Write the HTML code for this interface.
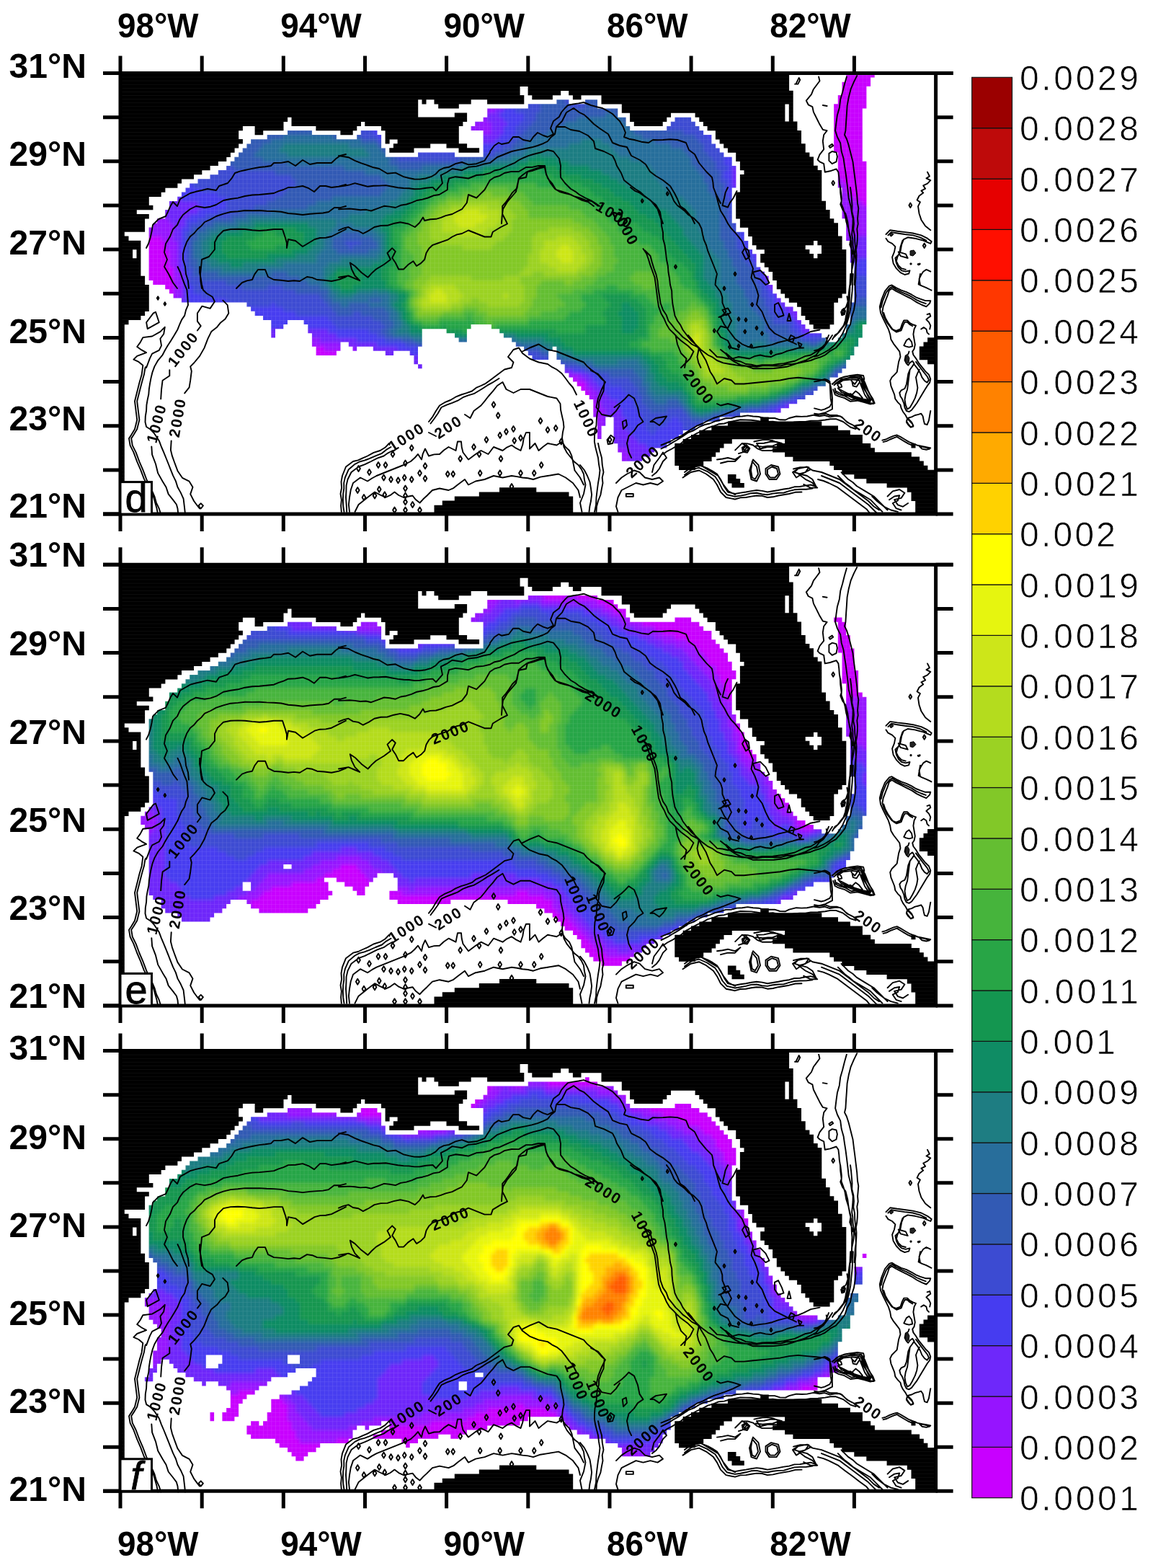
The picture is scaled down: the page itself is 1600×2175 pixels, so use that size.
<!DOCTYPE html>
<html lang="en"><head><meta charset="utf-8"><title>Figure d-f</title>
<style>
html,body{margin:0;padding:0;background:#fff}
svg{display:block}
text{font-family:"Liberation Sans",sans-serif;fill:#000}
.ax{font-weight:bold;font-size:48px}
.cb{font-size:48px;stroke:#fff;stroke-width:0.7px}
.pl{font-size:56px;stroke:#000;stroke-width:0.8px}
.cl{font-size:21px;font-weight:bold;letter-spacing:2.2px}
</style></head><body>
<svg width="1600" height="2175" viewBox="0 0 1600 2175">
<rect width="1600" height="2175" fill="#fff"/>
<defs>
<pattern id="gridpat" x="167.00" y="101.50" width="5.658" height="6.116" patternUnits="userSpaceOnUse"><path d="M0 0H6M0 0V7" stroke="#fff" stroke-width="1" stroke-opacity="0.16" fill="none"/></pattern>
<pattern id="linepat" x="0" y="101.50" width="10" height="5.097" patternUnits="userSpaceOnUse"><path d="M0 0H10" stroke="#fff" stroke-width="1" stroke-opacity="0.09" fill="none"/></pattern>
<filter id="bl" x="-5%" y="-5%" width="110%" height="110%"><feGaussianBlur stdDeviation="2.6"/></filter>
<path id="lm" d="M166.8 101.3H1095.1V120.0H166.8zM732.6 119.7H1095.1V126.1H732.6zM166.8 119.7H721.6V132.2H166.8zM789.2 125.8H1100.7V132.2H789.2zM732.6 125.8H778.2V132.2H732.6zM166.8 131.9H727.3V138.3H166.8zM794.9 131.9H806.5V138.3H794.9zM738.3 131.9H766.9V138.3H738.3zM834.5 131.9H1100.7V144.5H834.5zM585.5 138.0H591.5V144.5H585.5zM676.1 138.0H727.3V144.5H676.1zM602.5 138.0H653.7V144.5H602.5zM608.2 144.2H636.8V150.6H608.2zM862.8 144.2H1089.4V156.7H862.8zM166.8 138.0H580.2V162.8H166.8zM874.1 156.4H931.0V162.8H874.1zM630.8 156.4H648.1V162.8H630.8zM964.6 156.4H1089.4V162.8H964.6zM1094.8 144.2H1100.7V168.9H1094.8zM874.1 162.5H925.3V168.9H874.1zM166.8 162.5H399.1V168.9H166.8zM970.3 162.5H1089.4V168.9H970.3zM404.5 162.5H648.1V168.9H404.5zM879.8 168.6H919.7V175.0H879.8zM506.3 168.6H642.4V175.0H506.3zM404.5 168.6H501.0V175.0H404.5zM166.8 168.6H393.5V175.0H166.8zM975.9 168.6H1106.4V175.0H975.9zM166.8 174.7H336.9V181.2H166.8zM438.4 174.7H495.3V181.2H438.4zM529.0 174.7H636.8V181.2H529.0zM353.6 174.7H393.5V181.2H353.6zM981.6 174.7H1106.4V181.2H981.6zM353.6 180.9H365.2V187.3H353.6zM472.4 180.9H489.7V187.3H472.4zM992.9 180.9H1112.0V193.4H992.9zM166.8 180.9H331.2V193.4H166.8zM534.6 180.9H636.8V193.4H534.6zM166.8 193.1H336.9V199.5H166.8zM534.6 193.1H540.6V199.5H534.6zM551.6 193.1H636.8V199.5H551.6zM998.6 193.1H1112.0V199.5H998.6zM166.8 199.2H331.2V205.6H166.8zM619.5 199.2H648.1V205.6H619.5zM545.9 199.2H597.2V205.6H545.9zM1004.2 199.2H1117.7V205.6H1004.2zM540.3 205.3H574.5V211.7H540.3zM1009.9 205.3H1117.7V211.7H1009.9zM636.5 205.3H665.1V211.7H636.5zM166.8 205.3H325.6V211.7H166.8zM1021.2 211.4H1123.4V217.9H1021.2zM166.8 211.4H319.9V217.9H166.8zM166.8 217.6H314.3V224.0H166.8zM1021.2 217.6H1129.0V224.0H1021.2zM166.8 223.7H302.9V230.1H166.8zM1026.9 223.7H1129.0V230.1H1026.9zM1026.9 229.8H1134.7V236.2H1026.9zM166.8 229.8H291.6V236.2H166.8zM166.8 235.9H280.3V242.3H166.8zM1032.5 235.9H1140.3V242.3H1032.5zM166.8 242.0H269.0V248.4H166.8zM166.8 248.1H252.0V254.6H166.8zM166.8 254.2H246.4V260.7H166.8zM1026.9 242.0H1140.3V266.8H1026.9zM166.8 260.4H229.4V266.8H166.8zM166.8 266.5H223.7V272.9H166.8zM1021.2 266.5H1140.3V279.0H1021.2zM166.8 272.6H206.8V285.1H166.8zM1021.2 278.7H1146.0V291.2H1021.2zM166.8 284.8H212.4V291.2H166.8zM166.8 290.9H189.8V297.4H166.8zM1021.2 290.9H1151.6V303.5H1021.2zM166.8 297.1H206.8V303.5H166.8zM1026.9 303.2H1157.3V309.6H1026.9zM1026.9 309.3H1163.0V315.7H1026.9zM166.8 303.2H201.1V321.8H166.8zM1038.2 315.4H1163.0V327.9H1038.2zM166.8 321.5H172.8V327.9H166.8zM166.8 327.6H178.5V334.1H166.8zM1043.8 327.6H1168.6V334.1H1043.8zM1043.8 333.8H1129.0V340.2H1043.8zM1134.4 333.8H1168.6V340.2H1134.4zM166.8 333.8H195.4V346.3H166.8zM1049.5 339.9H1117.7V346.3H1049.5zM1140.0 339.9H1168.6V346.3H1140.0zM1060.8 346.0H1123.4V352.4H1060.8zM1140.0 346.0H1174.3V352.4H1140.0zM189.5 346.0H195.4V358.5H189.5zM166.8 346.0H184.1V358.5H166.8zM1134.4 352.1H1174.3V358.5H1134.4zM1055.2 352.1H1129.0V358.5H1055.2zM1055.2 358.2H1174.3V364.6H1055.2zM1060.8 364.3H1174.3V370.8H1060.8zM1066.5 370.5H1174.3V376.9H1066.5zM166.8 358.2H195.4V383.0H166.8zM1072.1 376.6H1174.3V389.1H1072.1zM166.8 382.7H201.1V395.2H166.8zM1077.8 388.8H1174.3V401.3H1077.8zM1083.4 401.0H1174.3V407.4H1083.4zM1089.1 407.2H1168.6V413.6H1089.1zM1094.8 413.3H1163.0V419.7H1094.8zM1106.1 419.4H1157.3V425.8H1106.1zM166.8 394.9H206.8V431.9H166.8zM1111.7 425.5H1157.3V438.0H1111.7zM166.8 431.6H201.1V438.0H166.8zM1117.4 437.7H1157.3V444.1H1117.4zM166.8 437.7H195.4V444.1H166.8zM1123.1 443.8H1157.3V450.3H1123.1zM166.8 443.8H178.5V450.3H166.8zM1128.7 450.0H1151.6V456.4H1128.7zM1287.1 468.3H1298.8V474.7H1287.1zM1281.5 474.4H1298.8V480.8H1281.5zM1275.8 480.5H1298.8V499.2H1275.8zM1287.1 498.9H1298.8V505.3H1287.1zM1055.2 578.4H1066.8V584.8H1055.2zM1009.9 584.5H1140.3V590.9H1009.9zM987.3 590.6H1163.0V597.0H987.3zM970.3 596.7H1179.9V603.2H970.3zM959.0 602.9H1196.9V609.3H959.0zM1089.1 609.0H1196.9V615.4H1089.1zM947.7 609.0H1015.8V615.4H947.7zM936.3 615.1H1004.5V621.5H936.3zM1077.8 615.1H1208.2V621.5H1077.8zM1264.5 615.1H1270.5V621.5H1264.5zM936.3 621.2H998.9V627.6H936.3zM1072.1 621.2H1213.9V627.6H1072.1zM1089.1 627.3H1264.8V633.7H1089.1zM936.3 627.3H993.2V633.7H936.3zM1100.4 633.4H1276.1V639.9H1100.4zM936.3 633.4H987.6V639.9H936.3zM936.3 639.6H976.2V646.0H936.3zM1151.3 639.6H1281.8V646.0H1151.3zM942.0 645.7H964.9V652.1H942.0zM1157.0 645.7H1287.4V652.1H1157.0zM1168.3 651.8H1298.8V658.2H1168.3zM1009.9 657.9H1021.5V664.3H1009.9zM1185.3 657.9H1298.8V664.3H1185.3zM166.8 450.0H172.8V670.4H166.8zM1202.3 664.0H1298.8V670.4H1202.3zM1009.9 664.0H1027.2V670.4H1009.9zM1015.5 670.1H1032.8V676.6H1015.5zM1230.6 670.1H1298.8V676.6H1230.6zM693.0 676.3H744.3V682.7H693.0zM1258.8 676.3H1298.8V682.7H1258.8zM664.8 682.4H789.5V688.8H664.8zM1264.5 682.4H1298.8V694.9H1264.5zM630.8 688.5H795.2V694.9H630.8zM613.8 694.6H795.2V701.0H613.8zM1270.2 694.6H1298.8V713.2H1270.2zM602.5 700.7H795.2V713.2H602.5z"/>

<g id="bc"><path d="M203.0 344.0l3 -6 2.7 -8.5 1.9 -8.7 1.4 -8.8 8 -8 10 -4 3.2 -6.7 3 -6.9 3.8 -6.4 6 6 4 -10 7 -4 7 -4 7.9 -2.2 8.1 -1.8 8 -2 12 2 4 -6 12 -4 5.5 -6.6 4.5 -7.4 6.9 -2.4 7.1 -1.6 10 -2.1 10 -1.9 8 -0.8 8 -1.2 4 -4 10.1 -0.1 9.9 -1.9 10 6 10 -8 10 6 10 -2 10 0 10 0 5.7 -5.4 6.3 -4.6 8 -2M246.0 400.0l-6 -8 -6 -12 -6 -10 4 -10 -4 -10 2 -12 6 -10 4 -10 6 -6 3.3 -7.4 4.7 -6.6 10 -8 8 -4 12 2 8.2 -1.3 7.8 -2.7 10 -6 10 -2 10.1 -1.4 9.9 -2.6 9.9 -1.5 10.1 -0.5 10 -1 10 -1 6.6 -2.8 6.9 -2.2 6.5 -3 10.1 -0.4 9.9 -1.6 8.4 3.2 7.6 4.8 8 -8 8.1 0 7.9 2 10.1 -1.3 9.9 -2.7M262.0 400.0l-1 -10.2 -3 -9.8 -1 -10.2 -3 -9.8 0 -8.1 2 -7.9 3.2 -8.4 4.8 -7.6 5.5 -4.5 4.5 -5.5 5.4 -4.6 4.6 -5.4 8.2 -3.7 7.8 -4.3 9.9 -3.4 10.1 -2.6 10 -0.8 10 -1.2 10 0.2 10 -0.2 10 0.7 10 0.3 10.1 0.8 9.9 2.2 10 0.8 10 1.2 10 -1.2 10 -0.8 8.1 -0.5 7.9 -1.5 8 -6 8.1 0.1 7.9 -2.1M280.0 400.0l-1.6 -9.9 -0.4 -10.1 1.1 -10 0.9 -10 10 -4 8 -10 0 -10 4 -8 8 -8 10 -2 10 -0.3 10 0.3 10 1.2 10 0.8 10 -0.7 10 -1.3 12 0 4 12 1.9 6.9 0.1 7.1 2 -12 10 2 10 8 10 -6 6.6 -4 7.4 -2 8.1 -0.3 7.9 -1.7 12 -6 8 -4M328.0 400.0l8 -8 6.8 -2.6 7.2 -1.4 3.2 -7.4 4.8 -6.6 10 0 4 10 8 4 10 0.8 10 1.2 8 -0.8 8 0.8 10 -6 7.3 1.1 6.7 2.9 10 0.8 10 1.2 10.3 -2.1 9.7 -3.9M470.0 216.0l13.5 2.2 9 4.6 8.9 3.6 9.1 3.1 7.7 2.8 8 1.7 11.3 6.8 11.3 -1.2 11.2 5.6 7.4 1.8 7.5 1.5 7.6 0.1 8 -1.1 7.7 -2.3 6.3 -3.7 5 -5.3 6.4 -3.2 7.1 -1.2 9 -4.6 9 -2.2 9 3.4 11.2 -1.2 11.3 -4.4 7.4 -11.3M470.0 258.8l7.6 -0.9 7.5 -1.5 7.4 -2.2 9 2.3 9 2.3 7.8 -1.1 7.9 -0.1 9.1 -0.5 8.9 1.7 7.9 1.4 7.9 0.8 7.5 0.3 7.5 1 7.5 -0.2 9 -1.4 9 -0.8 4.5 4.5 9 -10.2 -2.2 -11.2 8.1 -4 7.6 -5 13.5 2.2 9 -4.4 11.2 -1.2 9.3 -2.8 9.4 -1.9M470.0 290.2l7.5 -0.3 7.5 -0.4 7.5 0.7 7.5 1.1 7.6 -0.5 7.4 1.7 9 -3.3 9 -3.4 7.9 0.8 7.9 1.4 7.2 -3.2 7.8 -1.3 7.4 -2.3 7.3 -3.2 7.7 -1.4 7.6 -2.1 7.6 -3.2 8.1 -1.3 11.3 -6.8 0.2 -8 2 -7.7 9 -2.3 9 1 9 1.3 11.2 -4.5 9.5 -0.8 9.2 -2.1M470.0 319.5l6.6 -2.8 6.9 -1.7 6.3 3.9 7.5 1.3 6.5 3.8 8 -4.1 7.7 -4.9 8.9 -2 9.1 -0.2 8.9 -2.8 9.1 -1.8 11.3 2.3 9 4.5 6.4 -6 4.8 -7.5 2.2 4.5 7.8 -1.8 8 -0.4 6.8 -2 6.7 -2.6 9 -2.2 6.7 -3.5 6.8 -3.3 6.8 -9 2.2 -11.2 11.2 4.5 5.6 -5.7 5.7 -5.6 3.7 -6.6 3.7 -6.6M470.0 384.8l13.5 -2.3 7.9 3.3 7.8 3.4 -6.7 -6.7 -4.5 -9 -2.2 -9 6.7 4.5 9 9 9 6.8 5.4 -5.9 5.9 -5.4 11.2 -6.7 9 -6.8 -4.5 -9 6.7 -6.8 4.6 4.6 -4.6 9 4.6 6.7 4.4 9 6.8 0 6.2 -6.2 7.3 -5.1 4.5 6.8 6.1 -3.9 5.1 -5.1 2.3 -9 3.7 -6.3 5.3 -4.9 6.8 -2.3 6.7 -2.3 7.1 -2.5 6.4 -4.2 6.5 -3.1 7 -1.4 9 -4.5 11.2 4.5 11.3 4.5 9 0 2.3 -6.7 11.2 -6.8 9 -4.5 -3.3 -6.8 -3.5 -6.7 0 -11.2 4.8 -5.5 4.2 -5.8 4.9 -7.4 6.4 -6.1 2.3 -13.5 5.4 -4.7 5.8 -4.3 8.4 -1.8 8.1 -2.8 8.3 -2.1 1.7 8 2.7 7.7 6.3 7.4 5 8.3 8.4 2.5 8.4 2.7 7.9 3.8 8.3 2.3 8 3.1 8.5 1.4 9 6.8M810.0 142.0l10 4 8 2.2 8 1.8 7.1 3.9 6.9 4.1 4.9 5.1 5.1 4.9 4.6 7.7 3.4 8.3 -2 6 6.8 2.7 7.2 1.3 9.9 2.7 10.1 1.3 6 -4 7 0.3 7 -0.3 10 -0.7 10 0.7 12 4 4 10 8 6 6 12 5 6 5 6 8 8 1.4 6.9 0.6 7.1 4 10 6 12M810.0 142.0l-7.3 1.4 -7.4 1.1 -7.3 1.5 -4 4 -4.8 5.5 -3.2 6.5 -8 6 -4 10 4 8 -8 4 -6 -2 -8 -4 -6 6 -4 6 -10 -2 -6 -4 -8 0 -6 8 -10 2 -4 -2 -6 4 -6 8M680.0 226.0l10 -8 10 -4 10 -4 10 -2.1 10 -1.9 8.1 -1.7 7.9 -2.3 7.1 -2.7 6.9 -3.3 4.4 -5.6 5.6 -4.4 2 -10 8 -8 6 -12 10 -6 8 6 6.6 3.1 5.4 4.9 8 8 8 6 6 4 6 4 6 12 10 4 10 2 6 12 12 6 8 6 6 10 8 6 10 6 10 8 6 10 4 8 4 10 6 4 5.2 5.8 4.8 6.2 4 8M772.0 176.0l12 0 8 4 12 2 12 6 8 8 2 10 12 4 12 6 3.5 6.8 2.5 7.2 6 10 4 10 10 8 5.8 4.3 6.2 3.7 5.7 5.3 6.3 4.7 10 8 6 10 1.3 8.2 2.7 7.8M680.0 240.0l6.3 -3.5 7.2 -1.4 6.5 -3.1 6.8 -3 7 -2.8 6.2 -4.2 6.5 -3.1 6.6 -2.7 6.9 -2.2 10.1 -2.5 9.9 -3.5 8 2 8 10 2 10 -0.3 8 0.3 8 6 8 8 8 6.2 3.6 5.8 4.4 7.8 4.4 8.2 3.6 6.1 3.8 5.9 4.2M680.0 250.0l6 -4 7.4 -2.1 6.6 -3.9 9.9 -2.1 10.1 0.1 10 -6 8.7 -0.1 8.6 -2 8.7 0.1 2 12 6 12 6 8 6.6 4 7.4 2 8.4 2 7.6 4 7.7 3.8 8.3 2.2 8 6M696.0 310.0l0.7 -10 1.3 -10 6 -10 6 -7 6 -7 1.8 -9 2.2 -9 10 -2 2 -8 8 -2.8 7.9 -2.7 8.1 -2.5M219.2 713.5l-1.6 -8 -2.4 -8.5 -2.4 -8.4 -2.7 -6.8 -3.8 -6.1 -6.4 -11.3 -4.8 -12.8 -4.9 -11.3 -4.8 -12.9 -4.8 -9.6 -1.6 -9.7 3.2 -4.8 4.8 -8 3.2 -12.9 -1.6 -12.9 -1.6 -12.9 3.2 -12.8 3.2 -12.9 3.3 -11.3 1.6 -12.8 -5.9 -4.9 -7 -3.2 4.8 -4.8 12.9 -4.8 -6.7 -3.7 -6.2 -4.4 4.5 -6.1 3.6 -6.8 12.8 -1.6 11.3 -6.4 6.4 -6.4 -1.6 9.6 -4.8 6.5 1.6 9.6 -3.2 6.4 -9.7 4.9 -3.2 6.4 -4.8 12.9M223.2 713.5l-2.4 -8 -3.9 -8.2 -2.5 -8.7 -2.9 -6.6 -3.6 -6.3 -4.8 -11.3 -4.8 -12.8 -4.9 -11.3 -4.8 -12.9 -4.8 -9.6 -1.6 -9.7 3.2 -4.8 4.8 -8 3.2 -12.9 -1.6 -12.9 -1.6 -12.9 3.2 -12.8 3.3 -12.9 3.2 -11.3 1.6 -9.6 1.6 -1.6M257.0 713.5l-0.8 -8 -1.6 -13.7 -3.7 -8.2 -4.4 -7.9 -2.6 -8.3 -3.8 -7.8 -3.2 -8 -3.2 -8.1 -3.2 -8 -3.3 -8.1 -3.4 -7.9 -3 -8.1 -6.4 -9.7 -5 -5.7 -6.3 -4 -1.6 -6.4 0.3 -8.1 1.3 -8 0.3 -7.6 1.3 -7.5 1.6 -7.4 0.6 -7.6 1.2 -7.5 1.4 -7.4 2 -8.2 2.9 -7.9 4.9 -8.6 6.3 -7.5 3.4 -6.6 3.8 -6.5 4.1 -6.2 4.9 -8 4.7 -8.1 2.7 -6.7 2.9 -6.6 4.1 -6 1.8 -7.5 3 -7 -0.7 -10.5 -0.9 -10.4 -3.4 -8 -3 -8.1 -2.8 -8.2 -3.7 -7.9M277.1 370.0l-0.1 8.1 1.7 8 1.2 8.1 2 8 4.9 4.8 8 4.8 3.2 6.5 -6.4 9.6 -11.3 -3.2 -6.4 9.7 0 11.2 4.8 6.5 -4.8 6.4M235.3 513.2l0 8 -9.7 6.5 -1.6 12.9 -0.8 12.8M210.3 619.4l0.8 11.3 4.9 12.8 3.2 12.9 6.4 11.3 4.9 8 3.2 9.7 6.4 8 4.8 6.4 1.6 5.7 0.8 8M309.3 416.7l6.4 6.4 1.6 11.3 -4.8 8 -6.3 5 -5 6.3 -8 6.4 -4.8 9.7 -4.9 12.8 -6.4 11.3 -8 9.6 -4.9 4.9 1.6 6.4 -1.6 12.9 -1.6 9.6 -6.4 8.1M237.7 611.4l-0.8 12.8 2 8.2 2.8 7.9 4.8 12.9 6.5 9.6 9.6 4.9 4.9 8 -3.3 9.7 4.9 9.6 4.8 6.5 3.2 4M473.8 710.0l-0.7 -8.3 0.8 -8.4 -1.4 -8.3 1.6 -8.3 -0.6 -8.4 1.5 -8.3 5 -12.5 10 -7.5 7 -1.7 6.4 -3 6.6 -2.8 8.4 -4.7 9.1 -2.8 6.9 -4.2 5.6 -5.8M595.0 585.0l5.5 -7.2 4.5 -7.8 5 -7.5 7.2 -4.3 7.8 -3.2 7.2 -4.3 7.8 -3.2 7.6 -2.3 7.4 -2.7 5.7 -4.6 6.8 -2.9 6.6 -3.2 5.9 -4.3 10 -7.5 10 -7.5 10 -2.5 2.5 -7.5 -7.5 -7.5 7.5 -10 7.5 -2.5 5 7.5 10 7.5 12.5 5 12.5 2.5 6 4.2 6.5 3.3 7 5.5 5.5 7 4.7 6.5 5.3 6 5 10M830.0 615.0l2.2 10.1 2.8 9.9 0.8 10.1 1.7 9.9 -1.8 7.4 0.8 7.7 -1.5 7.4 -1.6 9 -3.4 8.5 -2 7.4 -0.5 7.6M477.5 710.0l-1.3 -8.3 -0.3 -8.3 0.3 -8.4 1.1 -7.5 -0.1 -7.6 1.6 -7.4 5 -11.3 8.7 -7.4 6.4 -3.3 6.9 -1.8 6.7 -2.5 8.7 -3.9 8.8 -3.5 5.9 -4.9 6.6 -3.9M597.5 587.5l5.1 -6.8 4.9 -6.9 5 -8.8 7.4 -3.4 7.6 -2.8 7.8 -3.1 7.2 -4.5 7.4 -2.9 7.6 -2.1 6.3 -3.7 6.2 -3.7 6.1 -4.1 6.4 -3.5 10 -6.2M481.2 710.0l-0.5 -10 -0.7 -10 0.4 -8.4 0.2 -8.4 1.9 -8.2 5 -10 10 -7.5 8.9 -3.4 8.6 -4.1 8.5 -4.3 9 -3.2 6 -4.2 6.5 -3.3M485.0 710.0l-1.1 -10 1.1 -10 1.7 -10.2 3.3 -9.8 10 -7.5 10 5 6.1 -4 6.4 -3.5 12.5 -5 12.5 -5 12.5 -5 10 -5 5.3 -4.7 4.7 -5.3 5 7.5 1.7 -7.8 3.3 -7.2 5 10 7.4 -2.1 7.6 -0.4 5.9 -5.5 6.6 -4.5 10 5 2.5 -12.5 5 0 0.7 7.6 1.8 7.4 7.5 10 10 -7.5 7.5 -5 10 5 7.5 -10 12.5 5 5.9 -4.4 6.6 -3.1 6 4.2 6.5 3.3 2.8 -8.2 1.4 -8.7 3.3 -8.1 5 0 -0.1 7.5 0.2 7.5 -0.1 7.5 7.5 -7.5 5 10 6.1 -5.2 6.4 -4.8 12.5 2.5 7.5 -5 4.1 6.9 5.9 5.6 3.3 7.2 1.7 7.8 2.5 12.5 7.5 10 5 10M595.0 600.0l10 5M645.0 575.0l7.5 5 5 -10 10 -7.5 5.1 -6.2 4.9 -6.3 6.5 -7.3 6 -7.7 7.5 -5 5 10 10 5 10 -5 12.5 0 12.5 5 12.5 5 12.5 2.5 5 7.5 0.6 8.8 1.9 8.7 1.7 7.4 0.8 7.6 -1.6 7.4 -0.9 7.6 2.5 12.5 4.3 8 5.7 7 4.4 5.6 5.6 4.4 4.3 5.9 3.2 6.6 0.9 7.6 1.6 7.4 -2.5 12.5 -5 12.5 2.5 12.5M492.5 710.0l5 -10 6.3 -5 6.2 -5 10 -7.5 7.4 3.9 7.6 3.6 6.6 -3.1 5.9 -4.4 5.8 4.5 6.7 3 12.5 -2.5 4.4 5.6 5.6 4.4 4.8 -5.2 5.2 -4.8 7.5 -7.5 10 -2.5 12.5 2.5 6.8 -2.9 5.7 -4.6 10 -7.5 5 7.5 10 -5 12.5 -2.5 12.5 -5 12.5 2.5 12.5 -2.5 7.5 1.1 7.5 1.4 7.6 0.8 7.4 1.7 9.8 -3.4 10.2 -1.6 7.5 -1.2 7.5 -1.3 10 5 10 7.5 7.5 10 2.5 10M725.0 487.5l10 -5 12.5 -5 6.2 3.8 6.3 3.7 12.5 2.5 12.5 5 12.5 5 12.5 5 4.6 5.4 5.4 4.6 10 7.5 4.6 5.4 5.4 4.6 -5 10 -5 12.5 -2.5 12.5 7.5 10 12.5 2.5 7.5 -7.5 5 -7.5M817.5 710.0l0.9 -7.6 1.6 -7.4 1.1 -8.8 -1.1 -8.7 -1.5 -9 -3.5 -8.5 -4.2 -8 -5.8 -7M820.0 513.8l10 5 8.8 10 -1.3 13.7 -3.5 7.3 -2.8 7.7 -0.3 7.6 -2.1 7.4 -0.9 8.7 -0.4 8.8 -2 7.4 -0.5 7.6 -0.1 7.6 1.3 7.4 1.9 7.5 1.9 7.5 1 8.8 1.5 8.7 -1 8.8 -1.5 8.7 -1.3 10 -1.2 10 -0.4 10.1 -2.1 9.9M852.5 565.0l10 -7.5 5.2 -4.8 4.8 -5.2 7.5 5 5 12.5 2.5 12.5 5 7.5 -7.5 5 -5 7.5 -7.5 7.5 -2.5 10 2.5 12.5 3.7 7.5M917.5 617.5l12.5 -5 7.2 -4.3 7.8 -3.2 7.4 -5.2 7.6 -4.8 7.2 -4.4 7.8 -3.1 7.4 -4 7.6 -3.5 7.5 -2.4 7.5 -2.6 12.5 -5 10 -5 -7.5 -2.5 -10 -2.5 -10 2.5 -5 -2.5M937.5 465.0l2.5 12.5 5 12.5 7.5 7.5 -2.5 12.5M955.0 465.0l5.2 6.1 4.8 6.4 5.5 7.2 4.5 7.8 4.4 7.2 3.1 7.8 2.9 7.9 4.6 7.1 5 10 10 -7.5 10 2.5 5 5 12.5 0 12.5 -1.3 12.5 -1.2 12.5 -1.2 12.5 -1.3 12.5 -2.5 12.5 -1.2 12.5 1.2 12.5 1.2 12.5 1.3 7.5 5M1007.5 490.0l6.1 5.2 6.4 4.8 7.8 1.5 7.2 3.5 7.6 0.8 7.4 1.7 7.4 -1.2 7.6 -0.1 7.5 -0.1 7.5 -1.1 7.6 -0.9 7.4 -1.6 7.8 -1.7 7.2 -3.3 7.2 -3.4 7.8 -1.6 6.2 -3.9 6.3 -3.6 7.5 -7.5 5 -12.5M1000.0 485.0l7 5.5 5.5 7 7.3 4.7 7.7 4 9 1.8 8.5 3.2 10 0 10 0 8.8 -0.2 8.7 -1 8.9 -1.2 8.6 -2.6 8.7 -3.2 8.8 -3 7.5 -3.8 7.5 -3.7 4.3 -5.7 5.7 -4.3 7.5 -10 5 -7.5M917.5 622.5l10 -5 6.1 -3.9 6.4 -3.6 7.6 -4.9 7.4 -5.1 7.9 -3 7.1 -4.5 7.3 -3.2 7.7 -1.8 7.3 -3.1 7.7 -1.9 7.3 -2.3 7.7 -0.2 7.4 -2.1 7.6 -0.4 7.5 -1.1 7.5 1.1 7.6 0.5 7.4 2 7.5 0 7.5 0 7.3 2.3 7.7 0.2 5 -2.5 10 -2.5 7.5 0.4 7.5 -0.4 7.5 -1.5 7.5 -1 10 -2.5 10 -5 -0.2 -7.5 0.2 -7.5 -0.8 -8.8 -1.7 -8.7M920.0 630.0l6 -4.2 6.5 -3.3 6.2 -3.8 6.3 -3.7 7 -5.8 8 -4.2 7.3 -4.1 7.7 -3.4 7.1 -4 7.9 -2.3 7.2 -2.9 7.8 -0.8 7.4 -2.3 7.6 -1.4 7.4 -1.5 7.6 0.2 7.5 0.2 7.5 1.1 7.5 1.1 7.5 0.1 7.6 -0.4 7.4 1.6 7.5 0.9 7.5 0.4 7.4 -2 7.6 -0.5 7.6 0 7.4 -1.2 10 -0.2 10 -1.1 7.4 -1.3 7.6 0 10 3.8 10 7.5 7.5 2.5M905.0 660.0l5.6 -4.4 4.4 -5.6 5 -10 5 -5 -5 -7.5 -5 7.5 -7.5 10 -2.5 10M950.0 655.0l10 -7.5 10 -2.5 12.5 5 6.4 3.5 6.1 4 5 7.5 5 10 5 7.5 10 2.5 7.5 -1.4 7.5 -1.1 7.5 -1.4 7.5 -1.1 7.6 0.9 7.4 1.6 7.5 -1.2 7.5 -1.3 7.5 -1.5 7.5 -1 7.3 -2.2 7.7 -0.3 7.5 -1.4 7.5 -1.1 7.5 2.5 -5 -10 -7.5 -5 -10 -2.5 -7.5 -2.5 5 -5 12.5 -2.5 7.5 5 12.5 2.5 12.5 5 12.5 5 10 7.5 10 7.5 10 7.5 10 7.5 7.5 7.5 7.5 5M950.0 658.8l10 -7.6 10 -2.4 11.2 5 11.3 7.4 5 7.6 5 10 6.3 7.4 11.2 2.6 7.5 -1.2 7.5 -1.4 7.4 -2 7.6 -0.4 7.4 1.7 7.6 0.7 7.4 -1.6 7.6 -0.8 7.7 -0.3 7.3 -2.3 7.4 -1.9 7.6 -0.5 8.8 -0.1 8.7 -1.2M947.5 662.5l11.3 -7.5 11.2 -2.5 10 5 10 7.5 5 7.5 5 10 7.5 7.5 12.5 2.5 7.3 -2.2 7.7 -0.3 7.5 -1.4 7.5 -1.1 7.6 0.4 7.4 2.1 7.6 -0.7 7.4 -1.8 7.5 -1.2 7.5 -1.3 8.6 -2.2 8.9 -0.3M1140.0 660.0l12.5 5 12.5 5 10 7.5 10 7.5 10 7.5 10 7.5 7.5 7.5 5 5M1135.0 665.0l7.7 2 7.3 3 12.5 6.2 10 7.6 10 7.4 10 7.6 10 7.4 5 6.3M855.0 670.0l7.5 -7.5 7.5 -5 10 -5 7.5 2.5 7.5 7.5 10 2.5 10 -2.5 5 5 -7.5 5 -10 -2.5 -10 2.5 -10 -2.5 -10 5 -10 5 -5 10 -2.5 12.5 2.5 7.5M995.0 637.5l7.5 -1 7.5 -1.5 10 2.5 7.5 -5 -7.5 7.5 -10 0 -10 2.5M1050.0 615.0l10.1 -0.3 9.9 -2.2 7.6 0.5 7.4 2 -5 5 -7.5 -0.1 -7.5 0.1 -10 2.5 -5 -7.5M1030.0 615.0l7.6 0.4 7.4 2.1 5.7 4.6 6.8 2.9 12.5 0 12.5 -2.5M875.0 260.0l5.7 4.6 6.8 2.9 7.4 5.1 7.6 4.9 5 6.2 5 6.3 2.5 7.5 2.5 7.5 0.7 8.8 1.8 8.7 0.2 8.9 2.3 8.6 1.4 10 1.1 10 1.8 8.7 0.7 8.8 1.5 8.7 1 8.8 2.2 8.6 0.3 8.9 0.9 8.8 1.6 8.7 1.5 7.8 3.5 7.2 4.3 5.9 3.2 6.6 7.5 10 4.6 5.4 5.4 4.6 7.5 7.5 10 7.5 6.6 3.2 5.9 4.3 8.5 3.4 9 1.6 8.7 1.4 8.8 1.1 10 0.4 10 0.9 8.3 -1.5 8.3 -0.1 8.4 0.3 8.4 0 8.2 -2.4 8.4 -0.1 8.4 -1.4 8.3 -1.8 8.3 -1.8 6.6 -2.6 6.9 -2 6.5 -2.9 7 -5.7 8 -4.3 6.5 -7.3 6 -7.7 2.9 -9.1 4.6 -8.4 1.9 -10.2 3.1 -9.8 1.6 -10 0.9 -10 -0.7 -8.3 -0.1 -8.4 0.8 -8.3 0 -8.3 0.3 -8.4 -0.3 -8.3 -1.5 -8.3 1.1 -8.4 -0.9 -8.3 -0.2 -8.3 -1.7 -8.3 0.7 -8.4 -0.7 -8.3 -2.1 -8.3 0.3 -8.4 -0.7 -8.3 -0.7 -8.4 -1.1 -8.3M892.5 345.0l4.7 7 2.8 8 2.3 7.6 2.7 7.4 3.5 9.7 1.5 10.3 1.2 10 1.3 10 1.5 10.3 3.5 9.7 4.2 7.3 3.3 7.7 4.2 6.9 5.8 5.6 4.8 5.2 5.2 4.8 10 7.5 7.5 7.5 -5 10 -7.5 7.5 -5 5M895.0 347.5l7.5 7.5 2.3 8.8 2.7 8.7 3.1 8.6 1.9 8.9 0.9 10 1.6 10 1.5 10.2 3.5 9.8 4.7 7 2.8 8 5.1 6.2 4.9 6.3 5.2 4.8 4.8 5.2 6.5 4.6 6 5.4 10 5 -2.5 12.5 1.7 7.8 3.3 7.2M925.0 260.0l4.3 5.9 3.2 6.6 2.9 6.7 4.6 5.8 10 7.5 5.6 5.8 6.9 4.2 7.5 7.5 3.5 7.2 1.5 7.8 1.8 7.7 3.2 7.3 2.1 7.6 2.9 7.4 5 12.5 5 12.5 -1.6 7.4 -0.9 7.6 7.5 10 2.3 7.3 0.2 7.7 5 12.5 -7.5 7.5 5 10 7.5 10 7.5 10 10 7.5 7.3 3.2 7.7 1.8 8.7 -1.5 8.8 -1 8.9 -1.9 8.6 -3.1 10 -2.4 10 -2.6 7.7 -2 7.3 -3 10 -5 12.5 -2.5M990.0 260.0l2.9 7.4 2.1 7.6 2.3 8.8 2.7 8.7 5.4 8.5 4.6 9 4.5 6.7 5.5 5.8 5.1 6.2 4.9 6.3 5 12.5 5 12.5 5 12.5 -2.5 12.5 5 10 2.8 7.4 2.2 7.6 -2.5 12.5 7.5 10 5 12.5 5 10 7.5 7.5 10 5 10 5 10 5M1157.5 467.5l7.5 -7.5 7.5 -10 1.2 -7.5 1.3 -7.5 1 -8.3 1.3 -8.3 0.2 -8.4 0.9 -8.4 1.2 -8.3 1.6 -8.3 0.9 -8.3 0 -8.4 0.4 -8.3 -0.7 -8.3 -0.3 -8.4 -0.3 -8.3 -2.2 -8.7 -1.5 -8.8 -3.2 -9.8 -1.8 -10.2 -2.2 -7.6 -2.8 -7.4 0.4 -7.5 -0.8 -7.5 -0.9 -7.5M1010.0 260.0l-3.4 7.2 -1.6 7.8 -2.5 10 7.5 2.5 3.1 -6.6 4.4 -5.9 5 -10M985.0 485.0l5.1 4.9 4.9 5.1 7.6 0.8 7.4 1.7 7.6 -0.4 7.4 -2.1 7.5 1.2 7.5 1.3 7.2 -3.4 7.8 -1.6 7.4 1.8 7.6 0.7 7.2 -3.4 7.8 -1.6 7.3 -3.1 7.7 -1.9 7.3 -2.2 7.7 -0.3M997.5 440.0l12.5 -5 5 10 -5 10 -10 -2.5 -5 7.5 5 7.5 10 5 5 10 10 2.5M1136.1 106.5l1.4 5.7 -4.3 5.8 -4.3 5.7 -2.9 7.2 -7.2 8.7 2.9 5.7 5.7 2.9 1.5 7.2 4.3 8.6 4.3 8.6 4.3 7.2 5.8 1.4 -4.4 5.8 -1.4 8.6 1.4 11.5 -5.7 7.2 -2.9 7.2 2.9 2.9 5.7 2.8 1.5 11.5 7.2 -1.4 8.6 -2.9 2.9 4.3 0.9 7.2 0.5 7.2 1.2 7.2 0.2 7.2 1.5 11.5 -1.5 4.3 2.9 7.2 4.3 5.7 2.9 11.5 1.4 11.5 2.9 11.5 -1.4 8.7 2.9 7.1 1.4 5.8M1174.9 106.5l-2.9 10.1 -2.9 11.5 -2.9 10 -1.4 11.5 -2.9 10.1 -1.4 10 -1.4 11.5 2.8 8.7 4.3 8.6 1.5 11.5 2.9 10.1 1.4 10 1.4 8.6 1.5 11.5 1.4 11.5 1.4 13 2.9 11.5 1.5 10 1.6 7.1 -0.2 7.3 -0.6 7.2 -0.8 7.2 1.2 7.1 0.2 7.3 0.8 7.1 0.6 7.2 -0.2 7.3 -1.2 7.1 -1.5 7.1 0.1 7.3 -1.5 12.5M1189.2 105.1l-4.3 8.6 -4.3 10 -2.9 11.5 -2.1 11.5 -0.7 11.5 -0.8 11.5 -0.7 11.5 -1.4 5.8 2.9 5.7 2.8 8.7 2.9 11.5 2.9 11.5 1.4 11.5 1.5 11.5 1.4 11.5 1.4 11.5 0.8 11.5 1.3 7.1 -0.6 7.2 -0.6 7.2 0.6 7.2 -1.4 7.1 0.7 7.3 -0.2 7.2 -0.6 7.2 -1.3 7.1 0.6 7.2 -0.2 7.2 -0.5 7.2 -1 7.2 -0.4 7.2 -0.8 12.5M1287.0 238.7l2.9 5.8 -4.4 2.9 5.8 2.8 -4.3 4.4 -5.8 2.8 2.9 4.3 -5.7 2.9 2.8 2.9 -5.7 4.3 -2.9 5.7 4.3 2.9 -2.9 5.8 1.5 10 2.9 8.7 5.7 8.6 7.2 5.7M1232.4 326.4l4.3 -4.3 8.6 1.4 10.1 1.5 11.5 1.4 10 2.9 8.6 4.3M1252.5 333.6l-2.9 8.6 -1.4 8.7 -2.9 5.7 -1.4 5.8 2.8 5.7 4.4 4.3 5.7 1.5M1291.3 376.7l-5.8 -2.8 -4.3 2.8 -2.8 4.3 -2.9 5.8 1.4 8.2M1141.8 146.0l5.8 1M1130.0 529.4l7.2 -1.2 7.1 -2.4 3.6 1.2 3.6 2.4 0.6 11.9 0.6 12 1.2 6 -2.4 4.8 -7.2 3.5 -4.7 1.2 -9.6 -2.4M1130.0 576.0l7.2 1.2 7.1 -1.2 7.2 2.4 7.2 -1.2 7.2 0 4.7 3.6 4.8 4.8 4.8 2.4 4.8 2.4 3.6 3.5M1224.4 610.7l4.8 -1.2 4.8 -2.4 6 -2.4 4.7 -1.2 4.8 2.4 6 3.6 6 3.6 5.9 2.3 6 2.4 6 1.2 6 1.2 5.9 1.2M1130.0 573.6l7.2 1.2 8.3 -1.2 6 2.4 9.6 0 7.1 2.4 4.8 4.8 4.8 3.6 4.8 2.4M1225.6 613.1l4.8 -1.2 4.8 -2.4 6 -2.4 3.5 -1.2 3.6 2.4 6 3.6 6 3.5 5.9 2.4M1220.8 425.4l1.2 8.4 3.6 8.3 3.6 7.2 3.6 7.2 2.4 7.2 1.2 7.1 3.6 6 4.7 6 3.6 4.8 1.2 7.1 -2.4 7.2 -1.2 7.2 -1.2 7.1 -3.5 3.6 -3.6 3.6 -2.4 4.8 1.2 7.2 2.4 5.9 2.4 6 1.1 6 3.6 4.8 3.6 3.6 1.2 4.7 2.4 4.8 3.6 4.8 2.4 4.8 -1.2 4.8 2.4 3.6 3.6 3.5 3.5 -2.3 -2.3 -4.8 -3.6 -3.6 -1.2 -2.4 4.8 -1.2 4.7 -2.4 4.8 -1.2 3.6 -1.2 2.4 3.6 1.2 6 1.2 4.8 3.6 1.2 2.4 -6 1.2 -7.2 1.1 -6M1220.8 425.4l2.4 -9.5 4.8 -12 6 -7.2 3.6 -1.2 5.9 3.6 7.2 3.6 7.2 2.4 7.2 3.6 5.9 3.6 6 2.4 7.2 2.4 7.1 0 -1.1 3.5 -4.8 4.8 -6 -2.4 -7.2 -3.6 -7.1 -4.7 -7.2 -3.6 -7.2 -3.6 -7.2 -3.6 -5.9 -3.6 -3.6 2.4 -2.4 7.2 -2.4 6 -3.6 9.5 -1.2 7.2 2.4 7.2 3.6 7.1 3.6 4.8 3.6 4.8 5.9 2.4 6 -2.4 2.4 -7.2 2.4 -4.8 4.8 0 3.6 3.6 4.7 2.4 3.6 1.2 -2.4 4.8 -1.2 7.2 1.2 7.1 1.2 7.2 -1.2 6 -2.4 3.6 1.2 4.7 3.6 4.8 3.6 6 4.8 6 4.8 6 4.8 4.7 2.3 6 -1.1 4.8 -3.6 4.8 -3.6 5.9 -3.6 6 -3.6 6 -3.6 6 -3.6 4.8 -3.5 4.7 -3.6 2.4 -3.6 -1.2 -2.4 -4.7 -1.2 -6 -2.4 -6 -2.4 -3.6 -1.2 -4.8 2.4 -3.6 4.8 -2.3 2.4 -6 1.2 -7.2 1.2 -7.2 2.4 -5.9 3.5 -4.8 2.4 -3.6 -2.4 -3.6 -3.5 2.4 -2.4 3.6 -2.4 -2.4 -2.4 -4.8 1.2 -6 3.6 -2.3 1.2 -3.6M1222.6 426.6l2.4 -9.5 4.8 -11.4 5.4 -6.6 3 -1.2 5.3 3.6 7.2 3.6 7.2 3 7.2 3.6 6.5 4.2 6.6 2.9 6.6 2.4M1226.2 433.8l2.4 7.2 3.6 6.5 3.6 5.4 3.6 4.8 4.7 3 6.6 -2.4 2.4 -6.6 2.4 -4.8 3.6 0 3 3 4.1 2.4M1262.7 512.7l-1.2 8.3 -1.2 9.6 -1.2 9.6 -2.4 7.1 -1.2 7.2 1.2 7.2 2.4 5.9 3.6 -2.3 3.5 -6 3.6 -7.2 2.4 -7.2 1.2 -7.1 -1.2 -7.2 -1.2 -7.2 2.4 -6 2.4 -4.7M1277.0 380.0l-1.2 7.2 -1.2 7.1 4.8 2.4 6 2.4 4.8 2.4 2.3 1.2M1286.6 436.2l3.6 -1.2 1.1 3.6 -3.5 2.4 -2.4 2.3 3.6 3.6 2.3 4.8 -1.1 4.8M1278.2 456.5l3.6 -2.4 3.6 2.4 1.2 4.8 2.4 2.4M1175.4 411.1l1.2 7.1 -2.4 7.2 -3.6 4.8 -3.5 2.4 1.1 4.8 3.6 -1.2 1.2 -4.8M1174.2 437.4l-1.2 7.1 -2.4 7.2 -4.7 6 -3.6 4.8 -3.6 2.4 -3.6 5.9M1183.8 380.0l-0.6 12 -0.6 11.9 -1.2 12 -1.2 11.9 -2.4 12 -3.6 11.9 -4.8 10.8 -5.9 9.5 -6 7.2 -7.2 6 -8.3 4.8 -7.2 3.5 -4.8 1.2M1180.2 380.0l-0.6 12 -0.4 11.9 -0.4 12 -1 11.9 -1.8 12 -3 9.5M1146.7 468.4l1.2 4.8 -2.4 4.8 -4.7 3.6 -6 3.6 -4.8 1.2M1181.4 528.2l4.8 4.8 4.8 -7.2 2.3 3.6 -4.7 7.2 -4.8 -1.2 -1.2 -4.8M1182.6 547.3l4.8 -4.8 4.7 3.6 4.8 6M1171.8 547.3l8.4 -1.2 3.6 2.4M1231.6 688.5l7.2 -7.1 9.4 -2.4 7.2 4.8 -4.8 7.1 -9.5 2.3 4.8 7.2 7.1 2.4 7.1 -4.8M1234.0 693.2l7.1 -4.7 7.1 -1.2 -2.3 7.1 -7.1 3.6 4.7 7.1 7.1 2.4M1210.2 688.5l7.2 7.1 9.5 7.2 9.5 4.7 9.5 2.4M1167.5 655.2l9.5 9.6 6.4 4.2 5.5 5.2 11.9 7.2 11.8 7.1 9.5 9.5 9.5 9.5M1162.8 660.0l9.4 9.5 6.2 4.5 5.7 5 11.9 7.1 11.9 7.1 9.5 9.6 7.1 7.1M1101.0 650.5l9.5 -2.4 11.9 0 -4.8 7.1 -9.5 2.4 9.5 7.2 9.5 4.7 7.1 7.1 -9.4 0 -9.6 -4.7M960.9 648.1l11.9 -2.3 11.8 7.1 11.9 7.1 7.1 11.9 7.2 9.5 9.4 4.7M1020.2 624.4l9.6 -9.5 7.1 4.7 -4.8 7.2 -7.1 2.3M1046.4 612.5l11.8 -2.4 7.2 -0.2 7.1 1.4 9.5 3.6 -9.5 3.5 -7.1 0.4 -7.2 0.8 -9.4 -1.2M203.1 447.2l9.7 -12.8 3.2 -1.6 4.8 14.4 -16.1 8.9zM275.5 701.5l3.2 -3.3 3.2 3.3 -3.2 4zM217.8 413.4l1.4 -2.2 1.3 2.2 -1.3 2.3zM227.5 421.5l1.3 -2.3 1.4 2.3 -1.4 2.2zM682.6 561.2l2.4 -4 2.4 4 -2.4 4zM688.9 576.2l2.3 -4 2.4 4 -2.4 4zM747.6 583.8l2.4 -4 2.4 4 -2.4 4zM757.6 596.2l2.4 -4 2.4 4 -2.4 4zM768.9 593.8l2.3 -4 2.4 4 -2.4 4zM710.1 595.0l2.4 -4 2.4 4 -2.4 4zM700.1 598.8l2.4 -4 2.4 4 -2.4 4zM691.4 603.8l2.4 -4 2.3 4 -2.3 4zM672.6 610.0l2.4 -4 2.4 4 -2.4 4zM655.1 620.0l2.4 -4 2.4 4 -2.4 4zM720.1 607.5l2.4 -4 2.4 4 -2.4 4zM711.4 611.2l2.4 -4 2.3 4 -2.3 4zM776.4 612.5l2.4 -4 2.3 4 -2.3 4zM662.6 630.0l2.4 -4 2.4 4 -2.4 4zM636.4 636.2l2.4 -4 2.3 4 -2.3 4zM692.6 636.2l2.4 -4 2.4 4 -2.4 4zM748.9 645.0l2.3 -4 2.4 4 -2.4 4zM720.1 656.2l2.4 -4 2.4 4 -2.4 4zM738.9 656.2l2.3 -4 2.4 4 -2.4 4zM691.4 656.2l2.4 -4 2.3 4 -2.3 4zM663.9 656.2l2.3 -4 2.4 4 -2.4 4zM618.9 657.5l2.3 -4 2.4 4 -2.4 4zM626.4 657.5l2.4 -4 2.3 4 -2.3 4zM587.6 646.2l2.4 -4 2.4 4 -2.4 4zM580.1 656.2l2.4 -4 2.4 4 -2.4 4zM587.6 663.8l2.4 -4 2.4 4 -2.4 4zM560.1 642.5l2.4 -4 2.4 4 -2.4 4zM542.6 630.0l2.4 -4 2.4 4 -2.4 4zM568.9 621.2l2.3 -4 2.4 4 -2.4 4zM522.6 645.0l2.4 -4 2.4 4 -2.4 4zM532.6 645.0l2.4 -4 2.4 4 -2.4 4zM510.1 655.0l2.4 -4 2.4 4 -2.4 4zM495.1 650.0l2.4 -4 2.4 4 -2.4 4zM530.1 662.5l2.4 -4 2.4 4 -2.4 4zM540.1 665.0l2.4 -4 2.4 4 -2.4 4zM550.1 666.2l2.4 -4 2.4 4 -2.4 4zM558.9 662.5l2.3 -4 2.4 4 -2.4 4zM568.9 665.0l2.3 -4 2.4 4 -2.4 4zM560.1 677.5l2.4 -4 2.4 4 -2.4 4zM517.6 687.5l2.4 -4 2.4 4 -2.4 4zM523.9 678.8l2.3 -4 2.4 4 -2.4 4zM531.4 686.2l2.4 -4 2.3 4 -2.3 4zM502.6 690.0l2.4 -4 2.4 4 -2.4 4zM493.9 680.0l2.3 -4 2.4 4 -2.4 4zM560.1 687.5l2.4 -4 2.4 4 -2.4 4zM560.1 696.2l2.4 -4 2.4 4 -2.4 4zM570.1 700.0l2.4 -4 2.4 4 -2.4 4zM580.1 707.5l2.4 -4 2.4 4 -2.4 4zM560.1 707.5l2.4 -4 2.4 4 -2.4 4zM545.1 707.5l2.4 -4 2.4 4 -2.4 4zM707.6 675.0l2.4 -4 2.4 4 -2.4 4zM843.9 610.0l2.3 -4 2.4 4 -2.4 4zM842.5 610.0l5 -6.2 5 3.7 -2.5 7.5 -6.2 1.2zM863.8 585.0l5 -2.5 1.2 7.5 -5 5zM902.5 585.0l7.5 -5 15 -2.5 -5 7.5 -5 5 -7.5 -5zM1155.0 532.5l10 -7.5 7.3 -2.6 7.7 -1.2 7.5 0.8 7.5 0.5 5 7.5 5 12.5 5 10 2.5 7.5 -12.5 -2.5 -7.6 -2.1 -7.4 -2.9 -7.3 -3.1 -7.7 -1.9 -10 -5M1162.5 532.5l7.5 -5 12.5 -1.3 10 1.3 2.5 7.5 5 12.5 5 7.5 -7.6 -1.5 -7.4 -2.3 -7.8 -2.4 -7.2 -3.8 -10 -5M1158.8 532.5l8.7 -6.3 13.7 -2.4 12.6 1.2 3.7 7.5 5 12.5 5 11.2 -12.5 -1.7 -7.5 -2.9 -7.5 -2.8 -12.5 -5 -4.6 -5.5M1045.0 637.5l7.5 7.5 2.5 12.5 -5 10 -7.5 -2.5 -2.5 -12.5zM1043.8 640.0l6.2 7.5 2 10 -4 7 -4.2 -2 -1.8 -10zM1062.5 650.0l7.5 -5 10 2.5 2.5 10 -5 7.5 -10 0 -5 -7.5zM1065.0 651.2l6.2 -3.7 6.8 2.5 2 7.5 -4.5 5 -6.7 0 -3.8 -5zM1031.2 622.5l3.8 -3.7 3.8 3.7 -3.8 3.7zM868.8 685.0l10 0 0 3.8 -10 0zM1100.0 655.0l7.5 -5 12.5 -2.5 5 3.7 -12.5 6.3 -7.5 5zM1030.0 350.0l3.8 -6.2 5 3.7 1.2 8.7 -5 3.8zM1045.0 377.5l10 -2.5 7.5 7.5 5 10 -5 2.5 -7.5 -7.5 -7.5 -2.5zM1075.0 422.5l5 -2.5 5 10 2.5 7.5 -7.5 2.5 -5 -7.5zM1095.0 435.0l2.5 10 -5 0zM1002.5 430.0l7.5 -2.5 3.8 6.3 -6.3 3.7zM1097.5 465.0l5 2.5 -2.5 7.5 -6.2 -2.5zM1107.5 475.0l5 2.5 -2.5 5zM889.8 278.8l1.4 -2.6 1.6 2.6 -1.6 2.4zM924.8 268.8l1.4 -2.6 1.6 2.6 -1.6 2.4zM936.0 370.0l1.5 -2.5 1.5 2.5 -1.5 2.5zM989.8 458.8l1.4 -2.6 1.6 2.6 -1.6 2.4zM1018.5 380.0l1.5 -2.5 1.5 2.5 -1.5 2.5zM1003.5 400.0l1.5 -2.5 1.5 2.5 -1.5 2.5zM1042.2 422.5l1.6 -2.5 1.4 2.5 -1.4 2.5zM1032.2 460.0l1.6 -2.5 1.4 2.5 -1.4 2.5zM1068.5 488.8l1.5 -2.6 1.5 2.6 -1.5 2.4zM1023.5 442.5l1.5 -2.5 1.5 2.5 -1.5 2.5zM1033.5 443.8l1.5 -2.6 1.5 2.6 -1.5 2.4zM1048.5 455.0l1.5 -2.5 1.5 2.5 -1.5 2.5zM1056.0 462.5l1.5 -2.5 1.5 2.5 -1.5 2.5zM1041.0 480.0l1.5 -2.5 1.5 2.5 -1.5 2.5zM1023.5 480.0l1.5 -2.5 1.5 2.5 -1.5 2.5zM1011.0 481.2l1.5 -2.4 1.5 2.4 -1.5 2.6zM1168.5 432.5l1.5 -2.5 1.5 2.5 -1.5 2.5zM1104.4 116.6l4.3 -8.7 1.5 2.9 -2.9 5.8 -4.3 0zM1150.4 212.9l4.3 -2.9 5.8 1.4 1.4 5.8 -1.4 7.2 -5.8 2.8 -4.3 -4.3zM1150.4 202.8l4.3 -2.9 1.5 2.2 -4.3 2.9zM1229.5 325.0l5.7 -5.8 10.1 1.5 11.5 1.4 10.1 1.4 11.5 2.9 8.6 4.3 5.7 4.3 -1.4 2.9 -10.1 -4.3 -11.5 -2.9 -10 -1.4 -5.8 2.9 -2.8 7.2 -1.5 8.6 -2.9 5.7 -4.3 4.3 1.5 7.2 2.8 5.8 4.4 4.3 5.7 1.4 5.7 -1.4 -1.4 4.3 -5.7 1.4 -5.8 -2.8 -5.7 -5.8 -4.3 -7.2 -1.5 -8.6 2.9 -7.2 1.4 -7.2 -4.3 -4.3 -5.7 -2.9 -2.9 -4.3M1246.7 349.4l10.1 2.9 2.9 5.7 -10.1 -2.8zM1154.3 253.8l1.9 -3.1 1.9 3.1 -1.9 3.2zM1261.4 284.7l1.9 -3.1 1.9 3.1 -1.9 3.2zM1280.8 340.8l1.9 -3.2 1.9 3.2 -1.9 3.2zM1155.1 533.0l6 -6 8.3 -3.6 10.8 -2.4 9.6 -1.2 8.3 1.2 1.2 4.8 -1.2 4.8 3.6 7.2 4.8 8.3 4.8 7.2 2.4 6 -6 1.2 -8.4 -2.4 -9.5 -2.4 -9.6 1.2 -8.4 -4.8 -8.3 -2.4 -4.8 -2.4 -2.4 -7.1M1157.5 534.2l6 -4.8 7.1 -3.6 9.6 -2.4 9.6 -1.2 5.9 1.2 1.2 4.8 -1.2 4.8 3.6 7.2 4.8 7.1 4.8 7.2 -2.4 3.6 -7.2 -2.4 -9.5 -2.4 -8.4 1.2 -8.4 -4.8 -8.3 -2.4 -4.8 -2.4 -1.2 -5.9M1163.5 530.6l3.6 2.4 1.1 3.6 -3.5 1.2 -2.4 -3.6zM1259.1 580.8l2.4 2.4 4.7 4.8 1.2 3.5 -3.5 1.2 -3.6 -4.7 -2.4 -3.6zM1254.3 479.2l3.6 -7.2 3.6 -2.4 3.6 4.8 1.1 6 -4.7 1.2 -4.8 -1.2zM1268.6 505.5l4.8 6 3.6 5.9 2.4 6 3.6 4.8 3.6 2.4 2.4 -3.6 -2.4 -4.8 -4.8 -6 -3.6 -4.7 -3.6 -4.8 -3.6 -4.8M1275.8 619.0l7.2 1.2 7.2 2.4 -4.8 1.2 -6 -1.2zM1168.2 430.2l3 -2.4 1.8 3.6 -1.8 4.8 -2.7 -1.2zM1029.8 620.8l5.9 -3.6 4.7 4.8 -3.5 5.9 -6 -1.1z" fill="none" stroke="#000" stroke-width="1.9" stroke-linejoin="round" stroke-linecap="round"/><path d="M1235 324l2 -1 3 2 -3 3 -2 -1zM1263 348l5 -1 3 4 -4 4 -4 -1zM1263 365l2 0 0 2 -2 0zM1273 366l4 -1 0 2 -3 1zM1257 495l3 -2 2 4 -1 6 -3 2 -2 -4z" fill="#222" stroke="#000" stroke-width="1"/></g>

</defs>
<g transform="translate(0,0.0)">
<clipPath id="cpd"><path d="M1174.1 101.5H1213.7V107.6H1174.1zM1174.1 107.6H1208.1V113.7H1174.1zM1168.5 113.7H1208.1V119.8H1168.5zM1168.5 119.8H1202.4V132.1H1168.5zM1162.8 132.1H1202.4V144.3H1162.8zM812.0 138.2H829.0V144.3H812.0zM772.4 138.2H789.4V144.3H772.4zM732.8 144.3H829.0V150.4H732.8zM1157.1 144.3H1202.4V150.4H1157.1zM676.2 150.4H857.3V162.7H676.2zM670.6 162.7H868.6V168.8H670.6zM936.5 162.7H959.1V168.8H936.5zM930.8 168.8H964.8V174.9H930.8zM659.2 168.8H868.6V174.9H659.2zM925.2 174.9H970.4V181.0H925.2zM653.6 174.9H874.2V181.0H653.6zM670.6 181.0H976.1V187.1H670.6zM399.0 181.0H432.9V187.1H399.0zM500.8 181.0H523.5V187.1H500.8zM370.7 187.1H466.9V193.2H370.7zM495.2 187.1H529.1V193.2H495.2zM670.6 187.1H987.4V199.4H670.6zM348.1 193.2H529.1V199.4H348.1zM670.6 199.4H993.1V205.5H670.6zM342.4 199.4H529.1V205.5H342.4zM1157.1 150.4H1196.8V211.6H1157.1zM336.7 205.5H534.8V211.6H336.7zM670.6 205.5H998.7V211.6H670.6zM331.1 211.6H534.8V217.7H331.1zM580.0 211.6H631.0V217.7H580.0zM670.6 211.6H1004.4V217.7H670.6zM1162.8 211.6H1196.8V223.8H1162.8zM325.4 217.7H1015.7V223.8H325.4zM319.8 223.8H1015.7V229.9H319.8zM314.1 229.9H1021.4V236.1H314.1zM302.8 236.1H1021.4V242.2H302.8zM291.5 242.2H1021.4V248.3H291.5zM274.5 248.3H1021.4V254.4H274.5zM1162.8 223.8H1202.4V260.5H1162.8zM263.2 254.4H1021.4V260.5H263.2zM257.5 260.5H1015.7V266.6H257.5zM251.9 266.6H1015.7V272.7H251.9zM246.2 272.7H1015.7V278.9H246.2zM234.9 278.9H1015.7V291.1H234.9zM1168.5 260.5H1202.4V303.3H1168.5zM229.2 291.1H1015.7V303.3H229.2zM217.9 303.3H1015.7V309.4H217.9zM212.3 309.4H1021.4V315.6H212.3zM206.6 315.6H1021.4V321.7H206.6zM1174.1 303.3H1202.4V333.9H1174.1zM206.6 321.7H1032.7V333.9H206.6zM206.6 333.9H1038.3V346.1H206.6zM206.6 346.1H1044.0V352.3H206.6zM1179.8 333.9H1202.4V364.5H1179.8zM206.6 352.3H1049.6V370.6H206.6zM206.6 370.6H1055.3V376.7H206.6zM206.6 376.7H1061.0V382.8H206.6zM206.6 382.8H1066.6V389.0H206.6zM212.3 389.0H1066.6V395.1H212.3zM229.2 395.1H1072.3V401.2H229.2zM234.9 401.2H1072.3V407.3H234.9zM240.6 407.3H1077.9V413.4H240.6zM1185.4 364.5H1202.4V419.5H1185.4zM251.9 413.4H1083.6V419.5H251.9zM342.4 419.5H1089.3V425.6H342.4zM348.1 425.6H1100.6V431.8H348.1zM353.7 431.8H1106.2V437.9H353.7zM365.0 437.9H1106.2V444.0H365.0zM1179.8 419.5H1202.4V450.1H1179.8zM421.6 444.0H1111.9V450.1H421.6zM376.3 444.0H399.0V450.1H376.3zM427.3 450.1H653.6V456.2H427.3zM681.9 450.1H1117.5V456.2H681.9zM376.3 450.1H393.3V456.2H376.3zM1174.1 450.1H1196.8V462.3H1174.1zM693.2 456.2H1123.2V462.3H693.2zM619.6 456.2H647.9V462.3H619.6zM427.3 456.2H585.7V462.3H427.3zM376.3 456.2H382.0V468.5H376.3zM698.9 462.3H1140.2V468.5H698.9zM631.0 462.3H647.9V468.5H631.0zM1168.5 462.3H1196.8V468.5H1168.5zM432.9 462.3H585.7V474.6H432.9zM1162.8 468.5H1191.1V474.6H1162.8zM636.6 468.5H647.9V474.6H636.6zM710.2 468.5H1145.8V474.6H710.2zM483.8 474.6H585.7V480.7H483.8zM432.9 474.6H472.5V480.7H432.9zM715.8 474.6H1191.1V480.7H715.8zM489.5 480.7H495.2V486.8H489.5zM727.1 480.7H766.7V486.8H727.1zM517.8 480.7H580.0V486.8H517.8zM438.6 480.7H472.5V486.8H438.6zM772.4 480.7H1185.4V492.9H772.4zM568.7 486.8H580.0V492.9H568.7zM732.8 486.8H761.1V492.9H732.8zM534.8 486.8H546.1V492.9H534.8zM438.6 486.8H466.9V492.9H438.6zM772.4 492.9H1179.8V499.0H772.4zM738.5 492.9H761.1V499.0H738.5zM574.4 492.9H580.0V505.2H574.4zM778.1 499.0H1174.1V505.2H778.1zM783.7 505.2H1174.1V511.3H783.7zM580.0 505.2H585.7V511.3H580.0zM783.7 511.3H1168.5V517.4H783.7zM789.4 517.4H1162.8V523.5H789.4zM795.0 523.5H1151.5V529.6H795.0zM800.7 529.6H1145.8V535.7H800.7zM806.4 535.7H1134.5V541.9H806.4zM812.0 541.9H1128.9V548.0H812.0zM817.7 548.0H1117.5V554.1H817.7zM823.3 554.1H1106.2V560.2H823.3zM823.3 560.2H1094.9V566.3H823.3zM823.3 566.3H1083.6V572.4H823.3zM823.3 572.4H1027.0V578.5H823.3zM851.6 578.5H998.7V584.7H851.6zM829.0 578.5H840.3V590.8H829.0zM851.6 584.7H976.1V590.8H851.6zM851.6 590.8H964.8V596.9H851.6zM851.6 596.9H947.8V603.0H851.6zM829.0 590.8H834.6V609.1H829.0zM851.6 603.0H942.1V609.1H851.6zM851.6 609.1H930.8V615.2H851.6zM857.3 615.2H925.2V621.4H857.3zM857.3 621.4H908.2V627.5H857.3zM862.9 627.5H902.5V633.6H862.9zM862.9 633.6H891.2V639.7H862.9z"/></clipPath>
<g clip-path="url(#cpd)"><g filter="url(#bl)"><path fill="#c800ff" d="M1156.8 101.2H1225.3V120.1H1156.8zM1151.2 119.5H1219.7V132.4H1151.2zM1145.5 131.8H1214.0V163.0H1145.5zM1145.5 162.4H1208.4V211.9H1145.5zM1145.5 211.3H1214.0V224.1H1145.5zM1151.2 223.5H1214.0V236.4H1151.2zM1156.8 235.8H1214.0V242.5H1156.8zM1162.5 241.9H1214.0V248.6H1162.5zM1168.2 248.0H1214.0V254.7H1168.2zM1173.8 254.1H1214.0V266.9H1173.8zM1179.5 266.3H1214.0V273.0H1179.5zM1185.1 272.4H1214.0V279.2H1185.1zM1196.5 278.6H1214.0V285.3H1196.5zM195.0 327.5H223.9V334.2H195.0zM195.0 333.6H229.5V346.4H195.0zM195.0 345.8H235.2V370.9H195.0zM195.0 370.3H240.9V401.5H195.0zM200.6 400.9H240.9V407.6H200.6zM217.6 407.0H240.9V413.7H217.6zM223.3 413.1H235.2V419.8H223.3zM228.9 419.2H235.2V425.9H228.9zM421.3 480.4H450.2V487.1H421.3zM421.3 486.5H472.8V493.2H421.3zM427.0 492.6H484.1V499.3H427.0zM427.0 498.7H478.5V505.5H427.0zM794.7 523.2H801.0V529.9H794.7zM789.1 529.3H812.3V542.2H789.1zM794.7 541.6H818.0V554.4H794.7zM800.4 553.8H823.6V560.5H800.4zM806.1 559.9H823.6V566.6H806.1zM811.7 566.0H823.6V572.7H811.7z"/>
<path fill="#9614ff" d="M664.6 137.9H699.2V150.7H664.6zM658.9 150.1H687.8V156.8H658.9zM647.6 156.2H676.5V163.0H647.6zM664.6 162.4H676.5V169.1H664.6zM653.3 168.5H682.2V175.2H653.3zM642.0 174.6H682.2V181.3H642.0zM647.6 180.7H682.2V187.4H647.6zM1151.2 235.8H1157.4V242.5H1151.2zM1151.2 241.9H1163.1V248.6H1151.2zM1151.2 248.0H1168.8V254.7H1151.2zM1151.2 254.1H1174.4V266.9H1151.2zM1151.2 266.3H1180.1V273.0H1151.2zM1156.8 272.4H1185.7V279.2H1156.8zM1156.8 278.6H1197.1V285.3H1156.8zM206.3 290.8H229.5V297.5H206.3zM200.6 296.9H229.5V303.6H200.6zM195.0 303.0H235.2V309.7H195.0zM1156.8 284.7H1214.0V315.9H1156.8zM1162.5 315.3H1214.0V322.0H1162.5zM195.0 309.1H240.9V328.1H195.0zM1162.5 321.4H1208.4V328.1H1162.5zM1162.5 327.5H1180.1V334.2H1162.5zM223.3 327.5H240.9V334.2H223.3zM1162.5 333.6H1174.4V340.3H1162.5zM228.9 333.6H246.5V346.4H228.9zM1162.5 339.7H1168.8V346.4H1162.5zM1060.7 358.1H1066.9V364.8H1060.7zM234.6 345.8H246.5V370.9H234.6zM1060.7 364.2H1072.6V370.9H1060.7zM240.3 370.3H246.5V377.0H240.3zM1066.3 370.3H1078.2V383.1H1066.3zM1066.3 382.5H1083.9V389.3H1066.3zM1072.0 388.7H1083.9V395.4H1072.0zM1072.0 394.8H1089.6V401.5H1072.0zM1077.6 400.9H1095.2V407.6H1077.6zM240.3 376.4H252.2V413.7H240.3zM1083.3 407.0H1100.9V413.7H1083.3zM234.6 413.1H246.5V425.9H234.6zM1105.9 419.2H1117.8V432.1H1105.9zM1105.9 431.5H1123.5V438.2H1105.9zM1111.6 437.6H1129.2V444.3H1111.6zM1117.2 443.7H1129.2V450.4H1117.2zM421.3 468.2H444.5V474.9H421.3zM421.3 474.3H472.8V481.0H421.3zM449.6 480.4H495.5V487.1H449.6zM472.2 486.5H518.1V493.2H472.2zM483.5 492.6H535.1V499.3H483.5zM523.2 498.7H546.4V505.5H523.2zM562.8 511.0H580.3V517.7H562.8zM783.4 517.1H806.7V523.8H783.4zM568.4 517.1H591.6V523.8H568.4zM800.4 523.2H812.3V529.9H800.4zM783.4 523.2H795.3V529.9H783.4zM811.7 529.3H818.0V536.0H811.7zM783.4 529.3H789.7V542.2H783.4zM811.7 535.4H823.6V542.2H811.7zM789.1 541.6H795.3V548.3H789.1zM817.4 541.6H829.3V554.4H817.4zM823.0 553.8H834.9V566.6H823.0zM823.0 566.0H840.6V572.7H823.0zM811.7 572.1H840.6V591.1H811.7zM817.4 590.5H840.6V597.2H817.4zM817.4 596.6H846.3V615.5H817.4zM817.4 614.9H851.9V621.7H817.4zM840.0 621.1H868.9V627.8H840.0zM845.7 627.2H874.5V640.0H845.7zM851.3 639.4H868.9V652.2H851.3z"/>
<path fill="#6e28fa" d="M698.6 144.0H704.8V150.7H698.6zM687.2 150.1H699.2V156.8H687.2zM675.9 156.2H693.5V163.0H675.9zM642.0 162.4H665.2V169.1H642.0zM675.9 162.4H699.2V169.1H675.9zM642.0 168.5H653.9V175.2H642.0zM681.6 168.5H704.8V175.2H681.6zM681.6 174.6H699.2V187.4H681.6zM642.0 180.7H648.2V187.4H642.0zM642.0 186.8H693.5V193.5H642.0zM658.9 192.9H687.8V199.7H658.9zM658.9 199.1H665.2V205.8H658.9zM1021.1 205.2H1027.3V218.0H1021.1zM1021.1 217.4H1033.0V230.2H1021.1zM1015.4 229.6H1033.0V260.8H1015.4zM1021.1 260.2H1033.0V266.9H1021.1zM223.3 266.3H240.9V273.0H223.3zM1026.7 266.3H1033.0V273.0H1026.7zM223.3 272.4H252.2V279.2H223.3zM217.6 278.6H274.8V285.3H217.6zM217.6 284.7H280.5V291.4H217.6zM228.9 290.8H274.8V297.5H228.9zM228.9 296.9H263.5V303.6H228.9zM234.6 303.0H257.8V309.7H234.6zM240.3 309.1H257.8V315.9H240.3zM1207.8 321.4H1214.0V328.1H1207.8zM240.3 315.3H252.2V334.2H240.3zM1043.7 321.4H1049.9V334.2H1043.7zM1179.5 327.5H1214.0V334.2H1179.5zM1173.8 333.6H1214.0V340.3H1173.8zM1043.7 333.6H1055.6V340.3H1043.7zM1043.7 339.7H1061.3V352.6H1043.7zM1168.2 339.7H1214.0V358.7H1168.2zM1049.3 352.0H1061.3V364.8H1049.3zM1168.2 358.1H1191.4V364.8H1168.2zM1055.0 364.2H1061.3V370.9H1055.0zM1168.2 364.2H1180.1V370.9H1168.2zM245.9 333.6H252.2V377.0H245.9zM1055.0 370.3H1066.9V377.0H1055.0zM1060.7 376.4H1066.9V389.3H1060.7zM1066.3 388.7H1072.6V401.5H1066.3zM1072.0 400.9H1078.2V407.6H1072.0zM251.6 376.4H257.8V413.7H251.6zM1077.6 407.0H1083.9V413.7H1077.6zM1077.6 413.1H1112.2V419.8H1077.6zM245.9 413.1H257.8V419.8H245.9zM1083.3 419.2H1106.5V425.9H1083.3zM245.9 419.2H252.2V425.9H245.9zM240.3 425.3H246.5V432.1H240.3zM1089.0 425.3H1106.5V432.1H1089.0zM1094.6 431.5H1106.5V438.2H1094.6zM1100.3 437.6H1112.2V444.3H1100.3zM1105.9 443.7H1117.8V450.4H1105.9zM1128.6 443.7H1134.8V450.4H1128.6zM359.1 449.8H371.0V456.5H359.1zM1111.6 449.8H1140.5V462.6H1111.6zM364.7 455.9H455.9V462.6H364.7zM364.7 462.0H404.9V468.8H364.7zM415.7 462.0H467.2V468.8H415.7zM415.7 468.2H421.9V474.9H415.7zM443.9 468.2H495.5V474.9H443.9zM364.7 468.2H393.6V481.0H364.7zM472.2 474.3H523.8V481.0H472.2zM494.9 480.4H552.0V487.1H494.9zM517.5 486.5H569.0V493.2H517.5zM534.5 492.6H597.3V499.3H534.5zM545.8 498.7H597.3V505.5H545.8zM562.8 504.9H597.3V511.6H562.8zM579.7 511.0H597.3V517.7H579.7zM772.1 511.0H795.3V517.7H772.1zM591.0 517.1H597.3V523.8H591.0zM806.1 517.1H818.0V523.8H806.1zM772.1 517.1H784.0V529.9H772.1zM811.7 523.2H823.6V529.9H811.7zM777.8 529.3H784.0V536.0H777.8zM817.4 529.3H829.3V536.0H817.4zM823.0 535.4H834.9V542.2H823.0zM828.7 541.6H840.6V548.3H828.7zM828.7 547.7H846.3V554.4H828.7zM834.3 553.8H857.6V566.6H834.3zM1089.0 559.9H1123.5V566.6H1089.0zM1077.6 566.0H1117.8V572.7H1077.6zM840.0 566.0H863.2V578.8H840.0zM1077.6 572.1H1106.5V578.8H1077.6zM1077.6 578.2H1095.2V585.0H1077.6zM840.0 578.2H868.9V597.2H840.0zM845.7 596.6H874.5V603.3H845.7zM845.7 602.7H880.2V609.4H845.7zM845.7 608.8H885.9V615.5H845.7zM851.3 614.9H897.2V621.7H851.3zM868.3 621.1H931.1V627.8H868.3zM873.9 627.2H936.8V633.9H873.9zM873.9 633.3H919.8V640.0H873.9zM868.3 639.4H914.2V646.1H868.3zM868.3 645.5H902.8V652.2H868.3z"/>
<path fill="#463cf0" d="M698.6 137.9H710.5V144.6H698.6zM704.2 144.0H716.1V150.7H704.2zM698.6 150.1H716.1V156.8H698.6zM964.5 150.1H970.7V156.8H964.5zM964.5 156.2H976.4V163.0H964.5zM692.9 156.2H727.4V163.0H692.9zM698.6 162.4H727.4V169.1H698.6zM964.5 162.4H982.1V169.1H964.5zM970.1 168.5H987.7V175.2H970.1zM500.5 168.5H535.1V175.2H500.5zM704.2 168.5H721.8V175.2H704.2zM511.8 174.6H540.7V181.3H511.8zM975.8 174.6H999.0V187.4H975.8zM698.6 174.6H716.1V187.4H698.6zM517.5 180.7H540.7V187.4H517.5zM692.9 186.8H710.5V193.5H692.9zM981.5 186.8H1004.7V193.5H981.5zM523.2 186.8H540.7V193.5H523.2zM687.2 192.9H704.8V199.7H687.2zM534.5 192.9H546.4V199.7H534.5zM987.1 192.9H1010.3V199.7H987.1zM568.4 199.1H642.6V205.8H568.4zM992.8 199.1H1016.0V205.8H992.8zM664.6 199.1H693.5V205.8H664.6zM568.4 205.2H682.2V211.9H568.4zM998.4 205.2H1021.7V211.9H998.4zM1004.1 211.3H1021.7V230.2H1004.1zM1009.7 229.6H1016.0V236.4H1009.7zM1004.1 235.8H1016.0V248.6H1004.1zM245.9 248.0H263.5V254.7H245.9zM1009.7 248.0H1016.0V260.8H1009.7zM240.3 254.1H269.1V260.8H240.3zM1009.7 260.2H1021.7V266.9H1009.7zM234.6 260.2H280.5V266.9H234.6zM1009.7 266.3H1027.3V273.0H1009.7zM240.3 266.3H303.1V273.0H240.3zM251.6 272.4H314.4V279.2H251.6zM1015.4 272.4H1027.3V285.3H1015.4zM274.2 278.6H314.4V285.3H274.2zM279.9 284.7H314.4V291.4H279.9zM1021.1 284.7H1027.3V297.5H1021.1zM274.2 290.8H303.1V297.5H274.2zM262.9 296.9H286.1V303.6H262.9zM1021.1 296.9H1033.0V309.7H1021.1zM257.2 303.0H274.8V309.7H257.2zM257.2 309.1H263.5V315.9H257.2zM251.6 315.3H263.5V322.0H251.6zM1026.7 309.1H1044.3V334.2H1026.7zM1032.4 333.6H1044.3V346.4H1032.4zM1038.0 345.8H1044.3V352.6H1038.0zM1038.0 352.0H1049.9V358.7H1038.0zM1190.8 358.1H1214.0V364.8H1190.8zM1043.7 358.1H1049.9V364.8H1043.7zM1179.5 364.2H1214.0V370.9H1179.5zM251.6 321.4H257.8V377.0H251.6zM1049.3 364.2H1055.6V377.0H1049.3zM1168.2 370.3H1214.0V377.0H1168.2zM1173.8 376.4H1214.0V383.1H1173.8zM1055.0 376.4H1061.3V389.3H1055.0zM257.2 376.4H263.5V395.4H257.2zM1060.7 388.7H1066.9V401.5H1060.7zM1173.8 382.5H1185.7V407.6H1173.8zM257.2 394.8H269.1V407.6H257.2zM1066.3 400.9H1072.6V407.6H1066.3zM1066.3 407.0H1078.2V413.7H1066.3zM257.2 407.0H280.5V413.7H257.2zM1168.2 407.0H1180.1V413.7H1168.2zM1072.0 413.1H1078.2V419.8H1072.0zM257.2 413.1H314.4V419.8H257.2zM1168.2 413.1H1174.4V419.8H1168.2zM376.0 419.2H382.3V425.9H376.0zM1072.0 419.2H1083.9V425.9H1072.0zM251.6 419.2H342.7V425.9H251.6zM245.9 425.3H393.6V432.1H245.9zM1077.6 425.3H1089.6V432.1H1077.6zM330.8 431.5H410.6V438.2H330.8zM1083.3 431.5H1095.2V438.2H1083.3zM1094.6 437.6H1100.9V444.3H1094.6zM336.4 437.6H455.9V444.3H336.4zM1100.3 443.7H1106.5V450.4H1100.3zM342.1 443.7H461.5V450.4H342.1zM353.4 449.8H359.7V456.5H353.4zM1100.3 449.8H1112.2V456.5H1100.3zM370.4 449.8H467.2V456.5H370.4zM1139.9 449.8H1151.8V462.6H1139.9zM455.3 455.9H512.4V462.6H455.3zM1105.9 455.9H1112.2V462.6H1105.9zM466.6 462.0H523.8V468.8H466.6zM1111.6 462.0H1140.5V468.8H1111.6zM494.9 468.2H535.1V474.9H494.9zM523.2 474.3H563.4V481.0H523.2zM551.4 480.4H597.3V487.1H551.4zM568.4 486.5H597.3V493.2H568.4zM715.5 492.6H738.8V499.3H715.5zM721.2 498.7H761.4V505.5H721.2zM726.8 504.9H784.0V511.6H726.8zM766.4 511.0H772.7V517.7H766.4zM794.7 511.0H812.3V517.7H794.7zM817.4 517.1H829.3V523.8H817.4zM823.0 523.2H834.9V529.9H823.0zM828.7 529.3H846.3V536.0H828.7zM834.3 535.4H863.2V542.2H834.3zM840.0 541.6H868.9V548.3H840.0zM845.7 547.7H874.5V554.4H845.7zM1094.6 553.8H1140.5V560.5H1094.6zM857.0 553.8H880.2V566.6H857.0zM1077.6 559.9H1089.6V566.6H1077.6zM1122.9 559.9H1129.2V566.6H1122.9zM1066.3 566.0H1078.2V572.7H1066.3zM862.6 566.0H885.9V572.7H862.6zM1038.0 572.1H1044.3V578.8H1038.0zM862.6 572.1H891.5V578.8H862.6zM1049.3 572.1H1078.2V578.8H1049.3zM868.3 578.2H891.5V585.0H868.3zM1009.7 578.2H1078.2V585.0H1009.7zM930.5 578.2H942.4V585.0H930.5zM998.4 584.4H1038.6V591.1H998.4zM924.9 584.4H948.1V591.1H924.9zM868.3 584.4H897.2V597.2H868.3zM913.6 590.5H948.1V597.2H913.6zM873.9 596.6H902.8V603.3H873.9zM907.9 596.6H959.4V603.3H907.9zM879.6 602.7H953.8V609.4H879.6zM885.3 608.8H953.8V615.5H885.3zM896.6 614.9H953.8V621.7H896.6zM930.5 621.1H942.4V627.8H930.5z"/>
<path fill="#3c4bd2" d="M777.8 125.7H806.7V132.4H777.8zM721.2 131.8H755.7V138.5H721.2zM783.4 131.8H812.3V144.6H783.4zM709.9 137.9H750.1V144.6H709.9zM862.6 137.9H868.9V150.7H862.6zM789.1 144.0H812.3V150.7H789.1zM715.5 144.0H750.1V156.8H715.5zM924.9 150.1H965.1V156.8H924.9zM919.2 156.2H965.1V163.0H919.2zM726.8 156.2H744.4V169.1H726.8zM913.6 162.4H965.1V169.1H913.6zM907.9 168.5H970.7V175.2H907.9zM489.2 168.5H501.1V175.2H489.2zM721.2 168.5H738.8V175.2H721.2zM715.5 174.6H733.1V181.3H715.5zM919.2 174.6H976.4V181.3H919.2zM489.2 174.6H512.4V181.3H489.2zM715.5 180.7H727.4V187.4H715.5zM947.5 180.7H976.4V187.4H947.5zM489.2 180.7H518.1V187.4H489.2zM964.5 186.8H982.1V193.5H964.5zM709.9 186.8H721.8V193.5H709.9zM500.5 186.8H523.8V193.5H500.5zM704.2 192.9H716.1V199.7H704.2zM970.1 192.9H987.7V199.7H970.1zM523.2 192.9H535.1V199.7H523.2zM692.9 199.1H710.5V205.8H692.9zM975.8 199.1H993.4V205.8H975.8zM534.5 199.1H546.4V205.8H534.5zM681.6 205.2H699.2V211.9H681.6zM975.8 205.2H999.0V211.9H975.8zM540.1 205.2H569.0V211.9H540.1zM981.5 211.3H1004.7V218.0H981.5zM545.8 211.3H687.8V218.0H545.8zM551.4 217.4H636.9V224.1H551.4zM987.1 217.4H1004.7V224.1H987.1zM291.2 223.5H303.1V230.2H291.2zM992.8 223.5H1004.7V230.2H992.8zM992.8 229.6H1010.3V236.4H992.8zM279.9 229.6H325.7V236.4H279.9zM262.9 235.8H382.3V242.5H262.9zM998.4 235.8H1004.7V248.6H998.4zM251.6 241.9H404.9V248.6H251.6zM998.4 248.0H1010.3V254.7H998.4zM262.9 248.0H410.6V254.7H262.9zM268.5 254.1H410.6V260.8H268.5zM279.9 260.2H399.3V266.9H279.9zM1004.1 254.1H1010.3V273.0H1004.1zM302.5 266.3H393.6V273.0H302.5zM313.8 272.4H382.3V279.2H313.8zM1004.1 272.4H1016.0V279.2H1004.1zM1009.7 278.6H1016.0V285.3H1009.7zM313.8 278.6H371.0V285.3H313.8zM313.8 284.7H354.0V291.4H313.8zM302.5 290.8H331.4V297.5H302.5zM285.5 296.9H320.1V303.6H285.5zM1009.7 284.7H1021.7V309.7H1009.7zM274.2 303.0H291.8V309.7H274.2zM262.9 309.1H280.5V315.9H262.9zM262.9 315.3H269.1V322.0H262.9zM1015.4 309.1H1027.3V328.1H1015.4zM1021.1 327.5H1027.3V334.2H1021.1zM477.9 333.6H501.1V340.3H477.9zM1021.1 333.6H1033.0V346.4H1021.1zM483.5 339.7H489.8V346.4H483.5zM1026.7 345.8H1038.6V358.7H1026.7zM1032.4 358.1H1044.3V364.8H1032.4zM257.2 321.4H263.5V370.9H257.2zM1038.0 364.2H1049.9V370.9H1038.0zM1043.7 370.3H1049.9V377.0H1043.7zM257.2 370.3H269.1V377.0H257.2zM262.9 376.4H269.1V383.1H262.9zM1043.7 376.4H1055.6V383.1H1043.7zM1049.3 382.5H1055.6V389.3H1049.3zM262.9 382.5H280.5V389.3H262.9zM1049.3 388.7H1061.3V395.4H1049.3zM262.9 388.7H314.4V395.4H262.9zM370.4 394.8H393.6V401.5H370.4zM1055.0 394.8H1061.3V401.5H1055.0zM268.5 394.8H337.0V401.5H268.5zM1185.1 382.5H1214.0V407.6H1185.1zM268.5 400.9H410.6V407.6H268.5zM1055.0 400.9H1066.9V413.7H1055.0zM1179.5 407.0H1214.0V413.7H1179.5zM279.9 407.0H444.5V413.7H279.9zM313.8 413.1H450.2V419.8H313.8zM1173.8 413.1H1191.4V419.8H1173.8zM1060.7 413.1H1072.6V425.9H1060.7zM1168.2 419.2H1180.1V425.9H1168.2zM342.1 419.2H376.6V425.9H342.1zM381.7 419.2H455.9V425.9H381.7zM1066.3 425.3H1078.2V432.1H1066.3zM1168.2 425.3H1174.4V432.1H1168.2zM393.0 425.3H461.5V432.1H393.0zM410.0 431.5H467.2V438.2H410.0zM489.2 431.5H501.1V438.2H489.2zM1066.3 431.5H1083.9V438.2H1066.3zM1162.5 437.6H1168.8V444.3H1162.5zM455.3 437.6H518.1V444.3H455.3zM1072.0 437.6H1095.2V444.3H1072.0zM1072.0 443.7H1100.9V450.4H1072.0zM460.9 443.7H529.4V450.4H460.9zM1162.5 443.7H1174.4V450.4H1162.5zM1094.6 449.8H1100.9V456.5H1094.6zM1156.8 449.8H1168.8V456.5H1156.8zM466.6 449.8H535.1V456.5H466.6zM1094.6 455.9H1106.5V462.6H1094.6zM1151.2 455.9H1163.1V462.6H1151.2zM511.8 455.9H529.4V462.6H511.8zM1139.9 462.0H1151.8V468.8H1139.9zM1100.3 462.0H1112.2V468.8H1100.3zM523.2 462.0H535.1V468.8H523.2zM1111.6 468.2H1140.5V474.9H1111.6zM534.5 468.2H557.7V474.9H534.5zM562.8 474.3H580.3V481.0H562.8zM625.0 480.4H659.5V487.1H625.0zM698.6 480.4H721.8V487.1H698.6zM704.2 486.5H750.1V493.2H704.2zM738.2 492.6H761.4V499.3H738.2zM760.8 498.7H778.4V505.5H760.8zM783.4 504.9H806.7V511.6H783.4zM1168.2 511.0H1185.7V517.7H1168.2zM811.7 511.0H829.3V517.7H811.7zM1156.8 517.1H1185.7V523.8H1156.8zM828.7 517.1H846.3V523.8H828.7zM1156.8 523.2H1180.1V529.9H1156.8zM834.3 523.2H874.5V529.9H834.3zM1156.8 529.3H1174.4V536.0H1156.8zM845.7 529.3H880.2V536.0H845.7zM862.6 535.4H885.9V542.2H862.6zM1128.6 535.4H1163.1V542.2H1128.6zM868.3 541.6H885.9V548.3H868.3zM1117.2 541.6H1157.4V548.3H1117.2zM1100.3 547.7H1146.1V554.4H1100.3zM873.9 547.7H891.5V554.4H873.9zM1083.3 553.8H1095.2V560.5H1083.3zM879.6 553.8H891.5V560.5H879.6zM879.6 559.9H897.2V566.6H879.6zM1066.3 559.9H1078.2V566.6H1066.3zM885.3 566.0H902.8V572.7H885.3zM924.9 566.0H948.1V572.7H924.9zM1038.0 566.0H1066.9V572.7H1038.0zM1004.1 572.1H1038.6V578.8H1004.1zM1043.7 572.1H1049.9V578.8H1043.7zM890.9 572.1H953.8V578.8H890.9zM941.8 578.2H959.4V585.0H941.8zM987.1 578.2H1010.3V585.0H987.1zM890.9 578.2H931.1V585.0H890.9zM896.6 584.4H925.5V591.1H896.6zM947.5 584.4H999.0V591.1H947.5zM947.5 590.5H1010.3V597.2H947.5zM896.6 590.5H914.2V597.2H896.6zM902.2 596.6H908.5V603.3H902.2zM958.8 596.6H976.4V603.3H958.8zM953.2 602.7H965.1V609.4H953.2zM953.2 608.8H959.4V615.5H953.2z"/>
<path fill="#325ab4" d="M806.1 125.7H840.6V132.4H806.1zM760.8 125.7H778.4V132.4H760.8zM755.1 131.8H784.0V138.5H755.1zM811.7 131.8H840.6V138.5H811.7zM749.5 137.9H784.0V144.6H749.5zM811.7 137.9H863.2V150.7H811.7zM749.5 144.0H789.7V150.7H749.5zM749.5 150.1H880.2V156.8H749.5zM743.8 156.2H840.6V163.0H743.8zM851.3 156.2H880.2V163.0H851.3zM743.8 162.4H801.0V169.1H743.8zM862.6 162.4H885.9V169.1H862.6zM868.3 168.5H908.5V175.2H868.3zM738.2 168.5H784.0V175.2H738.2zM387.4 168.5H444.5V175.2H387.4zM359.1 174.6H478.5V181.3H359.1zM873.9 174.6H919.8V181.3H873.9zM483.5 174.6H489.8V181.3H483.5zM732.5 174.6H772.7V181.3H732.5zM726.8 180.7H761.4V187.4H726.8zM879.6 180.7H948.1V187.4H879.6zM336.4 180.7H489.8V187.4H336.4zM890.9 186.8H965.1V193.5H890.9zM460.9 186.8H501.1V193.5H460.9zM330.8 186.8H393.6V193.5H330.8zM721.2 186.8H744.4V193.5H721.2zM907.9 192.9H970.7V199.7H907.9zM715.5 192.9H733.1V199.7H715.5zM325.1 192.9H376.6V199.7H325.1zM500.5 192.9H523.8V199.7H500.5zM930.5 199.1H976.4V205.8H930.5zM523.2 199.1H535.1V205.8H523.2zM709.9 199.1H727.4V205.8H709.9zM319.5 199.1H365.3V205.8H319.5zM528.8 205.2H540.7V211.9H528.8zM947.5 205.2H976.4V211.9H947.5zM313.8 205.2H359.7V211.9H313.8zM698.6 205.2H716.1V211.9H698.6zM308.1 211.3H354.0V218.0H308.1zM687.2 211.3H704.8V218.0H687.2zM953.2 211.3H982.1V218.0H953.2zM534.5 211.3H546.4V218.0H534.5zM958.8 217.4H987.7V224.1H958.8zM540.1 217.4H552.0V224.1H540.1zM636.3 217.4H687.8V224.1H636.3zM302.5 217.4H365.3V224.1H302.5zM540.1 223.5H642.6V230.2H540.1zM958.8 223.5H993.4V230.2H958.8zM302.5 223.5H399.3V230.2H302.5zM964.5 229.6H993.4V236.4H964.5zM551.4 229.6H586.0V236.4H551.4zM325.1 229.6H478.5V236.4H325.1zM970.1 235.8H999.0V242.5H970.1zM381.7 235.8H506.8V242.5H381.7zM404.3 241.9H529.4V248.6H404.3zM975.8 241.9H999.0V254.7H975.8zM410.0 248.0H535.1V254.7H410.0zM410.0 254.1H540.7V260.8H410.0zM981.5 254.1H1004.7V266.9H981.5zM398.7 260.2H535.1V266.9H398.7zM987.1 266.3H1004.7V273.0H987.1zM393.0 266.3H529.4V273.0H393.0zM992.8 272.4H1004.7V279.2H992.8zM381.7 272.4H461.5V279.2H381.7zM370.4 278.6H438.9V285.3H370.4zM353.4 284.7H427.6V291.4H353.4zM330.8 290.8H376.6V297.5H330.8zM319.5 296.9H342.7V303.6H319.5zM998.4 278.6H1010.3V309.7H998.4zM291.2 303.0H325.7V309.7H291.2zM279.9 309.1H297.4V315.9H279.9zM268.5 315.3H286.1V322.0H268.5zM998.4 309.1H1016.0V328.1H998.4zM472.2 321.4H501.1V328.1H472.2zM262.9 321.4H274.8V334.2H262.9zM998.4 327.5H1021.7V334.2H998.4zM460.9 327.5H518.1V334.2H460.9zM460.9 333.6H478.5V340.3H460.9zM500.5 333.6H523.8V340.3H500.5zM1004.1 333.6H1021.7V346.4H1004.1zM489.2 339.7H523.8V346.4H489.2zM460.9 339.7H484.1V346.4H460.9zM466.6 345.8H512.4V352.6H466.6zM262.9 333.6H269.1V358.7H262.9zM1009.7 345.8H1027.3V358.7H1009.7zM1015.4 358.1H1033.0V364.8H1015.4zM262.9 358.1H274.8V370.9H262.9zM1015.4 364.2H1038.6V370.9H1015.4zM268.5 370.3H280.5V377.0H268.5zM1021.1 370.3H1044.3V383.1H1021.1zM268.5 376.4H303.1V383.1H268.5zM376.0 376.4H399.3V383.1H376.0zM279.9 382.5H416.3V389.3H279.9zM1021.1 382.5H1049.9V395.4H1021.1zM313.8 388.7H427.6V395.4H313.8zM336.4 394.8H371.0V401.5H336.4zM393.0 394.8H444.5V401.5H393.0zM1026.7 394.8H1055.6V401.5H1026.7zM410.0 400.9H455.9V407.6H410.0zM1032.4 400.9H1055.6V413.7H1032.4zM443.9 407.0H455.9V413.7H443.9zM449.6 413.1H461.5V419.8H449.6zM511.8 413.1H529.4V419.8H511.8zM1190.8 413.1H1214.0V419.8H1190.8zM1038.0 413.1H1061.3V425.9H1038.0zM455.3 419.2H472.8V425.9H455.3zM1179.5 419.2H1214.0V425.9H1179.5zM483.5 419.2H512.4V425.9H483.5zM1043.7 425.3H1066.9V432.1H1043.7zM1173.8 425.3H1185.7V432.1H1173.8zM460.9 425.3H535.1V432.1H460.9zM500.5 431.5H540.7V438.2H500.5zM466.6 431.5H489.8V438.2H466.6zM1049.3 431.5H1066.9V438.2H1049.3zM1168.2 431.5H1185.7V444.3H1168.2zM1055.0 437.6H1072.6V444.3H1055.0zM517.5 437.6H540.7V444.3H517.5zM528.8 443.7H546.4V450.4H528.8zM1060.7 443.7H1072.6V450.4H1060.7zM1173.8 443.7H1180.1V450.4H1173.8zM1168.2 449.8H1174.4V456.5H1168.2zM534.5 449.8H546.4V456.5H534.5zM1060.7 449.8H1095.2V462.6H1060.7zM528.8 455.9H540.7V462.6H528.8zM1162.5 455.9H1168.8V462.6H1162.5zM534.5 462.0H546.4V468.8H534.5zM1066.3 462.0H1100.9V468.8H1066.3zM1151.2 462.0H1157.4V468.8H1151.2zM557.1 468.2H574.7V474.9H557.1zM1066.3 468.2H1083.9V474.9H1066.3zM1094.6 468.2H1112.2V474.9H1094.6zM1139.9 468.2H1146.1V474.9H1139.9zM1122.9 474.3H1134.8V481.0H1122.9zM579.7 474.3H597.3V481.0H579.7zM687.2 474.3H721.8V481.0H687.2zM619.3 474.3H659.5V481.0H619.3zM721.2 480.4H750.1V487.1H721.2zM749.5 486.5H761.4V493.2H749.5zM760.8 492.6H778.4V499.3H760.8zM777.8 498.7H801.0V505.5H777.8zM806.1 504.9H823.6V511.6H806.1zM1168.2 504.9H1191.4V511.6H1168.2zM828.7 511.0H880.2V517.7H828.7zM1156.8 511.0H1168.8V517.7H1156.8zM845.7 517.1H885.9V523.8H845.7zM873.9 523.2H891.5V529.9H873.9zM1151.2 517.1H1157.4V536.0H1151.2zM879.6 529.3H891.5V536.0H879.6zM1122.9 535.4H1129.2V542.2H1122.9zM885.3 535.4H897.2V548.3H885.3zM1111.6 541.6H1117.8V548.3H1111.6zM890.9 547.7H902.8V554.4H890.9zM1094.6 547.7H1100.9V554.4H1094.6zM890.9 553.8H908.5V560.5H890.9zM924.9 553.8H942.4V560.5H924.9zM1077.6 553.8H1083.9V560.5H1077.6zM1055.0 559.9H1066.9V566.6H1055.0zM896.6 559.9H948.1V566.6H896.6zM1015.4 566.0H1038.6V572.7H1015.4zM947.5 566.0H953.8V572.7H947.5zM902.2 566.0H925.5V572.7H902.2zM987.1 572.1H1004.7V578.8H987.1zM953.2 572.1H959.4V578.8H953.2zM958.8 578.2H987.7V585.0H958.8zM975.8 596.6H987.7V603.3H975.8zM964.5 602.7H976.4V609.4H964.5z"/>
<path fill="#286e9b" d="M840.0 156.2H851.9V163.0H840.0zM800.4 162.4H863.2V169.1H800.4zM783.4 168.5H868.9V175.2H783.4zM772.1 174.6H874.5V181.3H772.1zM760.8 180.7H880.2V187.4H760.8zM743.8 186.8H891.5V193.5H743.8zM393.0 186.8H461.5V193.5H393.0zM376.0 192.9H501.1V199.7H376.0zM834.3 192.9H908.5V199.7H834.3zM732.5 192.9H806.7V199.7H732.5zM845.7 199.1H931.1V205.8H845.7zM483.5 199.1H523.8V205.8H483.5zM364.7 199.1H393.6V205.8H364.7zM726.8 199.1H789.7V205.8H726.8zM851.3 205.2H948.1V211.9H851.3zM506.2 205.2H529.4V211.9H506.2zM359.1 205.2H388.0V211.9H359.1zM715.5 205.2H733.1V211.9H715.5zM353.4 211.3H399.3V218.0H353.4zM704.2 211.3H727.4V218.0H704.2zM857.0 211.3H953.8V218.0H857.0zM511.8 211.3H535.1V218.0H511.8zM364.7 217.4H540.7V224.1H364.7zM873.9 217.4H959.4V224.1H873.9zM687.2 217.4H710.5V224.1H687.2zM642.0 223.5H682.2V230.2H642.0zM398.7 223.5H540.7V230.2H398.7zM890.9 223.5H959.4V230.2H890.9zM477.9 229.6H552.0V236.4H477.9zM585.4 229.6H636.9V236.4H585.4zM902.2 229.6H965.1V236.4H902.2zM907.9 235.8H970.7V242.5H907.9zM506.2 235.8H608.6V242.5H506.2zM528.8 241.9H580.3V248.6H528.8zM907.9 241.9H976.4V248.6H907.9zM534.5 248.0H569.0V254.7H534.5zM913.6 248.0H976.4V254.7H913.6zM919.2 254.1H982.1V260.8H919.2zM540.1 254.1H569.0V260.8H540.1zM534.5 260.2H563.4V266.9H534.5zM924.9 260.2H982.1V266.9H924.9zM528.8 266.3H557.7V273.0H528.8zM936.2 266.3H987.7V273.0H936.2zM460.9 272.4H552.0V279.2H460.9zM947.5 272.4H993.4V279.2H947.5zM953.2 278.6H999.0V285.3H953.2zM438.3 278.6H540.7V285.3H438.3zM427.0 284.7H529.4V291.4H427.0zM958.8 284.7H999.0V291.4H958.8zM376.0 290.8H506.8V297.5H376.0zM342.1 296.9H484.1V303.6H342.1zM964.5 290.8H999.0V309.7H964.5zM325.1 303.0H348.4V309.7H325.1zM466.6 303.0H472.8V309.7H466.6zM296.8 309.1H331.4V315.9H296.8zM466.6 309.1H489.8V315.9H466.6zM970.1 309.1H999.0V322.0H970.1zM460.9 315.3H518.1V322.0H460.9zM285.5 315.3H303.1V322.0H285.5zM455.3 321.4H472.8V328.1H455.3zM274.2 321.4H291.8V328.1H274.2zM500.5 321.4H523.8V328.1H500.5zM975.8 321.4H999.0V334.2H975.8zM517.5 327.5H529.4V334.2H517.5zM274.2 327.5H286.1V334.2H274.2zM449.6 327.5H461.5V346.4H449.6zM981.5 333.6H1004.7V346.4H981.5zM523.2 333.6H529.4V346.4H523.2zM443.9 345.8H467.2V352.6H443.9zM511.8 345.8H529.4V352.6H511.8zM987.1 345.8H1010.3V352.6H987.1zM268.5 333.6H280.5V358.7H268.5zM992.8 352.0H1010.3V358.7H992.8zM438.3 352.0H523.8V358.7H438.3zM438.3 358.1H472.8V364.8H438.3zM274.2 358.1H286.1V364.8H274.2zM998.4 358.1H1016.0V370.9H998.4zM393.0 364.2H455.9V370.9H393.0zM274.2 364.2H291.8V370.9H274.2zM359.1 370.3H450.2V377.0H359.1zM279.9 370.3H308.8V377.0H279.9zM302.5 376.4H376.6V383.1H302.5zM398.7 376.4H450.2V383.1H398.7zM415.7 382.5H450.2V389.3H415.7zM998.4 370.3H1021.7V395.4H998.4zM427.0 388.7H450.2V395.4H427.0zM1004.1 394.8H1027.3V401.5H1004.1zM443.9 394.8H455.9V401.5H443.9zM1004.1 400.9H1033.0V407.6H1004.1zM455.3 400.9H461.5V407.6H455.3zM517.5 400.9H523.8V407.6H517.5zM489.2 407.0H540.7V413.7H489.2zM1009.7 407.0H1033.0V413.7H1009.7zM455.3 407.0H467.2V413.7H455.3zM528.8 413.1H540.7V419.8H528.8zM460.9 413.1H512.4V419.8H460.9zM1009.7 413.1H1038.6V419.8H1009.7zM511.8 419.2H540.7V425.9H511.8zM1015.4 419.2H1038.6V425.9H1015.4zM472.2 419.2H484.1V425.9H472.2zM1015.4 425.3H1044.3V432.1H1015.4zM534.5 425.3H546.4V432.1H534.5zM1015.4 431.5H1049.9V438.2H1015.4zM1185.1 425.3H1214.0V444.3H1185.1zM540.1 431.5H552.0V444.3H540.1zM1021.1 437.6H1055.6V444.3H1021.1zM1179.5 443.7H1185.7V450.4H1179.5zM545.8 443.7H557.7V456.5H545.8zM1173.8 449.8H1180.1V456.5H1173.8zM1021.1 443.7H1061.3V462.6H1021.1zM540.1 455.9H552.0V462.6H540.1zM1168.2 455.9H1174.4V462.6H1168.2zM545.8 462.0H569.0V468.8H545.8zM1156.8 462.0H1168.8V468.8H1156.8zM1021.1 462.0H1066.9V474.9H1021.1zM1145.5 468.2H1157.4V474.9H1145.5zM574.1 468.2H597.3V474.9H574.1zM608.0 468.2H659.5V474.9H608.0zM681.6 468.2H716.1V474.9H681.6zM1083.3 468.2H1095.2V474.9H1083.3zM721.2 474.3H750.1V481.0H721.2zM1026.7 474.3H1044.3V481.0H1026.7zM1134.2 474.3H1140.5V481.0H1134.2zM1060.7 474.3H1123.5V481.0H1060.7zM749.5 480.4H761.4V487.1H749.5zM760.8 486.5H778.4V493.2H760.8zM777.8 492.6H795.3V499.3H777.8zM857.0 498.7H885.9V505.5H857.0zM800.4 498.7H823.6V505.5H800.4zM1190.8 498.7H1197.1V505.5H1190.8zM1162.5 504.9H1168.8V511.6H1162.5zM823.0 504.9H891.5V511.6H823.0zM879.6 511.0H897.2V517.7H879.6zM885.3 517.1H897.2V523.8H885.3zM1145.5 523.2H1151.8V529.9H1145.5zM890.9 523.2H897.2V529.9H890.9zM890.9 529.3H902.8V536.0H890.9zM1128.6 529.3H1151.8V536.0H1128.6zM896.6 535.4H902.8V542.2H896.6zM1111.6 535.4H1123.5V542.2H1111.6zM1100.3 541.6H1112.2V548.3H1100.3zM896.6 541.6H908.5V548.3H896.6zM902.2 547.7H942.4V554.4H902.2zM1083.3 547.7H1095.2V554.4H1083.3zM1066.3 553.8H1078.2V560.5H1066.3zM907.9 553.8H925.5V560.5H907.9zM941.8 553.8H948.1V560.5H941.8zM1032.4 559.9H1055.6V566.6H1032.4zM947.5 559.9H953.8V566.6H947.5zM998.4 566.0H1016.0V572.7H998.4zM953.2 566.0H959.4V572.7H953.2zM975.8 572.1H987.7V578.8H975.8zM958.8 572.1H970.7V578.8H958.8z"/>
<path fill="#1e7d82" d="M806.1 192.9H834.9V199.7H806.1zM789.1 199.1H846.3V205.8H789.1zM393.0 199.1H484.1V205.8H393.0zM732.5 205.2H851.9V211.9H732.5zM387.4 205.2H506.8V211.9H387.4zM726.8 211.3H744.4V218.0H726.8zM749.5 211.3H857.6V218.0H749.5zM398.7 211.3H512.4V218.0H398.7zM772.1 217.4H874.5V224.1H772.1zM709.9 217.4H733.1V224.1H709.9zM681.6 223.5H716.1V230.2H681.6zM789.1 223.5H891.5V230.2H789.1zM636.3 229.6H670.9V236.4H636.3zM817.4 229.6H902.8V236.4H817.4zM608.0 235.8H642.6V242.5H608.0zM834.3 235.8H908.5V242.5H834.3zM845.7 241.9H908.5V248.6H845.7zM579.7 241.9H614.3V248.6H579.7zM857.0 248.0H914.2V254.7H857.0zM568.4 248.0H597.3V254.7H568.4zM568.4 254.1H580.3V260.8H568.4zM868.3 254.1H919.8V260.8H868.3zM562.8 260.2H574.7V266.9H562.8zM879.6 260.2H925.5V266.9H879.6zM557.1 266.3H574.7V273.0H557.1zM890.9 266.3H936.8V273.0H890.9zM551.4 272.4H569.0V279.2H551.4zM896.6 272.4H948.1V279.2H896.6zM902.2 278.6H953.8V285.3H902.2zM540.1 278.6H563.4V285.3H540.1zM913.6 284.7H959.4V291.4H913.6zM528.8 284.7H557.7V291.4H528.8zM924.9 290.8H965.1V297.5H924.9zM506.2 290.8H546.4V297.5H506.2zM483.5 296.9H535.1V303.6H483.5zM930.5 296.9H965.1V303.6H930.5zM472.2 303.0H529.4V309.7H472.2zM936.2 303.0H965.1V309.7H936.2zM347.8 303.0H467.2V309.7H347.8zM427.0 309.1H467.2V315.9H427.0zM330.8 309.1H354.0V315.9H330.8zM941.8 309.1H970.7V315.9H941.8zM489.2 309.1H529.4V315.9H489.2zM517.5 315.3H529.4V322.0H517.5zM438.3 315.3H461.5V322.0H438.3zM302.5 315.3H331.4V322.0H302.5zM947.5 315.3H970.7V322.0H947.5zM947.5 321.4H976.4V328.1H947.5zM291.2 321.4H308.8V328.1H291.2zM438.3 321.4H455.9V328.1H438.3zM523.2 321.4H535.1V328.1H523.2zM953.2 327.5H976.4V334.2H953.2zM285.5 327.5H297.4V334.2H285.5zM438.3 327.5H450.2V340.3H438.3zM958.8 333.6H982.1V340.3H958.8zM964.5 339.7H982.1V346.4H964.5zM432.6 339.7H450.2V346.4H432.6zM528.8 327.5H535.1V352.6H528.8zM970.1 345.8H987.7V352.6H970.1zM427.0 345.8H444.5V352.6H427.0zM279.9 333.6H291.8V358.7H279.9zM975.8 352.0H993.4V358.7H975.8zM523.2 352.0H535.1V358.7H523.2zM410.0 352.0H438.9V358.7H410.0zM472.2 358.1H529.4V364.8H472.2zM381.7 358.1H438.9V364.8H381.7zM285.5 358.1H303.1V364.8H285.5zM455.3 364.2H518.1V370.9H455.3zM291.2 364.2H320.1V370.9H291.2zM336.4 364.2H393.6V370.9H336.4zM308.1 370.3H359.7V377.0H308.1zM449.6 370.3H467.2V377.0H449.6zM449.6 376.4H461.5V383.1H449.6zM975.8 358.1H999.0V389.3H975.8zM449.6 382.5H455.9V395.4H449.6zM981.5 388.7H999.0V395.4H981.5zM987.1 394.8H1004.7V401.5H987.1zM455.3 394.8H461.5V401.5H455.3zM992.8 400.9H1004.7V407.6H992.8zM494.9 400.9H518.1V407.6H494.9zM460.9 400.9H472.8V407.6H460.9zM523.2 400.9H540.7V407.6H523.2zM992.8 407.0H1010.3V413.7H992.8zM466.6 407.0H489.8V413.7H466.6zM540.1 407.0H552.0V419.8H540.1zM998.4 413.1H1010.3V419.8H998.4zM540.1 419.2H546.4V425.9H540.1zM998.4 419.2H1016.0V425.9H998.4zM545.8 425.3H552.0V432.1H545.8zM1004.1 425.3H1016.0V438.2H1004.1zM551.4 431.5H557.7V444.3H551.4zM1185.1 443.7H1191.4V450.4H1185.1zM557.1 443.7H563.4V450.4H557.1zM1004.1 437.6H1021.7V456.5H1004.1zM1179.5 449.8H1185.7V456.5H1179.5zM557.1 449.8H569.0V456.5H557.1zM551.4 455.9H569.0V462.6H551.4zM1173.8 455.9H1185.7V462.6H1173.8zM687.2 462.0H716.1V468.8H687.2zM568.4 462.0H586.0V468.8H568.4zM1168.2 462.0H1174.4V468.8H1168.2zM1009.7 455.9H1021.7V474.9H1009.7zM1156.8 468.2H1163.1V474.9H1156.8zM715.5 468.2H755.7V474.9H715.5zM1015.4 474.3H1027.3V481.0H1015.4zM1043.7 474.3H1061.3V481.0H1043.7zM1139.9 474.3H1151.8V481.0H1139.9zM1190.8 474.3H1208.4V481.0H1190.8zM749.5 474.3H767.0V481.0H749.5zM760.8 480.4H778.4V487.1H760.8zM1021.1 480.4H1134.8V487.1H1021.1zM1185.1 480.4H1202.7V493.2H1185.1zM777.8 486.5H795.3V493.2H777.8zM794.7 492.6H891.5V499.3H794.7zM1185.1 492.6H1197.1V499.3H1185.1zM1168.2 498.7H1191.4V505.5H1168.2zM823.0 498.7H857.6V505.5H823.0zM885.3 498.7H897.2V505.5H885.3zM890.9 504.9H902.8V511.6H890.9zM1156.8 504.9H1163.1V511.6H1156.8zM896.6 511.0H902.8V517.7H896.6zM1151.2 511.0H1157.4V517.7H1151.2zM1145.5 517.1H1151.8V523.8H1145.5zM896.6 517.1H908.5V529.9H896.6zM1134.2 523.2H1146.1V529.9H1134.2zM1122.9 529.3H1129.2V536.0H1122.9zM902.2 529.3H914.2V536.0H902.2zM1105.9 535.4H1112.2V542.2H1105.9zM902.2 535.4H925.5V542.2H902.2zM1094.6 541.6H1100.9V548.3H1094.6zM907.9 541.6H948.1V548.3H907.9zM941.8 547.7H953.8V554.4H941.8zM1077.6 547.7H1083.9V554.4H1077.6zM947.5 553.8H953.8V560.5H947.5zM1055.0 553.8H1066.9V560.5H1055.0zM1015.4 559.9H1033.0V566.6H1015.4zM953.2 559.9H959.4V566.6H953.2zM987.1 566.0H999.0V572.7H987.1zM958.8 566.0H965.1V572.7H958.8zM970.1 572.1H976.4V578.8H970.1z"/>
<path fill="#0f8c64" d="M743.8 211.3H750.1V218.0H743.8zM732.5 217.4H772.7V224.1H732.5zM715.5 223.5H733.1V230.2H715.5zM755.1 223.5H789.7V230.2H755.1zM670.3 229.6H721.8V236.4H670.3zM772.1 229.6H818.0V236.4H772.1zM783.4 235.8H834.9V242.5H783.4zM642.0 235.8H670.9V242.5H642.0zM806.1 241.9H846.3V248.6H806.1zM613.7 241.9H642.6V248.6H613.7zM596.7 248.0H625.6V254.7H596.7zM823.0 248.0H857.6V254.7H823.0zM834.3 254.1H868.9V260.8H834.3zM579.7 254.1H603.0V260.8H579.7zM845.7 260.2H880.2V266.9H845.7zM574.1 260.2H591.6V266.9H574.1zM851.3 266.3H891.5V273.0H851.3zM574.1 266.3H586.0V273.0H574.1zM568.4 272.4H580.3V279.2H568.4zM862.6 272.4H897.2V279.2H862.6zM873.9 278.6H902.8V285.3H873.9zM562.8 278.6H574.7V285.3H562.8zM879.6 284.7H914.2V291.4H879.6zM557.1 284.7H569.0V291.4H557.1zM545.8 290.8H563.4V297.5H545.8zM885.3 290.8H925.5V297.5H885.3zM896.6 296.9H931.1V303.6H896.6zM534.5 296.9H557.7V303.6H534.5zM907.9 303.0H936.8V309.7H907.9zM528.8 303.0H546.4V309.7H528.8zM353.4 309.1H427.6V315.9H353.4zM913.6 309.1H942.4V315.9H913.6zM528.8 309.1H540.7V322.0H528.8zM410.0 315.3H438.9V322.0H410.0zM330.8 315.3H354.0V322.0H330.8zM919.2 315.3H948.1V322.0H919.2zM924.9 321.4H948.1V328.1H924.9zM308.1 321.4H337.0V328.1H308.1zM930.5 327.5H953.8V334.2H930.5zM296.8 327.5H314.4V334.2H296.8zM421.3 321.4H438.9V340.3H421.3zM936.2 333.6H959.4V340.3H936.2zM415.7 339.7H433.2V346.4H415.7zM941.8 339.7H965.1V346.4H941.8zM291.2 333.6H308.8V352.6H291.2zM404.3 345.8H427.6V352.6H404.3zM947.5 345.8H970.7V352.6H947.5zM534.5 321.4H540.7V358.7H534.5zM953.2 352.0H976.4V358.7H953.2zM291.2 352.0H314.4V358.7H291.2zM370.4 352.0H410.6V358.7H370.4zM528.8 358.1H540.7V364.8H528.8zM302.5 358.1H382.3V364.8H302.5zM958.8 358.1H976.4V364.8H958.8zM319.5 364.2H337.0V370.9H319.5zM517.5 364.2H535.1V370.9H517.5zM466.6 370.3H529.4V377.0H466.6zM460.9 376.4H467.2V383.1H460.9zM964.5 364.2H976.4V389.3H964.5zM500.5 376.4H529.4V389.3H500.5zM455.3 382.5H467.2V395.4H455.3zM500.5 388.7H535.1V395.4H500.5zM970.1 388.7H982.1V395.4H970.1zM970.1 394.8H987.7V401.5H970.1zM489.2 394.8H535.1V401.5H489.2zM460.9 394.8H472.8V401.5H460.9zM472.2 400.9H495.5V407.6H472.2zM540.1 400.9H552.0V407.6H540.1zM975.8 400.9H993.4V407.6H975.8zM981.5 407.0H993.4V413.7H981.5zM551.4 407.0H563.4V419.8H551.4zM987.1 413.1H999.0V419.8H987.1zM992.8 419.2H999.0V425.9H992.8zM862.6 419.2H874.5V425.9H862.6zM545.8 419.2H557.7V425.9H545.8zM551.4 425.3H563.4V432.1H551.4zM862.6 425.3H880.2V432.1H862.6zM992.8 425.3H1004.7V438.2H992.8zM857.0 431.5H885.9V438.2H857.0zM557.1 431.5H563.4V444.3H557.1zM562.8 443.7H569.0V450.4H562.8zM1190.8 443.7H1214.0V450.4H1190.8zM998.4 437.6H1004.7V456.5H998.4zM862.6 437.6H885.9V456.5H862.6zM568.4 449.8H580.3V456.5H568.4zM1185.1 449.8H1191.4V456.5H1185.1zM568.4 455.9H586.0V462.6H568.4zM998.4 455.9H1010.3V462.6H998.4zM1185.1 455.9H1214.0V462.6H1185.1zM862.6 455.9H880.2V462.6H862.6zM585.4 462.0H665.2V468.8H585.4zM1173.8 462.0H1208.4V468.8H1173.8zM670.3 462.0H687.8V468.8H670.3zM715.5 462.0H761.4V468.8H715.5zM1004.1 462.0H1010.3V474.9H1004.1zM1162.5 468.2H1174.4V474.9H1162.5zM755.1 468.2H778.4V474.9H755.1zM1185.1 468.2H1208.4V474.9H1185.1zM766.4 474.3H784.0V481.0H766.4zM1185.1 474.3H1191.4V481.0H1185.1zM1151.2 474.3H1157.4V481.0H1151.2zM1004.1 474.3H1016.0V481.0H1004.1zM777.8 480.4H795.3V487.1H777.8zM1009.7 480.4H1021.7V487.1H1009.7zM1134.2 480.4H1146.1V487.1H1134.2zM1179.5 480.4H1185.7V493.2H1179.5zM794.7 486.5H891.5V493.2H794.7zM1015.4 486.5H1083.9V493.2H1015.4zM890.9 492.6H902.8V499.3H890.9zM1173.8 492.6H1185.7V499.3H1173.8zM1162.5 498.7H1168.8V505.5H1162.5zM896.6 498.7H908.5V505.5H896.6zM1151.2 504.9H1157.4V511.6H1151.2zM902.2 504.9H914.2V517.7H902.2zM1145.5 511.0H1151.8V517.7H1145.5zM907.9 517.1H919.8V523.8H907.9zM1139.9 517.1H1146.1V523.8H1139.9zM907.9 523.2H925.5V529.9H907.9zM1128.6 523.2H1134.8V529.9H1128.6zM1111.6 529.3H1123.5V536.0H1111.6zM913.6 529.3H942.4V536.0H913.6zM1100.3 535.4H1106.5V542.2H1100.3zM924.9 535.4H948.1V542.2H924.9zM1089.0 541.6H1095.2V548.3H1089.0zM947.5 541.6H953.8V548.3H947.5zM1066.3 547.7H1078.2V554.4H1066.3zM953.2 547.7H959.4V560.5H953.2zM1038.0 553.8H1055.6V560.5H1038.0zM958.8 559.9H965.1V566.6H958.8zM998.4 559.9H1016.0V566.6H998.4zM964.5 566.0H987.7V572.7H964.5z"/>
<path fill="#149650" d="M732.5 223.5H755.7V230.2H732.5zM721.2 229.6H772.7V236.4H721.2zM749.5 235.8H784.0V242.5H749.5zM670.3 235.8H733.1V242.5H670.3zM642.0 241.9H670.9V248.6H642.0zM766.4 241.9H806.7V248.6H766.4zM625.0 248.0H648.2V254.7H625.0zM789.1 248.0H823.6V254.7H789.1zM806.1 254.1H834.9V260.8H806.1zM602.4 254.1H631.3V260.8H602.4zM591.0 260.2H614.3V266.9H591.0zM817.4 260.2H846.3V266.9H817.4zM823.0 266.3H851.9V273.0H823.0zM585.4 266.3H597.3V273.0H585.4zM579.7 272.4H591.6V279.2H579.7zM834.3 272.4H863.2V279.2H834.3zM574.1 278.6H586.0V285.3H574.1zM840.0 278.6H874.5V285.3H840.0zM568.4 284.7H580.3V291.4H568.4zM851.3 284.7H880.2V291.4H851.3zM857.0 290.8H885.9V297.5H857.0zM562.8 290.8H574.7V297.5H562.8zM868.3 296.9H897.2V303.6H868.3zM557.1 296.9H569.0V303.6H557.1zM545.8 303.0H563.4V309.7H545.8zM873.9 303.0H908.5V309.7H873.9zM885.3 309.1H914.2V315.9H885.3zM540.1 309.1H557.7V315.9H540.1zM890.9 315.3H919.8V322.0H890.9zM353.4 315.3H410.6V322.0H353.4zM336.4 321.4H365.3V328.1H336.4zM902.2 321.4H925.5V328.1H902.2zM381.7 321.4H421.9V328.1H381.7zM313.8 327.5H354.0V334.2H313.8zM913.6 327.5H931.1V334.2H913.6zM540.1 315.3H546.4V340.3H540.1zM398.7 327.5H421.9V340.3H398.7zM919.2 333.6H936.8V340.3H919.2zM308.1 333.6H342.7V340.3H308.1zM540.1 339.7H552.0V346.4H540.1zM924.9 339.7H942.4V346.4H924.9zM381.7 339.7H416.3V346.4H381.7zM308.1 339.7H348.4V346.4H308.1zM308.1 345.8H404.9V352.6H308.1zM924.9 345.8H948.1V352.6H924.9zM930.5 352.0H953.8V358.7H930.5zM313.8 352.0H371.0V358.7H313.8zM540.1 345.8H546.4V364.8H540.1zM936.2 358.1H959.4V364.8H936.2zM534.5 364.2H546.4V370.9H534.5zM947.5 364.2H965.1V370.9H947.5zM953.2 370.3H965.1V377.0H953.2zM528.8 370.3H540.7V389.3H528.8zM958.8 376.4H965.1V389.3H958.8zM466.6 376.4H501.1V395.4H466.6zM534.5 388.7H540.7V395.4H534.5zM964.5 388.7H970.7V401.5H964.5zM534.5 394.8H546.4V401.5H534.5zM472.2 394.8H489.8V401.5H472.2zM551.4 400.9H563.4V407.6H551.4zM970.1 400.9H976.4V407.6H970.1zM562.8 407.0H569.0V413.7H562.8zM834.3 407.0H874.5V413.7H834.3zM970.1 407.0H982.1V413.7H970.1zM840.0 413.1H885.9V419.8H840.0zM975.8 413.1H987.7V419.8H975.8zM873.9 419.2H891.5V425.9H873.9zM557.1 419.2H563.4V425.9H557.1zM981.5 419.2H993.4V425.9H981.5zM845.7 419.2H863.2V425.9H845.7zM879.6 425.3H897.2V432.1H879.6zM840.0 425.3H863.2V432.1H840.0zM987.1 425.3H993.4V438.2H987.1zM834.3 431.5H857.6V438.2H834.3zM562.8 431.5H569.0V444.3H562.8zM840.0 437.6H863.2V450.4H840.0zM568.4 443.7H574.7V450.4H568.4zM885.3 431.5H897.2V456.5H885.3zM1190.8 449.8H1214.0V456.5H1190.8zM579.7 449.8H586.0V456.5H579.7zM613.7 449.8H619.9V456.5H613.7zM992.8 437.6H999.0V462.6H992.8zM811.7 449.8H863.2V462.6H811.7zM585.4 455.9H642.6V462.6H585.4zM681.6 455.9H772.7V462.6H681.6zM879.6 455.9H897.2V462.6H879.6zM760.8 462.0H897.2V468.8H760.8zM777.8 468.2H885.9V474.9H777.8zM998.4 462.0H1004.7V481.0H998.4zM1173.8 468.2H1185.7V481.0H1173.8zM783.4 474.3H874.5V481.0H783.4zM1156.8 474.3H1168.8V481.0H1156.8zM794.7 480.4H885.9V487.1H794.7zM1145.5 480.4H1157.4V487.1H1145.5zM1004.1 480.4H1010.3V487.1H1004.1zM1173.8 480.4H1180.1V493.2H1173.8zM890.9 486.5H902.8V493.2H890.9zM1009.7 486.5H1016.0V493.2H1009.7zM1083.3 486.5H1134.8V493.2H1083.3zM902.2 492.6H919.8V499.3H902.2zM1168.2 492.6H1174.4V499.3H1168.2zM1021.1 492.6H1072.6V499.3H1021.1zM1156.8 498.7H1163.1V505.5H1156.8zM907.9 498.7H925.5V505.5H907.9zM913.6 504.9H925.5V511.6H913.6zM1145.5 504.9H1151.8V511.6H1145.5zM913.6 511.0H931.1V517.7H913.6zM1139.9 511.0H1146.1V517.7H1139.9zM919.2 517.1H942.4V523.8H919.2zM1134.2 517.1H1140.5V523.8H1134.2zM1122.9 523.2H1129.2V529.9H1122.9zM924.9 523.2H948.1V529.9H924.9zM941.8 529.3H953.8V536.0H941.8zM1105.9 529.3H1112.2V536.0H1105.9zM1094.6 535.4H1100.9V542.2H1094.6zM947.5 535.4H953.8V542.2H947.5zM1077.6 541.6H1089.6V548.3H1077.6zM953.2 541.6H959.4V548.3H953.2zM1055.0 547.7H1066.9V554.4H1055.0zM958.8 547.7H965.1V560.5H958.8zM1009.7 553.8H1038.6V560.5H1009.7zM964.5 559.9H999.0V566.6H964.5z"/>
<path fill="#28a546" d="M732.5 235.8H750.1V242.5H732.5zM670.3 241.9H767.0V248.6H670.3zM647.6 248.0H789.7V254.7H647.6zM630.7 254.1H653.9V260.8H630.7zM743.8 254.1H806.7V260.8H743.8zM783.4 260.2H818.0V266.9H783.4zM613.7 260.2H636.9V266.9H613.7zM800.4 266.3H823.6V273.0H800.4zM596.7 266.3H619.9V273.0H596.7zM591.0 272.4H603.0V279.2H591.0zM806.1 272.4H834.9V279.2H806.1zM585.4 278.6H597.3V285.3H585.4zM811.7 278.6H840.6V285.3H811.7zM579.7 284.7H591.6V291.4H579.7zM823.0 284.7H851.9V291.4H823.0zM574.1 290.8H586.0V297.5H574.1zM834.3 290.8H857.6V297.5H834.3zM568.4 296.9H580.3V303.6H568.4zM840.0 296.9H868.9V303.6H840.0zM845.7 303.0H874.5V309.7H845.7zM562.8 303.0H574.7V309.7H562.8zM857.0 309.1H885.9V315.9H857.0zM557.1 309.1H569.0V315.9H557.1zM545.8 315.3H563.4V322.0H545.8zM857.0 315.3H891.5V322.0H857.0zM364.7 321.4H382.3V328.1H364.7zM868.3 321.4H902.8V328.1H868.3zM353.4 327.5H399.3V334.2H353.4zM873.9 327.5H914.2V334.2H873.9zM545.8 321.4H557.7V340.3H545.8zM885.3 333.6H919.8V340.3H885.3zM342.1 333.6H399.3V340.3H342.1zM551.4 339.7H557.7V346.4H551.4zM347.8 339.7H382.3V346.4H347.8zM902.2 339.7H925.5V346.4H902.2zM907.9 345.8H925.5V352.6H907.9zM913.6 352.0H931.1V358.7H913.6zM913.6 358.1H936.8V364.8H913.6zM545.8 345.8H557.7V370.9H545.8zM924.9 364.2H948.1V370.9H924.9zM930.5 370.3H953.8V377.0H930.5zM540.1 370.3H557.7V377.0H540.1zM936.2 376.4H959.4V383.1H936.2zM941.8 382.5H959.4V389.3H941.8zM540.1 376.4H552.0V395.4H540.1zM941.8 388.7H965.1V395.4H941.8zM840.0 394.8H857.6V401.5H840.0zM545.8 394.8H557.7V401.5H545.8zM947.5 394.8H965.1V401.5H947.5zM562.8 400.9H569.0V407.6H562.8zM958.8 400.9H970.7V407.6H958.8zM823.0 400.9H880.2V407.6H823.0zM964.5 407.0H970.7V413.7H964.5zM806.1 407.0H834.9V413.7H806.1zM873.9 407.0H897.2V413.7H873.9zM970.1 413.1H976.4V419.8H970.1zM806.1 413.1H840.6V419.8H806.1zM885.3 413.1H902.8V419.8H885.3zM811.7 419.2H846.3V425.9H811.7zM919.2 419.2H931.1V425.9H919.2zM890.9 419.2H908.5V425.9H890.9zM975.8 419.2H982.1V425.9H975.8zM562.8 413.1H569.0V432.1H562.8zM806.1 425.3H840.6V432.1H806.1zM896.6 425.3H931.1V432.1H896.6zM981.5 425.3H987.7V438.2H981.5zM789.1 431.5H834.9V438.2H789.1zM896.6 431.5H914.2V438.2H896.6zM568.4 431.5H574.7V444.3H568.4zM783.4 437.6H840.6V444.3H783.4zM647.6 437.6H653.9V444.3H647.6zM896.6 437.6H908.5V450.4H896.6zM608.0 443.7H659.5V450.4H608.0zM732.5 443.7H840.6V450.4H732.5zM574.1 443.7H586.0V450.4H574.1zM987.1 437.6H993.4V456.5H987.1zM619.3 449.8H665.2V456.5H619.3zM687.2 449.8H812.3V456.5H687.2zM585.4 449.8H614.3V456.5H585.4zM642.0 455.9H682.2V462.6H642.0zM772.1 455.9H812.3V462.6H772.1zM896.6 449.8H902.8V468.8H896.6zM885.3 468.2H902.8V474.9H885.3zM992.8 462.0H999.0V481.0H992.8zM1168.2 474.3H1174.4V481.0H1168.2zM873.9 474.3H891.5V481.0H873.9zM1156.8 480.4H1174.4V487.1H1156.8zM998.4 480.4H1004.7V487.1H998.4zM885.3 480.4H902.8V487.1H885.3zM902.2 486.5H936.8V493.2H902.2zM1168.2 486.5H1174.4V493.2H1168.2zM1004.1 486.5H1010.3V493.2H1004.1zM1134.2 486.5H1157.4V493.2H1134.2zM919.2 492.6H942.4V499.3H919.2zM1151.2 492.6H1168.8V499.3H1151.2zM1072.0 492.6H1112.2V499.3H1072.0zM1009.7 492.6H1021.7V499.3H1009.7zM1049.3 498.7H1061.3V505.5H1049.3zM1145.5 498.7H1157.4V505.5H1145.5zM924.9 498.7H942.4V505.5H924.9zM924.9 504.9H948.1V511.6H924.9zM1139.9 504.9H1146.1V511.6H1139.9zM930.5 511.0H948.1V517.7H930.5zM1134.2 511.0H1140.5V517.7H1134.2zM941.8 517.1H953.8V523.8H941.8zM1128.6 517.1H1134.8V523.8H1128.6zM1111.6 523.2H1123.5V529.9H1111.6zM947.5 523.2H959.4V529.9H947.5zM1100.3 529.3H1106.5V536.0H1100.3zM953.2 529.3H959.4V536.0H953.2zM953.2 535.4H965.1V542.2H953.2zM1083.3 535.4H1095.2V542.2H1083.3zM1066.3 541.6H1078.2V548.3H1066.3zM958.8 541.6H965.1V548.3H958.8zM1021.1 547.7H1055.6V554.4H1021.1zM964.5 547.7H970.7V554.4H964.5zM964.5 553.8H1010.3V560.5H964.5z"/>
<path fill="#46b43c" d="M653.3 254.1H744.4V260.8H653.3zM636.3 260.2H665.2V266.9H636.3zM704.2 260.2H784.0V266.9H704.2zM619.3 266.3H642.6V273.0H619.3zM726.8 266.3H801.0V273.0H726.8zM602.4 272.4H619.9V279.2H602.4zM732.5 272.4H806.7V279.2H732.5zM738.2 278.6H812.3V285.3H738.2zM596.7 278.6H608.6V285.3H596.7zM591.0 284.7H597.3V291.4H591.0zM789.1 284.7H823.6V291.4H789.1zM585.4 290.8H591.6V297.5H585.4zM806.1 290.8H834.9V297.5H806.1zM579.7 296.9H586.0V303.6H579.7zM811.7 296.9H840.6V303.6H811.7zM574.1 303.0H586.0V309.7H574.1zM823.0 303.0H846.3V309.7H823.0zM568.4 309.1H580.3V315.9H568.4zM828.7 309.1H857.6V315.9H828.7zM562.8 315.3H574.7V322.0H562.8zM834.3 315.3H857.6V322.0H834.3zM840.0 321.4H868.9V328.1H840.0zM557.1 321.4H569.0V328.1H557.1zM845.7 327.5H874.5V334.2H845.7zM845.7 333.6H885.9V340.3H845.7zM557.1 327.5H563.4V346.4H557.1zM851.3 339.7H902.8V346.4H851.3zM851.3 345.8H908.5V352.6H851.3zM557.1 345.8H569.0V352.6H557.1zM851.3 352.0H914.2V358.7H851.3zM857.0 358.1H914.2V364.8H857.0zM557.1 352.0H574.7V370.9H557.1zM851.3 364.2H925.5V370.9H851.3zM851.3 370.3H931.1V377.0H851.3zM557.1 370.3H569.0V377.0H557.1zM840.0 376.4H880.2V383.1H840.0zM907.9 376.4H936.8V383.1H907.9zM551.4 376.4H569.0V389.3H551.4zM828.7 382.5H874.5V389.3H828.7zM913.6 382.5H942.4V395.4H913.6zM551.4 388.7H563.4V395.4H551.4zM823.0 388.7H880.2V395.4H823.0zM857.0 394.8H891.5V401.5H857.0zM907.9 394.8H948.1V401.5H907.9zM557.1 394.8H563.4V401.5H557.1zM811.7 394.8H840.6V401.5H811.7zM879.6 400.9H959.4V407.6H879.6zM794.7 400.9H823.6V407.6H794.7zM568.4 400.9H574.7V413.7H568.4zM772.1 407.0H806.7V413.7H772.1zM896.6 407.0H965.1V413.7H896.6zM902.2 413.1H970.7V419.8H902.2zM777.8 413.1H806.7V419.8H777.8zM964.5 419.2H976.4V425.9H964.5zM783.4 419.2H812.3V425.9H783.4zM930.5 419.2H959.4V425.9H930.5zM907.9 419.2H919.8V425.9H907.9zM930.5 425.3H953.8V432.1H930.5zM772.1 425.3H806.7V432.1H772.1zM568.4 425.3H574.7V432.1H568.4zM975.8 425.3H982.1V432.1H975.8zM642.0 431.5H659.5V438.2H642.0zM913.6 431.5H942.4V438.2H913.6zM749.5 431.5H789.7V438.2H749.5zM574.1 437.6H580.3V444.3H574.1zM907.9 437.6H936.8V444.3H907.9zM732.5 437.6H784.0V444.3H732.5zM653.3 437.6H670.9V444.3H653.3zM608.0 437.6H648.2V444.3H608.0zM981.5 437.6H987.7V450.4H981.5zM658.9 443.7H676.5V450.4H658.9zM585.4 443.7H608.6V450.4H585.4zM681.6 443.7H733.1V450.4H681.6zM907.9 443.7H925.5V450.4H907.9zM902.2 449.8H919.8V456.5H902.2zM664.6 449.8H687.8V456.5H664.6zM902.2 455.9H914.2V468.8H902.2zM902.2 468.2H931.1V474.9H902.2zM987.1 455.9H993.4V481.0H987.1zM890.9 474.3H942.4V481.0H890.9zM902.2 480.4H942.4V487.1H902.2zM992.8 480.4H999.0V487.1H992.8zM998.4 486.5H1004.7V493.2H998.4zM936.2 486.5H948.1V493.2H936.2zM1156.8 486.5H1168.8V493.2H1156.8zM1111.6 492.6H1151.8V499.3H1111.6zM1004.1 492.6H1010.3V499.3H1004.1zM941.8 492.6H948.1V499.3H941.8zM941.8 498.7H953.8V505.5H941.8zM1060.7 498.7H1106.5V505.5H1060.7zM1134.2 498.7H1146.1V505.5H1134.2zM1015.4 498.7H1049.9V505.5H1015.4zM1134.2 504.9H1140.5V511.6H1134.2zM947.5 504.9H959.4V517.7H947.5zM1128.6 511.0H1134.8V517.7H1128.6zM953.2 517.1H965.1V523.8H953.2zM1117.2 517.1H1129.2V523.8H1117.2zM958.8 523.2H965.1V529.9H958.8zM1105.9 523.2H1112.2V529.9H1105.9zM1089.0 529.3H1100.9V536.0H1089.0zM958.8 529.3H970.7V536.0H958.8zM1066.3 535.4H1083.9V542.2H1066.3zM964.5 535.4H970.7V542.2H964.5zM964.5 541.6H976.4V548.3H964.5zM1038.0 541.6H1066.9V548.3H1038.0zM970.1 547.7H1021.7V554.4H970.1z"/>
<path fill="#64be32" d="M664.6 260.2H704.8V266.9H664.6zM642.0 266.3H670.9V273.0H642.0zM681.6 266.3H727.4V273.0H681.6zM619.3 272.4H642.6V279.2H619.3zM709.9 272.4H733.1V279.2H709.9zM608.0 278.6H619.9V285.3H608.0zM721.2 278.6H738.8V285.3H721.2zM596.7 284.7H608.6V291.4H596.7zM726.8 284.7H789.7V291.4H726.8zM591.0 290.8H603.0V297.5H591.0zM732.5 290.8H806.7V297.5H732.5zM585.4 296.9H597.3V303.6H585.4zM732.5 296.9H812.3V303.6H732.5zM794.7 303.0H823.6V309.7H794.7zM585.4 303.0H591.6V309.7H585.4zM806.1 309.1H829.3V315.9H806.1zM579.7 309.1H586.0V315.9H579.7zM817.4 315.3H834.9V322.0H817.4zM574.1 315.3H586.0V322.0H574.1zM568.4 321.4H580.3V328.1H568.4zM823.0 321.4H840.6V328.1H823.0zM828.7 327.5H846.3V340.3H828.7zM562.8 327.5H580.3V340.3H562.8zM562.8 339.7H586.0V346.4H562.8zM568.4 345.8H586.0V352.6H568.4zM834.3 339.7H851.9V358.7H834.3zM574.1 352.0H586.0V358.7H574.1zM574.1 358.1H591.6V364.8H574.1zM834.3 358.1H857.6V364.8H834.3zM574.1 364.2H586.0V370.9H574.1zM834.3 364.2H851.9V370.9H834.3zM828.7 370.3H851.9V377.0H828.7zM568.4 370.3H586.0V383.1H568.4zM879.6 376.4H908.5V383.1H879.6zM823.0 376.4H840.6V383.1H823.0zM568.4 382.5H580.3V389.3H568.4zM806.1 382.5H829.3V389.3H806.1zM873.9 382.5H914.2V389.3H873.9zM749.5 388.7H784.0V395.4H749.5zM794.7 388.7H823.6V395.4H794.7zM879.6 388.7H914.2V395.4H879.6zM562.8 388.7H574.7V401.5H562.8zM890.9 394.8H908.5V401.5H890.9zM743.8 394.8H812.3V401.5H743.8zM743.8 400.9H795.3V407.6H743.8zM574.1 400.9H580.3V413.7H574.1zM743.8 407.0H772.7V413.7H743.8zM738.2 413.1H778.4V419.8H738.2zM568.4 413.1H574.7V425.9H568.4zM738.2 419.2H784.0V425.9H738.2zM958.8 419.2H965.1V425.9H958.8zM953.2 425.3H976.4V432.1H953.2zM642.0 425.3H665.2V432.1H642.0zM732.5 425.3H772.7V432.1H732.5zM574.1 425.3H580.3V438.2H574.1zM726.8 431.5H750.1V438.2H726.8zM658.9 431.5H676.5V438.2H658.9zM613.7 431.5H642.6V438.2H613.7zM970.1 431.5H982.1V438.2H970.1zM941.8 431.5H959.4V438.2H941.8zM670.3 437.6H733.1V444.3H670.3zM579.7 437.6H608.6V444.3H579.7zM936.2 437.6H953.8V444.3H936.2zM975.8 437.6H982.1V444.3H975.8zM675.9 443.7H682.2V450.4H675.9zM924.9 443.7H948.1V450.4H924.9zM919.2 449.8H942.4V456.5H919.2zM981.5 449.8H987.7V462.6H981.5zM913.6 455.9H942.4V462.6H913.6zM913.6 462.0H948.1V468.8H913.6zM930.5 468.2H948.1V474.9H930.5zM941.8 474.3H948.1V487.1H941.8zM987.1 480.4H993.4V487.1H987.1zM947.5 486.5H953.8V493.2H947.5zM992.8 486.5H999.0V493.2H992.8zM998.4 492.6H1004.7V499.3H998.4zM947.5 492.6H959.4V499.3H947.5zM1009.7 498.7H1016.0V505.5H1009.7zM1105.9 498.7H1134.8V505.5H1105.9zM953.2 498.7H959.4V505.5H953.2zM958.8 504.9H965.1V511.6H958.8zM1015.4 504.9H1134.8V511.6H1015.4zM1043.7 511.0H1072.6V517.7H1043.7zM958.8 511.0H970.7V517.7H958.8zM1111.6 511.0H1129.2V517.7H1111.6zM1105.9 517.1H1117.8V523.8H1105.9zM964.5 517.1H970.7V523.8H964.5zM964.5 523.2H976.4V529.9H964.5zM1089.0 523.2H1106.5V529.9H1089.0zM970.1 529.3H987.7V536.0H970.1zM1066.3 529.3H1089.6V536.0H1066.3zM970.1 535.4H1010.3V542.2H970.1zM1038.0 535.4H1066.9V542.2H1038.0zM975.8 541.6H1038.6V548.3H975.8z"/>
<path fill="#82c828" d="M670.3 266.3H682.2V273.0H670.3zM642.0 272.4H710.5V279.2H642.0zM619.3 278.6H642.6V285.3H619.3zM692.9 278.6H721.8V285.3H692.9zM704.2 284.7H727.4V291.4H704.2zM608.0 284.7H625.6V291.4H608.0zM602.4 290.8H614.3V297.5H602.4zM709.9 290.8H733.1V297.5H709.9zM715.5 296.9H733.1V303.6H715.5zM596.7 296.9H608.6V303.6H596.7zM591.0 303.0H603.0V309.7H591.0zM709.9 303.0H795.3V309.7H709.9zM709.9 309.1H806.7V315.9H709.9zM585.4 309.1H597.3V322.0H585.4zM794.7 315.3H818.0V322.0H794.7zM709.9 315.3H761.4V322.0H709.9zM806.1 321.4H823.6V328.1H806.1zM704.2 321.4H744.4V328.1H704.2zM579.7 321.4H597.3V334.2H579.7zM698.6 327.5H738.8V334.2H698.6zM811.7 327.5H829.3V334.2H811.7zM817.4 333.6H829.3V340.3H817.4zM579.7 333.6H608.6V340.3H579.7zM687.2 333.6H738.8V340.3H687.2zM585.4 339.7H642.6V346.4H585.4zM817.4 339.7H834.9V346.4H817.4zM681.6 339.7H738.8V346.4H681.6zM585.4 345.8H738.8V352.6H585.4zM585.4 352.0H733.1V358.7H585.4zM823.0 345.8H834.9V364.8H823.0zM591.0 358.1H733.1V364.8H591.0zM817.4 364.2H834.9V370.9H817.4zM585.4 364.2H733.1V370.9H585.4zM811.7 370.3H829.3V377.0H811.7zM585.4 370.3H727.4V377.0H585.4zM738.2 376.4H755.7V383.1H738.2zM585.4 376.4H721.8V383.1H585.4zM800.4 376.4H823.6V383.1H800.4zM579.7 382.5H597.3V389.3H579.7zM653.3 382.5H699.2V389.3H653.3zM721.2 382.5H806.7V389.3H721.2zM721.2 388.7H750.1V395.4H721.2zM574.1 388.7H591.6V395.4H574.1zM783.4 388.7H795.3V395.4H783.4zM574.1 394.8H586.0V401.5H574.1zM726.8 394.8H744.4V413.7H726.8zM579.7 400.9H586.0V413.7H579.7zM653.3 413.1H665.2V419.8H653.3zM726.8 413.1H738.8V419.8H726.8zM574.1 413.1H580.3V425.9H574.1zM642.0 419.2H676.5V425.9H642.0zM721.2 419.2H738.8V425.9H721.2zM664.6 425.3H733.1V432.1H664.6zM625.0 425.3H642.6V432.1H625.0zM579.7 425.3H586.0V432.1H579.7zM958.8 431.5H970.7V438.2H958.8zM675.9 431.5H727.4V438.2H675.9zM579.7 431.5H614.3V438.2H579.7zM953.2 437.6H976.4V444.3H953.2zM947.5 443.7H959.4V450.4H947.5zM975.8 443.7H982.1V456.5H975.8zM941.8 449.8H953.8V462.6H941.8zM947.5 462.0H953.8V487.1H947.5zM981.5 462.0H987.7V487.1H981.5zM987.1 486.5H993.4V493.2H987.1zM953.2 486.5H959.4V493.2H953.2zM958.8 492.6H965.1V499.3H958.8zM992.8 492.6H999.0V499.3H992.8zM998.4 498.7H1010.3V505.5H998.4zM958.8 498.7H970.7V505.5H958.8zM1009.7 504.9H1016.0V511.6H1009.7zM964.5 504.9H970.7V511.6H964.5zM1015.4 511.0H1044.3V517.7H1015.4zM1072.0 511.0H1112.2V517.7H1072.0zM970.1 511.0H976.4V523.8H970.1zM1021.1 517.1H1106.5V523.8H1021.1zM1032.4 523.2H1089.6V529.9H1032.4zM975.8 523.2H993.4V529.9H975.8zM987.1 529.3H1066.9V536.0H987.1zM1009.7 535.4H1038.6V542.2H1009.7z"/>
<path fill="#9bd223" d="M642.0 278.6H693.5V285.3H642.0zM625.0 284.7H642.6V291.4H625.0zM675.9 284.7H704.8V291.4H675.9zM692.9 290.8H710.5V297.5H692.9zM613.7 290.8H625.6V297.5H613.7zM692.9 296.9H716.1V303.6H692.9zM608.0 296.9H619.9V303.6H608.0zM692.9 303.0H710.5V309.7H692.9zM602.4 303.0H614.3V309.7H602.4zM687.2 309.1H710.5V315.9H687.2zM596.7 309.1H614.3V322.0H596.7zM675.9 315.3H710.5V322.0H675.9zM760.8 315.3H795.3V322.0H760.8zM743.8 321.4H806.7V328.1H743.8zM596.7 321.4H631.3V328.1H596.7zM670.3 321.4H704.8V328.1H670.3zM794.7 327.5H812.3V334.2H794.7zM596.7 327.5H699.2V334.2H596.7zM738.2 327.5H772.7V334.2H738.2zM800.4 333.6H818.0V340.3H800.4zM608.0 333.6H687.8V340.3H608.0zM738.2 333.6H755.7V346.4H738.2zM642.0 339.7H682.2V346.4H642.0zM806.1 339.7H818.0V346.4H806.1zM806.1 345.8H823.6V352.6H806.1zM738.2 345.8H750.1V352.6H738.2zM732.5 352.0H750.1V364.8H732.5zM811.7 352.0H823.6V364.8H811.7zM806.1 364.2H818.0V370.9H806.1zM732.5 364.2H761.4V370.9H732.5zM726.8 370.3H772.7V377.0H726.8zM800.4 370.3H812.3V377.0H800.4zM755.1 376.4H801.0V383.1H755.1zM721.2 376.4H738.8V383.1H721.2zM596.7 382.5H653.9V389.3H596.7zM698.6 382.5H721.8V389.3H698.6zM591.0 388.7H721.8V395.4H591.0zM585.4 394.8H597.3V401.5H585.4zM630.7 394.8H727.4V401.5H630.7zM636.3 400.9H727.4V407.6H636.3zM585.4 400.9H591.6V413.7H585.4zM704.2 407.0H727.4V413.7H704.2zM642.0 407.0H699.2V413.7H642.0zM636.3 413.1H653.9V419.8H636.3zM664.6 413.1H727.4V419.8H664.6zM579.7 413.1H586.0V425.9H579.7zM675.9 419.2H721.8V425.9H675.9zM625.0 419.2H642.6V425.9H625.0zM585.4 425.3H625.6V432.1H585.4zM958.8 443.7H976.4V450.4H958.8zM970.1 449.8H976.4V456.5H970.1zM953.2 449.8H959.4V468.8H953.2zM975.8 455.9H982.1V487.1H975.8zM953.2 474.3H959.4V487.1H953.2zM958.8 486.5H970.7V493.2H958.8zM981.5 486.5H987.7V493.2H981.5zM987.1 492.6H993.4V499.3H987.1zM964.5 492.6H970.7V499.3H964.5zM992.8 498.7H999.0V505.5H992.8zM970.1 498.7H976.4V511.6H970.1zM998.4 504.9H1010.3V511.6H998.4zM1004.1 511.0H1016.0V517.7H1004.1zM975.8 511.0H982.1V517.7H975.8zM975.8 517.1H1021.7V523.8H975.8zM992.8 523.2H1033.0V529.9H992.8z"/>
<path fill="#b4dc1e" d="M642.0 284.7H676.5V291.4H642.0zM625.0 290.8H642.6V297.5H625.0zM664.6 290.8H693.5V297.5H664.6zM675.9 296.9H693.5V303.6H675.9zM619.3 296.9H631.3V303.6H619.3zM670.3 303.0H693.5V309.7H670.3zM613.7 303.0H631.3V309.7H613.7zM658.9 309.1H687.8V315.9H658.9zM613.7 309.1H636.9V315.9H613.7zM613.7 315.3H676.5V322.0H613.7zM630.7 321.4H670.9V328.1H630.7zM772.1 327.5H795.3V334.2H772.1zM755.1 333.6H801.0V340.3H755.1zM789.1 339.7H806.7V346.4H789.1zM755.1 339.7H778.4V346.4H755.1zM794.7 345.8H806.7V352.6H794.7zM749.5 345.8H772.7V358.7H749.5zM794.7 352.0H812.3V364.8H794.7zM749.5 358.1H778.4V364.8H749.5zM760.8 364.2H806.7V370.9H760.8zM772.1 370.3H801.0V377.0H772.1zM596.7 394.8H631.3V401.5H596.7zM591.0 400.9H603.0V407.6H591.0zM613.7 400.9H636.9V407.6H613.7zM591.0 407.0H597.3V413.7H591.0zM619.3 407.0H642.6V413.7H619.3zM698.6 407.0H704.8V413.7H698.6zM585.4 413.1H597.3V419.8H585.4zM619.3 413.1H636.9V419.8H619.3zM585.4 419.2H625.6V425.9H585.4zM958.8 449.8H970.7V456.5H958.8zM958.8 455.9H976.4V462.6H958.8zM958.8 462.0H965.1V468.8H958.8zM953.2 468.2H959.4V474.9H953.2zM970.1 462.0H976.4V481.0H970.1zM958.8 474.3H965.1V481.0H958.8zM958.8 480.4H976.4V487.1H958.8zM970.1 486.5H982.1V493.2H970.1zM970.1 492.6H987.7V499.3H970.1zM975.8 498.7H993.4V505.5H975.8zM975.8 504.9H999.0V511.6H975.8zM981.5 511.0H1004.7V517.7H981.5z"/>
<path fill="#cde619" d="M642.0 290.8H665.2V297.5H642.0zM630.7 296.9H676.5V303.6H630.7zM630.7 303.0H670.9V309.7H630.7zM636.3 309.1H659.5V315.9H636.3zM777.8 339.7H789.7V346.4H777.8zM772.1 345.8H795.3V358.7H772.1zM777.8 358.1H795.3V364.8H777.8zM602.4 400.9H614.3V407.6H602.4zM596.7 407.0H619.9V419.8H596.7zM964.5 462.0H970.7V468.8H964.5zM958.8 468.2H970.7V474.9H958.8zM964.5 474.3H970.7V481.0H964.5z"/></g></g>

<rect x="167.0" y="101.5" width="1131.6" height="611.6" fill="url(#gridpat)" clip-path="url(#cpd)"/>
<use href="#lm" fill="#000"/><use href="#lm" fill="url(#linepat)"/>

<use href="#bc"/>
<text class="cl" transform="translate(254 484) rotate(-52)" text-anchor="middle" dy="7.5">1000</text>
<text class="cl" transform="translate(217 587) rotate(-75)" text-anchor="middle" dy="7.5">1000</text>
<text class="cl" transform="translate(246 579) rotate(-80)" text-anchor="middle" dy="7.5">2000</text>
<text class="cl" transform="translate(564 606) rotate(-33)" text-anchor="middle" dy="7.5">1000</text>
<text class="cl" transform="translate(622 592) rotate(-33)" text-anchor="middle" dy="7.5">200</text>
<text class="cl" transform="translate(814 581) rotate(65)" text-anchor="middle" dy="7.5">1000</text>
<text class="cl" transform="translate(970 537) rotate(52)" text-anchor="middle" dy="7.5">2000</text>
<text class="cl" transform="translate(892 640) rotate(-42)" text-anchor="middle" dy="7.5">2000</text>
<text class="cl" transform="translate(1205 597) rotate(35)" text-anchor="middle" dy="7.5">200</text>
<text class="cl" transform="translate(853 298) rotate(30)" text-anchor="middle" dy="7.5">1000</text>
<text class="cl" transform="translate(868 315) rotate(62)" text-anchor="middle" dy="7.5">2000</text>

</g>
<path d="M143.0 101.5H1322.6M143.0 713.1H1299.6M167.0 101.5V713.1M1298.6 101.5V715.6" stroke="#000" stroke-width="5.0" fill="none"/>
<path d="M167.0 77.5V101.5M167.0 713.1V737.1M280.2 77.5V101.5M280.2 713.1V737.1M393.3 77.5V101.5M393.3 713.1V737.1M506.5 77.5V101.5M506.5 713.1V737.1M619.6 77.5V101.5M619.6 713.1V737.1M732.8 77.5V101.5M732.8 713.1V737.1M846.0 77.5V101.5M846.0 713.1V737.1M959.1 77.5V101.5M959.1 713.1V737.1M1072.3 77.5V101.5M1072.3 713.1V737.1M1185.4 77.5V101.5M1185.4 713.1V737.1M143.0 101.5H167.0M1298.6 101.5H1322.6M143.0 162.7H167.0M1298.6 162.7H1322.6M143.0 223.8H167.0M1298.6 223.8H1322.6M143.0 285.0H167.0M1298.6 285.0H1322.6M143.0 346.1H167.0M1298.6 346.1H1322.6M143.0 407.3H167.0M1298.6 407.3H1322.6M143.0 468.5H167.0M1298.6 468.5H1322.6M143.0 529.6H167.0M1298.6 529.6H1322.6M143.0 590.8H167.0M1298.6 590.8H1322.6M143.0 651.9H167.0M1298.6 651.9H1322.6M143.0 713.1H167.0M1298.6 713.1H1322.6" stroke="#000" stroke-width="5.0" fill="none"/>
<text x="12.5" y="107.8" class="ax" textLength="107.5" lengthAdjust="spacingAndGlyphs">31°N</text>
<text x="12.5" y="230.2" class="ax" textLength="107.5" lengthAdjust="spacingAndGlyphs">29°N</text>
<text x="12.5" y="352.6" class="ax" textLength="107.5" lengthAdjust="spacingAndGlyphs">27°N</text>
<text x="12.5" y="475.6" class="ax" textLength="107.5" lengthAdjust="spacingAndGlyphs">25°N</text>
<text x="12.5" y="597.1" class="ax" textLength="107.5" lengthAdjust="spacingAndGlyphs">23°N</text>
<text x="12.5" y="718.1" class="ax" textLength="107.5" lengthAdjust="spacingAndGlyphs">21°N</text>
<rect x="167.0" y="668.6" width="43.5" height="44.5" fill="#fff" stroke="#000" stroke-width="3"/>
<text x="189.0" y="710.1" class="pl" text-anchor="middle">d</text>
<g transform="translate(0,681.7)">
<clipPath id="cpe"><path d="M732.8 144.3H829.0V150.4H732.8zM676.2 150.4H851.6V156.5H676.2zM676.2 156.5H857.3V162.7H676.2zM670.6 162.7H868.6V168.8H670.6zM659.2 168.8H868.6V174.9H659.2zM1157.1 174.9H1168.5V181.0H1157.1zM653.6 174.9H874.2V181.0H653.6zM936.5 174.9H959.1V181.0H936.5zM399.0 181.0H432.9V187.1H399.0zM670.6 181.0H970.4V187.1H670.6zM500.8 181.0H523.5V187.1H500.8zM670.6 187.1H976.1V193.2H670.6zM370.7 187.1H466.9V193.2H370.7zM495.2 187.1H529.1V193.2H495.2zM1162.8 181.0H1174.1V199.4H1162.8zM348.1 193.2H529.1V199.4H348.1zM670.6 193.2H987.4V205.5H670.6zM342.4 199.4H529.1V205.5H342.4zM336.7 205.5H534.8V211.6H336.7zM670.6 205.5H993.1V211.6H670.6zM1162.8 199.4H1179.8V217.7H1162.8zM331.1 211.6H534.8V217.7H331.1zM580.0 211.6H631.0V217.7H580.0zM670.6 211.6H998.7V217.7H670.6zM325.4 217.7H1004.4V223.8H325.4zM1162.8 217.7H1185.4V223.8H1162.8zM319.8 223.8H1010.0V229.9H319.8zM314.1 229.9H1010.0V236.1H314.1zM302.8 236.1H1015.7V242.2H302.8zM1168.5 223.8H1185.4V248.3H1168.5zM291.5 242.2H1015.7V248.3H291.5zM274.5 248.3H1021.4V254.4H274.5zM263.2 254.4H1021.4V260.5H263.2zM1168.5 248.3H1191.1V266.6H1168.5zM257.5 260.5H1015.7V266.6H257.5zM251.9 266.6H1015.7V272.7H251.9zM1174.1 266.6H1191.1V278.9H1174.1zM246.2 272.7H1015.7V278.9H246.2zM1174.1 278.9H1196.8V285.0H1174.1zM234.9 278.9H1015.7V291.1H234.9zM229.2 291.1H1015.7V303.3H229.2zM217.9 303.3H1015.7V309.4H217.9zM212.3 309.4H1021.4V315.6H212.3zM206.6 315.6H1021.4V321.7H206.6zM206.6 321.7H1027.0V333.9H206.6zM1174.1 285.0H1202.4V340.0H1174.1zM206.6 333.9H1032.7V346.1H206.6zM206.6 346.1H1038.3V358.4H206.6zM206.6 358.4H1044.0V364.5H206.6zM206.6 364.5H1049.6V376.7H206.6zM206.6 376.7H1055.3V389.0H206.6zM1179.8 340.0H1202.4V395.1H1179.8zM212.3 389.0H1061.0V395.1H212.3zM212.3 395.1H1066.6V401.2H212.3zM212.3 401.2H1072.3V413.4H212.3zM1185.4 395.1H1202.4V419.5H1185.4zM212.3 413.4H1077.9V419.5H212.3zM212.3 419.5H1083.6V425.6H212.3zM212.3 425.6H1089.3V431.8H212.3zM212.3 431.8H1094.9V437.9H212.3zM206.6 437.9H1094.9V444.0H206.6zM1179.8 419.5H1202.4V450.1H1179.8zM200.9 444.0H1100.6V450.1H200.9zM195.3 450.1H1106.2V456.2H195.3zM1174.1 450.1H1196.8V462.3H1174.1zM195.3 456.2H1117.5V462.3H195.3zM200.9 462.3H1128.9V468.5H200.9zM1168.5 462.3H1196.8V468.5H1168.5zM206.6 468.5H1140.2V474.6H206.6zM1162.8 468.5H1191.1V474.6H1162.8zM206.6 474.6H1191.1V480.7H206.6zM206.6 480.7H1185.4V499.0H206.6zM206.6 499.0H1179.8V511.3H206.6zM206.6 511.3H1174.1V517.4H206.6zM404.6 517.4H1174.1V523.5H404.6zM206.6 517.4H393.3V523.5H206.6zM206.6 523.5H1168.5V529.6H206.6zM206.6 529.6H523.5V535.7H206.6zM546.1 529.6H1157.1V535.7H546.1zM206.6 535.7H449.9V541.9H206.6zM466.9 535.7H517.8V541.9H466.9zM551.7 535.7H1151.5V541.9H551.7zM551.7 541.9H1128.9V548.0H551.7zM478.2 541.9H512.1V548.0H478.2zM348.1 541.9H455.6V554.1H348.1zM206.6 541.9H336.7V554.1H206.6zM551.7 548.0H1117.5V554.1H551.7zM489.5 548.0H506.5V554.1H489.5zM540.4 554.1H1106.2V560.2H540.4zM206.6 554.1H461.2V560.2H206.6zM495.2 554.1H506.5V560.2H495.2zM540.4 560.2H1100.6V566.3H540.4zM212.3 560.2H455.6V566.3H212.3zM223.6 566.3H319.8V572.4H223.6zM551.7 566.3H625.3V572.4H551.7zM704.5 566.3H1083.6V572.4H704.5zM342.4 566.3H444.2V572.4H342.4zM223.6 572.4H314.1V578.5H223.6zM744.1 572.4H1021.4V578.5H744.1zM348.1 572.4H438.6V578.5H348.1zM755.4 578.5H1004.4V584.7H755.4zM229.2 578.5H308.4V584.7H229.2zM359.4 578.5H427.3V584.7H359.4zM246.2 584.7H297.1V590.8H246.2zM766.7 584.7H981.8V590.8H766.7zM251.9 590.8H291.5V596.9H251.9zM772.4 590.8H964.8V596.9H772.4zM778.1 596.9H953.5V603.0H778.1zM783.7 603.0H942.1V609.1H783.7zM795.0 609.1H930.8V615.2H795.0zM800.7 615.2H919.5V621.4H800.7zM806.4 621.4H908.2V627.5H806.4zM806.4 627.5H896.9V633.6H806.4zM812.0 633.6H891.2V639.7H812.0zM817.7 639.7H879.9V645.8H817.7zM823.3 645.8H874.2V651.9H823.3zM834.6 651.9H862.9V658.1H834.6z"/></clipPath>
<g clip-path="url(#cpe)"><g filter="url(#bl)"><path fill="#c800ff" d="M743.8 131.8H840.6V138.5H743.8zM721.2 131.8H733.1V138.5H721.2zM709.9 137.9H727.4V144.6H709.9zM749.5 137.9H863.2V144.6H749.5zM664.6 137.9H693.5V144.6H664.6zM800.4 144.0H868.9V150.7H800.4zM755.1 144.0H784.0V150.7H755.1zM664.6 144.0H687.8V150.7H664.6zM828.7 150.1H880.2V156.8H828.7zM658.9 150.1H676.5V156.8H658.9zM840.0 156.2H880.2V163.0H840.0zM647.6 156.2H670.9V163.0H647.6zM851.3 162.4H885.9V169.1H851.3zM1145.5 162.4H1180.1V169.1H1145.5zM924.9 162.4H970.7V169.1H924.9zM862.6 168.5H982.1V175.2H862.6zM873.9 174.6H987.7V181.3H873.9zM523.2 174.6H540.7V181.3H523.2zM1145.5 168.5H1185.7V187.4H1145.5zM890.9 180.7H999.0V187.4H890.9zM907.9 186.8H999.0V193.5H907.9zM1145.5 186.8H1191.4V193.5H1145.5zM919.2 192.9H1004.7V199.7H919.2zM1151.2 192.9H1191.4V205.8H1151.2zM936.2 199.1H1010.3V205.8H936.2zM953.2 205.2H1016.0V211.9H953.2zM964.5 211.3H1021.7V218.0H964.5zM970.1 217.4H1021.7V224.1H970.1zM975.8 223.5H1027.3V230.2H975.8zM1151.2 205.2H1197.1V236.4H1151.2zM981.5 229.6H1027.3V236.4H981.5zM981.5 235.8H1033.0V242.5H981.5zM992.8 241.9H1033.0V254.7H992.8zM1156.8 235.8H1202.7V266.9H1156.8zM998.4 254.1H1033.0V266.9H998.4zM1156.8 266.3H1208.4V273.0H1156.8zM1004.1 266.3H1033.0V273.0H1004.1zM1156.8 272.4H1214.0V279.2H1156.8zM1004.1 272.4H1027.3V279.2H1004.1zM1162.5 278.6H1214.0V285.3H1162.5zM1009.7 278.6H1027.3V291.4H1009.7zM1162.5 284.7H1180.1V291.4H1162.5zM1015.4 290.8H1027.3V297.5H1015.4zM1162.5 290.8H1168.8V297.5H1162.5zM1015.4 296.9H1033.0V303.6H1015.4zM1021.1 303.0H1033.0V309.7H1021.1zM1021.1 309.1H1038.6V322.0H1021.1zM1021.1 321.4H1044.3V334.2H1021.1zM1026.7 333.6H1049.9V346.4H1026.7zM1026.7 345.8H1055.6V352.6H1026.7zM1026.7 352.0H1061.3V358.7H1026.7zM1032.4 358.1H1061.3V364.8H1032.4zM1038.0 364.2H1066.9V370.9H1038.0zM1049.3 370.3H1066.9V377.0H1049.3zM1060.7 376.4H1072.6V383.1H1060.7zM1066.3 382.5H1078.2V389.3H1066.3zM1072.0 388.7H1083.9V401.5H1072.0zM1072.0 400.9H1089.6V407.6H1072.0zM1072.0 407.0H1095.2V413.7H1072.0zM1077.6 413.1H1100.9V419.8H1077.6zM1077.6 419.2H1106.5V425.9H1077.6zM1083.3 425.3H1106.5V432.1H1083.3zM1089.0 431.5H1112.2V438.2H1089.0zM1094.6 437.6H1117.8V444.3H1094.6zM1100.3 443.7H1129.2V450.4H1100.3zM1105.9 449.8H1134.8V462.6H1105.9zM1111.6 462.0H1129.2V468.8H1111.6zM472.2 517.1H495.5V523.8H472.2zM460.9 523.2H501.1V529.9H460.9zM449.6 529.3H506.8V536.0H449.6zM438.3 535.4H512.4V542.2H438.3zM404.3 541.6H529.4V548.3H404.3zM376.0 547.7H546.4V554.4H376.0zM715.5 553.8H733.1V560.5H715.5zM528.8 553.8H557.7V560.5H528.8zM364.7 553.8H523.8V560.5H364.7zM359.1 559.9H472.8V566.6H359.1zM528.8 559.9H755.7V566.6H528.8zM477.9 559.9H518.1V566.6H477.9zM347.8 566.0H472.8V572.7H347.8zM483.5 566.0H518.1V572.7H483.5zM528.8 566.0H767.0V578.8H528.8zM347.8 572.1H467.2V578.8H347.8zM353.4 578.2H455.9V585.0H353.4zM692.9 578.2H772.7V585.0H692.9zM540.1 578.2H636.9V585.0H540.1zM376.0 584.4H450.2V591.1H376.0zM732.5 584.4H778.4V591.1H732.5zM743.8 590.5H789.7V597.2H743.8zM404.3 590.5H438.9V597.2H404.3zM755.1 596.6H795.3V603.3H755.1zM760.8 602.7H801.0V609.4H760.8zM766.4 608.8H806.7V615.5H766.4zM772.1 614.9H812.3V621.7H772.1zM783.4 621.1H818.0V627.8H783.4zM789.1 627.2H823.6V633.9H789.1zM794.7 633.3H829.3V640.0H794.7zM794.7 639.4H840.6V646.1H794.7zM800.4 645.5H880.2V652.2H800.4zM806.1 651.6H885.9V658.4H806.1zM811.7 657.8H885.9V664.5H811.7zM823.0 663.9H874.5V670.6H823.0z"/>
<path fill="#9614ff" d="M732.5 131.8H744.4V138.5H732.5zM692.9 137.9H710.5V144.6H692.9zM726.8 137.9H750.1V144.6H726.8zM704.2 144.0H755.7V150.7H704.2zM687.2 144.0H699.2V150.7H687.2zM783.4 144.0H801.0V150.7H783.4zM675.9 150.1H693.5V156.8H675.9zM749.5 150.1H829.3V156.8H749.5zM715.5 150.1H721.8V156.8H715.5zM817.4 156.2H840.6V163.0H817.4zM670.3 156.2H687.8V163.0H670.3zM642.0 162.4H682.2V169.1H642.0zM834.3 162.4H851.9V169.1H834.3zM421.3 168.5H444.5V175.2H421.3zM489.2 168.5H535.1V175.2H489.2zM642.0 168.5H670.9V175.2H642.0zM845.7 168.5H863.2V175.2H845.7zM642.0 174.6H665.2V181.3H642.0zM427.0 174.6H478.5V181.3H427.0zM483.5 174.6H523.8V181.3H483.5zM857.0 174.6H874.5V181.3H857.0zM642.0 180.7H659.5V187.4H642.0zM862.6 180.7H891.5V187.4H862.6zM432.6 180.7H540.7V187.4H432.6zM642.0 186.8H653.9V193.5H642.0zM879.6 186.8H908.5V193.5H879.6zM477.9 186.8H540.7V193.5H477.9zM528.8 192.9H546.4V199.7H528.8zM890.9 192.9H919.8V199.7H890.9zM907.9 199.1H936.8V205.8H907.9zM919.2 205.2H953.8V211.9H919.2zM936.2 211.3H965.1V218.0H936.2zM947.5 217.4H970.7V224.1H947.5zM953.2 223.5H976.4V230.2H953.2zM958.8 229.6H982.1V236.4H958.8zM964.5 235.8H982.1V242.5H964.5zM970.1 241.9H993.4V248.6H970.1zM975.8 248.0H993.4V254.7H975.8zM981.5 254.1H999.0V260.8H981.5zM987.1 260.2H999.0V266.9H987.1zM987.1 266.3H1004.7V273.0H987.1zM992.8 272.4H1004.7V279.2H992.8zM992.8 278.6H1010.3V285.3H992.8zM998.4 284.7H1010.3V291.4H998.4zM1179.5 284.7H1214.0V291.4H1179.5zM998.4 290.8H1016.0V297.5H998.4zM1168.2 290.8H1214.0V297.5H1168.2zM1004.1 296.9H1016.0V303.6H1004.1zM1004.1 303.0H1021.7V309.7H1004.1zM1009.7 309.1H1021.7V328.1H1009.7zM1015.4 327.5H1021.7V334.2H1015.4zM1162.5 296.9H1214.0V346.4H1162.5zM1015.4 333.6H1027.3V346.4H1015.4zM1162.5 345.8H1174.4V352.6H1162.5zM1185.1 345.8H1214.0V352.6H1185.1zM1021.1 345.8H1027.3V358.7H1021.1zM1196.5 352.0H1214.0V358.7H1196.5zM1021.1 358.1H1033.0V364.8H1021.1zM1026.7 364.2H1038.6V370.9H1026.7zM1026.7 370.3H1049.9V377.0H1026.7zM1032.4 376.4H1061.3V383.1H1032.4zM1038.0 382.5H1066.9V389.3H1038.0zM1055.0 388.7H1072.6V395.4H1055.0zM1060.7 394.8H1072.6V407.6H1060.7zM1066.3 407.0H1072.6V413.7H1066.3zM1066.3 413.1H1078.2V425.9H1066.3zM1072.0 425.3H1083.9V432.1H1072.0zM189.3 431.5H201.2V438.2H189.3zM1072.0 431.5H1089.6V438.2H1072.0zM183.7 437.6H206.9V444.3H183.7zM1077.6 437.6H1095.2V444.3H1077.6zM183.7 443.7H212.6V450.4H183.7zM1083.3 443.7H1100.9V450.4H1083.3zM1134.2 449.8H1140.5V456.5H1134.2zM1094.6 449.8H1106.5V456.5H1094.6zM1100.3 455.9H1106.5V462.6H1100.3zM1134.2 455.9H1146.1V462.6H1134.2zM183.7 449.8H218.2V468.8H183.7zM1128.6 462.0H1140.5V468.8H1128.6zM1100.3 462.0H1112.2V468.8H1100.3zM1105.9 468.2H1129.2V474.9H1105.9zM183.7 468.2H212.6V474.9H183.7zM189.3 474.3H206.9V481.0H189.3zM466.6 504.9H501.1V511.6H466.6zM443.9 511.0H512.4V517.7H443.9zM494.9 517.1H518.1V523.8H494.9zM432.6 517.1H472.8V523.8H432.6zM500.5 523.2H529.4V529.9H500.5zM421.3 523.2H461.5V529.9H421.3zM506.2 529.3H535.1V536.0H506.2zM370.4 529.3H450.2V536.0H370.4zM364.7 535.4H438.9V542.2H364.7zM511.8 535.4H546.4V542.2H511.8zM528.8 541.6H552.0V548.3H528.8zM359.1 541.6H404.9V548.3H359.1zM545.8 547.7H569.0V554.4H545.8zM353.4 547.7H376.6V554.4H353.4zM574.1 547.7H755.7V554.4H574.1zM557.1 553.8H716.1V560.5H557.1zM342.1 553.8H365.3V560.5H342.1zM732.5 553.8H767.0V560.5H732.5zM755.1 559.9H772.7V566.6H755.1zM330.8 559.9H359.7V566.6H330.8zM766.4 566.0H778.4V572.7H766.4zM325.1 566.0H348.4V572.7H325.1zM313.8 572.1H348.4V578.8H313.8zM766.4 572.1H784.0V578.8H766.4zM308.1 578.2H354.0V585.0H308.1zM772.1 578.2H789.7V585.0H772.1zM777.8 584.4H795.3V591.1H777.8zM336.4 584.4H376.6V591.1H336.4zM302.5 584.4H325.7V591.1H302.5zM313.8 590.5H320.1V597.2H313.8zM789.1 590.5H801.0V597.2H789.1zM347.8 590.5H404.9V597.2H347.8zM794.7 596.6H806.7V603.3H794.7zM800.4 602.7H812.3V609.4H800.4zM806.1 608.8H818.0V615.5H806.1zM811.7 614.9H823.6V621.7H811.7zM817.4 621.1H834.9V627.8H817.4zM823.0 627.2H840.6V633.9H823.0zM873.9 633.3H880.2V640.0H873.9zM828.7 633.3H857.6V640.0H828.7zM840.0 639.4H885.9V646.1H840.0zM879.6 645.5H885.9V652.2H879.6zM885.3 651.6H891.5V658.4H885.3z"/>
<path fill="#6e28fa" d="M698.6 144.0H704.8V150.7H698.6zM692.9 150.1H716.1V156.8H692.9zM721.2 150.1H750.1V156.8H721.2zM687.2 156.2H721.8V163.0H687.2zM749.5 156.2H818.0V163.0H749.5zM681.6 162.4H699.2V169.1H681.6zM811.7 162.4H834.9V169.1H811.7zM387.4 168.5H421.9V175.2H387.4zM828.7 168.5H846.3V175.2H828.7zM670.3 168.5H693.5V175.2H670.3zM387.4 174.6H427.6V181.3H387.4zM664.6 174.6H687.8V181.3H664.6zM840.0 174.6H857.6V181.3H840.0zM845.7 180.7H863.2V187.4H845.7zM387.4 180.7H433.2V187.4H387.4zM658.9 180.7H676.5V187.4H658.9zM857.0 186.8H880.2V193.5H857.0zM404.3 186.8H478.5V193.5H404.3zM653.3 186.8H670.9V193.5H653.3zM868.3 192.9H891.5V199.7H868.3zM494.9 192.9H529.4V199.7H494.9zM658.9 192.9H665.2V199.7H658.9zM568.4 199.1H642.6V205.8H568.4zM528.8 199.1H546.4V205.8H528.8zM885.3 199.1H908.5V205.8H885.3zM896.6 205.2H919.8V211.9H896.6zM540.1 205.2H642.6V211.9H540.1zM907.9 211.3H936.8V218.0H907.9zM551.4 211.3H586.0V218.0H551.4zM919.2 217.4H948.1V224.1H919.2zM930.5 223.5H953.8V230.2H930.5zM941.8 229.6H959.4V236.4H941.8zM947.5 235.8H965.1V242.5H947.5zM947.5 241.9H970.7V248.6H947.5zM953.2 248.0H976.4V254.7H953.2zM958.8 254.1H982.1V260.8H958.8zM964.5 260.2H987.7V266.9H964.5zM970.1 266.3H987.7V273.0H970.1zM975.8 272.4H993.4V279.2H975.8zM981.5 278.6H993.4V285.3H981.5zM981.5 284.7H999.0V291.4H981.5zM987.1 290.8H999.0V297.5H987.1zM987.1 296.9H1004.7V303.6H987.1zM992.8 303.0H1004.7V309.7H992.8zM992.8 309.1H1010.3V315.9H992.8zM998.4 315.3H1010.3V328.1H998.4zM998.4 327.5H1016.0V334.2H998.4zM1004.1 333.6H1016.0V346.4H1004.1zM1173.8 345.8H1185.7V352.6H1173.8zM1168.2 352.0H1197.1V358.7H1168.2zM1009.7 345.8H1021.7V364.8H1009.7zM1168.2 358.1H1214.0V370.9H1168.2zM1015.4 364.2H1027.3V370.9H1015.4zM1185.1 370.3H1214.0V377.0H1185.1zM1021.1 370.3H1027.3V377.0H1021.1zM1168.2 370.3H1180.1V383.1H1168.2zM1196.5 376.4H1214.0V383.1H1196.5zM1021.1 376.4H1033.0V383.1H1021.1zM1202.1 382.5H1214.0V389.3H1202.1zM1026.7 382.5H1038.6V389.3H1026.7zM1026.7 388.7H1055.6V395.4H1026.7zM1032.4 394.8H1061.3V401.5H1032.4zM1196.5 388.7H1214.0V407.6H1196.5zM1038.0 400.9H1061.3V407.6H1038.0zM1168.2 382.5H1174.4V413.7H1168.2zM1202.1 407.0H1214.0V413.7H1202.1zM1055.0 407.0H1066.9V419.8H1055.0zM1207.8 413.1H1214.0V419.8H1207.8zM1060.7 419.2H1066.9V425.9H1060.7zM1060.7 425.3H1072.6V432.1H1060.7zM195.0 425.3H212.6V432.1H195.0zM200.6 431.5H218.2V438.2H200.6zM1066.3 431.5H1072.6V438.2H1066.3zM1066.3 437.6H1078.2V444.3H1066.3zM206.3 437.6H223.9V444.3H206.3zM1066.3 443.7H1083.9V450.4H1066.3zM212.0 443.7H223.9V450.4H212.0zM217.6 449.8H223.9V456.5H217.6zM1072.0 449.8H1095.2V456.5H1072.0zM1072.0 455.9H1100.9V462.6H1072.0zM1145.5 455.9H1151.8V462.6H1145.5zM217.6 455.9H229.5V468.8H217.6zM1094.6 462.0H1100.9V468.8H1094.6zM1072.0 462.0H1083.9V468.8H1072.0zM1139.9 462.0H1146.1V468.8H1139.9zM1128.6 468.2H1140.5V474.9H1128.6zM1100.3 468.2H1106.5V474.9H1100.3zM212.0 468.2H229.5V474.9H212.0zM1105.9 474.3H1123.5V481.0H1105.9zM206.3 474.3H229.5V481.0H206.3zM472.2 492.6H495.5V499.3H472.2zM432.6 498.7H518.1V505.5H432.6zM500.5 504.9H529.4V511.6H500.5zM421.3 504.9H467.2V511.6H421.3zM511.8 511.0H540.7V517.7H511.8zM370.4 511.0H444.5V517.7H370.4zM359.1 517.1H433.2V523.8H359.1zM517.5 517.1H546.4V523.8H517.5zM353.4 523.2H421.9V529.9H353.4zM528.8 523.2H552.0V529.9H528.8zM195.0 480.4H229.5V536.0H195.0zM653.3 529.3H716.1V536.0H653.3zM534.5 529.3H557.7V536.0H534.5zM347.8 529.3H371.0V536.0H347.8zM545.8 535.4H569.0V542.2H545.8zM342.1 535.4H365.3V542.2H342.1zM574.1 535.4H750.1V542.2H574.1zM195.0 535.4H235.2V542.2H195.0zM195.0 541.6H246.5V548.3H195.0zM551.4 541.6H767.0V548.3H551.4zM336.4 541.6H359.7V548.3H336.4zM325.1 547.7H354.0V554.4H325.1zM755.1 547.7H778.4V554.4H755.1zM568.4 547.7H574.7V554.4H568.4zM195.0 547.7H252.2V560.5H195.0zM1100.3 553.8H1140.5V560.5H1100.3zM313.8 553.8H342.7V560.5H313.8zM766.4 553.8H784.0V560.5H766.4zM296.8 559.9H331.4V566.6H296.8zM195.0 559.9H263.5V566.6H195.0zM1083.3 559.9H1129.2V566.6H1083.3zM772.1 559.9H789.7V566.6H772.1zM777.8 566.0H795.3V572.7H777.8zM195.0 566.0H325.7V572.7H195.0zM1077.6 566.0H1117.8V572.7H1077.6zM200.6 572.1H314.4V578.8H200.6zM1077.6 572.1H1112.2V578.8H1077.6zM783.4 572.1H801.0V578.8H783.4zM789.1 578.2H801.0V585.0H789.1zM212.0 578.2H308.8V585.0H212.0zM1077.6 578.2H1095.2V585.0H1077.6zM212.0 584.4H303.1V591.1H212.0zM794.7 584.4H806.7V591.1H794.7zM800.4 590.5H812.3V597.2H800.4zM217.6 590.5H314.4V597.2H217.6zM806.1 596.6H818.0V603.3H806.1zM234.6 596.6H308.8V603.3H234.6zM811.7 602.7H823.6V609.4H811.7zM240.3 602.7H303.1V609.4H240.3zM817.4 608.8H834.9V615.5H817.4zM936.2 608.8H953.8V615.5H936.2zM913.6 614.9H948.1V621.7H913.6zM823.0 614.9H840.6V621.7H823.0zM890.9 621.1H942.4V627.8H890.9zM834.3 621.1H851.9V627.8H834.3zM840.0 627.2H931.1V633.9H840.0zM857.0 633.3H874.5V640.0H857.0zM879.6 633.3H919.8V640.0H879.6zM885.3 639.4H908.5V646.1H885.3zM885.3 645.5H902.8V652.2H885.3z"/>
<path fill="#463cf0" d="M721.2 156.2H750.1V163.0H721.2zM749.5 162.4H812.3V169.1H749.5zM698.6 162.4H721.8V169.1H698.6zM692.9 168.5H710.5V175.2H692.9zM806.1 168.5H829.3V175.2H806.1zM760.8 168.5H767.0V175.2H760.8zM370.4 174.6H388.0V181.3H370.4zM817.4 174.6H840.6V181.3H817.4zM687.2 174.6H704.8V181.3H687.2zM828.7 180.7H846.3V187.4H828.7zM376.0 180.7H388.0V187.4H376.0zM675.9 180.7H693.5V187.4H675.9zM840.0 186.8H857.6V193.5H840.0zM381.7 186.8H404.9V193.5H381.7zM670.3 186.8H687.8V193.5H670.3zM664.6 192.9H676.5V199.7H664.6zM845.7 192.9H868.9V199.7H845.7zM398.7 192.9H495.5V199.7H398.7zM506.2 199.1H529.4V205.8H506.2zM658.9 199.1H665.2V205.8H658.9zM857.0 199.1H885.9V205.8H857.0zM528.8 205.2H540.7V211.9H528.8zM868.3 205.2H897.2V211.9H868.3zM642.0 205.2H653.9V211.9H642.0zM540.1 211.3H552.0V218.0H540.1zM585.4 211.3H625.6V218.0H585.4zM879.6 211.3H908.5V218.0H879.6zM890.9 217.4H919.8V224.1H890.9zM551.4 217.4H586.0V224.1H551.4zM896.6 223.5H931.1V230.2H896.6zM907.9 229.6H942.4V236.4H907.9zM919.2 235.8H948.1V242.5H919.2zM924.9 241.9H948.1V248.6H924.9zM930.5 248.0H953.8V254.7H930.5zM936.2 254.1H959.4V260.8H936.2zM941.8 260.2H965.1V266.9H941.8zM941.8 266.3H970.7V273.0H941.8zM947.5 272.4H976.4V279.2H947.5zM953.2 278.6H982.1V285.3H953.2zM958.8 284.7H982.1V291.4H958.8zM964.5 290.8H987.7V297.5H964.5zM970.1 296.9H987.7V303.6H970.1zM975.8 303.0H993.4V315.9H975.8zM981.5 315.3H999.0V334.2H981.5zM981.5 333.6H1004.7V340.3H981.5zM987.1 339.7H1004.7V346.4H987.1zM987.1 345.8H1010.3V352.6H987.1zM992.8 352.0H1010.3V358.7H992.8zM998.4 358.1H1010.3V364.8H998.4zM998.4 364.2H1016.0V370.9H998.4zM1004.1 370.3H1021.7V377.0H1004.1zM1179.5 370.3H1185.7V377.0H1179.5zM1179.5 376.4H1197.1V383.1H1179.5zM1009.7 376.4H1021.7V383.1H1009.7zM1009.7 382.5H1027.3V389.3H1009.7zM1173.8 382.5H1202.7V389.3H1173.8zM1015.4 388.7H1027.3V395.4H1015.4zM1015.4 394.8H1033.0V401.5H1015.4zM1173.8 388.7H1197.1V407.6H1173.8zM1015.4 400.9H1038.6V407.6H1015.4zM1021.1 407.0H1055.6V413.7H1021.1zM1173.8 407.0H1202.7V413.7H1173.8zM200.6 413.1H218.2V419.8H200.6zM1026.7 413.1H1055.6V419.8H1026.7zM1168.2 413.1H1208.4V419.8H1168.2zM1026.7 419.2H1061.3V425.9H1026.7zM200.6 419.2H229.5V425.9H200.6zM1168.2 419.2H1180.1V432.1H1168.2zM1032.4 425.3H1061.3V432.1H1032.4zM212.0 425.3H246.5V432.1H212.0zM1190.8 419.2H1214.0V438.2H1190.8zM1168.2 431.5H1174.4V438.2H1168.2zM217.6 431.5H246.5V438.2H217.6zM1162.5 437.6H1174.4V444.3H1162.5zM1196.5 437.6H1214.0V444.3H1196.5zM1032.4 431.5H1066.9V450.4H1032.4zM223.3 437.6H246.5V450.4H223.3zM1162.5 443.7H1168.8V450.4H1162.5zM1207.8 443.7H1214.0V450.4H1207.8zM223.3 449.8H252.2V456.5H223.3zM1156.8 449.8H1163.1V456.5H1156.8zM1055.0 449.8H1072.6V456.5H1055.0zM1032.4 449.8H1049.9V456.5H1032.4zM228.9 455.9H252.2V462.6H228.9zM1151.2 455.9H1157.4V462.6H1151.2zM1060.7 455.9H1072.6V468.8H1060.7zM1032.4 455.9H1044.3V468.8H1032.4zM1145.5 462.0H1151.8V468.8H1145.5zM1083.3 462.0H1095.2V468.8H1083.3zM1066.3 468.2H1100.9V474.9H1066.3zM1139.9 468.2H1146.1V474.9H1139.9zM1100.3 474.3H1106.5V481.0H1100.3zM1122.9 474.3H1134.8V481.0H1122.9zM1072.0 474.3H1083.9V481.0H1072.0zM228.9 462.0H257.8V487.1H228.9zM438.3 486.5H512.4V493.2H438.3zM228.9 486.5H263.5V493.2H228.9zM228.9 492.6H303.1V499.3H228.9zM364.7 492.6H472.8V499.3H364.7zM494.9 492.6H535.1V499.3H494.9zM353.4 498.7H433.2V505.5H353.4zM228.9 498.7H314.4V505.5H228.9zM517.5 498.7H546.4V505.5H517.5zM342.1 504.9H421.9V511.6H342.1zM528.8 504.9H557.7V511.6H528.8zM228.9 504.9H325.7V511.6H228.9zM228.9 511.0H371.0V517.7H228.9zM540.1 511.0H710.5V517.7H540.1zM1162.5 511.0H1191.4V517.7H1162.5zM1156.8 517.1H1191.4V523.8H1156.8zM545.8 517.1H716.1V523.8H545.8zM228.9 517.1H359.7V523.8H228.9zM228.9 523.2H354.0V529.9H228.9zM551.4 523.2H744.4V529.9H551.4zM1156.8 523.2H1185.7V536.0H1156.8zM557.1 529.3H653.9V536.0H557.1zM228.9 529.3H348.4V536.0H228.9zM715.5 529.3H761.4V536.0H715.5zM1128.6 535.4H1180.1V542.2H1128.6zM568.4 535.4H574.7V542.2H568.4zM749.5 535.4H772.7V542.2H749.5zM234.6 535.4H342.7V542.2H234.6zM1117.2 541.6H1168.8V548.3H1117.2zM766.4 541.6H784.0V548.3H766.4zM245.9 541.6H337.0V548.3H245.9zM251.6 547.7H325.7V554.4H251.6zM777.8 547.7H795.3V554.4H777.8zM1105.9 547.7H1163.1V554.4H1105.9zM1089.0 553.8H1100.9V560.5H1089.0zM783.4 553.8H801.0V560.5H783.4zM251.6 553.8H314.4V560.5H251.6zM789.1 559.9H801.0V566.6H789.1zM262.9 559.9H297.4V566.6H262.9zM1077.6 559.9H1083.9V566.6H1077.6zM1060.7 566.0H1078.2V572.7H1060.7zM794.7 566.0H806.7V572.7H794.7zM800.4 572.1H812.3V578.8H800.4zM1032.4 572.1H1078.2V578.8H1032.4zM1009.7 578.2H1078.2V585.0H1009.7zM800.4 578.2H818.0V585.0H800.4zM806.1 584.4H823.6V591.1H806.1zM987.1 584.4H1033.0V591.1H987.1zM811.7 590.5H829.3V597.2H811.7zM970.1 590.5H1016.0V597.2H970.1zM817.4 596.6H834.9V603.3H817.4zM953.2 596.6H993.4V603.3H953.2zM823.0 602.7H840.6V609.4H823.0zM930.5 602.7H976.4V609.4H930.5zM953.2 608.8H965.1V615.5H953.2zM834.3 608.8H846.3V615.5H834.3zM913.6 608.8H936.8V615.5H913.6zM885.3 614.9H914.2V621.7H885.3zM840.0 614.9H857.6V621.7H840.0zM947.5 614.9H953.8V621.7H947.5zM851.3 621.1H891.5V627.8H851.3z"/>
<path fill="#3c4bd2" d="M721.2 162.4H750.1V169.1H721.2zM766.4 168.5H806.7V175.2H766.4zM709.9 168.5H761.4V175.2H709.9zM704.2 174.6H716.1V181.3H704.2zM743.8 174.6H818.0V181.3H743.8zM359.1 174.6H371.0V181.3H359.1zM692.9 180.7H710.5V187.4H692.9zM806.1 180.7H829.3V187.4H806.1zM336.4 180.7H376.6V187.4H336.4zM330.8 186.8H382.3V193.5H330.8zM687.2 186.8H704.8V193.5H687.2zM811.7 186.8H840.6V193.5H811.7zM325.1 192.9H399.3V199.7H325.1zM675.9 192.9H693.5V199.7H675.9zM823.0 192.9H846.3V199.7H823.0zM330.8 199.1H506.8V205.8H330.8zM664.6 199.1H676.5V205.8H664.6zM834.3 199.1H857.6V205.8H834.3zM653.3 205.2H665.2V211.9H653.3zM506.2 205.2H529.4V211.9H506.2zM840.0 205.2H868.9V211.9H840.0zM528.8 211.3H540.7V218.0H528.8zM851.3 211.3H880.2V218.0H851.3zM625.0 211.3H653.9V218.0H625.0zM540.1 217.4H552.0V224.1H540.1zM862.6 217.4H891.5V224.1H862.6zM585.4 217.4H608.6V224.1H585.4zM551.4 223.5H580.3V230.2H551.4zM873.9 223.5H897.2V230.2H873.9zM879.6 229.6H908.5V236.4H879.6zM890.9 235.8H919.8V242.5H890.9zM896.6 241.9H925.5V248.6H896.6zM907.9 248.0H931.1V254.7H907.9zM907.9 254.1H936.8V260.8H907.9zM913.6 260.2H942.4V266.9H913.6zM919.2 266.3H942.4V273.0H919.2zM924.9 272.4H948.1V279.2H924.9zM924.9 278.6H953.8V285.3H924.9zM930.5 284.7H959.4V291.4H930.5zM936.2 290.8H965.1V297.5H936.2zM941.8 296.9H970.7V303.6H941.8zM941.8 303.0H976.4V309.7H941.8zM947.5 309.1H976.4V315.9H947.5zM953.2 315.3H982.1V328.1H953.2zM958.8 327.5H982.1V340.3H958.8zM964.5 339.7H987.7V346.4H964.5zM970.1 345.8H987.7V352.6H970.1zM970.1 352.0H993.4V358.7H970.1zM975.8 358.1H999.0V364.8H975.8zM981.5 364.2H999.0V370.9H981.5zM987.1 370.3H1004.7V377.0H987.1zM992.8 376.4H1010.3V389.3H992.8zM195.0 382.5H201.2V389.3H195.0zM992.8 388.7H1016.0V395.4H992.8zM195.0 388.7H212.6V401.5H195.0zM998.4 394.8H1016.0V407.6H998.4zM240.3 400.9H246.5V407.6H240.3zM200.6 400.9H223.9V407.6H200.6zM200.6 407.0H252.2V413.7H200.6zM998.4 407.0H1021.7V413.7H998.4zM217.6 413.1H257.8V419.8H217.6zM1004.1 413.1H1027.3V425.9H1004.1zM228.9 419.2H263.5V425.9H228.9zM1179.5 419.2H1191.4V432.1H1179.5zM245.9 425.3H263.5V438.2H245.9zM1173.8 431.5H1191.4V438.2H1173.8zM1004.1 425.3H1033.0V444.3H1004.1zM1190.8 437.6H1197.1V444.3H1190.8zM1173.8 437.6H1180.1V444.3H1173.8zM245.9 437.6H269.1V450.4H245.9zM1196.5 443.7H1208.4V450.4H1196.5zM1168.2 443.7H1174.4V450.4H1168.2zM1009.7 443.7H1033.0V456.5H1009.7zM1162.5 449.8H1168.8V456.5H1162.5zM1049.3 449.8H1055.6V456.5H1049.3zM1207.8 449.8H1214.0V462.6H1207.8zM251.6 449.8H274.8V462.6H251.6zM1156.8 455.9H1163.1V462.6H1156.8zM1043.7 455.9H1061.3V468.8H1043.7zM1009.7 455.9H1016.0V468.8H1009.7zM1021.1 455.9H1033.0V468.8H1021.1zM257.2 462.0H280.5V468.8H257.2zM1151.2 462.0H1157.4V468.8H1151.2zM1202.1 462.0H1208.4V468.8H1202.1zM1026.7 468.2H1066.9V474.9H1026.7zM1145.5 468.2H1151.8V474.9H1145.5zM1196.5 468.2H1208.4V474.9H1196.5zM257.2 468.2H291.8V474.9H257.2zM1083.3 474.3H1100.9V481.0H1083.3zM1032.4 474.3H1072.6V481.0H1032.4zM257.2 474.3H325.7V481.0H257.2zM1190.8 474.3H1208.4V481.0H1190.8zM364.7 474.3H416.3V481.0H364.7zM1134.2 474.3H1140.5V481.0H1134.2zM1105.9 480.4H1123.5V487.1H1105.9zM257.2 480.4H529.4V487.1H257.2zM1190.8 480.4H1202.7V493.2H1190.8zM511.8 486.5H552.0V493.2H511.8zM262.9 486.5H438.9V493.2H262.9zM534.5 492.6H653.9V499.3H534.5zM302.5 492.6H365.3V499.3H302.5zM313.8 498.7H354.0V505.5H313.8zM545.8 498.7H699.2V505.5H545.8zM1190.8 498.7H1197.1V505.5H1190.8zM1168.2 504.9H1197.1V511.6H1168.2zM557.1 504.9H716.1V511.6H557.1zM325.1 504.9H342.7V511.6H325.1zM709.9 511.0H744.4V517.7H709.9zM1156.8 511.0H1163.1V517.7H1156.8zM715.5 517.1H755.7V523.8H715.5zM743.8 523.2H767.0V529.9H743.8zM1151.2 517.1H1157.4V536.0H1151.2zM760.8 529.3H778.4V536.0H760.8zM1122.9 535.4H1129.2V542.2H1122.9zM772.1 535.4H789.7V542.2H772.1zM1111.6 541.6H1117.8V548.3H1111.6zM783.4 541.6H801.0V548.3H783.4zM1094.6 547.7H1106.5V554.4H1094.6zM794.7 547.7H806.7V554.4H794.7zM800.4 553.8H812.3V560.5H800.4zM1083.3 553.8H1089.6V560.5H1083.3zM1066.3 559.9H1078.2V566.6H1066.3zM800.4 559.9H818.0V566.6H800.4zM806.1 566.0H818.0V572.7H806.1zM1038.0 566.0H1061.3V572.7H1038.0zM811.7 572.1H823.6V578.8H811.7zM1009.7 572.1H1033.0V578.8H1009.7zM817.4 578.2H829.3V585.0H817.4zM992.8 578.2H1010.3V585.0H992.8zM970.1 584.4H987.7V591.1H970.1zM823.0 584.4H834.9V591.1H823.0zM828.7 590.5H840.6V597.2H828.7zM953.2 590.5H970.7V597.2H953.2zM936.2 596.6H953.8V603.3H936.2zM834.3 596.6H846.3V603.3H834.3zM840.0 602.7H857.6V609.4H840.0zM913.6 602.7H931.1V609.4H913.6zM845.7 608.8H914.2V615.5H845.7zM857.0 614.9H885.9V621.7H857.0z"/>
<path fill="#325ab4" d="M715.5 174.6H744.4V181.3H715.5zM709.9 180.7H806.7V187.4H709.9zM704.2 186.8H716.1V193.5H704.2zM738.2 186.8H812.3V193.5H738.2zM794.7 192.9H823.6V199.7H794.7zM692.9 192.9H704.8V199.7H692.9zM675.9 199.1H693.5V205.8H675.9zM806.1 199.1H834.9V205.8H806.1zM319.5 199.1H331.4V205.8H319.5zM811.7 205.2H840.6V211.9H811.7zM664.6 205.2H682.2V211.9H664.6zM313.8 205.2H506.8V211.9H313.8zM653.3 211.3H665.2V218.0H653.3zM308.1 211.3H359.7V218.0H308.1zM489.2 211.3H529.4V218.0H489.2zM823.0 211.3H851.9V218.0H823.0zM834.3 217.4H863.2V224.1H834.3zM302.5 217.4H342.7V224.1H302.5zM608.0 217.4H642.6V224.1H608.0zM523.2 217.4H540.7V224.1H523.2zM840.0 223.5H874.5V230.2H840.0zM579.7 223.5H603.0V230.2H579.7zM302.5 223.5H325.7V230.2H302.5zM534.5 223.5H552.0V230.2H534.5zM545.8 229.6H580.3V236.4H545.8zM851.3 229.6H880.2V236.4H851.3zM862.6 235.8H891.5V242.5H862.6zM873.9 241.9H897.2V248.6H873.9zM879.6 248.0H908.5V254.7H879.6zM885.3 254.1H908.5V260.8H885.3zM890.9 260.2H914.2V266.9H890.9zM896.6 266.3H919.8V273.0H896.6zM902.2 272.4H925.5V285.3H902.2zM907.9 284.7H931.1V291.4H907.9zM913.6 290.8H936.8V297.5H913.6zM919.2 296.9H942.4V303.6H919.2zM924.9 303.0H942.4V309.7H924.9zM930.5 309.1H948.1V315.9H930.5zM930.5 315.3H953.8V322.0H930.5zM936.2 321.4H953.8V328.1H936.2zM936.2 327.5H959.4V334.2H936.2zM941.8 333.6H959.4V340.3H941.8zM941.8 339.7H965.1V346.4H941.8zM947.5 345.8H970.7V352.6H947.5zM953.2 352.0H970.7V358.7H953.2zM953.2 358.1H976.4V364.8H953.2zM964.5 364.2H982.1V370.9H964.5zM195.0 358.1H201.2V377.0H195.0zM970.1 370.3H987.7V377.0H970.1zM195.0 376.4H206.9V383.1H195.0zM975.8 376.4H993.4V389.3H975.8zM240.3 382.5H252.2V389.3H240.3zM200.6 382.5H218.2V389.3H200.6zM981.5 388.7H993.4V395.4H981.5zM212.0 388.7H257.8V401.5H212.0zM981.5 394.8H999.0V401.5H981.5zM223.3 400.9H240.9V407.6H223.3zM245.9 400.9H263.5V407.6H245.9zM987.1 400.9H999.0V413.7H987.1zM251.6 407.0H269.1V413.7H251.6zM257.2 413.1H269.1V419.8H257.2zM262.9 419.2H274.8V425.9H262.9zM992.8 413.1H1004.7V432.1H992.8zM262.9 425.3H280.5V438.2H262.9zM998.4 431.5H1004.7V444.3H998.4zM1179.5 437.6H1191.4V444.3H1179.5zM268.5 437.6H286.1V450.4H268.5zM998.4 443.7H1010.3V450.4H998.4zM1173.8 443.7H1197.1V450.4H1173.8zM1190.8 449.8H1208.4V456.5H1190.8zM1168.2 449.8H1180.1V456.5H1168.2zM274.2 449.8H291.8V462.6H274.2zM1202.1 455.9H1208.4V462.6H1202.1zM1162.5 455.9H1174.4V462.6H1162.5zM1004.1 449.8H1010.3V468.8H1004.1zM1015.4 455.9H1021.7V468.8H1015.4zM1156.8 462.0H1168.8V468.8H1156.8zM279.9 462.0H297.4V468.8H279.9zM1190.8 462.0H1202.7V468.8H1190.8zM1004.1 468.2H1027.3V474.9H1004.1zM291.2 468.2H450.2V474.9H291.2zM1190.8 468.2H1197.1V474.9H1190.8zM1151.2 468.2H1157.4V474.9H1151.2zM1139.9 474.3H1151.8V481.0H1139.9zM325.1 474.3H365.3V481.0H325.1zM415.7 474.3H546.4V481.0H415.7zM1009.7 474.3H1033.0V481.0H1009.7zM1026.7 480.4H1106.5V487.1H1026.7zM1122.9 480.4H1134.8V487.1H1122.9zM528.8 480.4H625.6V487.1H528.8zM1185.1 474.3H1191.4V493.2H1185.1zM551.4 486.5H687.8V493.2H551.4zM1185.1 492.6H1197.1V499.3H1185.1zM653.3 492.6H710.5V499.3H653.3zM1173.8 498.7H1191.4V505.5H1173.8zM698.6 498.7H721.8V505.5H698.6zM1162.5 504.9H1168.8V511.6H1162.5zM715.5 504.9H750.1V511.6H715.5zM743.8 511.0H761.4V517.7H743.8zM1151.2 511.0H1157.4V517.7H1151.2zM755.1 517.1H772.7V523.8H755.1zM766.4 523.2H784.0V529.9H766.4zM1145.5 523.2H1151.8V529.9H1145.5zM777.8 529.3H795.3V536.0H777.8zM919.2 529.3H925.5V536.0H919.2zM1128.6 529.3H1151.8V536.0H1128.6zM789.1 535.4H806.7V542.2H789.1zM1111.6 535.4H1123.5V542.2H1111.6zM800.4 541.6H812.3V548.3H800.4zM1100.3 541.6H1112.2V548.3H1100.3zM806.1 547.7H818.0V554.4H806.1zM1089.0 547.7H1095.2V554.4H1089.0zM811.7 553.8H823.6V560.5H811.7zM1072.0 553.8H1083.9V560.5H1072.0zM817.4 559.9H829.3V566.6H817.4zM1055.0 559.9H1066.9V566.6H1055.0zM817.4 566.0H834.9V572.7H817.4zM1021.1 566.0H1038.6V572.7H1021.1zM998.4 572.1H1010.3V578.8H998.4zM823.0 572.1H840.6V578.8H823.0zM828.7 578.2H846.3V585.0H828.7zM975.8 578.2H993.4V585.0H975.8zM958.8 584.4H970.7V591.1H958.8zM834.3 584.4H851.9V591.1H834.3zM840.0 590.5H857.6V597.2H840.0zM936.2 590.5H953.8V597.2H936.2zM919.2 596.6H936.8V603.3H919.2zM845.7 596.6H874.5V603.3H845.7zM857.0 602.7H914.2V609.4H857.0z"/>
<path fill="#286e9b" d="M715.5 186.8H738.8V193.5H715.5zM704.2 192.9H716.1V199.7H704.2zM726.8 192.9H795.3V199.7H726.8zM692.9 199.1H710.5V205.8H692.9zM760.8 199.1H806.7V205.8H760.8zM783.4 205.2H812.3V211.9H783.4zM681.6 205.2H693.5V211.9H681.6zM664.6 211.3H676.5V218.0H664.6zM359.1 211.3H489.8V218.0H359.1zM800.4 211.3H823.6V218.0H800.4zM472.2 217.4H523.8V224.1H472.2zM642.0 217.4H659.5V224.1H642.0zM342.1 217.4H399.3V224.1H342.1zM811.7 217.4H834.9V224.1H811.7zM291.2 223.5H303.1V230.2H291.2zM817.4 223.5H840.6V230.2H817.4zM506.2 223.5H535.1V230.2H506.2zM602.4 223.5H625.6V230.2H602.4zM325.1 223.5H348.4V230.2H325.1zM579.7 229.6H597.3V236.4H579.7zM528.8 229.6H546.4V236.4H528.8zM828.7 229.6H851.9V236.4H828.7zM279.9 229.6H337.0V236.4H279.9zM834.3 235.8H863.2V242.5H834.3zM545.8 235.8H574.7V242.5H545.8zM262.9 235.8H320.1V242.5H262.9zM845.7 241.9H874.5V248.6H845.7zM268.5 241.9H297.4V248.6H268.5zM857.0 248.0H880.2V254.7H857.0zM862.6 254.1H885.9V260.8H862.6zM868.3 260.2H891.5V266.9H868.3zM879.6 266.3H897.2V273.0H879.6zM885.3 272.4H902.8V285.3H885.3zM890.9 284.7H908.5V291.4H890.9zM896.6 290.8H914.2V297.5H896.6zM902.2 296.9H919.8V303.6H902.2zM907.9 303.0H925.5V309.7H907.9zM913.6 309.1H931.1V315.9H913.6zM919.2 315.3H931.1V322.0H919.2zM919.2 321.4H936.8V328.1H919.2zM924.9 327.5H936.8V334.2H924.9zM924.9 333.6H942.4V340.3H924.9zM195.0 303.0H201.2V346.4H195.0zM930.5 339.7H942.4V346.4H930.5zM930.5 345.8H948.1V352.6H930.5zM195.0 345.8H206.9V358.7H195.0zM936.2 352.0H953.8V358.7H936.2zM941.8 358.1H953.8V364.8H941.8zM200.6 358.1H206.9V364.8H200.6zM941.8 364.2H965.1V370.9H941.8zM245.9 364.2H252.2V370.9H245.9zM200.6 364.2H212.6V377.0H200.6zM958.8 370.3H970.7V377.0H958.8zM240.3 370.3H257.8V377.0H240.3zM206.3 376.4H223.9V383.1H206.3zM964.5 376.4H976.4V383.1H964.5zM228.9 376.4H263.5V383.1H228.9zM251.6 382.5H263.5V389.3H251.6zM217.6 382.5H240.9V389.3H217.6zM970.1 382.5H976.4V389.3H970.1zM257.2 388.7H263.5V395.4H257.2zM970.1 388.7H982.1V401.5H970.1zM257.2 394.8H269.1V401.5H257.2zM262.9 400.9H274.8V407.6H262.9zM975.8 400.9H987.7V413.7H975.8zM268.5 407.0H280.5V413.7H268.5zM268.5 413.1H286.1V419.8H268.5zM975.8 413.1H993.4V419.8H975.8zM274.2 419.2H286.1V425.9H274.2zM981.5 419.2H993.4V432.1H981.5zM279.9 425.3H291.8V432.1H279.9zM279.9 431.5H297.4V438.2H279.9zM987.1 431.5H999.0V444.3H987.1zM285.5 437.6H297.4V444.3H285.5zM992.8 443.7H999.0V450.4H992.8zM285.5 443.7H303.1V450.4H285.5zM1179.5 449.8H1191.4V456.5H1179.5zM291.2 449.8H308.8V456.5H291.2zM370.4 455.9H393.6V462.6H370.4zM1185.1 455.9H1202.7V462.6H1185.1zM291.2 455.9H303.1V462.6H291.2zM1173.8 455.9H1180.1V462.6H1173.8zM296.8 462.0H455.9V468.8H296.8zM1168.2 462.0H1180.1V468.8H1168.2zM998.4 449.8H1004.7V474.9H998.4zM1185.1 462.0H1191.4V474.9H1185.1zM449.6 468.2H552.0V474.9H449.6zM1156.8 468.2H1168.8V474.9H1156.8zM998.4 474.3H1010.3V481.0H998.4zM545.8 474.3H653.9V481.0H545.8zM1151.2 474.3H1157.4V481.0H1151.2zM625.0 480.4H704.8V487.1H625.0zM1134.2 480.4H1146.1V487.1H1134.2zM1009.7 480.4H1027.3V487.1H1009.7zM1032.4 486.5H1089.6V493.2H1032.4zM1105.9 486.5H1112.2V493.2H1105.9zM687.2 486.5H710.5V493.2H687.2zM1179.5 474.3H1185.7V499.3H1179.5zM709.9 492.6H727.4V499.3H709.9zM721.2 498.7H755.7V505.5H721.2zM1168.2 498.7H1174.4V505.5H1168.2zM749.5 504.9H767.0V511.6H749.5zM1156.8 504.9H1163.1V511.6H1156.8zM760.8 511.0H778.4V517.7H760.8zM1145.5 511.0H1151.8V523.8H1145.5zM913.6 517.1H925.5V523.8H913.6zM772.1 517.1H789.7V523.8H772.1zM1134.2 523.2H1146.1V529.9H1134.2zM907.9 523.2H931.1V529.9H907.9zM783.4 523.2H801.0V529.9H783.4zM924.9 529.3H931.1V536.0H924.9zM907.9 529.3H919.8V536.0H907.9zM1117.2 529.3H1129.2V536.0H1117.2zM794.7 529.3H812.3V536.0H794.7zM806.1 535.4H818.0V542.2H806.1zM1105.9 535.4H1112.2V542.2H1105.9zM907.9 535.4H931.1V542.2H907.9zM811.7 541.6H823.6V548.3H811.7zM1094.6 541.6H1100.9V548.3H1094.6zM817.4 547.7H829.3V554.4H817.4zM1077.6 547.7H1089.6V554.4H1077.6zM823.0 553.8H834.9V560.5H823.0zM1066.3 553.8H1072.6V560.5H1066.3zM828.7 559.9H840.6V566.6H828.7zM1038.0 559.9H1055.6V566.6H1038.0zM1004.1 566.0H1021.7V572.7H1004.1zM834.3 566.0H846.3V572.7H834.3zM840.0 572.1H857.6V578.8H840.0zM987.1 572.1H999.0V578.8H987.1zM964.5 578.2H976.4V585.0H964.5zM845.7 578.2H880.2V585.0H845.7zM851.3 584.4H897.2V591.1H851.3zM936.2 584.4H959.4V591.1H936.2zM857.0 590.5H936.8V597.2H857.0zM873.9 596.6H919.8V603.3H873.9z"/>
<path fill="#1e7d82" d="M715.5 192.9H727.4V199.7H715.5zM709.9 199.1H761.4V205.8H709.9zM692.9 205.2H710.5V211.9H692.9zM732.5 205.2H784.0V211.9H732.5zM675.9 211.3H693.5V218.0H675.9zM766.4 211.3H801.0V218.0H766.4zM789.1 217.4H812.3V224.1H789.1zM398.7 217.4H472.8V224.1H398.7zM658.9 217.4H676.5V224.1H658.9zM347.8 223.5H506.8V230.2H347.8zM800.4 223.5H818.0V230.2H800.4zM625.0 223.5H648.2V230.2H625.0zM489.2 229.6H529.4V236.4H489.2zM811.7 229.6H829.3V236.4H811.7zM336.4 229.6H359.7V236.4H336.4zM596.7 229.6H619.9V236.4H596.7zM523.2 235.8H546.4V242.5H523.2zM319.5 235.8H342.7V242.5H319.5zM817.4 235.8H834.9V242.5H817.4zM574.1 235.8H597.3V242.5H574.1zM296.8 241.9H325.7V248.6H296.8zM251.6 241.9H269.1V248.6H251.6zM823.0 241.9H846.3V248.6H823.0zM540.1 241.9H574.7V248.6H540.1zM245.9 248.0H303.1V254.7H245.9zM828.7 248.0H857.6V254.7H828.7zM240.3 254.1H286.1V260.8H240.3zM840.0 254.1H863.2V260.8H840.0zM245.9 260.2H274.8V266.9H245.9zM851.3 260.2H868.9V266.9H851.3zM857.0 266.3H880.2V273.0H857.0zM862.6 272.4H885.9V279.2H862.6zM868.3 278.6H885.9V285.3H868.3zM873.9 284.7H891.5V291.4H873.9zM206.3 290.8H218.2V297.5H206.3zM879.6 290.8H897.2V297.5H879.6zM200.6 296.9H218.2V303.6H200.6zM885.3 296.9H902.8V303.6H885.3zM890.9 303.0H908.5V309.7H890.9zM896.6 309.1H914.2V315.9H896.6zM902.2 315.3H919.8V322.0H902.2zM907.9 321.4H919.8V328.1H907.9zM907.9 327.5H925.5V334.2H907.9zM913.6 333.6H925.5V340.3H913.6zM200.6 303.0H212.6V346.4H200.6zM919.2 339.7H931.1V352.6H919.2zM206.3 345.8H212.6V358.7H206.3zM924.9 352.0H936.8V358.7H924.9zM245.9 352.0H252.2V358.7H245.9zM206.3 358.1H218.2V364.8H206.3zM234.6 358.1H257.8V364.8H234.6zM924.9 358.1H942.4V364.8H924.9zM936.2 364.2H942.4V370.9H936.2zM251.6 364.2H263.5V370.9H251.6zM228.9 364.2H246.5V370.9H228.9zM212.0 364.2H223.9V370.9H212.0zM212.0 370.3H240.9V377.0H212.0zM936.2 370.3H959.4V377.0H936.2zM257.2 370.3H269.1V377.0H257.2zM262.9 376.4H269.1V383.1H262.9zM223.3 376.4H229.5V383.1H223.3zM941.8 376.4H965.1V383.1H941.8zM958.8 382.5H970.7V389.3H958.8zM262.9 382.5H274.8V389.3H262.9zM941.8 382.5H948.1V389.3H941.8zM262.9 388.7H280.5V395.4H262.9zM964.5 388.7H970.7V401.5H964.5zM268.5 394.8H286.1V401.5H268.5zM964.5 400.9H976.4V407.6H964.5zM274.2 400.9H291.8V407.6H274.2zM279.9 407.0H303.1V413.7H279.9zM970.1 407.0H976.4V419.8H970.1zM285.5 413.1H303.1V419.8H285.5zM285.5 419.2H297.4V425.9H285.5zM970.1 419.2H982.1V425.9H970.1zM291.2 425.3H303.1V432.1H291.2zM975.8 425.3H982.1V432.1H975.8zM975.8 431.5H987.7V444.3H975.8zM296.8 431.5H308.8V444.3H296.8zM302.5 443.7H320.1V450.4H302.5zM981.5 443.7H993.4V450.4H981.5zM308.1 449.8H354.0V456.5H308.1zM364.7 449.8H404.9V456.5H364.7zM302.5 455.9H371.0V462.6H302.5zM393.0 455.9H461.5V462.6H393.0zM1179.5 455.9H1185.7V468.8H1179.5zM455.3 462.0H546.4V468.8H455.3zM1168.2 468.2H1185.7V474.9H1168.2zM551.4 468.2H648.2V474.9H551.4zM992.8 449.8H999.0V481.0H992.8zM653.3 474.3H704.8V481.0H653.3zM1156.8 474.3H1163.1V481.0H1156.8zM1145.5 480.4H1157.4V487.1H1145.5zM1004.1 480.4H1010.3V487.1H1004.1zM704.2 480.4H710.5V487.1H704.2zM1173.8 474.3H1180.1V493.2H1173.8zM1089.0 486.5H1106.5V493.2H1089.0zM1015.4 486.5H1033.0V493.2H1015.4zM709.9 486.5H721.8V493.2H709.9zM1111.6 486.5H1140.5V493.2H1111.6zM1043.7 492.6H1066.9V499.3H1043.7zM1168.2 492.6H1180.1V499.3H1168.2zM726.8 492.6H755.7V499.3H726.8zM755.1 498.7H772.7V505.5H755.1zM1156.8 498.7H1168.8V505.5H1156.8zM766.4 504.9H789.7V511.6H766.4zM1151.2 504.9H1157.4V511.6H1151.2zM913.6 511.0H931.1V517.7H913.6zM777.8 511.0H795.3V517.7H777.8zM789.1 517.1H806.7V523.8H789.1zM907.9 517.1H914.2V523.8H907.9zM924.9 517.1H931.1V523.8H924.9zM1139.9 517.1H1146.1V523.8H1139.9zM800.4 523.2H812.3V529.9H800.4zM1128.6 523.2H1134.8V529.9H1128.6zM1111.6 529.3H1117.8V536.0H1111.6zM811.7 529.3H823.6V536.0H811.7zM902.2 523.2H908.5V542.2H902.2zM930.5 523.2H936.8V542.2H930.5zM817.4 535.4H829.3V542.2H817.4zM1100.3 535.4H1106.5V542.2H1100.3zM1089.0 541.6H1095.2V548.3H1089.0zM896.6 541.6H931.1V548.3H896.6zM823.0 541.6H834.9V548.3H823.0zM828.7 547.7H840.6V554.4H828.7zM1072.0 547.7H1078.2V554.4H1072.0zM890.9 547.7H925.5V554.4H890.9zM890.9 553.8H914.2V560.5H890.9zM834.3 553.8H846.3V560.5H834.3zM1055.0 553.8H1066.9V560.5H1055.0zM840.0 559.9H851.9V566.6H840.0zM879.6 559.9H908.5V566.6H879.6zM1015.4 559.9H1038.6V566.6H1015.4zM992.8 566.0H1004.7V572.7H992.8zM845.7 566.0H908.5V572.7H845.7zM857.0 572.1H914.2V578.8H857.0zM970.1 572.1H987.7V578.8H970.1zM924.9 578.2H965.1V585.0H924.9zM879.6 578.2H919.8V585.0H879.6zM896.6 584.4H936.8V591.1H896.6z"/>
<path fill="#0f8c64" d="M709.9 205.2H733.1V211.9H709.9zM692.9 211.3H710.5V218.0H692.9zM726.8 211.3H767.0V218.0H726.8zM675.9 217.4H693.5V224.1H675.9zM755.1 217.4H789.7V224.1H755.1zM777.8 223.5H801.0V230.2H777.8zM647.6 223.5H670.9V230.2H647.6zM619.3 229.6H642.6V236.4H619.3zM789.1 229.6H812.3V236.4H789.1zM359.1 229.6H489.8V236.4H359.1zM342.1 235.8H523.8V242.5H342.1zM800.4 235.8H818.0V242.5H800.4zM596.7 235.8H619.9V242.5H596.7zM325.1 241.9H354.0V248.6H325.1zM806.1 241.9H823.6V248.6H806.1zM489.2 241.9H540.7V248.6H489.2zM574.1 241.9H597.3V248.6H574.1zM302.5 248.0H337.0V254.7H302.5zM811.7 248.0H829.3V254.7H811.7zM534.5 248.0H580.3V254.7H534.5zM285.5 254.1H308.8V260.8H285.5zM817.4 254.1H840.6V260.8H817.4zM828.7 260.2H851.9V266.9H828.7zM274.2 260.2H291.8V266.9H274.2zM234.6 260.2H246.5V266.9H234.6zM834.3 266.3H857.6V273.0H834.3zM223.3 266.3H280.5V273.0H223.3zM223.3 272.4H263.5V279.2H223.3zM840.0 272.4H863.2V279.2H840.0zM845.7 278.6H868.9V285.3H845.7zM217.6 278.6H252.2V285.3H217.6zM217.6 284.7H223.9V291.4H217.6zM857.0 284.7H874.5V291.4H857.0zM862.6 290.8H880.2V297.5H862.6zM217.6 290.8H229.5V303.6H217.6zM868.3 296.9H885.9V303.6H868.3zM873.9 303.0H891.5V309.7H873.9zM212.0 303.0H229.5V309.7H212.0zM879.6 309.1H897.2V315.9H879.6zM885.3 315.3H902.8V322.0H885.3zM890.9 321.4H908.5V328.1H890.9zM896.6 327.5H908.5V334.2H896.6zM902.2 333.6H914.2V340.3H902.2zM212.0 309.1H223.9V346.4H212.0zM902.2 339.7H919.8V346.4H902.2zM907.9 345.8H919.8V352.6H907.9zM212.0 345.8H263.5V352.6H212.0zM251.6 352.0H263.5V358.7H251.6zM212.0 352.0H246.5V358.7H212.0zM907.9 352.0H925.5V358.7H907.9zM913.6 358.1H925.5V364.8H913.6zM217.6 358.1H235.2V364.8H217.6zM257.2 358.1H269.1V364.8H257.2zM223.3 364.2H229.5V370.9H223.3zM262.9 364.2H274.8V370.9H262.9zM924.9 364.2H936.8V370.9H924.9zM930.5 370.3H936.8V377.0H930.5zM268.5 370.3H274.8V377.0H268.5zM268.5 376.4H280.5V383.1H268.5zM936.2 376.4H942.4V389.3H936.2zM274.2 382.5H286.1V389.3H274.2zM947.5 382.5H959.4V389.3H947.5zM279.9 388.7H291.8V395.4H279.9zM285.5 394.8H297.4V401.5H285.5zM936.2 388.7H965.1V407.6H936.2zM291.2 400.9H308.8V407.6H291.2zM958.8 407.0H970.7V413.7H958.8zM936.2 407.0H953.8V413.7H936.2zM302.5 407.0H320.1V419.8H302.5zM936.2 413.1H948.1V419.8H936.2zM964.5 413.1H970.7V425.9H964.5zM296.8 419.2H320.1V425.9H296.8zM964.5 425.3H976.4V432.1H964.5zM302.5 425.3H325.7V432.1H302.5zM308.1 431.5H331.4V438.2H308.1zM970.1 431.5H976.4V444.3H970.1zM370.4 437.6H388.0V444.3H370.4zM308.1 437.6H337.0V444.3H308.1zM438.3 443.7H444.5V450.4H438.3zM975.8 443.7H982.1V450.4H975.8zM319.5 443.7H427.6V450.4H319.5zM353.4 449.8H365.3V456.5H353.4zM981.5 449.8H993.4V456.5H981.5zM404.3 449.8H461.5V456.5H404.3zM483.5 449.8H495.5V456.5H483.5zM460.9 455.9H552.0V462.6H460.9zM987.1 455.9H993.4V462.6H987.1zM545.8 462.0H636.9V468.8H545.8zM647.6 468.2H704.8V474.9H647.6zM987.1 474.3H993.4V481.0H987.1zM1162.5 474.3H1174.4V481.0H1162.5zM704.2 474.3H710.5V481.0H704.2zM1156.8 480.4H1174.4V487.1H1156.8zM998.4 480.4H1004.7V487.1H998.4zM709.9 480.4H716.1V487.1H709.9zM1139.9 486.5H1157.4V493.2H1139.9zM721.2 486.5H755.7V493.2H721.2zM1009.7 486.5H1016.0V493.2H1009.7zM1168.2 486.5H1174.4V493.2H1168.2zM1151.2 492.6H1168.8V499.3H1151.2zM1066.3 492.6H1117.8V499.3H1066.3zM755.1 492.6H778.4V499.3H755.1zM1015.4 492.6H1044.3V499.3H1015.4zM1145.5 498.7H1157.4V505.5H1145.5zM772.1 498.7H789.7V505.5H772.1zM1139.9 504.9H1151.8V511.6H1139.9zM789.1 504.9H801.0V511.6H789.1zM913.6 504.9H931.1V511.6H913.6zM907.9 511.0H914.2V517.7H907.9zM794.7 511.0H806.7V517.7H794.7zM1139.9 511.0H1146.1V517.7H1139.9zM930.5 511.0H936.8V523.8H930.5zM806.1 517.1H818.0V523.8H806.1zM902.2 517.1H908.5V523.8H902.2zM1134.2 517.1H1140.5V523.8H1134.2zM811.7 523.2H823.6V529.9H811.7zM1117.2 523.2H1129.2V529.9H1117.2zM896.6 523.2H902.8V536.0H896.6zM823.0 529.3H834.9V536.0H823.0zM1105.9 529.3H1112.2V536.0H1105.9zM936.2 529.3H942.4V542.2H936.2zM890.9 535.4H902.8V542.2H890.9zM828.7 535.4H840.6V542.2H828.7zM1094.6 535.4H1100.9V542.2H1094.6zM885.3 541.6H897.2V548.3H885.3zM1077.6 541.6H1089.6V548.3H1077.6zM834.3 541.6H846.3V548.3H834.3zM930.5 541.6H942.4V548.3H930.5zM840.0 547.7H851.9V554.4H840.0zM1060.7 547.7H1072.6V554.4H1060.7zM924.9 547.7H936.8V554.4H924.9zM879.6 547.7H891.5V554.4H879.6zM1032.4 553.8H1055.6V560.5H1032.4zM868.3 553.8H891.5V560.5H868.3zM913.6 553.8H931.1V560.5H913.6zM845.7 553.8H863.2V560.5H845.7zM998.4 559.9H1016.0V566.6H998.4zM851.3 559.9H880.2V566.6H851.3zM907.9 559.9H931.1V566.6H907.9zM907.9 566.0H936.8V572.7H907.9zM981.5 566.0H993.4V572.7H981.5zM913.6 572.1H970.7V578.8H913.6zM919.2 578.2H925.5V585.0H919.2z"/>
<path fill="#149650" d="M709.9 211.3H727.4V218.0H709.9zM692.9 217.4H755.7V224.1H692.9zM670.3 223.5H699.2V230.2H670.3zM743.8 223.5H778.4V230.2H743.8zM760.8 229.6H789.7V236.4H760.8zM642.0 229.6H665.2V236.4H642.0zM619.3 235.8H642.6V242.5H619.3zM772.1 235.8H801.0V242.5H772.1zM596.7 241.9H625.6V248.6H596.7zM353.4 241.9H489.8V248.6H353.4zM783.4 241.9H806.7V248.6H783.4zM579.7 248.0H597.3V254.7H579.7zM336.4 248.0H535.1V254.7H336.4zM794.7 248.0H812.3V254.7H794.7zM466.6 254.1H586.0V260.8H466.6zM800.4 254.1H818.0V260.8H800.4zM308.1 254.1H348.4V260.8H308.1zM806.1 260.2H829.3V266.9H806.1zM291.2 260.2H337.0V266.9H291.2zM551.4 260.2H569.0V266.9H551.4zM811.7 266.3H834.9V273.0H811.7zM279.9 266.3H314.4V273.0H279.9zM817.4 272.4H840.6V279.2H817.4zM262.9 272.4H286.1V279.2H262.9zM251.6 278.6H269.1V285.3H251.6zM823.0 278.6H846.3V285.3H823.0zM223.3 284.7H257.8V291.4H223.3zM834.3 284.7H857.6V291.4H834.3zM228.9 290.8H246.5V297.5H228.9zM840.0 290.8H863.2V297.5H840.0zM845.7 296.9H868.9V303.6H845.7zM228.9 296.9H240.9V303.6H228.9zM228.9 303.0H235.2V309.7H228.9zM851.3 303.0H874.5V309.7H851.3zM857.0 309.1H880.2V315.9H857.0zM868.3 315.3H885.9V322.0H868.3zM873.9 321.4H891.5V328.1H873.9zM223.3 309.1H235.2V334.2H223.3zM879.6 327.5H897.2V334.2H879.6zM223.3 333.6H257.8V340.3H223.3zM885.3 333.6H902.8V346.4H885.3zM223.3 339.7H269.1V346.4H223.3zM262.9 345.8H269.1V352.6H262.9zM885.3 345.8H908.5V352.6H885.3zM890.9 352.0H908.5V358.7H890.9zM262.9 352.0H274.8V358.7H262.9zM896.6 358.1H914.2V364.8H896.6zM268.5 358.1H280.5V364.8H268.5zM274.2 364.2H280.5V370.9H274.2zM907.9 364.2H925.5V370.9H907.9zM274.2 370.3H286.1V377.0H274.2zM919.2 370.3H931.1V377.0H919.2zM279.9 376.4H291.8V383.1H279.9zM285.5 382.5H303.1V389.3H285.5zM291.2 388.7H308.8V395.4H291.2zM296.8 394.8H314.4V401.5H296.8zM308.1 400.9H325.7V407.6H308.1zM953.2 407.0H959.4V413.7H953.2zM930.5 376.4H936.8V419.8H930.5zM947.5 413.1H965.1V419.8H947.5zM319.5 407.0H337.0V425.9H319.5zM930.5 419.2H965.1V425.9H930.5zM370.4 425.3H388.0V432.1H370.4zM958.8 425.3H965.1V432.1H958.8zM325.1 425.3H348.4V432.1H325.1zM930.5 425.3H948.1V438.2H930.5zM364.7 431.5H404.9V438.2H364.7zM330.8 431.5H354.0V438.2H330.8zM964.5 431.5H970.7V444.3H964.5zM336.4 437.6H371.0V444.3H336.4zM936.2 437.6H948.1V444.3H936.2zM387.4 437.6H455.9V444.3H387.4zM936.2 443.7H942.4V450.4H936.2zM472.2 443.7H501.1V450.4H472.2zM427.0 443.7H438.9V450.4H427.0zM970.1 443.7H976.4V450.4H970.1zM443.9 443.7H467.2V450.4H443.9zM975.8 449.8H982.1V456.5H975.8zM494.9 449.8H569.0V456.5H494.9zM460.9 449.8H484.1V456.5H460.9zM551.4 455.9H636.9V462.6H551.4zM636.3 462.0H699.2V468.8H636.3zM987.1 462.0H993.4V474.9H987.1zM704.2 468.2H716.1V474.9H704.2zM709.9 474.3H716.1V481.0H709.9zM981.5 474.3H987.7V481.0H981.5zM732.5 480.4H750.1V487.1H732.5zM987.1 480.4H999.0V487.1H987.1zM715.5 480.4H721.8V487.1H715.5zM755.1 486.5H784.0V493.2H755.1zM1004.1 486.5H1010.3V493.2H1004.1zM1156.8 486.5H1168.8V493.2H1156.8zM777.8 492.6H795.3V499.3H777.8zM1117.2 492.6H1151.8V499.3H1117.2zM1009.7 492.6H1016.0V499.3H1009.7zM789.1 498.7H801.0V505.5H789.1zM913.6 498.7H931.1V505.5H913.6zM1021.1 498.7H1100.9V505.5H1021.1zM1134.2 498.7H1146.1V505.5H1134.2zM800.4 504.9H812.3V511.6H800.4zM907.9 504.9H914.2V511.6H907.9zM930.5 504.9H936.8V511.6H930.5zM1134.2 504.9H1140.5V517.7H1134.2zM806.1 511.0H818.0V517.7H806.1zM902.2 511.0H908.5V517.7H902.2zM1122.9 517.1H1134.8V523.8H1122.9zM896.6 517.1H902.8V523.8H896.6zM817.4 517.1H823.6V523.8H817.4zM936.2 517.1H942.4V529.9H936.2zM823.0 523.2H834.9V529.9H823.0zM1105.9 523.2H1117.8V529.9H1105.9zM890.9 523.2H897.2V529.9H890.9zM834.3 529.3H840.6V536.0H834.3zM885.3 529.3H897.2V536.0H885.3zM1094.6 529.3H1106.5V536.0H1094.6zM1083.3 535.4H1095.2V542.2H1083.3zM879.6 535.4H891.5V542.2H879.6zM840.0 535.4H846.3V542.2H840.0zM941.8 529.3H948.1V548.3H941.8zM868.3 541.6H885.9V548.3H868.3zM1066.3 541.6H1078.2V548.3H1066.3zM845.7 541.6H857.6V548.3H845.7zM1049.3 547.7H1061.3V554.4H1049.3zM936.2 547.7H948.1V554.4H936.2zM851.3 547.7H880.2V554.4H851.3zM862.6 553.8H868.9V560.5H862.6zM1004.1 553.8H1033.0V560.5H1004.1zM930.5 553.8H942.4V560.5H930.5zM930.5 559.9H948.1V566.6H930.5zM987.1 559.9H999.0V566.6H987.1zM936.2 566.0H982.1V572.7H936.2z"/>
<path fill="#28a546" d="M698.6 223.5H744.4V230.2H698.6zM664.6 229.6H761.4V236.4H664.6zM743.8 235.8H772.7V242.5H743.8zM642.0 235.8H676.5V242.5H642.0zM749.5 241.9H784.0V248.6H749.5zM625.0 241.9H653.9V248.6H625.0zM760.8 248.0H795.3V254.7H760.8zM596.7 248.0H636.9V254.7H596.7zM585.4 254.1H614.3V260.8H585.4zM772.1 254.1H801.0V260.8H772.1zM347.8 254.1H467.2V260.8H347.8zM783.4 260.2H806.7V266.9H783.4zM568.4 260.2H591.6V266.9H568.4zM336.4 260.2H552.0V266.9H336.4zM313.8 266.3H574.7V273.0H313.8zM789.1 266.3H812.3V273.0H789.1zM794.7 272.4H818.0V279.2H794.7zM726.8 272.4H744.4V279.2H726.8zM285.5 272.4H354.0V279.2H285.5zM800.4 278.6H823.6V285.3H800.4zM268.5 278.6H342.7V285.3H268.5zM721.2 278.6H744.4V291.4H721.2zM806.1 284.7H834.9V291.4H806.1zM257.2 284.7H286.1V291.4H257.2zM726.8 290.8H744.4V297.5H726.8zM806.1 290.8H840.6V297.5H806.1zM245.9 290.8H263.5V297.5H245.9zM800.4 296.9H846.3V303.6H800.4zM240.3 296.9H257.8V303.6H240.3zM732.5 296.9H738.8V303.6H732.5zM794.7 303.0H851.9V309.7H794.7zM234.6 303.0H252.2V309.7H234.6zM234.6 309.1H246.5V315.9H234.6zM789.1 309.1H857.6V315.9H789.1zM789.1 315.3H868.9V322.0H789.1zM234.6 315.3H252.2V322.0H234.6zM783.4 321.4H874.5V328.1H783.4zM234.6 321.4H263.5V328.1H234.6zM783.4 327.5H880.2V334.2H783.4zM234.6 327.5H269.1V334.2H234.6zM257.2 333.6H274.8V340.3H257.2zM268.5 339.7H274.8V346.4H268.5zM783.4 333.6H885.9V352.6H783.4zM268.5 345.8H280.5V352.6H268.5zM789.1 352.0H834.9V358.7H789.1zM274.2 352.0H286.1V358.7H274.2zM845.7 352.0H891.5V358.7H845.7zM794.7 358.1H818.0V364.8H794.7zM851.3 358.1H897.2V364.8H851.3zM279.9 358.1H291.8V370.9H279.9zM862.6 364.2H908.5V370.9H862.6zM902.2 370.3H919.8V377.0H902.2zM285.5 370.3H297.4V377.0H285.5zM291.2 376.4H303.1V383.1H291.2zM907.9 376.4H931.1V383.1H907.9zM302.5 382.5H320.1V389.3H302.5zM907.9 382.5H919.8V389.3H907.9zM924.9 382.5H931.1V395.4H924.9zM308.1 388.7H325.7V395.4H308.1zM313.8 394.8H331.4V401.5H313.8zM919.2 394.8H931.1V401.5H919.2zM325.1 400.9H342.7V407.6H325.1zM376.0 407.0H382.3V413.7H376.0zM336.4 407.0H348.4V413.7H336.4zM913.6 400.9H931.1V419.8H913.6zM370.4 413.1H393.6V419.8H370.4zM336.4 413.1H354.0V425.9H336.4zM364.7 419.2H399.3V425.9H364.7zM947.5 425.3H959.4V432.1H947.5zM387.4 425.3H444.5V432.1H387.4zM347.8 425.3H371.0V432.1H347.8zM919.2 419.2H931.1V438.2H919.2zM353.4 431.5H365.3V438.2H353.4zM404.3 431.5H461.5V438.2H404.3zM947.5 431.5H965.1V438.2H947.5zM958.8 437.6H965.1V444.3H958.8zM455.3 437.6H512.4V444.3H455.3zM947.5 437.6H953.8V444.3H947.5zM924.9 437.6H936.8V450.4H924.9zM941.8 443.7H948.1V450.4H941.8zM958.8 443.7H970.7V450.4H958.8zM466.6 443.7H472.8V450.4H466.6zM500.5 443.7H574.7V450.4H500.5zM568.4 449.8H676.5V456.5H568.4zM964.5 449.8H976.4V456.5H964.5zM636.3 455.9H699.2V462.6H636.3zM975.8 455.9H987.7V462.6H975.8zM698.6 462.0H710.5V468.8H698.6zM924.9 449.8H948.1V474.9H924.9zM981.5 462.0H987.7V474.9H981.5zM738.2 468.2H750.1V474.9H738.2zM732.5 474.3H755.7V481.0H732.5zM970.1 474.3H982.1V481.0H970.1zM715.5 474.3H721.8V481.0H715.5zM924.9 474.3H942.4V487.1H924.9zM749.5 480.4H784.0V487.1H749.5zM975.8 480.4H987.7V487.1H975.8zM721.2 480.4H733.1V487.1H721.2zM919.2 486.5H936.8V493.2H919.2zM998.4 486.5H1004.7V493.2H998.4zM783.4 486.5H795.3V493.2H783.4zM1004.1 492.6H1010.3V499.3H1004.1zM913.6 492.6H936.8V499.3H913.6zM794.7 492.6H806.7V499.3H794.7zM1100.3 498.7H1134.8V505.5H1100.3zM800.4 498.7H812.3V505.5H800.4zM930.5 498.7H936.8V505.5H930.5zM1009.7 498.7H1021.7V505.5H1009.7zM907.9 498.7H914.2V505.5H907.9zM811.7 504.9H818.0V511.6H811.7zM902.2 504.9H908.5V511.6H902.2zM1021.1 504.9H1134.8V511.6H1021.1zM936.2 504.9H942.4V517.7H936.2zM817.4 511.0H829.3V517.7H817.4zM1117.2 511.0H1134.8V517.7H1117.2zM896.6 511.0H902.8V517.7H896.6zM1105.9 517.1H1123.5V523.8H1105.9zM823.0 517.1H834.9V523.8H823.0zM890.9 517.1H897.2V523.8H890.9zM941.8 517.1H948.1V529.9H941.8zM885.3 523.2H891.5V529.9H885.3zM834.3 523.2H840.6V529.9H834.3zM1094.6 523.2H1106.5V529.9H1094.6zM840.0 529.3H851.9V536.0H840.0zM879.6 529.3H885.9V536.0H879.6zM1083.3 529.3H1095.2V536.0H1083.3zM1066.3 535.4H1083.9V542.2H1066.3zM845.7 535.4H857.6V542.2H845.7zM868.3 535.4H880.2V542.2H868.3zM947.5 529.3H953.8V548.3H947.5zM1043.7 541.6H1066.9V548.3H1043.7zM857.0 541.6H868.9V548.3H857.0zM1009.7 547.7H1049.9V554.4H1009.7zM947.5 547.7H959.4V554.4H947.5zM987.1 553.8H1004.7V560.5H987.1zM941.8 553.8H976.4V560.5H941.8zM947.5 559.9H987.7V566.6H947.5z"/>
<path fill="#46b43c" d="M675.9 235.8H744.4V242.5H675.9zM653.3 241.9H750.1V248.6H653.3zM636.3 248.0H761.4V254.7H636.3zM613.7 254.1H659.5V260.8H613.7zM704.2 254.1H772.7V260.8H704.2zM591.0 260.2H636.9V266.9H591.0zM709.9 260.2H784.0V266.9H709.9zM574.1 266.3H608.6V273.0H574.1zM709.9 266.3H789.7V273.0H709.9zM743.8 272.4H795.3V279.2H743.8zM353.4 272.4H591.6V279.2H353.4zM709.9 272.4H727.4V279.2H709.9zM743.8 278.6H761.4V285.3H743.8zM342.1 278.6H580.3V285.3H342.1zM766.4 278.6H801.0V285.3H766.4zM709.9 278.6H721.8V291.4H709.9zM743.8 284.7H755.7V291.4H743.8zM772.1 284.7H806.7V291.4H772.1zM285.5 284.7H523.8V291.4H285.5zM262.9 290.8H365.3V297.5H262.9zM743.8 290.8H750.1V297.5H743.8zM460.9 290.8H478.5V297.5H460.9zM709.9 290.8H727.4V297.5H709.9zM777.8 290.8H806.7V297.5H777.8zM257.2 296.9H337.0V303.6H257.2zM715.5 296.9H733.1V303.6H715.5zM777.8 296.9H801.0V303.6H777.8zM738.2 296.9H750.1V303.6H738.2zM721.2 303.0H750.1V309.7H721.2zM777.8 303.0H795.3V309.7H777.8zM251.6 303.0H280.5V309.7H251.6zM245.9 309.1H274.8V315.9H245.9zM732.5 309.1H744.4V315.9H732.5zM777.8 309.1H789.7V322.0H777.8zM251.6 315.3H274.8V322.0H251.6zM262.9 321.4H274.8V328.1H262.9zM268.5 327.5H280.5V334.2H268.5zM274.2 333.6H280.5V340.3H274.2zM274.2 339.7H286.1V346.4H274.2zM772.1 321.4H784.0V352.6H772.1zM279.9 345.8H291.8V352.6H279.9zM772.1 352.0H789.7V358.7H772.1zM834.3 352.0H846.3V358.7H834.3zM285.5 352.0H297.4V358.7H285.5zM777.8 358.1H795.3V364.8H777.8zM817.4 358.1H851.9V364.8H817.4zM291.2 358.1H297.4V364.8H291.2zM291.2 364.2H303.1V370.9H291.2zM777.8 364.2H863.2V370.9H777.8zM851.3 370.3H902.8V377.0H851.3zM296.8 370.3H308.8V377.0H296.8zM783.4 370.3H829.3V377.0H783.4zM789.1 376.4H806.7V383.1H789.1zM302.5 376.4H320.1V383.1H302.5zM868.3 376.4H874.5V383.1H868.3zM902.2 376.4H908.5V389.3H902.2zM319.5 382.5H337.0V389.3H319.5zM919.2 382.5H925.5V389.3H919.2zM325.1 388.7H342.7V395.4H325.1zM902.2 388.7H925.5V395.4H902.2zM330.8 394.8H348.4V401.5H330.8zM376.0 394.8H388.0V401.5H376.0zM902.2 394.8H919.8V401.5H902.2zM342.1 400.9H354.0V407.6H342.1zM370.4 400.9H393.6V407.6H370.4zM364.7 407.0H376.6V413.7H364.7zM381.7 407.0H404.9V413.7H381.7zM347.8 407.0H359.7V413.7H347.8zM902.2 400.9H914.2V419.8H902.2zM353.4 413.1H371.0V419.8H353.4zM393.0 413.1H427.6V419.8H393.0zM398.7 419.2H455.9V425.9H398.7zM353.4 419.2H365.3V425.9H353.4zM902.2 419.2H919.8V432.1H902.2zM443.9 425.3H461.5V432.1H443.9zM460.9 431.5H557.7V438.2H460.9zM907.9 431.5H919.8V438.2H907.9zM511.8 437.6H580.3V444.3H511.8zM907.9 437.6H925.5V444.3H907.9zM953.2 437.6H959.4V444.3H953.2zM574.1 443.7H687.8V450.4H574.1zM947.5 443.7H959.4V450.4H947.5zM675.9 449.8H704.8V456.5H675.9zM947.5 449.8H965.1V456.5H947.5zM913.6 443.7H925.5V462.6H913.6zM964.5 455.9H976.4V462.6H964.5zM698.6 455.9H710.5V462.6H698.6zM947.5 455.9H953.8V468.8H947.5zM709.9 462.0H716.1V468.8H709.9zM732.5 462.0H761.4V468.8H732.5zM975.8 462.0H982.1V468.8H975.8zM715.5 468.2H738.8V474.9H715.5zM970.1 468.2H982.1V474.9H970.1zM749.5 468.2H778.4V474.9H749.5zM919.2 462.0H925.5V481.0H919.2zM721.2 474.3H733.1V481.0H721.2zM964.5 474.3H970.7V481.0H964.5zM755.1 474.3H789.7V481.0H755.1zM941.8 474.3H948.1V487.1H941.8zM964.5 480.4H976.4V487.1H964.5zM913.6 480.4H925.5V487.1H913.6zM783.4 480.4H795.3V487.1H783.4zM913.6 486.5H919.8V493.2H913.6zM987.1 486.5H999.0V493.2H987.1zM794.7 486.5H806.7V493.2H794.7zM998.4 492.6H1004.7V499.3H998.4zM907.9 492.6H914.2V499.3H907.9zM806.1 492.6H812.3V499.3H806.1zM936.2 486.5H942.4V505.5H936.2zM811.7 498.7H818.0V505.5H811.7zM1004.1 498.7H1010.3V505.5H1004.1zM902.2 498.7H908.5V505.5H902.2zM817.4 504.9H829.3V511.6H817.4zM896.6 504.9H902.8V511.6H896.6zM1009.7 504.9H1021.7V511.6H1009.7zM941.8 504.9H948.1V517.7H941.8zM890.9 511.0H897.2V517.7H890.9zM1015.4 511.0H1117.8V517.7H1015.4zM828.7 511.0H834.9V517.7H828.7zM1038.0 517.1H1106.5V523.8H1038.0zM885.3 517.1H891.5V523.8H885.3zM834.3 517.1H840.6V523.8H834.3zM947.5 517.1H953.8V529.9H947.5zM840.0 523.2H851.9V529.9H840.0zM873.9 523.2H885.9V529.9H873.9zM1049.3 523.2H1095.2V529.9H1049.3zM1049.3 529.3H1083.9V536.0H1049.3zM851.3 529.3H880.2V536.0H851.3zM953.2 529.3H959.4V536.0H953.2zM953.2 535.4H965.1V542.2H953.2zM857.0 535.4H868.9V542.2H857.0zM1026.7 535.4H1066.9V542.2H1026.7zM953.2 541.6H970.7V548.3H953.2zM1004.1 541.6H1044.3V548.3H1004.1zM958.8 547.7H1010.3V554.4H958.8zM975.8 553.8H987.7V560.5H975.8z"/>
<path fill="#64be32" d="M658.9 254.1H704.8V260.8H658.9zM636.3 260.2H710.5V266.9H636.3zM608.0 266.3H710.5V273.0H608.0zM591.0 272.4H631.3V279.2H591.0zM681.6 272.4H710.5V279.2H681.6zM760.8 278.6H767.0V285.3H760.8zM579.7 278.6H614.3V285.3H579.7zM687.2 278.6H710.5V291.4H687.2zM755.1 284.7H772.7V291.4H755.1zM523.2 284.7H597.3V291.4H523.2zM477.9 290.8H586.0V297.5H477.9zM692.9 290.8H710.5V297.5H692.9zM364.7 290.8H461.5V297.5H364.7zM749.5 290.8H778.4V303.6H749.5zM692.9 296.9H716.1V303.6H692.9zM336.4 296.9H569.0V303.6H336.4zM432.6 303.0H501.1V309.7H432.6zM749.5 303.0H755.7V309.7H749.5zM760.8 303.0H778.4V309.7H760.8zM698.6 303.0H721.8V309.7H698.6zM279.9 303.0H342.7V309.7H279.9zM274.2 309.1H303.1V315.9H274.2zM698.6 309.1H733.1V315.9H698.6zM743.8 309.1H755.7V315.9H743.8zM766.4 309.1H778.4V322.0H766.4zM698.6 315.3H750.1V322.0H698.6zM274.2 315.3H291.8V328.1H274.2zM726.8 321.4H750.1V328.1H726.8zM698.6 321.4H716.1V328.1H698.6zM760.8 321.4H772.7V334.2H760.8zM732.5 327.5H750.1V334.2H732.5zM704.2 327.5H710.5V334.2H704.2zM279.9 327.5H291.8V340.3H279.9zM732.5 333.6H772.7V346.4H732.5zM285.5 339.7H297.4V346.4H285.5zM291.2 345.8H303.1V352.6H291.2zM738.2 345.8H772.7V352.6H738.2zM743.8 352.0H772.7V358.7H743.8zM296.8 352.0H308.8V364.8H296.8zM760.8 358.1H778.4V370.9H760.8zM302.5 364.2H314.4V370.9H302.5zM766.4 370.3H784.0V377.0H766.4zM828.7 370.3H851.9V377.0H828.7zM308.1 370.3H320.1V377.0H308.1zM766.4 376.4H789.7V383.1H766.4zM806.1 376.4H834.9V383.1H806.1zM873.9 376.4H885.9V383.1H873.9zM319.5 376.4H331.4V383.1H319.5zM862.6 376.4H868.9V383.1H862.6zM896.6 376.4H902.8V389.3H896.6zM772.1 382.5H829.3V389.3H772.1zM376.0 382.5H388.0V389.3H376.0zM336.4 382.5H348.4V389.3H336.4zM868.3 382.5H880.2V395.4H868.3zM342.1 388.7H354.0V395.4H342.1zM370.4 388.7H399.3V395.4H370.4zM777.8 388.7H834.9V395.4H777.8zM347.8 394.8H376.6V401.5H347.8zM777.8 394.8H829.3V401.5H777.8zM387.4 394.8H410.6V401.5H387.4zM353.4 400.9H371.0V407.6H353.4zM393.0 400.9H421.9V407.6H393.0zM783.4 400.9H829.3V407.6H783.4zM404.3 407.0H450.2V413.7H404.3zM359.1 407.0H365.3V413.7H359.1zM789.1 407.0H829.3V419.8H789.1zM427.0 413.1H461.5V419.8H427.0zM477.9 419.2H501.1V425.9H477.9zM455.3 419.2H467.2V425.9H455.3zM896.6 407.0H902.8V432.1H896.6zM783.4 419.2H829.3V432.1H783.4zM460.9 425.3H563.4V432.1H460.9zM658.9 431.5H682.2V438.2H658.9zM557.1 431.5H586.0V438.2H557.1zM789.1 431.5H812.3V438.2H789.1zM896.6 431.5H908.5V438.2H896.6zM579.7 437.6H693.5V444.3H579.7zM789.1 437.6H806.7V444.3H789.1zM902.2 437.6H908.5V444.3H902.2zM789.1 443.7H801.0V450.4H789.1zM687.2 443.7H704.8V450.4H687.2zM902.2 443.7H914.2V456.5H902.2zM704.2 449.8H716.1V456.5H704.2zM732.5 449.8H755.7V456.5H732.5zM783.4 449.8H795.3V456.5H783.4zM953.2 455.9H965.1V462.6H953.2zM709.9 455.9H716.1V462.6H709.9zM732.5 455.9H795.3V462.6H732.5zM907.9 455.9H914.2V462.6H907.9zM715.5 462.0H733.1V468.8H715.5zM760.8 462.0H801.0V468.8H760.8zM953.2 462.0H976.4V468.8H953.2zM777.8 468.2H801.0V474.9H777.8zM947.5 468.2H970.7V474.9H947.5zM907.9 462.0H919.8V481.0H907.9zM789.1 474.3H801.0V481.0H789.1zM947.5 474.3H965.1V481.0H947.5zM947.5 480.4H953.8V487.1H947.5zM907.9 480.4H914.2V487.1H907.9zM958.8 480.4H965.1V487.1H958.8zM794.7 480.4H806.7V487.1H794.7zM902.2 486.5H914.2V493.2H902.2zM964.5 486.5H987.7V493.2H964.5zM806.1 486.5H812.3V493.2H806.1zM811.7 492.6H818.0V499.3H811.7zM896.6 492.6H908.5V499.3H896.6zM992.8 492.6H999.0V499.3H992.8zM941.8 486.5H948.1V505.5H941.8zM817.4 498.7H829.3V505.5H817.4zM890.9 498.7H902.8V505.5H890.9zM998.4 498.7H1004.7V505.5H998.4zM890.9 504.9H897.2V511.6H890.9zM998.4 504.9H1010.3V511.6H998.4zM828.7 504.9H834.9V511.6H828.7zM947.5 504.9H953.8V517.7H947.5zM834.3 511.0H840.6V517.7H834.3zM1004.1 511.0H1016.0V517.7H1004.1zM879.6 511.0H891.5V517.7H879.6zM840.0 517.1H851.9V523.8H840.0zM873.9 517.1H885.9V523.8H873.9zM1004.1 517.1H1038.6V523.8H1004.1zM953.2 517.1H959.4V523.8H953.2zM953.2 523.2H965.1V529.9H953.2zM851.3 523.2H874.5V529.9H851.3zM1004.1 523.2H1049.9V529.9H1004.1zM998.4 529.3H1049.9V536.0H998.4zM958.8 529.3H976.4V536.0H958.8zM964.5 535.4H1027.3V542.2H964.5zM970.1 541.6H1004.7V548.3H970.1z"/>
<path fill="#82c828" d="M630.7 272.4H682.2V279.2H630.7zM613.7 278.6H687.8V285.3H613.7zM596.7 284.7H687.8V291.4H596.7zM653.3 290.8H693.5V297.5H653.3zM585.4 290.8H631.3V297.5H585.4zM568.4 296.9H619.9V303.6H568.4zM658.9 296.9H693.5V303.6H658.9zM664.6 303.0H699.2V309.7H664.6zM500.5 303.0H597.3V309.7H500.5zM342.1 303.0H433.2V309.7H342.1zM755.1 303.0H761.4V309.7H755.1zM302.5 309.1H337.0V315.9H302.5zM670.3 309.1H699.2V315.9H670.3zM755.1 309.1H767.0V315.9H755.1zM410.0 309.1H580.3V315.9H410.0zM291.2 315.3H314.4V322.0H291.2zM749.5 315.3H767.0V322.0H749.5zM443.9 315.3H512.4V322.0H443.9zM664.6 315.3H699.2V328.1H664.6zM715.5 321.4H727.4V328.1H715.5zM749.5 321.4H761.4V334.2H749.5zM664.6 327.5H704.8V334.2H664.6zM709.9 327.5H733.1V334.2H709.9zM291.2 321.4H303.1V340.3H291.2zM670.3 333.6H733.1V346.4H670.3zM296.8 339.7H308.8V346.4H296.8zM302.5 345.8H314.4V352.6H302.5zM670.3 345.8H738.8V352.6H670.3zM675.9 352.0H744.4V358.7H675.9zM308.1 352.0H320.1V358.7H308.1zM726.8 358.1H761.4V364.8H726.8zM308.1 358.1H325.7V364.8H308.1zM675.9 358.1H716.1V364.8H675.9zM732.5 364.2H761.4V370.9H732.5zM313.8 364.2H331.4V370.9H313.8zM681.6 364.2H710.5V370.9H681.6zM319.5 370.3H337.0V377.0H319.5zM698.6 370.3H704.8V377.0H698.6zM732.5 370.3H767.0V377.0H732.5zM885.3 376.4H897.2V383.1H885.3zM834.3 376.4H863.2V383.1H834.3zM738.2 376.4H767.0V383.1H738.2zM330.8 376.4H348.4V383.1H330.8zM376.0 376.4H393.6V383.1H376.0zM347.8 382.5H376.6V389.3H347.8zM749.5 382.5H772.7V389.3H749.5zM828.7 382.5H840.6V389.3H828.7zM387.4 382.5H410.6V389.3H387.4zM879.6 382.5H897.2V389.3H879.6zM862.6 382.5H868.9V389.3H862.6zM353.4 388.7H371.0V395.4H353.4zM879.6 388.7H885.9V395.4H879.6zM834.3 388.7H840.6V395.4H834.3zM755.1 388.7H778.4V395.4H755.1zM398.7 388.7H450.2V395.4H398.7zM868.3 394.8H885.9V401.5H868.3zM410.0 394.8H455.9V401.5H410.0zM760.8 394.8H778.4V401.5H760.8zM896.6 388.7H902.8V407.6H896.6zM828.7 394.8H840.6V407.6H828.7zM421.3 400.9H461.5V407.6H421.3zM868.3 400.9H880.2V407.6H868.3zM766.4 400.9H784.0V407.6H766.4zM483.5 400.9H489.8V407.6H483.5zM828.7 407.0H846.3V413.7H828.7zM449.6 407.0H501.1V413.7H449.6zM766.4 407.0H789.7V419.8H766.4zM460.9 413.1H518.1V419.8H460.9zM500.5 419.2H563.4V425.9H500.5zM466.6 419.2H478.5V425.9H466.6zM766.4 419.2H784.0V425.9H766.4zM828.7 413.1H840.6V432.1H828.7zM562.8 425.3H586.0V432.1H562.8zM760.8 425.3H784.0V432.1H760.8zM653.3 425.3H687.8V432.1H653.3zM890.9 407.0H897.2V438.2H890.9zM681.6 431.5H699.2V438.2H681.6zM743.8 431.5H789.7V438.2H743.8zM585.4 431.5H659.5V438.2H585.4zM811.7 431.5H834.9V438.2H811.7zM806.1 437.6H829.3V444.3H806.1zM738.2 437.6H789.7V444.3H738.2zM692.9 437.6H704.8V444.3H692.9zM890.9 437.6H902.8V450.4H890.9zM704.2 443.7H716.1V450.4H704.2zM732.5 443.7H789.7V450.4H732.5zM800.4 443.7H823.6V450.4H800.4zM794.7 449.8H818.0V456.5H794.7zM896.6 449.8H902.8V456.5H896.6zM755.1 449.8H784.0V456.5H755.1zM715.5 449.8H733.1V462.6H715.5zM794.7 455.9H812.3V462.6H794.7zM896.6 455.9H908.5V468.8H896.6zM800.4 462.0H812.3V481.0H800.4zM902.2 468.2H908.5V481.0H902.2zM806.1 480.4H818.0V487.1H806.1zM896.6 480.4H908.5V487.1H896.6zM953.2 480.4H959.4V487.1H953.2zM811.7 486.5H823.6V493.2H811.7zM896.6 486.5H902.8V493.2H896.6zM947.5 486.5H965.1V493.2H947.5zM817.4 492.6H829.3V499.3H817.4zM981.5 492.6H993.4V499.3H981.5zM947.5 492.6H970.7V499.3H947.5zM890.9 492.6H897.2V499.3H890.9zM885.3 498.7H891.5V505.5H885.3zM947.5 498.7H959.4V505.5H947.5zM828.7 498.7H834.9V505.5H828.7zM987.1 498.7H999.0V511.6H987.1zM953.2 504.9H965.1V511.6H953.2zM834.3 504.9H840.6V511.6H834.3zM879.6 504.9H891.5V511.6H879.6zM840.0 511.0H851.9V517.7H840.0zM953.2 511.0H970.7V517.7H953.2zM873.9 511.0H880.2V517.7H873.9zM987.1 511.0H1004.7V517.7H987.1zM958.8 517.1H1004.7V523.8H958.8zM851.3 517.1H874.5V523.8H851.3zM964.5 523.2H1004.7V529.9H964.5zM975.8 529.3H999.0V536.0H975.8z"/>
<path fill="#9bd223" d="M630.7 290.8H653.9V297.5H630.7zM619.3 296.9H659.5V303.6H619.3zM596.7 303.0H665.2V309.7H596.7zM336.4 309.1H365.3V315.9H336.4zM579.7 309.1H670.9V315.9H579.7zM370.4 309.1H410.6V315.9H370.4zM404.3 315.3H444.5V322.0H404.3zM313.8 315.3H337.0V322.0H313.8zM511.8 315.3H665.2V322.0H511.8zM427.0 321.4H665.2V328.1H427.0zM302.5 321.4H320.1V328.1H302.5zM302.5 327.5H314.4V334.2H302.5zM443.9 327.5H512.4V334.2H443.9zM540.1 327.5H665.2V334.2H540.1zM302.5 333.6H320.1V340.3H302.5zM608.0 333.6H670.9V340.3H608.0zM455.3 333.6H495.5V340.3H455.3zM466.6 339.7H478.5V346.4H466.6zM308.1 339.7H325.7V346.4H308.1zM613.7 339.7H670.9V346.4H613.7zM313.8 345.8H325.7V352.6H313.8zM625.0 345.8H670.9V352.6H625.0zM630.7 352.0H676.5V358.7H630.7zM319.5 352.0H331.4V358.7H319.5zM715.5 358.1H727.4V364.8H715.5zM325.1 358.1H337.0V364.8H325.1zM642.0 358.1H676.5V364.8H642.0zM330.8 364.2H342.7V370.9H330.8zM647.6 364.2H682.2V370.9H647.6zM511.8 364.2H523.8V370.9H511.8zM709.9 364.2H733.1V370.9H709.9zM336.4 370.3H354.0V377.0H336.4zM653.3 370.3H699.2V377.0H653.3zM704.2 370.3H733.1V377.0H704.2zM483.5 370.3H529.4V377.0H483.5zM381.7 370.3H393.6V377.0H381.7zM658.9 376.4H716.1V383.1H658.9zM347.8 376.4H376.6V383.1H347.8zM721.2 376.4H738.8V383.1H721.2zM393.0 376.4H529.4V383.1H393.0zM732.5 382.5H750.1V389.3H732.5zM664.6 382.5H704.8V389.3H664.6zM840.0 382.5H863.2V389.3H840.0zM410.0 382.5H523.8V389.3H410.0zM738.2 388.7H755.7V395.4H738.2zM449.6 388.7H523.8V395.4H449.6zM670.3 388.7H687.8V395.4H670.3zM885.3 388.7H897.2V401.5H885.3zM455.3 394.8H523.8V401.5H455.3zM738.2 394.8H761.4V401.5H738.2zM840.0 388.7H851.9V407.6H840.0zM862.6 388.7H868.9V407.6H862.6zM670.3 394.8H682.2V407.6H670.3zM879.6 400.9H897.2V407.6H879.6zM489.2 400.9H529.4V407.6H489.2zM460.9 400.9H484.1V407.6H460.9zM743.8 400.9H767.0V413.7H743.8zM500.5 407.0H546.4V413.7H500.5zM845.7 407.0H851.9V413.7H845.7zM664.6 407.0H687.8V413.7H664.6zM868.3 407.0H891.5V419.8H868.3zM517.5 413.1H569.0V419.8H517.5zM658.9 413.1H687.8V419.8H658.9zM738.2 413.1H767.0V425.9H738.2zM873.9 419.2H891.5V425.9H873.9zM647.6 419.2H693.5V425.9H647.6zM562.8 419.2H591.6V425.9H562.8zM840.0 413.1H851.9V432.1H840.0zM687.2 425.3H704.8V432.1H687.2zM738.2 425.3H761.4V432.1H738.2zM585.4 425.3H653.9V432.1H585.4zM879.6 425.3H891.5V438.2H879.6zM698.6 431.5H710.5V438.2H698.6zM732.5 431.5H744.4V438.2H732.5zM834.3 431.5H846.3V438.2H834.3zM704.2 437.6H716.1V444.3H704.2zM726.8 437.6H738.8V444.3H726.8zM828.7 437.6H846.3V444.3H828.7zM885.3 437.6H891.5V450.4H885.3zM715.5 443.7H733.1V450.4H715.5zM823.0 443.7H840.6V450.4H823.0zM817.4 449.8H829.3V456.5H817.4zM885.3 449.8H897.2V462.6H885.3zM811.7 455.9H829.3V462.6H811.7zM890.9 462.0H897.2V468.8H890.9zM811.7 462.0H823.6V481.0H811.7zM890.9 468.2H902.8V481.0H890.9zM817.4 480.4H823.6V487.1H817.4zM890.9 480.4H897.2V487.1H890.9zM823.0 486.5H829.3V493.2H823.0zM885.3 486.5H897.2V493.2H885.3zM885.3 492.6H891.5V499.3H885.3zM970.1 492.6H982.1V499.3H970.1zM828.7 492.6H834.9V499.3H828.7zM958.8 498.7H987.7V505.5H958.8zM834.3 498.7H840.6V505.5H834.3zM879.6 498.7H885.9V505.5H879.6zM840.0 504.9H851.9V511.6H840.0zM873.9 504.9H880.2V511.6H873.9zM964.5 504.9H987.7V511.6H964.5zM970.1 511.0H987.7V517.7H970.1zM851.3 511.0H874.5V517.7H851.3z"/>
<path fill="#b4dc1e" d="M364.7 309.1H371.0V315.9H364.7zM387.4 315.3H404.9V322.0H387.4zM336.4 315.3H354.0V322.0H336.4zM319.5 321.4H337.0V328.1H319.5zM404.3 321.4H427.6V328.1H404.3zM511.8 327.5H540.7V334.2H511.8zM313.8 327.5H331.4V334.2H313.8zM415.7 327.5H444.5V334.2H415.7zM494.9 333.6H608.6V340.3H494.9zM319.5 333.6H331.4V340.3H319.5zM427.0 333.6H455.9V340.3H427.0zM477.9 339.7H614.3V346.4H477.9zM432.6 339.7H467.2V346.4H432.6zM325.1 339.7H337.0V346.4H325.1zM325.1 345.8H342.7V352.6H325.1zM438.3 345.8H625.6V352.6H438.3zM443.9 352.0H586.0V358.7H443.9zM330.8 352.0H348.4V358.7H330.8zM608.0 352.0H631.3V358.7H608.0zM619.3 358.1H642.6V364.8H619.3zM336.4 358.1H354.0V364.8H336.4zM438.3 358.1H563.4V364.8H438.3zM342.1 364.2H371.0V370.9H342.1zM432.6 364.2H512.4V370.9H432.6zM523.2 364.2H557.7V370.9H523.2zM376.0 364.2H393.6V370.9H376.0zM630.7 364.2H648.2V370.9H630.7zM528.8 370.3H552.0V377.0H528.8zM393.0 370.3H484.1V377.0H393.0zM636.3 370.3H653.9V377.0H636.3zM353.4 370.3H382.3V377.0H353.4zM642.0 376.4H659.5V383.1H642.0zM528.8 376.4H557.7V383.1H528.8zM715.5 376.4H721.8V383.1H715.5zM653.3 382.5H665.2V389.3H653.3zM704.2 382.5H733.1V389.3H704.2zM523.2 382.5H552.0V395.4H523.2zM653.3 388.7H670.9V395.4H653.3zM687.2 388.7H738.8V395.4H687.2zM523.2 394.8H557.7V401.5H523.2zM681.6 394.8H710.5V401.5H681.6zM726.8 394.8H738.8V401.5H726.8zM851.3 388.7H863.2V407.6H851.3zM658.9 394.8H670.9V407.6H658.9zM681.6 400.9H704.8V407.6H681.6zM726.8 400.9H744.4V407.6H726.8zM528.8 400.9H563.4V407.6H528.8zM545.8 407.0H574.7V413.7H545.8zM653.3 407.0H665.2V413.7H653.3zM732.5 407.0H744.4V413.7H732.5zM851.3 407.0H868.9V419.8H851.3zM687.2 407.0H699.2V419.8H687.2zM647.6 413.1H659.5V419.8H647.6zM568.4 413.1H591.6V419.8H568.4zM732.5 413.1H738.8V425.9H732.5zM851.3 419.2H874.5V425.9H851.3zM591.0 419.2H648.2V425.9H591.0zM692.9 419.2H704.8V425.9H692.9zM726.8 425.3H738.8V432.1H726.8zM851.3 425.3H880.2V432.1H851.3zM704.2 425.3H710.5V432.1H704.2zM726.8 431.5H733.1V438.2H726.8zM709.9 431.5H716.1V438.2H709.9zM868.3 431.5H880.2V438.2H868.3zM845.7 431.5H857.6V444.3H845.7zM715.5 437.6H727.4V444.3H715.5zM873.9 437.6H885.9V450.4H873.9zM840.0 443.7H851.9V450.4H840.0zM828.7 449.8H846.3V456.5H828.7zM879.6 449.8H885.9V462.6H879.6zM828.7 455.9H840.6V462.6H828.7zM823.0 462.0H840.6V468.8H823.0zM879.6 462.0H891.5V487.1H879.6zM823.0 468.2H834.9V487.1H823.0zM828.7 486.5H840.6V493.2H828.7zM879.6 486.5H885.9V499.3H879.6zM834.3 492.6H840.6V499.3H834.3zM840.0 498.7H851.9V505.5H840.0zM873.9 498.7H880.2V505.5H873.9zM851.3 504.9H857.6V511.6H851.3zM862.6 504.9H874.5V511.6H862.6z"/>
<path fill="#cde619" d="M353.4 315.3H388.0V322.0H353.4zM336.4 321.4H348.4V328.1H336.4zM387.4 321.4H404.9V328.1H387.4zM330.8 327.5H342.7V334.2H330.8zM393.0 327.5H416.3V334.2H393.0zM398.7 333.6H427.6V340.3H398.7zM330.8 333.6H348.4V340.3H330.8zM398.7 339.7H433.2V346.4H398.7zM336.4 339.7H354.0V346.4H336.4zM342.1 345.8H359.7V352.6H342.1zM398.7 345.8H438.9V352.6H398.7zM347.8 352.0H444.5V358.7H347.8zM585.4 352.0H608.6V358.7H585.4zM353.4 358.1H438.9V364.8H353.4zM562.8 358.1H619.9V364.8H562.8zM557.1 364.2H580.3V370.9H557.1zM613.7 364.2H631.3V370.9H613.7zM370.4 364.2H376.6V370.9H370.4zM393.0 364.2H433.2V370.9H393.0zM625.0 370.3H636.9V377.0H625.0zM551.4 370.3H574.7V377.0H551.4zM630.7 376.4H642.6V383.1H630.7zM557.1 376.4H569.0V383.1H557.1zM636.3 382.5H653.9V389.3H636.3zM551.4 382.5H569.0V395.4H551.4zM642.0 388.7H653.9V395.4H642.0zM557.1 394.8H574.7V401.5H557.1zM709.9 394.8H727.4V401.5H709.9zM642.0 394.8H659.5V407.6H642.0zM704.2 400.9H727.4V407.6H704.2zM562.8 400.9H580.3V407.6H562.8zM642.0 407.0H653.9V413.7H642.0zM574.1 407.0H591.6V413.7H574.1zM698.6 407.0H716.1V413.7H698.6zM721.2 407.0H733.1V413.7H721.2zM726.8 413.1H733.1V419.8H726.8zM698.6 413.1H710.5V419.8H698.6zM591.0 413.1H648.2V419.8H591.0zM704.2 419.2H716.1V425.9H704.2zM721.2 419.2H733.1V425.9H721.2zM709.9 425.3H727.4V432.1H709.9zM715.5 431.5H727.4V438.2H715.5zM857.0 431.5H868.9V438.2H857.0zM857.0 437.6H874.5V444.3H857.0zM851.3 443.7H874.5V450.4H851.3zM845.7 449.8H880.2V456.5H845.7zM840.0 455.9H857.6V462.6H840.0zM868.3 455.9H880.2V468.8H868.3zM840.0 462.0H851.9V468.8H840.0zM834.3 468.2H846.3V487.1H834.3zM873.9 468.2H880.2V493.2H873.9zM840.0 486.5H846.3V493.2H840.0zM840.0 492.6H851.9V499.3H840.0zM868.3 492.6H880.2V499.3H868.3zM851.3 498.7H857.6V505.5H851.3zM862.6 498.7H874.5V505.5H862.6zM857.0 504.9H863.2V511.6H857.0z"/>
<path fill="#e6f50f" d="M347.8 321.4H388.0V328.1H347.8zM342.1 327.5H359.7V334.2H342.1zM370.4 327.5H393.6V334.2H370.4zM347.8 333.6H399.3V340.3H347.8zM353.4 339.7H399.3V346.4H353.4zM359.1 345.8H399.3V352.6H359.1zM579.7 364.2H614.3V370.9H579.7zM574.1 370.3H591.6V377.0H574.1zM608.0 370.3H625.6V377.0H608.0zM619.3 376.4H631.3V383.1H619.3zM619.3 382.5H636.9V389.3H619.3zM568.4 376.4H586.0V395.4H568.4zM625.0 388.7H642.6V395.4H625.0zM619.3 394.8H642.6V401.5H619.3zM574.1 394.8H591.6V401.5H574.1zM579.7 400.9H642.6V407.6H579.7zM591.0 407.0H642.6V413.7H591.0zM715.5 407.0H721.8V413.7H715.5zM709.9 413.1H727.4V419.8H709.9zM715.5 419.2H721.8V425.9H715.5zM857.0 455.9H868.9V462.6H857.0zM851.3 462.0H868.9V468.8H851.3zM845.7 468.2H874.5V474.9H845.7zM862.6 474.3H874.5V481.0H862.6zM845.7 474.3H857.6V481.0H845.7zM845.7 480.4H851.9V487.1H845.7zM868.3 480.4H874.5V493.2H868.3zM845.7 486.5H857.6V493.2H845.7zM851.3 492.6H868.9V499.3H851.3zM857.0 498.7H863.2V505.5H857.0z"/>
<path fill="#ffff00" d="M359.1 327.5H371.0V334.2H359.1zM591.0 370.3H608.6V377.0H591.0zM585.4 376.4H619.9V389.3H585.4zM585.4 388.7H625.6V395.4H585.4zM591.0 394.8H619.9V401.5H591.0zM857.0 474.3H863.2V481.0H857.0zM851.3 480.4H868.9V487.1H851.3zM857.0 486.5H868.9V493.2H857.0z"/></g></g>

<rect x="167.0" y="101.5" width="1131.6" height="611.6" fill="url(#gridpat)" clip-path="url(#cpe)"/>
<use href="#lm" fill="#000"/><use href="#lm" fill="url(#linepat)"/>

<use href="#bc"/>
<text class="cl" transform="translate(254 484) rotate(-52)" text-anchor="middle" dy="7.5">1000</text>
<text class="cl" transform="translate(217 587) rotate(-75)" text-anchor="middle" dy="7.5">1000</text>
<text class="cl" transform="translate(246 579) rotate(-80)" text-anchor="middle" dy="7.5">2000</text>
<text class="cl" transform="translate(564 606) rotate(-33)" text-anchor="middle" dy="7.5">1000</text>
<text class="cl" transform="translate(622 592) rotate(-33)" text-anchor="middle" dy="7.5">200</text>
<text class="cl" transform="translate(970 537) rotate(52)" text-anchor="middle" dy="7.5">2000</text>
<text class="cl" transform="translate(892 640) rotate(-42)" text-anchor="middle" dy="7.5">2000</text>
<text class="cl" transform="translate(1205 597) rotate(35)" text-anchor="middle" dy="7.5">200</text>
<text class="cl" transform="translate(625 334) rotate(-22)" text-anchor="middle" dy="7.5">2000</text>
<text class="cl" transform="translate(838 295) rotate(32)" text-anchor="middle" dy="7.5">2000</text>
<text class="cl" transform="translate(895 350) rotate(62)" text-anchor="middle" dy="7.5">1000</text>
<text class="cl" transform="translate(830 585) rotate(68)" text-anchor="middle" dy="7.5">1000</text>
<text class="cl" transform="translate(800 560) rotate(68)" text-anchor="middle" dy="7.5">1000</text>

</g>
<path d="M143.0 783.2H1322.6M143.0 1394.9H1299.6M167.0 783.2V1394.9M1298.6 783.2V1397.4" stroke="#000" stroke-width="5.0" fill="none"/>
<path d="M167.0 759.2V783.2M167.0 1394.9V1418.9M280.2 759.2V783.2M280.2 1394.9V1418.9M393.3 759.2V783.2M393.3 1394.9V1418.9M506.5 759.2V783.2M506.5 1394.9V1418.9M619.6 759.2V783.2M619.6 1394.9V1418.9M732.8 759.2V783.2M732.8 1394.9V1418.9M846.0 759.2V783.2M846.0 1394.9V1418.9M959.1 759.2V783.2M959.1 1394.9V1418.9M1072.3 759.2V783.2M1072.3 1394.9V1418.9M1185.4 759.2V783.2M1185.4 1394.9V1418.9M143.0 783.2H167.0M1298.6 783.2H1322.6M143.0 844.4H167.0M1298.6 844.4H1322.6M143.0 905.5H167.0M1298.6 905.5H1322.6M143.0 966.7H167.0M1298.6 966.7H1322.6M143.0 1027.9H167.0M1298.6 1027.9H1322.6M143.0 1089.1H167.0M1298.6 1089.1H1322.6M143.0 1150.2H167.0M1298.6 1150.2H1322.6M143.0 1211.4H167.0M1298.6 1211.4H1322.6M143.0 1272.6H167.0M1298.6 1272.6H1322.6M143.0 1333.7H167.0M1298.6 1333.7H1322.6M143.0 1394.9H167.0M1298.6 1394.9H1322.6" stroke="#000" stroke-width="5.0" fill="none"/>
<text x="12.5" y="785.6" class="ax" textLength="107.5" lengthAdjust="spacingAndGlyphs">31°N</text>
<text x="12.5" y="909.4" class="ax" textLength="107.5" lengthAdjust="spacingAndGlyphs">29°N</text>
<text x="12.5" y="1031.8" class="ax" textLength="107.5" lengthAdjust="spacingAndGlyphs">27°N</text>
<text x="12.5" y="1153.5" class="ax" textLength="107.5" lengthAdjust="spacingAndGlyphs">25°N</text>
<text x="12.5" y="1275.5" class="ax" textLength="107.5" lengthAdjust="spacingAndGlyphs">23°N</text>
<text x="12.5" y="1397.6" class="ax" textLength="107.5" lengthAdjust="spacingAndGlyphs">21°N</text>
<rect x="167.0" y="1350.4" width="43.5" height="44.5" fill="#fff" stroke="#000" stroke-width="3"/>
<text x="189.0" y="1391.9" class="pl" text-anchor="middle">e</text>
<g transform="translate(0,1356.1)">
<clipPath id="cpf"><path d="M812.0 138.2H817.7V144.3H812.0zM732.8 144.3H829.0V150.4H732.8zM676.2 150.4H851.6V156.5H676.2zM676.2 156.5H857.3V162.7H676.2zM670.6 162.7H868.6V168.8H670.6zM659.2 168.8H868.6V174.9H659.2zM653.6 174.9H874.2V181.0H653.6zM936.5 174.9H959.1V181.0H936.5zM399.0 181.0H432.9V187.1H399.0zM670.6 181.0H970.4V187.1H670.6zM500.8 181.0H523.5V187.1H500.8zM670.6 187.1H981.8V193.2H670.6zM370.7 187.1H466.9V193.2H370.7zM495.2 187.1H529.1V193.2H495.2zM670.6 193.2H987.4V199.4H670.6zM348.1 193.2H529.1V199.4H348.1zM670.6 199.4H993.1V205.5H670.6zM342.4 199.4H529.1V205.5H342.4zM336.7 205.5H534.8V211.6H336.7zM670.6 205.5H998.7V211.6H670.6zM331.1 211.6H534.8V217.7H331.1zM580.0 211.6H631.0V217.7H580.0zM670.6 211.6H1004.4V217.7H670.6zM325.4 217.7H1010.0V223.8H325.4zM319.8 223.8H1015.7V229.9H319.8zM314.1 229.9H1015.7V236.1H314.1zM302.8 236.1H1021.4V242.2H302.8zM291.5 242.2H1021.4V248.3H291.5zM274.5 248.3H1021.4V254.4H274.5zM263.2 254.4H1021.4V260.5H263.2zM257.5 260.5H1015.7V266.6H257.5zM251.9 266.6H1015.7V272.7H251.9zM246.2 272.7H1015.7V278.9H246.2zM234.9 278.9H1015.7V291.1H234.9zM229.2 291.1H1015.7V303.3H229.2zM217.9 303.3H1015.7V309.4H217.9zM212.3 309.4H1021.4V315.6H212.3zM206.6 315.6H1021.4V321.7H206.6zM206.6 321.7H1032.7V333.9H206.6zM206.6 333.9H1038.3V352.3H206.6zM206.6 352.3H1044.0V364.5H206.6zM206.6 364.5H1049.6V376.7H206.6zM206.6 376.7H1055.3V389.0H206.6zM1196.8 382.8H1202.4V389.0H1196.8zM212.3 389.0H1061.0V395.1H212.3zM217.9 395.1H1061.0V401.2H217.9zM217.9 401.2H1066.6V413.4H217.9zM1185.4 401.2H1196.8V425.6H1185.4zM217.9 413.4H1072.3V425.6H217.9zM217.9 425.6H1077.9V431.8H217.9zM212.3 431.8H1077.9V437.9H212.3zM1179.8 437.9H1191.1V444.0H1179.8zM206.6 437.9H1083.6V444.0H206.6zM1174.1 444.0H1191.1V450.1H1174.1zM200.9 444.0H1089.3V450.1H200.9zM200.9 450.1H1094.9V456.2H200.9zM206.6 456.2H1100.6V462.3H206.6zM1174.1 450.1H1185.4V468.5H1174.1zM206.6 462.3H1106.2V468.5H206.6zM1162.8 468.5H1179.8V474.6H1162.8zM206.6 468.5H1134.5V474.6H206.6zM212.3 474.6H1179.8V480.7H212.3zM217.9 480.7H1179.8V486.8H217.9zM223.6 486.8H1168.5V499.0H223.6zM217.9 499.0H1168.5V505.2H217.9zM217.9 505.2H1162.8V517.4H217.9zM212.3 517.4H1162.8V523.5H212.3zM212.3 523.5H285.8V529.6H212.3zM416.0 523.5H1162.8V535.7H416.0zM308.4 523.5H399.0V535.7H308.4zM234.9 529.6H285.8V535.7H234.9zM212.3 529.6H223.6V535.7H212.3zM212.3 535.7H217.9V541.9H212.3zM240.6 535.7H285.8V541.9H240.6zM302.8 535.7H1162.8V541.9H302.8zM206.6 541.9H217.9V548.0H206.6zM246.2 541.9H410.3V548.0H246.2zM438.6 541.9H1162.8V548.0H438.6zM257.5 548.0H399.0V554.1H257.5zM670.6 548.0H1151.5V554.1H670.6zM206.6 548.0H212.3V554.1H206.6zM438.6 548.0H659.2V554.1H438.6zM268.8 554.1H376.3V560.2H268.8zM200.9 554.1H212.3V560.2H200.9zM432.9 554.1H1134.5V560.2H432.9zM302.8 560.2H370.7V566.3H302.8zM427.3 560.2H636.6V566.3H427.3zM280.2 560.2H285.8V566.3H280.2zM647.9 560.2H1134.5V572.4H647.9zM314.1 566.3H359.4V572.4H314.1zM416.0 566.3H636.6V572.4H416.0zM404.6 572.4H1021.4V578.5H404.6zM319.8 572.4H353.7V578.5H319.8zM319.8 578.5H342.4V584.7H319.8zM387.7 578.5H1004.4V584.7H387.7zM319.8 584.7H336.7V590.8H319.8zM376.3 584.7H981.8V590.8H376.3zM376.3 590.8H964.8V596.9H376.3zM319.8 590.8H331.1V596.9H319.8zM376.3 596.9H953.5V603.0H376.3zM314.1 596.9H331.1V603.0H314.1zM308.4 603.0H331.1V609.1H308.4zM370.7 603.0H942.1V609.1H370.7zM291.5 603.0H297.1V615.2H291.5zM308.4 609.1H325.4V615.2H308.4zM778.1 609.1H930.8V615.2H778.1zM370.7 609.1H732.8V615.2H370.7zM365.0 615.2H529.1V621.4H365.0zM783.7 615.2H930.8V621.4H783.7zM540.4 615.2H721.5V621.4H540.4zM348.1 615.2H359.4V621.4H348.1zM540.4 621.4H676.2V627.5H540.4zM789.4 621.4H930.8V627.5H789.4zM342.4 621.4H495.2V627.5H342.4zM506.5 621.4H512.1V627.5H506.5zM342.4 627.5H489.5V633.6H342.4zM529.1 627.5H647.9V633.6H529.1zM800.7 627.5H925.2V633.6H800.7zM625.3 633.6H636.6V639.7H625.3zM517.8 633.6H608.3V639.7H517.8zM348.1 633.6H489.5V639.7H348.1zM817.7 633.6H919.5V639.7H817.7zM557.4 639.7H580.0V645.8H557.4zM840.3 639.7H919.5V645.8H840.3zM382.0 639.7H483.8V645.8H382.0zM857.3 645.8H913.9V651.9H857.3zM563.1 645.8H568.7V651.9H563.1zM387.7 645.8H444.2V651.9H387.7zM399.0 651.9H438.6V658.1H399.0zM862.9 651.9H908.2V658.1H862.9zM862.9 658.1H902.5V664.2H862.9zM404.6 658.1H427.3V664.2H404.6zM410.3 664.2H421.6V670.3H410.3z"/></clipPath>
<g clip-path="url(#cpf)"><g filter="url(#bl)"><path fill="#c800ff" d="M800.4 125.7H829.3V132.4H800.4zM755.1 131.8H840.6V138.5H755.1zM721.2 131.8H733.1V138.5H721.2zM709.9 137.9H727.4V144.6H709.9zM857.0 137.9H863.2V144.6H857.0zM755.1 137.9H846.3V144.6H755.1zM664.6 137.9H693.5V144.6H664.6zM715.5 144.0H727.4V150.7H715.5zM857.0 144.0H868.9V150.7H857.0zM760.8 144.0H834.9V150.7H760.8zM664.6 144.0H687.8V150.7H664.6zM658.9 150.1H682.2V156.8H658.9zM862.6 150.1H880.2V163.0H862.6zM647.6 156.2H676.5V163.0H647.6zM868.3 162.4H885.9V169.1H868.3zM924.9 162.4H970.7V169.1H924.9zM642.0 162.4H670.9V169.1H642.0zM873.9 168.5H982.1V175.2H873.9zM489.2 168.5H535.1V175.2H489.2zM427.0 168.5H444.5V175.2H427.0zM642.0 168.5H665.2V175.2H642.0zM483.5 174.6H540.7V181.3H483.5zM642.0 174.6H659.5V181.3H642.0zM885.3 174.6H993.4V181.3H885.3zM432.6 174.6H478.5V181.3H432.6zM642.0 180.7H653.9V187.4H642.0zM438.3 180.7H540.7V187.4H438.3zM902.2 180.7H999.0V187.4H902.2zM919.2 186.8H1004.7V193.5H919.2zM500.5 186.8H540.7V193.5H500.5zM642.0 186.8H648.2V193.5H642.0zM534.5 192.9H546.4V199.7H534.5zM941.8 192.9H1010.3V199.7H941.8zM953.2 199.1H1016.0V205.8H953.2zM568.4 199.1H636.9V205.8H568.4zM970.1 205.2H1021.7V211.9H970.1zM557.1 205.2H591.6V211.9H557.1zM975.8 211.3H1027.3V218.0H975.8zM987.1 217.4H1027.3V224.1H987.1zM992.8 223.5H1033.0V236.4H992.8zM998.4 235.8H1033.0V242.5H998.4zM1004.1 241.9H1033.0V254.7H1004.1zM1009.7 254.1H1033.0V260.8H1009.7zM1015.4 260.2H1033.0V273.0H1015.4zM1021.1 272.4H1027.3V291.4H1021.1zM1026.7 296.9H1033.0V309.7H1026.7zM1026.7 309.1H1044.3V315.9H1026.7zM1032.4 315.3H1044.3V322.0H1032.4zM1032.4 321.4H1049.9V340.3H1032.4zM1038.0 339.7H1055.6V346.4H1038.0zM1043.7 345.8H1055.6V352.6H1043.7zM1043.7 352.0H1061.3V358.7H1043.7zM1049.3 358.1H1061.3V364.8H1049.3zM1049.3 364.2H1066.9V370.9H1049.3zM1055.0 370.3H1066.9V377.0H1055.0zM1055.0 376.4H1072.6V383.1H1055.0zM1185.1 370.3H1214.0V389.3H1185.1zM1060.7 382.5H1072.6V389.3H1060.7zM1173.8 388.7H1214.0V395.4H1173.8zM1066.3 388.7H1078.2V401.5H1066.3zM1173.8 394.8H1185.7V401.5H1173.8zM1196.5 394.8H1214.0V401.5H1196.5zM1072.0 400.9H1083.9V413.7H1072.0zM1077.6 413.1H1089.6V425.9H1077.6zM1083.3 425.3H1095.2V432.1H1083.3zM1089.0 431.5H1100.9V438.2H1089.0zM1094.6 437.6H1106.5V444.3H1094.6zM1100.3 443.7H1112.2V450.4H1100.3zM1105.9 449.8H1117.8V456.5H1105.9zM1105.9 455.9H1134.8V462.6H1105.9zM1111.6 462.0H1134.8V468.8H1111.6zM1145.5 553.8H1174.4V560.5H1145.5zM1128.6 559.9H1163.1V566.6H1128.6zM1111.6 566.0H1146.1V572.7H1111.6zM330.8 572.1H354.0V578.8H330.8zM1105.9 572.1H1146.1V585.0H1105.9zM313.8 578.2H388.0V585.0H313.8zM308.1 584.4H393.6V591.1H308.1zM279.9 590.5H354.0V597.2H279.9zM715.5 590.5H727.4V597.2H715.5zM359.1 590.5H399.3V603.3H359.1zM675.9 596.6H761.4V603.3H675.9zM279.9 596.6H348.4V603.3H279.9zM658.9 602.7H772.7V609.4H658.9zM279.9 602.7H399.3V615.5H279.9zM647.6 608.8H772.7V615.5H647.6zM596.7 614.9H778.4V621.7H596.7zM279.9 614.9H404.9V627.8H279.9zM766.4 621.1H784.0V627.8H766.4zM534.5 621.1H744.4V627.8H534.5zM511.8 627.2H733.1V633.9H511.8zM772.1 627.2H789.7V633.9H772.1zM330.8 627.2H410.6V640.0H330.8zM494.9 633.3H687.8V640.0H494.9zM777.8 633.3H801.0V640.0H777.8zM789.1 639.4H801.0V646.1H789.1zM506.2 639.4H659.5V646.1H506.2zM330.8 639.4H416.3V646.1H330.8zM466.6 639.4H501.1V646.1H466.6zM336.4 645.5H501.1V652.2H336.4zM506.2 645.5H648.2V652.2H506.2zM370.4 651.6H495.5V658.4H370.4zM545.8 651.6H591.6V658.4H545.8zM376.0 657.8H444.5V664.5H376.0zM551.4 657.8H580.3V664.5H551.4zM387.4 663.9H444.5V670.6H387.4zM393.0 670.0H438.9V676.7H393.0zM398.7 676.1H433.2V682.8H398.7z"/>
<path fill="#9614ff" d="M732.5 131.8H738.8V138.5H732.5zM749.5 131.8H755.7V144.6H749.5zM692.9 137.9H710.5V144.6H692.9zM726.8 137.9H738.8V144.6H726.8zM845.7 137.9H857.6V144.6H845.7zM687.2 144.0H716.1V150.7H687.2zM726.8 144.0H761.4V150.7H726.8zM834.3 144.0H857.6V150.7H834.3zM681.6 150.1H699.2V156.8H681.6zM704.2 150.1H727.4V156.8H704.2zM755.1 150.1H863.2V156.8H755.1zM675.9 156.2H693.5V163.0H675.9zM828.7 156.2H863.2V163.0H828.7zM851.3 162.4H868.9V169.1H851.3zM670.3 162.4H687.8V169.1H670.3zM664.6 168.5H676.5V175.2H664.6zM387.4 168.5H427.6V175.2H387.4zM862.6 168.5H874.5V175.2H862.6zM868.3 174.6H885.9V181.3H868.3zM658.9 174.6H670.9V181.3H658.9zM376.0 174.6H433.2V181.3H376.0zM653.3 180.7H665.2V187.4H653.3zM873.9 180.7H902.8V187.4H873.9zM381.7 180.7H438.9V187.4H381.7zM398.7 186.8H501.1V193.5H398.7zM890.9 186.8H919.8V193.5H890.9zM647.6 186.8H665.2V193.5H647.6zM907.9 192.9H942.4V199.7H907.9zM494.9 192.9H535.1V199.7H494.9zM924.9 199.1H953.8V205.8H924.9zM528.8 199.1H546.4V205.8H528.8zM636.3 199.1H642.6V205.8H636.3zM936.2 205.2H970.7V211.9H936.2zM540.1 205.2H557.7V211.9H540.1zM591.0 205.2H642.6V211.9H591.0zM551.4 211.3H619.9V218.0H551.4zM947.5 211.3H976.4V218.0H947.5zM964.5 217.4H987.7V224.1H964.5zM970.1 223.5H993.4V230.2H970.1zM975.8 229.6H993.4V236.4H975.8zM981.5 235.8H999.0V242.5H981.5zM987.1 241.9H1004.7V248.6H987.1zM992.8 248.0H1004.7V254.7H992.8zM998.4 254.1H1010.3V260.8H998.4zM1004.1 260.2H1016.0V266.9H1004.1zM1009.7 266.3H1016.0V273.0H1009.7zM1009.7 272.4H1021.7V279.2H1009.7zM1015.4 278.6H1021.7V291.4H1015.4zM1015.4 290.8H1027.3V297.5H1015.4zM1021.1 296.9H1027.3V315.9H1021.1zM1021.1 315.3H1033.0V322.0H1021.1zM1026.7 321.4H1033.0V340.3H1026.7zM1026.7 339.7H1038.6V346.4H1026.7zM1032.4 345.8H1044.3V352.6H1032.4zM1038.0 352.0H1044.3V358.7H1038.0zM1038.0 358.1H1049.9V364.8H1038.0zM1043.7 364.2H1049.9V370.9H1043.7zM1049.3 370.3H1055.6V383.1H1049.3zM1055.0 382.5H1061.3V389.3H1055.0zM1055.0 388.7H1066.9V395.4H1055.0zM1060.7 394.8H1066.9V401.5H1060.7zM1185.1 394.8H1197.1V401.5H1185.1zM1202.1 400.9H1208.4V407.6H1202.1zM1173.8 400.9H1191.4V407.6H1173.8zM1066.3 400.9H1072.6V413.7H1066.3zM1066.3 413.1H1078.2V419.8H1066.3zM1072.0 419.2H1078.2V425.9H1072.0zM1072.0 425.3H1083.9V432.1H1072.0zM1072.0 431.5H1089.6V438.2H1072.0zM1077.6 437.6H1095.2V444.3H1077.6zM189.3 443.7H218.2V450.4H189.3zM1083.3 443.7H1100.9V450.4H1083.3zM189.3 449.8H229.5V456.5H189.3zM1094.6 449.8H1106.5V456.5H1094.6zM1100.3 455.9H1106.5V462.6H1100.3zM1134.2 455.9H1146.1V462.6H1134.2zM189.3 455.9H235.2V468.8H189.3zM1100.3 462.0H1112.2V468.8H1100.3zM1134.2 462.0H1140.5V468.8H1134.2zM1105.9 468.2H1134.8V474.9H1105.9zM195.0 468.2H235.2V487.1H195.0zM200.6 486.5H235.2V493.2H200.6zM206.3 492.6H235.2V505.5H206.3zM200.6 504.9H235.2V523.8H200.6zM200.6 523.2H229.5V529.9H200.6zM195.0 529.3H223.9V536.0H195.0zM1156.8 535.4H1174.4V542.2H1156.8zM195.0 535.4H218.2V542.2H195.0zM189.3 541.6H195.6V548.3H189.3zM1151.2 541.6H1174.4V548.3H1151.2zM1139.9 547.7H1174.4V554.4H1139.9zM251.6 553.8H263.5V560.5H251.6zM1122.9 553.8H1146.1V560.5H1122.9zM1105.9 559.9H1129.2V566.6H1105.9zM319.5 559.9H382.3V566.6H319.5zM251.6 559.9H274.8V566.6H251.6zM302.5 566.0H388.0V572.7H302.5zM257.2 566.0H291.8V572.7H257.2zM1089.0 566.0H1112.2V572.7H1089.0zM353.4 572.1H393.6V578.8H353.4zM268.5 572.1H331.4V578.8H268.5zM1077.6 572.1H1106.5V578.8H1077.6zM302.5 578.2H314.4V585.0H302.5zM387.4 578.2H399.3V585.0H387.4zM1066.3 578.2H1106.5V585.0H1066.3zM692.9 578.2H738.8V585.0H692.9zM393.0 584.4H404.9V591.1H393.0zM302.5 584.4H308.8V591.1H302.5zM670.3 584.4H761.4V591.1H670.3zM658.9 590.5H716.1V597.2H658.9zM726.8 590.5H772.7V597.2H726.8zM398.7 590.5H410.6V603.3H398.7zM760.8 596.6H778.4V603.3H760.8zM642.0 596.6H676.5V603.3H642.0zM772.1 602.7H778.4V609.4H772.1zM585.4 602.7H659.5V609.4H585.4zM398.7 602.7H416.3V609.4H398.7zM772.1 608.8H784.0V615.5H772.1zM517.5 608.8H648.2V615.5H517.5zM398.7 608.8H421.9V615.5H398.7zM500.5 614.9H597.3V621.7H500.5zM777.8 614.9H789.7V621.7H777.8zM404.3 614.9H427.6V621.7H404.3zM483.5 621.1H535.1V627.8H483.5zM404.3 621.1H433.2V627.8H404.3zM783.4 621.1H795.3V627.8H783.4zM789.1 627.2H806.7V633.9H789.1zM410.0 627.2H512.4V633.9H410.0zM800.4 633.3H818.0V640.0H800.4zM410.0 633.3H495.5V640.0H410.0zM415.7 639.4H467.2V646.1H415.7zM800.4 639.4H829.3V646.1H800.4zM806.1 645.5H840.6V652.2H806.1zM828.7 651.6H885.9V658.4H828.7zM845.7 657.8H897.2V664.5H845.7zM443.9 657.8H455.9V664.5H443.9zM851.3 663.9H908.5V670.6H851.3zM443.9 663.9H450.2V670.6H443.9zM851.3 670.0H914.2V676.7H851.3z"/>
<path fill="#6e28fa" d="M738.2 131.8H750.1V144.6H738.2zM698.6 150.1H704.8V156.8H698.6zM726.8 150.1H755.7V156.8H726.8zM755.1 156.2H829.3V163.0H755.1zM692.9 156.2H733.1V163.0H692.9zM817.4 162.4H851.9V169.1H817.4zM687.2 162.4H710.5V169.1H687.2zM675.9 168.5H699.2V175.2H675.9zM845.7 168.5H863.2V175.2H845.7zM359.1 174.6H376.6V181.3H359.1zM857.0 174.6H868.9V181.3H857.0zM670.3 174.6H687.8V181.3H670.3zM664.6 180.7H676.5V187.4H664.6zM347.8 180.7H382.3V187.4H347.8zM862.6 180.7H874.5V187.4H862.6zM664.6 186.8H670.9V193.5H664.6zM353.4 186.8H399.3V193.5H353.4zM873.9 186.8H891.5V193.5H873.9zM658.9 192.9H665.2V199.7H658.9zM359.1 192.9H495.5V199.7H359.1zM885.3 192.9H908.5V199.7H885.3zM506.2 199.1H529.4V205.8H506.2zM896.6 199.1H925.5V205.8H896.6zM528.8 205.2H540.7V211.9H528.8zM913.6 205.2H936.8V211.9H913.6zM642.0 205.2H653.9V211.9H642.0zM619.3 211.3H642.6V218.0H619.3zM540.1 211.3H552.0V218.0H540.1zM924.9 211.3H948.1V218.0H924.9zM930.5 217.4H965.1V224.1H930.5zM557.1 217.4H603.0V224.1H557.1zM947.5 223.5H970.7V230.2H947.5zM953.2 229.6H976.4V236.4H953.2zM958.8 235.8H982.1V242.5H958.8zM970.1 241.9H987.7V248.6H970.1zM975.8 248.0H993.4V254.7H975.8zM981.5 254.1H999.0V260.8H981.5zM987.1 260.2H1004.7V266.9H987.1zM992.8 266.3H1010.3V273.0H992.8zM998.4 272.4H1010.3V279.2H998.4zM1004.1 278.6H1016.0V291.4H1004.1zM1009.7 290.8H1016.0V297.5H1009.7zM1009.7 296.9H1021.7V303.6H1009.7zM1015.4 303.0H1021.7V322.0H1015.4zM1015.4 321.4H1027.3V334.2H1015.4zM1021.1 333.6H1027.3V346.4H1021.1zM1021.1 345.8H1033.0V352.6H1021.1zM1026.7 352.0H1038.6V358.7H1026.7zM1032.4 358.1H1038.6V364.8H1032.4zM1032.4 364.2H1044.3V370.9H1032.4zM1038.0 370.3H1049.9V383.1H1038.0zM1043.7 382.5H1055.6V389.3H1043.7zM1049.3 388.7H1055.6V395.4H1049.3zM1055.0 394.8H1061.3V401.5H1055.0zM1190.8 400.9H1202.7V407.6H1190.8zM1055.0 400.9H1066.9V407.6H1055.0zM1173.8 407.0H1191.4V413.7H1173.8zM1060.7 407.0H1066.9V419.8H1060.7zM1060.7 419.2H1072.6V425.9H1060.7zM1066.3 425.3H1072.6V438.2H1066.3zM189.3 431.5H229.5V438.2H189.3zM1066.3 437.6H1078.2V444.3H1066.3zM189.3 437.6H240.9V444.3H189.3zM1072.0 443.7H1083.9V450.4H1072.0zM217.6 443.7H246.5V450.4H217.6zM228.9 449.8H252.2V456.5H228.9zM1072.0 449.8H1095.2V456.5H1072.0zM1072.0 455.9H1100.9V462.6H1072.0zM1094.6 462.0H1100.9V468.8H1094.6zM1139.9 462.0H1146.1V468.8H1139.9zM1100.3 468.2H1106.5V474.9H1100.3zM1134.2 468.2H1140.5V474.9H1134.2zM234.6 455.9H252.2V481.0H234.6zM1105.9 474.3H1134.8V481.0H1105.9zM234.6 480.4H246.5V493.2H234.6zM234.6 492.6H252.2V517.7H234.6zM234.6 517.1H257.8V523.8H234.6zM585.4 523.2H603.0V529.9H585.4zM228.9 523.2H263.5V529.9H228.9zM557.1 529.3H608.6V536.0H557.1zM1156.8 529.3H1174.4V536.0H1156.8zM223.3 529.3H269.1V536.0H223.3zM540.1 535.4H608.6V542.2H540.1zM1145.5 535.4H1157.4V542.2H1145.5zM217.6 535.4H280.5V542.2H217.6zM1139.9 541.6H1151.8V548.3H1139.9zM534.5 541.6H603.0V548.3H534.5zM195.0 541.6H297.4V548.3H195.0zM353.4 541.6H382.3V548.3H353.4zM1128.6 547.7H1140.5V554.4H1128.6zM189.3 547.7H388.0V554.4H189.3zM528.8 547.7H597.3V554.4H528.8zM262.9 553.8H393.6V560.5H262.9zM523.2 553.8H591.6V560.5H523.2zM234.6 553.8H252.2V560.5H234.6zM1105.9 553.8H1123.5V560.5H1105.9zM189.3 553.8H229.5V560.5H189.3zM274.2 559.9H320.1V566.6H274.2zM381.7 559.9H399.3V566.6H381.7zM1089.0 559.9H1106.5V566.6H1089.0zM245.9 559.9H252.2V566.6H245.9zM189.3 559.9H223.9V572.7H189.3zM692.9 566.0H721.8V572.7H692.9zM291.2 566.0H303.1V572.7H291.2zM387.4 566.0H404.9V572.7H387.4zM1072.0 566.0H1089.6V572.7H1072.0zM523.2 559.9H586.0V578.8H523.2zM393.0 572.1H410.6V578.8H393.0zM664.6 572.1H744.4V578.8H664.6zM1060.7 572.1H1078.2V578.8H1060.7zM523.2 578.2H597.3V585.0H523.2zM738.2 578.2H767.0V585.0H738.2zM398.7 578.2H421.9V585.0H398.7zM647.6 578.2H693.5V585.0H647.6zM1043.7 578.2H1066.9V585.0H1043.7zM517.5 584.4H670.9V591.1H517.5zM404.3 584.4H427.6V591.1H404.3zM760.8 584.4H772.7V591.1H760.8zM1026.7 584.4H1033.0V591.1H1026.7zM506.2 590.5H659.5V597.2H506.2zM772.1 590.5H778.4V597.2H772.1zM1009.7 590.5H1016.0V597.2H1009.7zM410.0 590.5H433.2V597.2H410.0zM410.0 596.6H438.9V603.3H410.0zM494.9 596.6H642.6V603.3H494.9zM777.8 596.6H784.0V603.3H777.8zM477.9 602.7H586.0V609.4H477.9zM777.8 602.7H789.7V609.4H777.8zM415.7 602.7H444.5V609.4H415.7zM421.3 608.8H518.1V615.5H421.3zM783.4 608.8H795.3V615.5H783.4zM789.1 614.9H801.0V621.7H789.1zM427.0 614.9H501.1V621.7H427.0zM432.6 621.1H484.1V627.8H432.6zM936.2 621.1H942.4V627.8H936.2zM794.7 621.1H812.3V627.8H794.7zM806.1 627.2H823.6V633.9H806.1zM924.9 627.2H942.4V633.9H924.9zM817.4 633.3H834.9V640.0H817.4zM913.6 633.3H936.8V640.0H913.6zM828.7 639.4H846.3V646.1H828.7zM902.2 639.4H925.5V646.1H902.2zM840.0 645.5H925.5V652.2H840.0zM885.3 651.6H931.1V658.4H885.3zM896.6 657.8H925.5V664.5H896.6zM907.9 663.9H919.8V670.6H907.9z"/>
<path fill="#463cf0" d="M732.5 156.2H755.7V163.0H732.5zM709.9 162.4H738.8V169.1H709.9zM743.8 162.4H818.0V169.1H743.8zM800.4 168.5H846.3V175.2H800.4zM766.4 168.5H795.3V175.2H766.4zM698.6 168.5H721.8V175.2H698.6zM828.7 174.6H857.6V181.3H828.7zM687.2 174.6H704.8V181.3H687.2zM845.7 180.7H863.2V187.4H845.7zM675.9 180.7H693.5V187.4H675.9zM342.1 180.7H348.4V187.4H342.1zM347.8 186.8H354.0V193.5H347.8zM670.3 186.8H682.2V193.5H670.3zM857.0 186.8H874.5V193.5H857.0zM664.6 192.9H676.5V199.7H664.6zM347.8 192.9H359.7V199.7H347.8zM862.6 192.9H885.9V199.7H862.6zM421.3 199.1H506.8V205.8H421.3zM873.9 199.1H897.2V205.8H873.9zM658.9 199.1H670.9V205.8H658.9zM359.1 199.1H404.9V205.8H359.1zM890.9 205.2H914.2V211.9H890.9zM511.8 205.2H529.4V211.9H511.8zM653.3 205.2H659.5V211.9H653.3zM528.8 211.3H540.7V218.0H528.8zM902.2 211.3H925.5V218.0H902.2zM642.0 211.3H653.9V218.0H642.0zM540.1 217.4H557.7V224.1H540.1zM602.4 217.4H625.6V224.1H602.4zM907.9 217.4H931.1V224.1H907.9zM562.8 223.5H569.0V230.2H562.8zM919.2 223.5H948.1V230.2H919.2zM924.9 229.6H953.8V236.4H924.9zM936.2 235.8H959.4V242.5H936.2zM941.8 241.9H970.7V248.6H941.8zM947.5 248.0H976.4V254.7H947.5zM953.2 254.1H982.1V260.8H953.2zM964.5 260.2H987.7V266.9H964.5zM970.1 266.3H993.4V273.0H970.1zM975.8 272.4H999.0V279.2H975.8zM975.8 278.6H1004.7V285.3H975.8zM981.5 284.7H1004.7V291.4H981.5zM987.1 290.8H1010.3V303.6H987.1zM992.8 303.0H1016.0V309.7H992.8zM998.4 309.1H1016.0V315.9H998.4zM1004.1 315.3H1016.0V328.1H1004.1zM1009.7 327.5H1016.0V334.2H1009.7zM1009.7 333.6H1021.7V352.6H1009.7zM1015.4 352.0H1027.3V358.7H1015.4zM1015.4 358.1H1033.0V364.8H1015.4zM1021.1 364.2H1033.0V370.9H1021.1zM1021.1 370.3H1038.6V377.0H1021.1zM1026.7 376.4H1038.6V383.1H1026.7zM1032.4 382.5H1044.3V389.3H1032.4zM1032.4 388.7H1049.9V395.4H1032.4zM1032.4 394.8H1055.6V401.5H1032.4zM1038.0 400.9H1055.6V407.6H1038.0zM1190.8 407.0H1208.4V413.7H1190.8zM206.3 407.0H229.5V413.7H206.3zM1038.0 407.0H1061.3V413.7H1038.0zM1043.7 413.1H1061.3V419.8H1043.7zM206.3 413.1H235.2V419.8H206.3zM1173.8 413.1H1208.4V419.8H1173.8zM200.6 419.2H235.2V425.9H200.6zM1173.8 419.2H1180.1V425.9H1173.8zM1049.3 419.2H1061.3V425.9H1049.3zM195.0 425.3H246.5V432.1H195.0zM1168.2 425.3H1174.4V432.1H1168.2zM1055.0 425.3H1066.9V438.2H1055.0zM1162.5 431.5H1168.8V438.2H1162.5zM228.9 431.5H257.8V438.2H228.9zM1060.7 437.6H1066.9V444.3H1060.7zM240.3 437.6H257.8V444.3H240.3zM245.9 443.7H263.5V450.4H245.9zM1060.7 443.7H1072.6V456.5H1060.7zM1151.2 455.9H1157.4V462.6H1151.2zM1066.3 455.9H1072.6V462.6H1066.3zM1145.5 462.0H1157.4V468.8H1145.5zM1066.3 462.0H1095.2V468.8H1066.3zM1066.3 468.2H1100.9V474.9H1066.3zM1139.9 468.2H1146.1V474.9H1139.9zM251.6 449.8H263.5V481.0H251.6zM1100.3 474.3H1106.5V481.0H1100.3zM1134.2 474.3H1140.5V481.0H1134.2zM245.9 480.4H263.5V493.2H245.9zM251.6 492.6H269.1V505.5H251.6zM251.6 504.9H280.5V511.6H251.6zM251.6 511.0H303.1V517.7H251.6zM562.8 511.0H619.9V517.7H562.8zM517.5 517.1H625.6V523.8H517.5zM257.2 517.1H320.1V523.8H257.2zM1156.8 523.2H1174.4V529.9H1156.8zM262.9 523.2H331.4V529.9H262.9zM602.4 523.2H631.3V529.9H602.4zM500.5 523.2H586.0V529.9H500.5zM443.9 529.3H557.7V536.0H443.9zM608.0 529.3H636.9V536.0H608.0zM268.5 529.3H393.6V536.0H268.5zM1145.5 529.3H1157.4V536.0H1145.5zM608.0 535.4H642.6V542.2H608.0zM279.9 535.4H404.9V542.2H279.9zM432.6 535.4H540.7V542.2H432.6zM1139.9 535.4H1146.1V542.2H1139.9zM1128.6 541.6H1140.5V548.3H1128.6zM296.8 541.6H354.0V548.3H296.8zM381.7 541.6H535.1V548.3H381.7zM602.4 541.6H653.9V548.3H602.4zM596.7 547.7H659.5V554.4H596.7zM387.4 547.7H529.4V554.4H387.4zM1111.6 547.7H1129.2V554.4H1111.6zM1089.0 553.8H1106.5V560.5H1089.0zM591.0 553.8H676.5V560.5H591.0zM393.0 553.8H523.8V560.5H393.0zM1072.0 559.9H1089.6V566.6H1072.0zM398.7 559.9H523.8V566.6H398.7zM585.4 559.9H727.4V566.6H585.4zM1055.0 566.0H1072.6V572.7H1055.0zM585.4 566.0H693.5V572.7H585.4zM404.3 566.0H523.8V572.7H404.3zM721.2 566.0H744.4V572.7H721.2zM743.8 572.1H767.0V578.8H743.8zM1032.4 572.1H1061.3V578.8H1032.4zM585.4 572.1H665.2V578.8H585.4zM410.0 572.1H523.8V578.8H410.0zM766.4 578.2H772.7V585.0H766.4zM1009.7 578.2H1044.3V585.0H1009.7zM421.3 578.2H523.8V585.0H421.3zM596.7 578.2H648.2V585.0H596.7zM772.1 584.4H778.4V591.1H772.1zM427.0 584.4H518.1V591.1H427.0zM998.4 584.4H1027.3V591.1H998.4zM777.8 590.5H784.0V597.2H777.8zM981.5 590.5H1010.3V597.2H981.5zM432.6 590.5H506.8V597.2H432.6zM783.4 596.6H789.7V603.3H783.4zM438.3 596.6H495.5V603.3H438.3zM964.5 596.6H993.4V603.3H964.5zM953.2 602.7H976.4V609.4H953.2zM443.9 602.7H478.5V609.4H443.9zM789.1 602.7H795.3V609.4H789.1zM941.8 608.8H965.1V615.5H941.8zM794.7 608.8H801.0V615.5H794.7zM930.5 614.9H953.8V621.7H930.5zM800.4 614.9H812.3V621.7H800.4zM919.2 621.1H936.8V627.8H919.2zM811.7 621.1H823.6V627.8H811.7zM823.0 627.2H834.9V633.9H823.0zM907.9 627.2H925.5V633.9H907.9zM936.2 633.3H942.4V640.0H936.2zM902.2 633.3H914.2V640.0H902.2zM834.3 633.3H846.3V640.0H834.3zM845.7 639.4H902.8V646.1H845.7zM924.9 639.4H936.8V646.1H924.9zM924.9 645.5H931.1V652.2H924.9z"/>
<path fill="#3c4bd2" d="M738.2 162.4H744.4V169.1H738.2zM794.7 168.5H801.0V175.2H794.7zM721.2 168.5H767.0V175.2H721.2zM704.2 174.6H829.3V181.3H704.2zM811.7 180.7H846.3V187.4H811.7zM692.9 180.7H716.1V187.4H692.9zM336.4 180.7H342.7V187.4H336.4zM681.6 186.8H699.2V193.5H681.6zM330.8 186.8H348.4V193.5H330.8zM834.3 186.8H857.6V193.5H834.3zM675.9 192.9H687.8V199.7H675.9zM325.1 192.9H348.4V199.7H325.1zM845.7 192.9H863.2V199.7H845.7zM404.3 199.1H421.9V205.8H404.3zM670.3 199.1H676.5V205.8H670.3zM336.4 199.1H359.7V205.8H336.4zM857.0 199.1H874.5V205.8H857.0zM868.3 205.2H891.5V211.9H868.3zM347.8 205.2H512.4V211.9H347.8zM658.9 205.2H670.9V211.9H658.9zM879.6 211.3H902.8V218.0H879.6zM511.8 211.3H529.4V218.0H511.8zM653.3 211.3H659.5V218.0H653.3zM528.8 217.4H540.7V224.1H528.8zM890.9 217.4H908.5V224.1H890.9zM625.0 217.4H642.6V224.1H625.0zM545.8 223.5H563.4V230.2H545.8zM896.6 223.5H919.8V230.2H896.6zM568.4 223.5H608.6V230.2H568.4zM902.2 229.6H925.5V236.4H902.2zM913.6 235.8H936.8V242.5H913.6zM919.2 241.9H942.4V248.6H919.2zM924.9 248.0H948.1V254.7H924.9zM930.5 254.1H953.8V260.8H930.5zM941.8 260.2H965.1V266.9H941.8zM947.5 266.3H970.7V273.0H947.5zM953.2 272.4H976.4V279.2H953.2zM958.8 278.6H976.4V285.3H958.8zM964.5 284.7H982.1V291.4H964.5zM964.5 290.8H987.7V297.5H964.5zM970.1 296.9H987.7V303.6H970.1zM970.1 303.0H993.4V309.7H970.1zM975.8 309.1H999.0V315.9H975.8zM975.8 315.3H1004.7V322.0H975.8zM981.5 321.4H1004.7V328.1H981.5zM981.5 327.5H1010.3V334.2H981.5zM987.1 333.6H1010.3V346.4H987.1zM992.8 345.8H1010.3V352.6H992.8zM998.4 352.0H1016.0V364.8H998.4zM1004.1 364.2H1021.7V377.0H1004.1zM1009.7 376.4H1027.3V383.1H1009.7zM1009.7 382.5H1033.0V389.3H1009.7zM1015.4 388.7H1033.0V401.5H1015.4zM1015.4 400.9H1038.6V407.6H1015.4zM200.6 400.9H229.5V407.6H200.6zM228.9 407.0H240.9V413.7H228.9zM1021.1 407.0H1038.6V413.7H1021.1zM234.6 413.1H257.8V419.8H234.6zM1021.1 413.1H1044.3V419.8H1021.1zM234.6 419.2H263.5V425.9H234.6zM1026.7 419.2H1049.9V425.9H1026.7zM1179.5 419.2H1208.4V425.9H1179.5zM1173.8 425.3H1208.4V432.1H1173.8zM245.9 425.3H263.5V432.1H245.9zM1026.7 425.3H1055.6V438.2H1026.7zM1168.2 431.5H1180.1V438.2H1168.2zM257.2 431.5H263.5V438.2H257.2zM1162.5 437.6H1174.4V444.3H1162.5zM257.2 437.6H269.1V444.3H257.2zM1026.7 437.6H1061.3V450.4H1026.7zM262.9 443.7H269.1V450.4H262.9zM1162.5 443.7H1168.8V456.5H1162.5zM1032.4 449.8H1061.3V456.5H1032.4zM262.9 449.8H274.8V456.5H262.9zM1156.8 455.9H1163.1V468.8H1156.8zM1032.4 455.9H1066.9V468.8H1032.4zM262.9 455.9H280.5V468.8H262.9zM1032.4 468.2H1049.9V474.9H1032.4zM1145.5 468.2H1151.8V474.9H1145.5zM1055.0 468.2H1066.9V474.9H1055.0zM1060.7 474.3H1100.9V481.0H1060.7zM1139.9 474.3H1146.1V481.0H1139.9zM262.9 468.2H286.1V487.1H262.9zM1105.9 480.4H1129.2V487.1H1105.9zM262.9 486.5H291.8V493.2H262.9zM268.5 492.6H297.4V499.3H268.5zM268.5 498.7H314.4V505.5H268.5zM574.1 498.7H625.6V505.5H574.1zM511.8 504.9H642.6V511.6H511.8zM279.9 504.9H331.4V511.6H279.9zM619.3 511.0H648.2V517.7H619.3zM302.5 511.0H359.7V517.7H302.5zM438.3 511.0H563.4V517.7H438.3zM1156.8 517.1H1174.4V523.8H1156.8zM319.5 517.1H518.1V523.8H319.5zM625.0 517.1H653.9V523.8H625.0zM330.8 523.2H501.1V529.9H330.8zM630.7 523.2H659.5V529.9H630.7zM1145.5 523.2H1157.4V529.9H1145.5zM636.3 529.3H665.2V536.0H636.3zM393.0 529.3H444.5V536.0H393.0zM1139.9 529.3H1146.1V536.0H1139.9zM1128.6 535.4H1140.5V542.2H1128.6zM404.3 535.4H433.2V542.2H404.3zM642.0 535.4H676.5V542.2H642.0zM1111.6 541.6H1129.2V548.3H1111.6zM653.3 541.6H687.8V548.3H653.3zM658.9 547.7H716.1V554.4H658.9zM1094.6 547.7H1112.2V554.4H1094.6zM1077.6 553.8H1089.6V560.5H1077.6zM675.9 553.8H727.4V560.5H675.9zM726.8 559.9H738.8V566.6H726.8zM1060.7 559.9H1072.6V566.6H1060.7zM1032.4 566.0H1055.6V572.7H1032.4zM743.8 566.0H767.0V572.7H743.8zM1004.1 572.1H1033.0V578.8H1004.1zM766.4 572.1H772.7V578.8H766.4zM772.1 578.2H778.4V585.0H772.1zM987.1 578.2H1010.3V585.0H987.1zM777.8 584.4H784.0V591.1H777.8zM970.1 584.4H999.0V591.1H970.1zM783.4 590.5H789.7V597.2H783.4zM958.8 590.5H982.1V597.2H958.8zM947.5 596.6H965.1V603.3H947.5zM789.1 596.6H795.3V603.3H789.1zM941.8 602.7H953.8V609.4H941.8zM794.7 602.7H806.7V609.4H794.7zM800.4 608.8H812.3V615.5H800.4zM930.5 608.8H942.4V615.5H930.5zM811.7 614.9H823.6V621.7H811.7zM919.2 614.9H931.1V621.7H919.2zM913.6 621.1H919.8V627.8H913.6zM823.0 621.1H840.6V627.8H823.0zM902.2 627.2H908.5V633.9H902.2zM834.3 627.2H851.9V633.9H834.3zM845.7 633.3H902.8V640.0H845.7z"/>
<path fill="#325ab4" d="M715.5 180.7H812.3V187.4H715.5zM698.6 186.8H834.9V193.5H698.6zM811.7 192.9H846.3V199.7H811.7zM687.2 192.9H704.8V199.7H687.2zM319.5 199.1H337.0V205.8H319.5zM675.9 199.1H693.5V205.8H675.9zM828.7 199.1H857.6V205.8H828.7zM313.8 205.2H348.4V211.9H313.8zM845.7 205.2H868.9V211.9H845.7zM670.3 205.2H676.5V211.9H670.3zM308.1 211.3H512.4V218.0H308.1zM857.0 211.3H880.2V218.0H857.0zM658.9 211.3H665.2V218.0H658.9zM500.5 217.4H529.4V224.1H500.5zM302.5 217.4H348.4V224.1H302.5zM862.6 217.4H891.5V224.1H862.6zM642.0 217.4H653.9V224.1H642.0zM528.8 223.5H546.4V230.2H528.8zM873.9 223.5H897.2V230.2H873.9zM302.5 223.5H325.7V230.2H302.5zM608.0 223.5H625.6V230.2H608.0zM545.8 229.6H597.3V236.4H545.8zM885.3 229.6H902.8V236.4H885.3zM890.9 235.8H914.2V242.5H890.9zM902.2 241.9H919.8V248.6H902.2zM907.9 248.0H925.5V254.7H907.9zM913.6 254.1H931.1V260.8H913.6zM919.2 260.2H942.4V266.9H919.2zM924.9 266.3H948.1V273.0H924.9zM930.5 272.4H953.8V279.2H930.5zM936.2 278.6H959.4V285.3H936.2zM941.8 284.7H965.1V291.4H941.8zM947.5 290.8H965.1V297.5H947.5zM953.2 296.9H970.7V303.6H953.2zM958.8 303.0H970.7V309.7H958.8zM958.8 309.1H976.4V315.9H958.8zM964.5 315.3H976.4V322.0H964.5zM964.5 321.4H982.1V328.1H964.5zM970.1 327.5H982.1V334.2H970.1zM970.1 333.6H987.7V340.3H970.1zM975.8 339.7H987.7V346.4H975.8zM975.8 345.8H993.4V352.6H975.8zM975.8 352.0H999.0V358.7H975.8zM981.5 358.1H999.0V364.8H981.5zM981.5 364.2H1004.7V370.9H981.5zM987.1 370.3H1004.7V377.0H987.1zM992.8 376.4H1010.3V389.3H992.8zM195.0 382.5H212.6V389.3H195.0zM195.0 388.7H223.9V395.4H195.0zM195.0 394.8H235.2V401.5H195.0zM998.4 388.7H1016.0V407.6H998.4zM251.6 400.9H257.8V407.6H251.6zM228.9 400.9H246.5V407.6H228.9zM240.3 407.0H263.5V413.7H240.3zM998.4 407.0H1021.7V419.8H998.4zM257.2 413.1H263.5V419.8H257.2zM998.4 419.2H1027.3V425.9H998.4zM262.9 419.2H269.1V432.1H262.9zM1179.5 431.5H1208.4V438.2H1179.5zM262.9 431.5H274.8V438.2H262.9zM1004.1 425.3H1027.3V444.3H1004.1zM1173.8 437.6H1185.7V444.3H1173.8zM268.5 437.6H280.5V444.3H268.5zM268.5 443.7H286.1V450.4H268.5zM1168.2 443.7H1180.1V450.4H1168.2zM1009.7 443.7H1027.3V450.4H1009.7zM1168.2 449.8H1174.4V456.5H1168.2zM274.2 449.8H291.8V456.5H274.2zM1009.7 449.8H1033.0V456.5H1009.7zM279.9 455.9H291.8V462.6H279.9zM1162.5 455.9H1174.4V462.6H1162.5zM1162.5 462.0H1168.8V468.8H1162.5zM279.9 462.0H297.4V468.8H279.9zM1021.1 455.9H1033.0V474.9H1021.1zM1049.3 468.2H1055.6V474.9H1049.3zM285.5 468.2H297.4V474.9H285.5zM1151.2 468.2H1157.4V474.9H1151.2zM1145.5 474.3H1151.8V481.0H1145.5zM1026.7 474.3H1061.3V481.0H1026.7zM285.5 474.3H303.1V487.1H285.5zM1038.0 480.4H1106.5V487.1H1038.0zM1128.6 480.4H1140.5V487.1H1128.6zM579.7 486.5H625.6V493.2H579.7zM291.2 486.5H314.4V493.2H291.2zM296.8 492.6H325.7V499.3H296.8zM551.4 492.6H642.6V499.3H551.4zM313.8 498.7H354.0V505.5H313.8zM500.5 498.7H574.7V505.5H500.5zM625.0 498.7H653.9V505.5H625.0zM642.0 504.9H659.5V511.6H642.0zM330.8 504.9H512.4V511.6H330.8zM647.6 511.0H665.2V517.7H647.6zM1156.8 511.0H1168.8V517.7H1156.8zM359.1 511.0H438.9V517.7H359.1zM653.3 517.1H670.9V523.8H653.3zM1151.2 517.1H1157.4V523.8H1151.2zM1139.9 523.2H1146.1V529.9H1139.9zM658.9 523.2H676.5V529.9H658.9zM1128.6 529.3H1140.5V536.0H1128.6zM664.6 529.3H682.2V536.0H664.6zM675.9 535.4H693.5V542.2H675.9zM1117.2 535.4H1129.2V542.2H1117.2zM687.2 541.6H716.1V548.3H687.2zM1100.3 541.6H1112.2V548.3H1100.3zM715.5 547.7H727.4V554.4H715.5zM1077.6 547.7H1095.2V554.4H1077.6zM726.8 553.8H738.8V560.5H726.8zM1060.7 553.8H1078.2V560.5H1060.7zM738.2 559.9H755.7V566.6H738.2zM1038.0 559.9H1061.3V566.6H1038.0zM766.4 566.0H772.7V572.7H766.4zM1009.7 566.0H1033.0V572.7H1009.7zM992.8 572.1H1004.7V578.8H992.8zM772.1 572.1H778.4V578.8H772.1zM777.8 578.2H784.0V585.0H777.8zM975.8 578.2H987.7V585.0H975.8zM958.8 584.4H970.7V591.1H958.8zM783.4 584.4H789.7V591.1H783.4zM947.5 590.5H959.4V597.2H947.5zM789.1 590.5H795.3V597.2H789.1zM794.7 596.6H806.7V603.3H794.7zM941.8 596.6H948.1V603.3H941.8zM930.5 602.7H942.4V609.4H930.5zM806.1 602.7H812.3V609.4H806.1zM811.7 608.8H823.6V615.5H811.7zM924.9 608.8H931.1V615.5H924.9zM913.6 614.9H919.8V621.7H913.6zM823.0 614.9H840.6V621.7H823.0zM840.0 621.1H851.9V627.8H840.0zM902.2 621.1H914.2V627.8H902.2zM851.3 627.2H902.8V633.9H851.3z"/>
<path fill="#286e9b" d="M704.2 192.9H812.3V199.7H704.2zM772.1 199.1H829.3V205.8H772.1zM692.9 199.1H704.8V205.8H692.9zM794.7 205.2H846.3V211.9H794.7zM675.9 205.2H693.5V211.9H675.9zM664.6 211.3H676.5V218.0H664.6zM817.4 211.3H857.6V218.0H817.4zM347.8 217.4H501.1V224.1H347.8zM834.3 217.4H863.2V224.1H834.3zM653.3 217.4H665.2V224.1H653.3zM625.0 223.5H648.2V230.2H625.0zM291.2 223.5H303.1V230.2H291.2zM851.3 223.5H874.5V230.2H851.3zM483.5 223.5H529.4V230.2H483.5zM325.1 223.5H382.3V230.2H325.1zM523.2 229.6H546.4V236.4H523.2zM279.9 229.6H337.0V236.4H279.9zM862.6 229.6H885.9V236.4H862.6zM596.7 229.6H619.9V236.4H596.7zM868.3 235.8H891.5V242.5H868.3zM540.1 235.8H591.6V242.5H540.1zM262.9 235.8H320.1V242.5H262.9zM879.6 241.9H902.8V248.6H879.6zM262.9 241.9H308.8V248.6H262.9zM890.9 248.0H908.5V254.7H890.9zM896.6 254.1H914.2V260.8H896.6zM907.9 260.2H919.8V266.9H907.9zM913.6 266.3H925.5V273.0H913.6zM913.6 272.4H931.1V279.2H913.6zM919.2 278.6H936.8V285.3H919.2zM930.5 284.7H942.4V291.4H930.5zM936.2 290.8H948.1V297.5H936.2zM941.8 296.9H953.8V303.6H941.8zM941.8 303.0H959.4V309.7H941.8zM947.5 309.1H959.4V315.9H947.5zM947.5 315.3H965.1V322.0H947.5zM953.2 321.4H965.1V328.1H953.2zM953.2 327.5H970.7V334.2H953.2zM958.8 333.6H970.7V340.3H958.8zM958.8 339.7H976.4V346.4H958.8zM964.5 345.8H976.4V358.7H964.5zM970.1 358.1H982.1V370.9H970.1zM975.8 370.3H987.7V377.0H975.8zM975.8 376.4H993.4V383.1H975.8zM195.0 376.4H212.6V383.1H195.0zM981.5 382.5H993.4V389.3H981.5zM212.0 382.5H235.2V389.3H212.0zM223.3 388.7H240.9V395.4H223.3zM981.5 388.7H999.0V395.4H981.5zM234.6 394.8H263.5V401.5H234.6zM245.9 400.9H252.2V407.6H245.9zM257.2 400.9H263.5V407.6H257.2zM987.1 394.8H999.0V419.8H987.1zM262.9 407.0H269.1V419.8H262.9zM992.8 419.2H999.0V425.9H992.8zM268.5 419.2H274.8V425.9H268.5zM268.5 425.3H291.8V432.1H268.5zM274.2 431.5H297.4V438.2H274.2zM992.8 425.3H1004.7V444.3H992.8zM279.9 437.6H297.4V444.3H279.9zM1185.1 437.6H1202.7V444.3H1185.1zM1179.5 443.7H1202.7V450.4H1179.5zM285.5 443.7H303.1V450.4H285.5zM998.4 443.7H1010.3V456.5H998.4zM291.2 449.8H320.1V462.6H291.2zM1173.8 449.8H1202.7V462.6H1173.8zM998.4 455.9H1021.7V468.8H998.4zM1168.2 462.0H1197.1V468.8H1168.2zM296.8 462.0H314.4V474.9H296.8zM1004.1 468.2H1021.7V474.9H1004.1zM1156.8 468.2H1168.8V474.9H1156.8zM302.5 474.3H320.1V481.0H302.5zM1151.2 474.3H1157.4V481.0H1151.2zM1009.7 474.3H1027.3V481.0H1009.7zM579.7 474.3H619.9V481.0H579.7zM1021.1 480.4H1038.6V487.1H1021.1zM302.5 480.4H325.7V487.1H302.5zM568.4 480.4H636.9V487.1H568.4zM1139.9 480.4H1146.1V487.1H1139.9zM625.0 486.5H648.2V493.2H625.0zM313.8 486.5H337.0V493.2H313.8zM1100.3 486.5H1129.2V493.2H1100.3zM540.1 486.5H580.3V493.2H540.1zM1038.0 486.5H1089.6V493.2H1038.0zM494.9 492.6H552.0V499.3H494.9zM325.1 492.6H365.3V499.3H325.1zM642.0 492.6H659.5V499.3H642.0zM653.3 498.7H670.9V505.5H653.3zM353.4 498.7H501.1V505.5H353.4zM1156.8 504.9H1168.8V511.6H1156.8zM658.9 504.9H676.5V511.6H658.9zM664.6 511.0H682.2V517.7H664.6zM1168.2 511.0H1180.1V517.7H1168.2zM1151.2 511.0H1157.4V517.7H1151.2zM1139.9 517.1H1151.8V523.8H1139.9zM670.3 517.1H682.2V523.8H670.3zM675.9 523.2H687.8V529.9H675.9zM1134.2 523.2H1140.5V529.9H1134.2zM1117.2 529.3H1129.2V536.0H1117.2zM681.6 529.3H693.5V536.0H681.6zM692.9 535.4H710.5V542.2H692.9zM1100.3 535.4H1117.8V542.2H1100.3zM715.5 541.6H727.4V548.3H715.5zM1077.6 541.6H1100.9V548.3H1077.6zM726.8 547.7H733.1V554.4H726.8zM1066.3 547.7H1078.2V554.4H1066.3zM738.2 553.8H744.4V560.5H738.2zM1043.7 553.8H1061.3V560.5H1043.7zM755.1 559.9H772.7V566.6H755.1zM1015.4 559.9H1038.6V566.6H1015.4zM998.4 566.0H1010.3V572.7H998.4zM772.1 566.0H778.4V572.7H772.1zM777.8 572.1H784.0V578.8H777.8zM981.5 572.1H993.4V578.8H981.5zM964.5 578.2H976.4V585.0H964.5zM783.4 578.2H789.7V585.0H783.4zM953.2 584.4H959.4V591.1H953.2zM789.1 584.4H795.3V591.1H789.1zM794.7 590.5H806.7V597.2H794.7zM941.8 590.5H948.1V597.2H941.8zM806.1 596.6H818.0V603.3H806.1zM936.2 596.6H942.4V603.3H936.2zM924.9 602.7H931.1V609.4H924.9zM811.7 602.7H829.3V609.4H811.7zM913.6 608.8H925.5V615.5H913.6zM823.0 608.8H840.6V615.5H823.0zM840.0 614.9H857.6V621.7H840.0zM902.2 614.9H914.2V621.7H902.2zM851.3 621.1H902.8V627.8H851.3z"/>
<path fill="#1e7d82" d="M704.2 199.1H772.7V205.8H704.2zM692.9 205.2H710.5V211.9H692.9zM732.5 205.2H795.3V211.9H732.5zM675.9 211.3H693.5V218.0H675.9zM783.4 211.3H818.0V218.0H783.4zM800.4 217.4H834.9V224.1H800.4zM664.6 217.4H676.5V224.1H664.6zM647.6 223.5H659.5V230.2H647.6zM817.4 223.5H851.9V230.2H817.4zM381.7 223.5H484.1V230.2H381.7zM336.4 229.6H523.8V236.4H336.4zM834.3 229.6H863.2V236.4H834.3zM619.3 229.6H636.9V236.4H619.3zM845.7 235.8H868.9V242.5H845.7zM319.5 235.8H348.4V242.5H319.5zM591.0 235.8H614.3V242.5H591.0zM494.9 235.8H540.7V242.5H494.9zM534.5 241.9H591.6V248.6H534.5zM308.1 241.9H325.7V248.6H308.1zM251.6 241.9H263.5V248.6H251.6zM857.0 241.9H880.2V248.6H857.0zM868.3 248.0H891.5V254.7H868.3zM551.4 248.0H569.0V254.7H551.4zM245.9 248.0H314.4V254.7H245.9zM879.6 254.1H897.2V260.8H879.6zM240.3 254.1H303.1V260.8H240.3zM245.9 260.2H280.5V266.9H245.9zM885.3 260.2H908.5V266.9H885.3zM896.6 266.3H914.2V273.0H896.6zM257.2 266.3H263.5V273.0H257.2zM902.2 272.4H914.2V279.2H902.2zM907.9 278.6H919.8V285.3H907.9zM913.6 284.7H931.1V291.4H913.6zM919.2 290.8H936.8V297.5H919.2zM924.9 296.9H942.4V303.6H924.9zM930.5 303.0H942.4V309.7H930.5zM930.5 309.1H948.1V315.9H930.5zM936.2 315.3H948.1V322.0H936.2zM936.2 321.4H953.8V328.1H936.2zM941.8 327.5H953.8V334.2H941.8zM947.5 333.6H959.4V346.4H947.5zM953.2 345.8H965.1V358.7H953.2zM958.8 358.1H970.7V370.9H958.8zM195.0 364.2H201.2V370.9H195.0zM195.0 370.3H218.2V377.0H195.0zM964.5 370.3H976.4V377.0H964.5zM212.0 376.4H240.9V383.1H212.0zM970.1 376.4H976.4V383.1H970.1zM234.6 382.5H257.8V389.3H234.6zM970.1 382.5H982.1V389.3H970.1zM240.3 388.7H263.5V395.4H240.3zM975.8 388.7H982.1V395.4H975.8zM975.8 394.8H987.7V407.6H975.8zM262.9 394.8H269.1V407.6H262.9zM268.5 407.0H331.4V419.8H268.5zM981.5 407.0H987.7V419.8H981.5zM274.2 419.2H320.1V425.9H274.2zM981.5 419.2H993.4V425.9H981.5zM291.2 425.3H325.7V432.1H291.2zM296.8 431.5H331.4V438.2H296.8zM987.1 425.3H993.4V444.3H987.1zM296.8 437.6H342.7V444.3H296.8zM302.5 443.7H376.6V450.4H302.5zM987.1 443.7H999.0V450.4H987.1zM319.5 449.8H388.0V456.5H319.5zM319.5 455.9H393.6V462.6H319.5zM992.8 449.8H999.0V468.8H992.8zM313.8 462.0H393.6V468.8H313.8zM313.8 468.2H382.3V474.9H313.8zM998.4 468.2H1004.7V474.9H998.4zM1168.2 468.2H1197.1V474.9H1168.2zM568.4 468.2H614.3V474.9H568.4zM619.3 474.3H642.6V481.0H619.3zM998.4 474.3H1010.3V481.0H998.4zM1156.8 474.3H1197.1V481.0H1156.8zM551.4 474.3H580.3V481.0H551.4zM319.5 474.3H365.3V481.0H319.5zM1145.5 480.4H1157.4V487.1H1145.5zM325.1 480.4H365.3V487.1H325.1zM1009.7 480.4H1021.7V487.1H1009.7zM528.8 480.4H569.0V487.1H528.8zM1162.5 480.4H1180.1V487.1H1162.5zM636.3 480.4H653.9V487.1H636.3zM1185.1 480.4H1191.4V487.1H1185.1zM647.6 486.5H665.2V493.2H647.6zM1021.1 486.5H1038.6V493.2H1021.1zM336.4 486.5H382.3V493.2H336.4zM1128.6 486.5H1140.5V493.2H1128.6zM483.5 486.5H540.7V493.2H483.5zM1089.0 486.5H1100.9V493.2H1089.0zM1162.5 486.5H1174.4V493.2H1162.5zM364.7 492.6H495.5V499.3H364.7zM1162.5 492.6H1168.8V499.3H1162.5zM1043.7 492.6H1078.2V499.3H1043.7zM658.9 492.6H670.9V499.3H658.9zM1156.8 498.7H1174.4V505.5H1156.8zM670.3 498.7H676.5V505.5H670.3zM675.9 504.9H682.2V511.6H675.9zM1168.2 504.9H1180.1V511.6H1168.2zM1151.2 504.9H1157.4V511.6H1151.2zM1139.9 511.0H1151.8V517.7H1139.9zM681.6 511.0H687.8V517.7H681.6zM1134.2 517.1H1140.5V523.8H1134.2zM681.6 517.1H693.5V523.8H681.6zM1117.2 523.2H1134.8V529.9H1117.2zM687.2 523.2H699.2V529.9H687.2zM692.9 529.3H710.5V536.0H692.9zM1094.6 529.3H1117.8V536.0H1094.6zM1077.6 535.4H1100.9V542.2H1077.6zM709.9 535.4H721.8V542.2H709.9zM726.8 541.6H733.1V548.3H726.8zM1060.7 541.6H1078.2V548.3H1060.7zM1043.7 547.7H1066.9V554.4H1043.7zM732.5 547.7H744.4V554.4H732.5zM743.8 553.8H772.7V560.5H743.8zM1021.1 553.8H1044.3V560.5H1021.1zM772.1 559.9H778.4V566.6H772.1zM998.4 559.9H1016.0V566.6H998.4zM777.8 566.0H784.0V572.7H777.8zM981.5 566.0H999.0V572.7H981.5zM783.4 572.1H789.7V578.8H783.4zM970.1 572.1H982.1V578.8H970.1zM953.2 578.2H965.1V585.0H953.2zM789.1 578.2H795.3V585.0H789.1zM941.8 584.4H953.8V591.1H941.8zM794.7 584.4H806.7V591.1H794.7zM806.1 590.5H818.0V597.2H806.1zM936.2 590.5H942.4V597.2H936.2zM817.4 596.6H829.3V603.3H817.4zM930.5 596.6H936.8V603.3H930.5zM828.7 602.7H840.6V609.4H828.7zM919.2 602.7H925.5V609.4H919.2zM902.2 608.8H914.2V615.5H902.2zM840.0 608.8H863.2V615.5H840.0zM857.0 614.9H902.8V621.7H857.0z"/>
<path fill="#0f8c64" d="M709.9 205.2H733.1V211.9H709.9zM692.9 211.3H710.5V218.0H692.9zM726.8 211.3H784.0V218.0H726.8zM675.9 217.4H693.5V224.1H675.9zM766.4 217.4H801.0V224.1H766.4zM789.1 223.5H818.0V230.2H789.1zM658.9 223.5H676.5V230.2H658.9zM806.1 229.6H834.9V236.4H806.1zM636.3 229.6H659.5V236.4H636.3zM613.7 235.8H631.3V242.5H613.7zM823.0 235.8H846.3V242.5H823.0zM347.8 235.8H495.5V242.5H347.8zM834.3 241.9H857.6V248.6H834.3zM591.0 241.9H619.9V248.6H591.0zM449.6 241.9H535.1V248.6H449.6zM325.1 241.9H382.3V248.6H325.1zM845.7 248.0H868.9V254.7H845.7zM568.4 248.0H597.3V254.7H568.4zM313.8 248.0H342.7V254.7H313.8zM489.2 248.0H552.0V254.7H489.2zM857.0 254.1H880.2V260.8H857.0zM540.1 254.1H580.3V260.8H540.1zM302.5 254.1H325.7V260.8H302.5zM868.3 260.2H885.9V266.9H868.3zM279.9 260.2H314.4V266.9H279.9zM234.6 260.2H246.5V266.9H234.6zM262.9 266.3H291.8V273.0H262.9zM223.3 266.3H257.8V273.0H223.3zM873.9 266.3H897.2V273.0H873.9zM885.3 272.4H902.8V279.2H885.3zM223.3 272.4H274.8V279.2H223.3zM217.6 278.6H257.8V285.3H217.6zM890.9 278.6H908.5V285.3H890.9zM217.6 284.7H229.5V291.4H217.6zM896.6 284.7H914.2V291.4H896.6zM234.6 284.7H252.2V291.4H234.6zM206.3 290.8H223.9V297.5H206.3zM902.2 290.8H919.8V297.5H902.2zM200.6 296.9H218.2V303.6H200.6zM907.9 296.9H925.5V303.6H907.9zM195.0 303.0H218.2V309.7H195.0zM913.6 303.0H931.1V309.7H913.6zM919.2 309.1H931.1V315.9H919.2zM195.0 309.1H212.6V328.1H195.0zM924.9 315.3H936.8V328.1H924.9zM930.5 327.5H942.4V334.2H930.5zM195.0 327.5H206.9V340.3H195.0zM936.2 333.6H948.1V346.4H936.2zM195.0 339.7H201.2V346.4H195.0zM195.0 345.8H206.9V352.6H195.0zM941.8 345.8H953.8V358.7H941.8zM195.0 352.0H212.6V364.8H195.0zM947.5 358.1H959.4V370.9H947.5zM200.6 364.2H252.2V370.9H200.6zM953.2 370.3H965.1V377.0H953.2zM217.6 370.3H252.2V377.0H217.6zM958.8 376.4H970.7V383.1H958.8zM240.3 376.4H263.5V383.1H240.3zM964.5 382.5H970.7V389.3H964.5zM257.2 382.5H269.1V389.3H257.2zM964.5 388.7H976.4V395.4H964.5zM262.9 388.7H269.1V395.4H262.9zM268.5 394.8H274.8V401.5H268.5zM970.1 394.8H976.4V407.6H970.1zM268.5 400.9H331.4V407.6H268.5zM330.8 407.0H354.0V413.7H330.8zM330.8 413.1H365.3V419.8H330.8zM975.8 407.0H982.1V425.9H975.8zM319.5 419.2H376.6V425.9H319.5zM325.1 425.3H393.6V432.1H325.1zM330.8 431.5H399.3V438.2H330.8zM342.1 437.6H399.3V444.3H342.1zM981.5 425.3H987.7V450.4H981.5zM376.0 443.7H410.6V450.4H376.0zM387.4 449.8H416.3V456.5H387.4zM579.7 455.9H608.6V462.6H579.7zM987.1 449.8H993.4V468.8H987.1zM393.0 455.9H416.3V468.8H393.0zM562.8 462.0H614.3V468.8H562.8zM545.8 468.2H569.0V474.9H545.8zM987.1 468.2H999.0V474.9H987.1zM613.7 468.2H636.9V474.9H613.7zM381.7 468.2H416.3V474.9H381.7zM364.7 474.3H427.6V481.0H364.7zM489.2 474.3H495.5V481.0H489.2zM528.8 474.3H552.0V481.0H528.8zM992.8 474.3H999.0V481.0H992.8zM642.0 474.3H648.2V481.0H642.0zM1179.5 480.4H1185.7V487.1H1179.5zM653.3 480.4H665.2V487.1H653.3zM998.4 480.4H1010.3V487.1H998.4zM1156.8 480.4H1163.1V487.1H1156.8zM364.7 480.4H529.4V487.1H364.7zM664.6 486.5H676.5V493.2H664.6zM1009.7 486.5H1021.7V493.2H1009.7zM1139.9 486.5H1163.1V493.2H1139.9zM381.7 486.5H484.1V493.2H381.7zM1173.8 486.5H1180.1V493.2H1173.8zM1185.1 486.5H1191.4V493.2H1185.1zM1015.4 492.6H1044.3V499.3H1015.4zM670.3 492.6H676.5V499.3H670.3zM1168.2 492.6H1174.4V499.3H1168.2zM1151.2 492.6H1163.1V499.3H1151.2zM1077.6 492.6H1140.5V499.3H1077.6zM675.9 498.7H682.2V505.5H675.9zM1038.0 498.7H1078.2V505.5H1038.0zM1173.8 498.7H1180.1V505.5H1173.8zM1151.2 498.7H1157.4V505.5H1151.2zM1139.9 504.9H1151.8V511.6H1139.9zM681.6 504.9H687.8V511.6H681.6zM687.2 511.0H693.5V517.7H687.2zM1134.2 511.0H1140.5V517.7H1134.2zM692.9 517.1H699.2V523.8H692.9zM1111.6 517.1H1134.8V523.8H1111.6zM698.6 523.2H704.8V529.9H698.6zM1089.0 523.2H1117.8V529.9H1089.0zM709.9 529.3H716.1V536.0H709.9zM1072.0 529.3H1095.2V536.0H1072.0zM1055.0 535.4H1078.2V542.2H1055.0zM721.2 535.4H727.4V542.2H721.2zM1038.0 541.6H1061.3V548.3H1038.0zM732.5 541.6H738.8V548.3H732.5zM1015.4 547.7H1044.3V554.4H1015.4zM743.8 547.7H750.1V554.4H743.8zM772.1 553.8H778.4V560.5H772.1zM998.4 553.8H1021.7V560.5H998.4zM777.8 559.9H784.0V566.6H777.8zM987.1 559.9H999.0V566.6H987.1zM783.4 566.0H789.7V572.7H783.4zM970.1 566.0H982.1V572.7H970.1zM789.1 572.1H801.0V578.8H789.1zM953.2 572.1H970.7V578.8H953.2zM941.8 578.2H953.8V585.0H941.8zM794.7 578.2H806.7V585.0H794.7zM806.1 584.4H818.0V591.1H806.1zM936.2 584.4H942.4V591.1H936.2zM817.4 590.5H829.3V597.2H817.4zM930.5 590.5H936.8V597.2H930.5zM828.7 596.6H840.6V603.3H828.7zM919.2 596.6H931.1V603.3H919.2zM840.0 602.7H880.2V609.4H840.0zM902.2 602.7H919.8V609.4H902.2zM862.6 608.8H902.8V615.5H862.6z"/>
<path fill="#149650" d="M709.9 211.3H727.4V218.0H709.9zM692.9 217.4H767.0V224.1H692.9zM738.2 223.5H789.7V230.2H738.2zM675.9 223.5H699.2V230.2H675.9zM777.8 229.6H806.7V236.4H777.8zM658.9 229.6H676.5V236.4H658.9zM794.7 235.8H823.6V242.5H794.7zM630.7 235.8H659.5V242.5H630.7zM806.1 241.9H834.9V248.6H806.1zM381.7 241.9H450.2V248.6H381.7zM619.3 241.9H636.9V248.6H619.3zM596.7 248.0H625.6V254.7H596.7zM342.1 248.0H489.8V254.7H342.1zM817.4 248.0H846.3V254.7H817.4zM421.3 254.1H540.7V260.8H421.3zM325.1 254.1H393.6V260.8H325.1zM579.7 254.1H608.6V260.8H579.7zM834.3 254.1H857.6V260.8H834.3zM845.7 260.2H868.9V266.9H845.7zM313.8 260.2H359.7V266.9H313.8zM455.3 260.2H591.6V266.9H455.3zM291.2 266.3H337.0V273.0H291.2zM857.0 266.3H874.5V273.0H857.0zM540.1 266.3H574.7V273.0H540.1zM274.2 272.4H320.1V279.2H274.2zM862.6 272.4H885.9V279.2H862.6zM873.9 278.6H891.5V285.3H873.9zM257.2 278.6H291.8V285.3H257.2zM228.9 284.7H235.2V291.4H228.9zM251.6 284.7H269.1V291.4H251.6zM879.6 284.7H897.2V291.4H879.6zM223.3 290.8H263.5V297.5H223.3zM885.3 290.8H902.8V297.5H885.3zM217.6 296.9H257.8V303.6H217.6zM890.9 296.9H908.5V303.6H890.9zM902.2 303.0H914.2V309.7H902.2zM217.6 303.0H252.2V309.7H217.6zM212.0 309.1H246.5V315.9H212.0zM907.9 309.1H919.8V315.9H907.9zM212.0 315.3H229.5V322.0H212.0zM913.6 315.3H925.5V328.1H913.6zM212.0 321.4H223.9V328.1H212.0zM919.2 327.5H931.1V334.2H919.2zM206.3 327.5H218.2V340.3H206.3zM240.3 333.6H252.2V346.4H240.3zM924.9 333.6H936.8V346.4H924.9zM200.6 339.7H218.2V346.4H200.6zM206.3 345.8H218.2V352.6H206.3zM234.6 345.8H257.8V352.6H234.6zM930.5 345.8H942.4V358.7H930.5zM212.0 352.0H257.8V364.8H212.0zM936.2 358.1H948.1V364.8H936.2zM941.8 364.2H948.1V370.9H941.8zM251.6 364.2H263.5V377.0H251.6zM941.8 370.3H953.8V377.0H941.8zM262.9 376.4H269.1V383.1H262.9zM947.5 376.4H959.4V383.1H947.5zM268.5 382.5H274.8V389.3H268.5zM947.5 382.5H965.1V389.3H947.5zM953.2 388.7H965.1V395.4H953.2zM268.5 388.7H297.4V395.4H268.5zM958.8 394.8H970.7V401.5H958.8zM274.2 394.8H320.1V401.5H274.2zM330.8 400.9H359.7V407.6H330.8zM964.5 400.9H970.7V407.6H964.5zM964.5 407.0H976.4V413.7H964.5zM353.4 407.0H410.6V413.7H353.4zM364.7 413.1H444.5V419.8H364.7zM970.1 413.1H976.4V425.9H970.1zM376.0 419.2H444.5V425.9H376.0zM393.0 425.3H438.9V432.1H393.0zM398.7 431.5H433.2V438.2H398.7zM398.7 437.6H438.9V444.3H398.7zM975.8 425.3H982.1V450.4H975.8zM410.0 443.7H450.2V450.4H410.0zM562.8 449.8H619.9V456.5H562.8zM415.7 449.8H455.9V462.6H415.7zM483.5 455.9H495.5V462.6H483.5zM608.0 455.9H625.6V462.6H608.0zM551.4 455.9H580.3V462.6H551.4zM545.8 462.0H563.4V468.8H545.8zM613.7 462.0H636.9V468.8H613.7zM472.2 462.0H501.1V468.8H472.2zM415.7 462.0H467.2V468.8H415.7zM981.5 449.8H987.7V474.9H981.5zM636.3 468.2H648.2V474.9H636.3zM415.7 468.2H506.8V474.9H415.7zM534.5 468.2H546.4V474.9H534.5zM987.1 474.3H993.4V481.0H987.1zM647.6 474.3H659.5V481.0H647.6zM494.9 474.3H529.4V481.0H494.9zM427.0 474.3H489.8V481.0H427.0zM664.6 480.4H670.9V487.1H664.6zM992.8 480.4H999.0V487.1H992.8zM998.4 486.5H1010.3V493.2H998.4zM1179.5 486.5H1185.7V493.2H1179.5zM675.9 486.5H682.2V499.3H675.9zM1139.9 492.6H1151.8V499.3H1139.9zM1009.7 492.6H1016.0V499.3H1009.7zM1173.8 492.6H1191.4V499.3H1173.8zM1077.6 498.7H1151.8V505.5H1077.6zM1015.4 498.7H1038.6V505.5H1015.4zM681.6 498.7H687.8V505.5H681.6zM1026.7 504.9H1140.5V511.6H1026.7zM687.2 504.9H693.5V511.6H687.2zM1049.3 511.0H1134.8V517.7H1049.3zM692.9 511.0H699.2V517.7H692.9zM1066.3 517.1H1112.2V523.8H1066.3zM698.6 517.1H704.8V523.8H698.6zM704.2 523.2H716.1V529.9H704.2zM1055.0 523.2H1089.6V529.9H1055.0zM1038.0 529.3H1072.6V536.0H1038.0zM715.5 529.3H721.8V536.0H715.5zM890.9 529.3H897.2V542.2H890.9zM726.8 535.4H733.1V542.2H726.8zM1021.1 535.4H1055.6V542.2H1021.1zM738.2 541.6H744.4V548.3H738.2zM1009.7 541.6H1038.6V548.3H1009.7zM992.8 547.7H1016.0V554.4H992.8zM749.5 547.7H778.4V554.4H749.5zM777.8 553.8H784.0V560.5H777.8zM981.5 553.8H999.0V560.5H981.5zM970.1 559.9H987.7V566.6H970.1zM783.4 559.9H789.7V566.6H783.4zM789.1 566.0H801.0V572.7H789.1zM958.8 566.0H970.7V572.7H958.8zM941.8 572.1H953.8V578.8H941.8zM800.4 572.1H806.7V578.8H800.4zM806.1 578.2H818.0V585.0H806.1zM930.5 578.2H942.4V585.0H930.5zM817.4 584.4H834.9V591.1H817.4zM924.9 584.4H936.8V591.1H924.9zM828.7 590.5H880.2V597.2H828.7zM913.6 590.5H931.1V597.2H913.6zM840.0 596.6H919.8V603.3H840.0zM879.6 602.7H902.8V609.4H879.6z"/>
<path fill="#28a546" d="M698.6 223.5H738.8V230.2H698.6zM675.9 229.6H778.4V236.4H675.9zM726.8 235.8H795.3V242.5H726.8zM658.9 235.8H693.5V242.5H658.9zM636.3 241.9H670.9V248.6H636.3zM777.8 241.9H806.7V248.6H777.8zM789.1 248.0H818.0V254.7H789.1zM625.0 248.0H653.9V254.7H625.0zM800.4 254.1H834.9V260.8H800.4zM608.0 254.1H636.9V260.8H608.0zM393.0 254.1H421.9V260.8H393.0zM811.7 260.2H846.3V266.9H811.7zM359.1 260.2H455.9V266.9H359.1zM591.0 260.2H625.6V266.9H591.0zM574.1 266.3H608.6V273.0H574.1zM823.0 266.3H857.6V273.0H823.0zM336.4 266.3H540.7V273.0H336.4zM319.5 272.4H591.6V279.2H319.5zM834.3 272.4H863.2V279.2H834.3zM845.7 278.6H874.5V285.3H845.7zM291.2 278.6H506.8V285.3H291.2zM534.5 278.6H580.3V285.3H534.5zM857.0 284.7H880.2V291.4H857.0zM268.5 284.7H308.8V291.4H268.5zM868.3 290.8H885.9V297.5H868.3zM262.9 290.8H286.1V297.5H262.9zM257.2 296.9H274.8V303.6H257.2zM873.9 296.9H891.5V303.6H873.9zM251.6 303.0H269.1V309.7H251.6zM885.3 303.0H902.8V309.7H885.3zM890.9 309.1H908.5V315.9H890.9zM245.9 309.1H263.5V315.9H245.9zM896.6 315.3H914.2V322.0H896.6zM228.9 315.3H263.5V322.0H228.9zM223.3 321.4H257.8V328.1H223.3zM902.2 321.4H914.2V328.1H902.2zM217.6 327.5H263.5V334.2H217.6zM907.9 327.5H919.8V334.2H907.9zM907.9 333.6H925.5V340.3H907.9zM251.6 333.6H263.5V346.4H251.6zM217.6 333.6H240.9V346.4H217.6zM913.6 339.7H925.5V346.4H913.6zM217.6 345.8H235.2V352.6H217.6zM257.2 345.8H263.5V352.6H257.2zM919.2 345.8H931.1V358.7H919.2zM257.2 352.0H269.1V364.8H257.2zM924.9 358.1H936.8V364.8H924.9zM936.2 364.2H942.4V377.0H936.2zM262.9 364.2H274.8V377.0H262.9zM268.5 376.4H291.8V383.1H268.5zM941.8 376.4H948.1V389.3H941.8zM274.2 382.5H325.7V389.3H274.2zM941.8 388.7H953.8V395.4H941.8zM296.8 388.7H337.0V395.4H296.8zM319.5 394.8H382.3V401.5H319.5zM947.5 394.8H959.4V401.5H947.5zM953.2 400.9H965.1V407.6H953.2zM359.1 400.9H427.6V407.6H359.1zM958.8 407.0H965.1V413.7H958.8zM410.0 407.0H455.9V413.7H410.0zM964.5 413.1H970.7V425.9H964.5zM443.9 413.1H455.9V425.9H443.9zM438.3 425.3H455.9V432.1H438.3zM432.6 431.5H455.9V438.2H432.6zM970.1 425.3H976.4V444.3H970.1zM438.3 437.6H455.9V444.3H438.3zM562.8 443.7H625.6V450.4H562.8zM449.6 443.7H455.9V450.4H449.6zM483.5 443.7H495.5V450.4H483.5zM619.3 449.8H642.6V456.5H619.3zM540.1 449.8H563.4V456.5H540.1zM455.3 449.8H461.5V456.5H455.3zM477.9 449.8H506.8V456.5H477.9zM540.1 455.9H552.0V462.6H540.1zM455.3 455.9H484.1V462.6H455.3zM625.0 455.9H642.6V462.6H625.0zM494.9 455.9H512.4V462.6H494.9zM975.8 449.8H982.1V468.8H975.8zM500.5 462.0H512.4V468.8H500.5zM534.5 462.0H546.4V468.8H534.5zM466.6 462.0H472.8V468.8H466.6zM636.3 462.0H648.2V468.8H636.3zM647.6 468.2H653.9V474.9H647.6zM506.2 468.2H535.1V474.9H506.2zM658.9 474.3H665.2V481.0H658.9zM981.5 474.3H987.7V481.0H981.5zM670.3 480.4H676.5V487.1H670.3zM981.5 480.4H993.4V487.1H981.5zM992.8 486.5H999.0V493.2H992.8zM681.6 486.5H687.8V499.3H681.6zM998.4 492.6H1010.3V499.3H998.4zM687.2 498.7H693.5V505.5H687.2zM1004.1 498.7H1016.0V505.5H1004.1zM1004.1 504.9H1027.3V511.6H1004.1zM692.9 504.9H699.2V511.6H692.9zM698.6 511.0H704.8V517.7H698.6zM1009.7 511.0H1049.9V517.7H1009.7zM1009.7 517.1H1066.9V523.8H1009.7zM885.3 517.1H902.8V523.8H885.3zM704.2 517.1H710.5V523.8H704.2zM1004.1 523.2H1055.6V529.9H1004.1zM879.6 523.2H908.5V529.9H879.6zM721.2 529.3H727.4V536.0H721.2zM998.4 529.3H1038.6V536.0H998.4zM896.6 529.3H908.5V542.2H896.6zM873.9 529.3H891.5V542.2H873.9zM987.1 535.4H1021.7V542.2H987.1zM732.5 535.4H738.8V542.2H732.5zM981.5 541.6H1010.3V548.3H981.5zM873.9 541.6H908.5V548.3H873.9zM760.8 541.6H772.7V548.3H760.8zM743.8 541.6H750.1V548.3H743.8zM777.8 547.7H784.0V554.4H777.8zM975.8 547.7H993.4V554.4H975.8zM868.3 547.7H908.5V554.4H868.3zM783.4 553.8H795.3V560.5H783.4zM970.1 553.8H982.1V560.5H970.1zM862.6 553.8H902.8V566.6H862.6zM789.1 559.9H806.7V566.6H789.1zM953.2 559.9H970.7V566.6H953.2zM800.4 566.0H812.3V572.7H800.4zM857.0 566.0H902.8V572.7H857.0zM936.2 566.0H959.4V572.7H936.2zM806.1 572.1H829.3V578.8H806.1zM851.3 572.1H902.8V578.8H851.3zM930.5 572.1H942.4V578.8H930.5zM817.4 578.2H914.2V585.0H817.4zM919.2 578.2H931.1V585.0H919.2zM834.3 584.4H925.5V591.1H834.3zM879.6 590.5H914.2V597.2H879.6z"/>
<path fill="#46b43c" d="M692.9 235.8H727.4V242.5H692.9zM670.3 241.9H778.4V248.6H670.3zM653.3 248.0H789.7V254.7H653.3zM709.9 254.1H801.0V260.8H709.9zM636.3 254.1H687.8V260.8H636.3zM625.0 260.2H665.2V266.9H625.0zM732.5 260.2H755.7V266.9H732.5zM772.1 260.2H812.3V266.9H772.1zM608.0 266.3H648.2V273.0H608.0zM783.4 266.3H823.6V273.0H783.4zM591.0 272.4H631.3V279.2H591.0zM789.1 272.4H834.9V279.2H789.1zM506.2 278.6H535.1V285.3H506.2zM579.7 278.6H614.3V285.3H579.7zM800.4 278.6H846.3V285.3H800.4zM811.7 284.7H857.6V291.4H811.7zM308.1 284.7H597.3V291.4H308.1zM285.5 290.8H308.8V297.5H285.5zM342.1 290.8H580.3V297.5H342.1zM823.0 290.8H868.9V297.5H823.0zM845.7 296.9H874.5V303.6H845.7zM274.2 296.9H291.8V303.6H274.2zM398.7 296.9H484.1V303.6H398.7zM857.0 303.0H885.9V309.7H857.0zM268.5 303.0H274.8V309.7H268.5zM868.3 309.1H891.5V315.9H868.3zM262.9 309.1H274.8V315.9H262.9zM262.9 315.3H269.1V322.0H262.9zM873.9 315.3H897.2V322.0H873.9zM885.3 321.4H902.8V328.1H885.3zM257.2 321.4H269.1V328.1H257.2zM890.9 327.5H908.5V334.2H890.9zM262.9 327.5H269.1V340.3H262.9zM896.6 333.6H908.5V340.3H896.6zM902.2 339.7H914.2V346.4H902.2zM262.9 339.7H274.8V352.6H262.9zM907.9 345.8H919.8V358.7H907.9zM268.5 352.0H280.5V364.8H268.5zM913.6 358.1H925.5V364.8H913.6zM274.2 364.2H286.1V370.9H274.2zM924.9 364.2H936.8V370.9H924.9zM930.5 370.3H936.8V377.0H930.5zM274.2 370.3H291.8V377.0H274.2zM291.2 376.4H325.7V383.1H291.2zM325.1 382.5H382.3V389.3H325.1zM936.2 376.4H942.4V395.4H936.2zM336.4 388.7H410.6V395.4H336.4zM381.7 394.8H450.2V401.5H381.7zM941.8 394.8H948.1V401.5H941.8zM427.0 400.9H461.5V407.6H427.0zM941.8 400.9H953.8V407.6H941.8zM941.8 407.0H959.4V413.7H941.8zM455.3 407.0H461.5V413.7H455.3zM958.8 413.1H965.1V425.9H958.8zM472.2 413.1H501.1V432.1H472.2zM455.3 413.1H467.2V432.1H455.3zM738.2 419.2H755.7V438.2H738.2zM964.5 425.3H970.7V438.2H964.5zM477.9 431.5H501.1V438.2H477.9zM574.1 431.5H608.6V438.2H574.1zM455.3 431.5H461.5V438.2H455.3zM562.8 437.6H625.6V444.3H562.8zM732.5 437.6H755.7V444.3H732.5zM472.2 437.6H506.8V444.3H472.2zM455.3 437.6H467.2V444.3H455.3zM738.2 443.7H750.1V450.4H738.2zM455.3 443.7H484.1V450.4H455.3zM625.0 443.7H642.6V450.4H625.0zM494.9 443.7H563.4V450.4H494.9zM506.2 449.8H540.7V456.5H506.2zM460.9 449.8H478.5V456.5H460.9zM642.0 449.8H653.9V462.6H642.0zM511.8 455.9H540.7V462.6H511.8zM970.1 443.7H976.4V468.8H970.1zM647.6 462.0H659.5V468.8H647.6zM511.8 462.0H535.1V468.8H511.8zM653.3 468.2H665.2V474.9H653.3zM664.6 474.3H670.9V481.0H664.6zM975.8 468.2H982.1V487.1H975.8zM675.9 480.4H687.8V487.1H675.9zM981.5 486.5H993.4V493.2H981.5zM687.2 492.6H693.5V499.3H687.2zM987.1 492.6H999.0V499.3H987.1zM692.9 498.7H699.2V505.5H692.9zM992.8 498.7H1004.7V511.6H992.8zM698.6 504.9H704.8V511.6H698.6zM890.9 504.9H897.2V511.6H890.9zM879.6 511.0H902.8V517.7H879.6zM987.1 511.0H1010.3V517.7H987.1zM704.2 511.0H710.5V517.7H704.2zM902.2 517.1H908.5V523.8H902.2zM981.5 517.1H1010.3V523.8H981.5zM709.9 517.1H716.1V523.8H709.9zM873.9 517.1H885.9V523.8H873.9zM868.3 523.2H880.2V529.9H868.3zM981.5 523.2H1004.7V529.9H981.5zM715.5 523.2H721.8V529.9H715.5zM907.9 523.2H914.2V536.0H907.9zM726.8 529.3H733.1V536.0H726.8zM862.6 529.3H874.5V536.0H862.6zM975.8 529.3H999.0V536.0H975.8zM738.2 535.4H744.4V542.2H738.2zM970.1 535.4H987.7V542.2H970.1zM907.9 535.4H919.8V542.2H907.9zM857.0 535.4H874.5V542.2H857.0zM851.3 541.6H874.5V548.3H851.3zM970.1 541.6H982.1V548.3H970.1zM772.1 541.6H784.0V548.3H772.1zM749.5 541.6H761.4V548.3H749.5zM907.9 541.6H925.5V554.4H907.9zM958.8 547.7H976.4V554.4H958.8zM851.3 547.7H868.9V554.4H851.3zM783.4 547.7H795.3V554.4H783.4zM902.2 553.8H970.7V560.5H902.2zM845.7 553.8H863.2V560.5H845.7zM794.7 553.8H812.3V560.5H794.7zM806.1 559.9H823.6V566.6H806.1zM902.2 559.9H953.8V566.6H902.2zM828.7 559.9H863.2V566.6H828.7zM902.2 566.0H936.8V572.7H902.2zM811.7 566.0H857.6V572.7H811.7zM828.7 572.1H851.9V578.8H828.7zM902.2 572.1H931.1V578.8H902.2zM913.6 578.2H919.8V585.0H913.6z"/>
<path fill="#64be32" d="M687.2 254.1H710.5V260.8H687.2zM664.6 260.2H733.1V266.9H664.6zM755.1 260.2H772.7V266.9H755.1zM647.6 266.3H784.0V273.0H647.6zM630.7 272.4H789.7V279.2H630.7zM613.7 278.6H801.0V285.3H613.7zM675.9 284.7H812.3V291.4H675.9zM596.7 284.7H636.9V291.4H596.7zM704.2 290.8H710.5V297.5H704.2zM308.1 290.8H342.7V297.5H308.1zM772.1 290.8H823.6V297.5H772.1zM579.7 290.8H619.9V297.5H579.7zM483.5 296.9H603.0V303.6H483.5zM291.2 296.9H308.8V303.6H291.2zM342.1 296.9H399.3V303.6H342.1zM789.1 296.9H846.3V303.6H789.1zM387.4 303.0H580.3V309.7H387.4zM806.1 303.0H857.6V309.7H806.1zM274.2 303.0H291.8V309.7H274.2zM404.3 309.1H506.8V315.9H404.3zM274.2 309.1H280.5V315.9H274.2zM828.7 309.1H868.9V315.9H828.7zM845.7 315.3H874.5V322.0H845.7zM857.0 321.4H885.9V328.1H857.0zM868.3 327.5H891.5V334.2H868.3zM268.5 315.3H274.8V340.3H268.5zM873.9 333.6H897.2V340.3H873.9zM274.2 339.7H280.5V346.4H274.2zM885.3 339.7H902.8V346.4H885.3zM890.9 345.8H908.5V352.6H890.9zM274.2 345.8H286.1V352.6H274.2zM896.6 352.0H908.5V358.7H896.6zM279.9 352.0H286.1V358.7H279.9zM279.9 358.1H291.8V364.8H279.9zM902.2 358.1H914.2V364.8H902.2zM913.6 364.2H925.5V370.9H913.6zM285.5 364.2H297.4V370.9H285.5zM924.9 370.3H931.1V377.0H924.9zM291.2 370.3H320.1V377.0H291.2zM930.5 376.4H936.8V383.1H930.5zM325.1 376.4H404.9V383.1H325.1zM381.7 382.5H455.9V389.3H381.7zM410.0 388.7H461.5V395.4H410.0zM449.6 394.8H467.2V401.5H449.6zM460.9 400.9H495.5V407.6H460.9zM936.2 394.8H942.4V413.7H936.2zM460.9 407.0H506.8V413.7H460.9zM743.8 407.0H755.7V413.7H743.8zM738.2 413.1H755.7V419.8H738.2zM941.8 413.1H959.4V425.9H941.8zM500.5 413.1H518.1V425.9H500.5zM466.6 413.1H472.8V432.1H466.6zM941.8 425.3H948.1V432.1H941.8zM500.5 425.3H523.8V432.1H500.5zM574.1 425.3H608.6V432.1H574.1zM958.8 425.3H965.1V432.1H958.8zM721.2 419.2H738.8V438.2H721.2zM460.9 431.5H478.5V438.2H460.9zM608.0 431.5H636.9V438.2H608.0zM500.5 431.5H574.7V438.2H500.5zM755.1 425.3H761.4V444.3H755.1zM625.0 437.6H648.2V444.3H625.0zM721.2 437.6H733.1V444.3H721.2zM466.6 437.6H472.8V444.3H466.6zM506.2 437.6H563.4V444.3H506.2zM964.5 437.6H970.7V450.4H964.5zM642.0 443.7H653.9V450.4H642.0zM749.5 443.7H761.4V450.4H749.5zM721.2 443.7H738.8V450.4H721.2zM726.8 449.8H755.7V456.5H726.8zM653.3 449.8H659.5V456.5H653.3zM653.3 455.9H665.2V462.6H653.3zM732.5 455.9H750.1V462.6H732.5zM658.9 462.0H670.9V468.8H658.9zM664.6 468.2H670.9V474.9H664.6zM670.3 474.3H682.2V481.0H670.3zM970.1 468.2H976.4V487.1H970.1zM687.2 480.4H693.5V493.2H687.2zM975.8 486.5H982.1V493.2H975.8zM981.5 492.6H987.7V499.3H981.5zM692.9 492.6H699.2V499.3H692.9zM698.6 498.7H704.8V505.5H698.6zM981.5 498.7H993.4V505.5H981.5zM890.9 498.7H897.2V505.5H890.9zM975.8 504.9H993.4V511.6H975.8zM896.6 504.9H902.8V511.6H896.6zM879.6 504.9H891.5V511.6H879.6zM704.2 504.9H710.5V511.6H704.2zM902.2 511.0H908.5V517.7H902.2zM873.9 511.0H880.2V517.7H873.9zM709.9 511.0H716.1V517.7H709.9zM975.8 511.0H987.7V517.7H975.8zM907.9 517.1H914.2V523.8H907.9zM868.3 517.1H874.5V523.8H868.3zM715.5 517.1H721.8V523.8H715.5zM970.1 517.1H982.1V529.9H970.1zM913.6 523.2H919.8V529.9H913.6zM721.2 523.2H727.4V529.9H721.2zM857.0 523.2H868.9V529.9H857.0zM964.5 529.3H976.4V536.0H964.5zM851.3 529.3H863.2V536.0H851.3zM913.6 529.3H931.1V536.0H913.6zM732.5 529.3H738.8V536.0H732.5zM958.8 535.4H970.7V542.2H958.8zM743.8 535.4H750.1V542.2H743.8zM760.8 535.4H784.0V542.2H760.8zM840.0 535.4H857.6V542.2H840.0zM919.2 535.4H942.4V542.2H919.2zM828.7 541.6H851.9V548.3H828.7zM783.4 541.6H818.0V548.3H783.4zM924.9 541.6H970.7V548.3H924.9zM794.7 547.7H851.9V554.4H794.7zM924.9 547.7H959.4V554.4H924.9zM811.7 553.8H846.3V560.5H811.7zM823.0 559.9H829.3V566.6H823.0z"/>
<path fill="#82c828" d="M636.3 284.7H676.5V291.4H636.3zM619.3 290.8H704.8V297.5H619.3zM709.9 290.8H772.7V297.5H709.9zM602.4 296.9H789.7V303.6H602.4zM308.1 296.9H342.7V303.6H308.1zM291.2 303.0H303.1V309.7H291.2zM755.1 303.0H806.7V309.7H755.1zM579.7 303.0H716.1V309.7H579.7zM353.4 303.0H388.0V309.7H353.4zM279.9 309.1H291.8V315.9H279.9zM387.4 309.1H404.9V315.9H387.4zM506.2 309.1H704.8V315.9H506.2zM783.4 309.1H829.3V315.9H783.4zM274.2 315.3H286.1V322.0H274.2zM398.7 315.3H603.0V322.0H398.7zM806.1 315.3H846.3V322.0H806.1zM410.0 321.4H569.0V328.1H410.0zM823.0 321.4H857.6V328.1H823.0zM274.2 321.4H280.5V334.2H274.2zM443.9 327.5H489.8V334.2H443.9zM840.0 327.5H868.9V334.2H840.0zM274.2 333.6H286.1V340.3H274.2zM857.0 333.6H874.5V340.3H857.0zM862.6 339.7H885.9V346.4H862.6zM279.9 339.7H286.1V346.4H279.9zM285.5 345.8H291.8V352.6H285.5zM873.9 345.8H891.5V352.6H873.9zM885.3 352.0H897.2V358.7H885.3zM285.5 352.0H297.4V358.7H285.5zM291.2 358.1H303.1V364.8H291.2zM890.9 358.1H902.8V364.8H890.9zM296.8 364.2H320.1V370.9H296.8zM896.6 364.2H914.2V370.9H896.6zM319.5 370.3H467.2V377.0H319.5zM907.9 370.3H925.5V377.0H907.9zM404.3 376.4H472.8V383.1H404.3zM924.9 376.4H931.1V383.1H924.9zM455.3 382.5H489.8V389.3H455.3zM460.9 388.7H501.1V395.4H460.9zM930.5 382.5H936.8V401.5H930.5zM743.8 394.8H755.7V401.5H743.8zM466.6 394.8H506.8V401.5H466.6zM494.9 400.9H518.1V407.6H494.9zM738.2 400.9H755.7V407.6H738.2zM506.2 407.0H535.1V413.7H506.2zM732.5 407.0H744.4V413.7H732.5zM721.2 413.1H738.8V419.8H721.2zM517.5 413.1H603.0V419.8H517.5zM783.4 413.1H789.7V419.8H783.4zM755.1 407.0H761.4V425.9H755.1zM517.5 419.2H608.6V425.9H517.5zM783.4 419.2H795.3V425.9H783.4zM936.2 413.1H942.4V432.1H936.2zM760.8 425.3H767.0V432.1H760.8zM608.0 425.3H636.9V432.1H608.0zM777.8 425.3H795.3V432.1H777.8zM523.2 425.3H574.7V432.1H523.2zM947.5 425.3H959.4V432.1H947.5zM636.3 431.5H653.9V438.2H636.3zM936.2 431.5H965.1V438.2H936.2zM760.8 431.5H795.3V444.3H760.8zM647.6 437.6H659.5V444.3H647.6zM958.8 437.6H965.1V444.3H958.8zM936.2 437.6H948.1V444.3H936.2zM715.5 419.2H721.8V450.4H715.5zM653.3 443.7H665.2V450.4H653.3zM760.8 443.7H789.7V450.4H760.8zM941.8 443.7H948.1V450.4H941.8zM721.2 449.8H727.4V456.5H721.2zM755.1 449.8H789.7V456.5H755.1zM658.9 449.8H670.9V456.5H658.9zM664.6 455.9H676.5V462.6H664.6zM749.5 455.9H761.4V462.6H749.5zM721.2 455.9H733.1V462.6H721.2zM726.8 462.0H755.7V468.8H726.8zM670.3 462.0H682.2V474.9H670.3zM681.6 474.3H693.5V481.0H681.6zM964.5 449.8H970.7V487.1H964.5zM692.9 480.4H699.2V493.2H692.9zM970.1 486.5H976.4V493.2H970.1zM698.6 492.6H704.8V499.3H698.6zM885.3 492.6H902.8V499.3H885.3zM970.1 492.6H982.1V505.5H970.1zM896.6 498.7H908.5V505.5H896.6zM879.6 498.7H891.5V505.5H879.6zM873.9 504.9H880.2V511.6H873.9zM902.2 504.9H914.2V511.6H902.2zM970.1 504.9H976.4V511.6H970.1zM964.5 511.0H976.4V517.7H964.5zM862.6 511.0H874.5V517.7H862.6zM907.9 511.0H919.8V517.7H907.9zM913.6 517.1H925.5V523.8H913.6zM721.2 517.1H727.4V523.8H721.2zM851.3 517.1H868.9V523.8H851.3zM964.5 517.1H970.7V523.8H964.5zM919.2 523.2H936.8V529.9H919.2zM726.8 523.2H738.8V529.9H726.8zM958.8 523.2H970.7V529.9H958.8zM840.0 523.2H857.6V529.9H840.0zM738.2 529.3H744.4V536.0H738.2zM811.7 529.3H851.9V536.0H811.7zM930.5 529.3H965.1V536.0H930.5zM783.4 535.4H840.6V542.2H783.4zM749.5 535.4H761.4V542.2H749.5zM941.8 535.4H959.4V542.2H941.8zM817.4 541.6H829.3V548.3H817.4z"/>
<path fill="#9bd223" d="M325.1 303.0H354.0V309.7H325.1zM302.5 303.0H320.1V309.7H302.5zM715.5 303.0H755.7V309.7H715.5zM291.2 309.1H303.1V315.9H291.2zM704.2 309.1H784.0V315.9H704.2zM364.7 309.1H388.0V315.9H364.7zM381.7 315.3H399.3V322.0H381.7zM602.4 315.3H716.1V322.0H602.4zM285.5 315.3H291.8V322.0H285.5zM777.8 315.3H806.7V322.0H777.8zM393.0 321.4H410.6V328.1H393.0zM794.7 321.4H823.6V328.1H794.7zM568.4 321.4H704.8V328.1H568.4zM279.9 321.4H286.1V334.2H279.9zM806.1 327.5H840.6V334.2H806.1zM398.7 327.5H444.5V334.2H398.7zM489.2 327.5H676.5V334.2H489.2zM398.7 333.6H653.9V340.3H398.7zM823.0 333.6H857.6V340.3H823.0zM285.5 333.6H291.8V346.4H285.5zM404.3 339.7H642.6V346.4H404.3zM840.0 339.7H863.2V346.4H840.0zM398.7 345.8H535.1V352.6H398.7zM857.0 345.8H874.5V352.6H857.0zM291.2 345.8H297.4V352.6H291.2zM381.7 352.0H523.8V358.7H381.7zM296.8 352.0H308.8V358.7H296.8zM862.6 352.0H885.9V358.7H862.6zM873.9 358.1H891.5V364.8H873.9zM302.5 358.1H523.8V364.8H302.5zM885.3 364.2H897.2V370.9H885.3zM319.5 364.2H523.8V370.9H319.5zM896.6 370.3H908.5V377.0H896.6zM466.6 370.3H529.4V377.0H466.6zM472.2 376.4H529.4V383.1H472.2zM902.2 376.4H925.5V383.1H902.2zM489.2 382.5H529.4V389.3H489.2zM907.9 382.5H931.1V389.3H907.9zM500.5 388.7H535.1V395.4H500.5zM924.9 388.7H931.1V395.4H924.9zM907.9 388.7H914.2V395.4H907.9zM743.8 388.7H755.7V395.4H743.8zM738.2 394.8H744.4V401.5H738.2zM506.2 394.8H546.4V401.5H506.2zM755.1 394.8H761.4V407.6H755.1zM517.5 400.9H597.3V407.6H517.5zM721.2 400.9H738.8V407.6H721.2zM715.5 407.0H733.1V413.7H715.5zM534.5 407.0H614.3V413.7H534.5zM783.4 407.0H795.3V413.7H783.4zM602.4 413.1H631.3V419.8H602.4zM789.1 413.1H795.3V419.8H789.1zM777.8 413.1H784.0V419.8H777.8zM760.8 413.1H767.0V419.8H760.8zM715.5 413.1H721.8V419.8H715.5zM608.0 419.2H636.9V425.9H608.0zM760.8 419.2H784.0V425.9H760.8zM766.4 425.3H778.4V432.1H766.4zM636.3 425.3H659.5V432.1H636.3zM930.5 400.9H936.8V438.2H930.5zM653.3 431.5H665.2V438.2H653.3zM658.9 437.6H665.2V444.3H658.9zM947.5 437.6H959.4V444.3H947.5zM709.9 437.6H716.1V450.4H709.9zM936.2 443.7H942.4V450.4H936.2zM947.5 443.7H965.1V450.4H947.5zM664.6 443.7H682.2V450.4H664.6zM789.1 443.7H795.3V456.5H789.1zM936.2 449.8H953.8V456.5H936.2zM670.3 449.8H693.5V456.5H670.3zM958.8 449.8H965.1V462.6H958.8zM715.5 449.8H721.8V462.6H715.5zM760.8 455.9H789.7V462.6H760.8zM675.9 455.9H699.2V462.6H675.9zM936.2 455.9H948.1V462.6H936.2zM721.2 462.0H727.4V468.8H721.2zM755.1 462.0H784.0V468.8H755.1zM941.8 462.0H948.1V468.8H941.8zM681.6 462.0H699.2V474.9H681.6zM732.5 468.2H767.0V474.9H732.5zM692.9 474.3H704.8V481.0H692.9zM698.6 480.4H704.8V493.2H698.6zM885.3 486.5H902.8V493.2H885.3zM902.2 492.6H908.5V499.3H902.2zM879.6 492.6H885.9V499.3H879.6zM868.3 498.7H880.2V505.5H868.3zM907.9 498.7H914.2V505.5H907.9zM704.2 498.7H710.5V505.5H704.2zM964.5 486.5H970.7V511.6H964.5zM913.6 504.9H919.8V511.6H913.6zM709.9 504.9H716.1V511.6H709.9zM857.0 504.9H874.5V511.6H857.0zM845.7 511.0H863.2V517.7H845.7zM958.8 511.0H965.1V517.7H958.8zM919.2 511.0H925.5V517.7H919.2zM715.5 511.0H721.8V517.7H715.5zM726.8 517.1H733.1V523.8H726.8zM924.9 517.1H965.1V523.8H924.9zM817.4 517.1H851.9V523.8H817.4zM800.4 523.2H840.6V529.9H800.4zM936.2 523.2H959.4V529.9H936.2zM743.8 529.3H750.1V536.0H743.8zM760.8 529.3H812.3V536.0H760.8z"/>
<path fill="#b4dc1e" d="M319.5 303.0H325.7V309.7H319.5zM336.4 309.1H365.3V315.9H336.4zM302.5 309.1H314.4V315.9H302.5zM364.7 315.3H382.3V322.0H364.7zM715.5 315.3H778.4V322.0H715.5zM291.2 315.3H297.4V322.0H291.2zM704.2 321.4H721.8V328.1H704.2zM777.8 321.4H795.3V328.1H777.8zM376.0 321.4H393.6V328.1H376.0zM285.5 321.4H291.8V334.2H285.5zM675.9 327.5H710.5V334.2H675.9zM789.1 327.5H806.7V334.2H789.1zM376.0 327.5H399.3V334.2H376.0zM381.7 333.6H399.3V340.3H381.7zM653.3 333.6H699.2V340.3H653.3zM800.4 333.6H823.6V340.3H800.4zM291.2 333.6H297.4V340.3H291.2zM291.2 339.7H303.1V346.4H291.2zM376.0 339.7H404.9V346.4H376.0zM806.1 339.7H840.6V346.4H806.1zM642.0 339.7H676.5V346.4H642.0zM534.5 345.8H659.5V352.6H534.5zM353.4 345.8H399.3V352.6H353.4zM817.4 345.8H857.6V352.6H817.4zM296.8 345.8H314.4V352.6H296.8zM523.2 352.0H648.2V358.7H523.2zM840.0 352.0H863.2V358.7H840.0zM308.1 352.0H382.3V358.7H308.1zM523.2 358.1H642.6V364.8H523.2zM851.3 358.1H874.5V364.8H851.3zM523.2 364.2H625.6V370.9H523.2zM862.6 364.2H885.9V370.9H862.6zM528.8 370.3H608.6V377.0H528.8zM873.9 370.3H897.2V377.0H873.9zM528.8 376.4H603.0V383.1H528.8zM896.6 376.4H902.8V383.1H896.6zM743.8 382.5H755.7V389.3H743.8zM528.8 382.5H597.3V389.3H528.8zM902.2 382.5H908.5V395.4H902.2zM913.6 388.7H925.5V395.4H913.6zM534.5 388.7H603.0V395.4H534.5zM755.1 388.7H761.4V395.4H755.1zM738.2 388.7H744.4V395.4H738.2zM545.8 394.8H614.3V401.5H545.8zM902.2 394.8H931.1V401.5H902.2zM721.2 394.8H738.8V401.5H721.2zM783.4 394.8H795.3V401.5H783.4zM596.7 400.9H631.3V407.6H596.7zM907.9 400.9H919.8V407.6H907.9zM777.8 400.9H795.3V407.6H777.8zM715.5 400.9H721.8V407.6H715.5zM760.8 400.9H767.0V413.7H760.8zM613.7 407.0H642.6V413.7H613.7zM772.1 407.0H784.0V413.7H772.1zM924.9 400.9H931.1V419.8H924.9zM766.4 413.1H778.4V419.8H766.4zM630.7 413.1H648.2V419.8H630.7zM636.3 419.2H659.5V425.9H636.3zM709.9 413.1H716.1V432.1H709.9zM658.9 425.3H670.9V432.1H658.9zM704.2 431.5H716.1V438.2H704.2zM664.6 431.5H676.5V438.2H664.6zM664.6 437.6H710.5V444.3H664.6zM794.7 407.0H801.0V450.4H794.7zM681.6 443.7H710.5V450.4H681.6zM692.9 449.8H716.1V456.5H692.9zM953.2 449.8H959.4V456.5H953.2zM930.5 437.6H936.8V462.6H930.5zM947.5 455.9H959.4V462.6H947.5zM698.6 455.9H716.1V462.6H698.6zM789.1 455.9H795.3V462.6H789.1zM930.5 462.0H942.4V468.8H930.5zM947.5 462.0H965.1V468.8H947.5zM783.4 462.0H795.3V468.8H783.4zM698.6 462.0H721.8V468.8H698.6zM698.6 468.2H733.1V474.9H698.6zM766.4 468.2H789.7V474.9H766.4zM936.2 468.2H953.8V474.9H936.2zM936.2 474.3H948.1V481.0H936.2zM743.8 474.3H784.0V481.0H743.8zM885.3 480.4H902.8V487.1H885.3zM902.2 486.5H908.5V493.2H902.2zM879.6 486.5H885.9V493.2H879.6zM704.2 474.3H710.5V499.3H704.2zM868.3 492.6H880.2V499.3H868.3zM907.9 492.6H914.2V499.3H907.9zM958.8 468.2H965.1V505.5H958.8zM913.6 498.7H919.8V505.5H913.6zM709.9 498.7H716.1V505.5H709.9zM857.0 498.7H868.9V505.5H857.0zM953.2 504.9H965.1V511.6H953.2zM823.0 504.9H857.6V511.6H823.0zM919.2 504.9H931.1V511.6H919.2zM924.9 511.0H959.4V517.7H924.9zM721.2 511.0H727.4V517.7H721.2zM806.1 511.0H846.3V517.7H806.1zM794.7 517.1H818.0V523.8H794.7zM732.5 517.1H738.8V523.8H732.5zM738.2 523.2H744.4V529.9H738.2zM772.1 523.2H801.0V529.9H772.1zM749.5 529.3H761.4V536.0H749.5z"/>
<path fill="#cde619" d="M313.8 309.1H337.0V315.9H313.8zM342.1 315.3H365.3V322.0H342.1zM296.8 315.3H308.8V322.0H296.8zM291.2 321.4H303.1V328.1H291.2zM353.4 321.4H376.6V328.1H353.4zM721.2 321.4H778.4V328.1H721.2zM359.1 327.5H376.6V334.2H359.1zM777.8 327.5H789.7V334.2H777.8zM709.9 327.5H750.1V334.2H709.9zM291.2 327.5H297.4V334.2H291.2zM789.1 333.6H801.0V340.3H789.1zM296.8 333.6H303.1V340.3H296.8zM698.6 333.6H716.1V340.3H698.6zM353.4 333.6H382.3V340.3H353.4zM675.9 339.7H710.5V346.4H675.9zM330.8 339.7H376.6V346.4H330.8zM302.5 339.7H314.4V346.4H302.5zM794.7 339.7H806.7V346.4H794.7zM313.8 345.8H354.0V352.6H313.8zM800.4 345.8H818.0V352.6H800.4zM658.9 345.8H699.2V352.6H658.9zM647.6 352.0H676.5V358.7H647.6zM806.1 352.0H840.6V358.7H806.1zM811.7 358.1H851.9V364.8H811.7zM642.0 358.1H665.2V364.8H642.0zM625.0 364.2H659.5V370.9H625.0zM845.7 364.2H863.2V370.9H845.7zM857.0 370.3H874.5V377.0H857.0zM608.0 370.3H653.9V377.0H608.0zM602.4 376.4H648.2V383.1H602.4zM873.9 376.4H897.2V383.1H873.9zM890.9 382.5H902.8V389.3H890.9zM596.7 382.5H642.6V389.3H596.7zM755.1 382.5H761.4V389.3H755.1zM789.1 382.5H801.0V389.3H789.1zM721.2 382.5H744.4V389.3H721.2zM715.5 388.7H738.8V395.4H715.5zM777.8 388.7H801.0V395.4H777.8zM602.4 388.7H642.6V395.4H602.4zM896.6 388.7H902.8V401.5H896.6zM760.8 388.7H767.0V401.5H760.8zM613.7 394.8H648.2V401.5H613.7zM772.1 394.8H784.0V401.5H772.1zM715.5 394.8H721.8V401.5H715.5zM794.7 394.8H801.0V407.6H794.7zM902.2 400.9H908.5V407.6H902.2zM630.7 400.9H653.9V407.6H630.7zM919.2 400.9H925.5V407.6H919.2zM766.4 400.9H778.4V407.6H766.4zM709.9 400.9H716.1V413.7H709.9zM642.0 407.0H659.5V413.7H642.0zM766.4 407.0H772.7V413.7H766.4zM902.2 407.0H925.5V419.8H902.2zM647.6 413.1H665.2V419.8H647.6zM704.2 413.1H710.5V425.9H704.2zM658.9 419.2H676.5V425.9H658.9zM907.9 419.2H931.1V432.1H907.9zM670.3 425.3H710.5V432.1H670.3zM919.2 431.5H931.1V438.2H919.2zM675.9 431.5H704.8V438.2H675.9zM924.9 437.6H931.1V462.6H924.9zM794.7 449.8H801.0V462.6H794.7zM890.9 468.2H902.8V474.9H890.9zM953.2 468.2H959.4V474.9H953.2zM789.1 468.2H795.3V474.9H789.1zM930.5 468.2H936.8V481.0H930.5zM783.4 474.3H795.3V481.0H783.4zM709.9 474.3H744.4V481.0H709.9zM947.5 474.3H959.4V481.0H947.5zM885.3 474.3H902.8V481.0H885.3zM879.6 480.4H885.9V487.1H879.6zM743.8 480.4H789.7V487.1H743.8zM902.2 480.4H908.5V487.1H902.2zM930.5 480.4H959.4V487.1H930.5zM709.9 480.4H721.8V487.1H709.9zM907.9 486.5H919.8V493.2H907.9zM936.2 486.5H959.4V493.2H936.2zM868.3 486.5H880.2V493.2H868.3zM709.9 486.5H716.1V499.3H709.9zM913.6 492.6H931.1V499.3H913.6zM851.3 492.6H868.9V499.3H851.3zM947.5 492.6H959.4V499.3H947.5zM806.1 498.7H857.6V505.5H806.1zM919.2 498.7H959.4V505.5H919.2zM715.5 504.9H727.4V511.6H715.5zM930.5 504.9H953.8V511.6H930.5zM794.7 504.9H823.6V511.6H794.7zM783.4 511.0H806.7V517.7H783.4zM726.8 511.0H738.8V517.7H726.8zM738.2 517.1H744.4V523.8H738.2zM777.8 517.1H795.3V523.8H777.8zM743.8 523.2H772.7V529.9H743.8z"/>
<path fill="#e6f50f" d="M308.1 315.3H342.7V322.0H308.1zM302.5 321.4H308.8V328.1H302.5zM336.4 321.4H354.0V328.1H336.4zM296.8 327.5H308.8V334.2H296.8zM336.4 327.5H359.7V334.2H336.4zM749.5 327.5H778.4V334.2H749.5zM325.1 333.6H354.0V340.3H325.1zM302.5 333.6H314.4V340.3H302.5zM777.8 333.6H789.7V340.3H777.8zM715.5 333.6H750.1V340.3H715.5zM313.8 339.7H331.4V346.4H313.8zM709.9 339.7H721.8V346.4H709.9zM789.1 339.7H795.3V346.4H789.1zM794.7 345.8H801.0V352.6H794.7zM698.6 345.8H716.1V352.6H698.6zM675.9 352.0H716.1V358.7H675.9zM794.7 352.0H806.7V358.7H794.7zM664.6 358.1H710.5V364.8H664.6zM794.7 358.1H812.3V364.8H794.7zM794.7 364.2H846.3V370.9H794.7zM658.9 364.2H682.2V370.9H658.9zM653.3 370.3H670.9V377.0H653.3zM789.1 370.3H812.3V377.0H789.1zM834.3 370.3H857.6V377.0H834.3zM783.4 376.4H806.7V383.1H783.4zM857.0 376.4H874.5V383.1H857.0zM715.5 376.4H755.7V383.1H715.5zM647.6 376.4H670.9V383.1H647.6zM760.8 382.5H767.0V389.3H760.8zM868.3 382.5H891.5V389.3H868.3zM777.8 382.5H789.7V389.3H777.8zM709.9 382.5H721.8V389.3H709.9zM642.0 382.5H665.2V395.4H642.0zM879.6 388.7H897.2V395.4H879.6zM766.4 388.7H778.4V395.4H766.4zM709.9 388.7H716.1V401.5H709.9zM766.4 394.8H772.7V401.5H766.4zM890.9 394.8H897.2V401.5H890.9zM647.6 394.8H670.9V401.5H647.6zM653.3 400.9H670.9V407.6H653.3zM704.2 400.9H710.5V413.7H704.2zM658.9 407.0H676.5V413.7H658.9zM896.6 400.9H902.8V419.8H896.6zM698.6 413.1H704.8V419.8H698.6zM664.6 413.1H682.2V419.8H664.6zM675.9 419.2H704.8V425.9H675.9zM896.6 419.2H908.5V432.1H896.6zM896.6 431.5H919.8V438.2H896.6zM800.4 382.5H806.7V444.3H800.4zM896.6 437.6H925.5V444.3H896.6zM890.9 443.7H925.5V456.5H890.9zM885.3 455.9H925.5V462.6H885.3zM794.7 462.0H801.0V468.8H794.7zM885.3 462.0H908.5V468.8H885.3zM919.2 462.0H931.1V474.9H919.2zM902.2 468.2H914.2V474.9H902.2zM879.6 468.2H891.5V474.9H879.6zM873.9 474.3H885.9V481.0H873.9zM902.2 474.3H931.1V481.0H902.2zM868.3 480.4H880.2V487.1H868.3zM789.1 480.4H795.3V487.1H789.1zM907.9 480.4H931.1V487.1H907.9zM721.2 480.4H744.4V487.1H721.2zM715.5 486.5H727.4V493.2H715.5zM743.8 486.5H801.0V493.2H743.8zM919.2 486.5H936.8V493.2H919.2zM823.0 486.5H868.9V493.2H823.0zM930.5 492.6H948.1V499.3H930.5zM755.1 492.6H851.9V499.3H755.1zM715.5 492.6H721.8V505.5H715.5zM772.1 498.7H806.7V505.5H772.1zM726.8 504.9H738.8V511.6H726.8zM772.1 504.9H795.3V511.6H772.1zM738.2 511.0H744.4V517.7H738.2zM772.1 511.0H784.0V517.7H772.1zM743.8 517.1H750.1V523.8H743.8zM760.8 517.1H778.4V523.8H760.8z"/>
<path fill="#ffff00" d="M308.1 321.4H337.0V334.2H308.1zM313.8 333.6H325.7V340.3H313.8zM749.5 333.6H778.4V340.3H749.5zM721.2 339.7H750.1V346.4H721.2zM777.8 339.7H789.7V346.4H777.8zM715.5 345.8H733.1V352.6H715.5zM715.5 352.0H727.4V358.7H715.5zM709.9 358.1H727.4V364.8H709.9zM789.1 345.8H795.3V370.9H789.1zM681.6 364.2H733.1V370.9H681.6zM811.7 370.3H834.9V377.0H811.7zM783.4 370.3H789.7V377.0H783.4zM670.3 370.3H750.1V377.0H670.3zM806.1 376.4H857.6V383.1H806.1zM704.2 376.4H716.1V383.1H704.2zM755.1 376.4H767.0V383.1H755.1zM777.8 376.4H784.0V383.1H777.8zM670.3 376.4H687.8V383.1H670.3zM857.0 382.5H868.9V389.3H857.0zM806.1 382.5H818.0V389.3H806.1zM766.4 382.5H778.4V389.3H766.4zM664.6 382.5H682.2V395.4H664.6zM868.3 388.7H880.2V395.4H868.3zM806.1 388.7H812.3V395.4H806.1zM704.2 382.5H710.5V401.5H704.2zM873.9 394.8H891.5V401.5H873.9zM670.3 394.8H682.2V401.5H670.3zM806.1 394.8H818.0V407.6H806.1zM698.6 400.9H704.8V407.6H698.6zM879.6 400.9H897.2V407.6H879.6zM670.3 400.9H687.8V407.6H670.3zM675.9 407.0H704.8V413.7H675.9zM885.3 407.0H897.2V419.8H885.3zM681.6 413.1H699.2V419.8H681.6zM806.1 407.0H823.6V425.9H806.1zM890.9 419.2H897.2V432.1H890.9zM806.1 425.3H818.0V432.1H806.1zM806.1 431.5H812.3V438.2H806.1zM885.3 431.5H897.2V444.3H885.3zM800.4 443.7H806.7V456.5H800.4zM879.6 443.7H891.5V456.5H879.6zM873.9 455.9H885.9V468.8H873.9zM907.9 462.0H919.8V468.8H907.9zM913.6 468.2H919.8V474.9H913.6zM873.9 468.2H880.2V474.9H873.9zM862.6 474.3H874.5V481.0H862.6zM794.7 468.2H801.0V487.1H794.7zM823.0 480.4H868.9V487.1H823.0zM726.8 486.5H744.4V493.2H726.8zM800.4 486.5H823.6V493.2H800.4zM721.2 492.6H755.7V499.3H721.2zM721.2 498.7H772.7V505.5H721.2zM755.1 504.9H772.7V511.6H755.1zM738.2 504.9H750.1V511.6H738.2zM743.8 511.0H772.7V517.7H743.8zM749.5 517.1H761.4V523.8H749.5z"/>
<path fill="#ffd200" d="M772.1 339.7H778.4V346.4H772.1zM749.5 339.7H761.4V346.4H749.5zM732.5 345.8H750.1V352.6H732.5zM777.8 345.8H789.7V352.6H777.8zM726.8 352.0H744.4V364.8H726.8zM783.4 352.0H789.7V364.8H783.4zM732.5 364.2H750.1V370.9H732.5zM777.8 364.2H789.7V370.9H777.8zM749.5 370.3H761.4V377.0H749.5zM772.1 370.3H784.0V377.0H772.1zM766.4 376.4H778.4V383.1H766.4zM687.2 376.4H704.8V383.1H687.2zM817.4 382.5H857.6V389.3H817.4zM811.7 388.7H868.9V395.4H811.7zM681.6 382.5H704.8V401.5H681.6zM862.6 394.8H874.5V401.5H862.6zM817.4 394.8H851.9V401.5H817.4zM817.4 400.9H840.6V407.6H817.4zM687.2 400.9H699.2V407.6H687.2zM873.9 400.9H880.2V407.6H873.9zM873.9 407.0H885.9V413.7H873.9zM823.0 407.0H840.6V413.7H823.0zM879.6 413.1H885.9V419.8H879.6zM823.0 413.1H834.9V425.9H823.0zM879.6 419.2H891.5V432.1H879.6zM817.4 425.3H834.9V432.1H817.4zM811.7 431.5H829.3V438.2H811.7zM879.6 431.5H885.9V438.2H879.6zM806.1 437.6H823.6V444.3H806.1zM873.9 437.6H885.9V444.3H873.9zM873.9 443.7H880.2V450.4H873.9zM806.1 443.7H812.3V450.4H806.1zM868.3 449.8H880.2V456.5H868.3zM800.4 455.9H806.7V468.8H800.4zM868.3 455.9H874.5V468.8H868.3zM862.6 468.2H874.5V474.9H862.6zM800.4 474.3H806.7V481.0H800.4zM851.3 474.3H863.2V481.0H851.3zM828.7 474.3H834.9V481.0H828.7zM800.4 480.4H823.6V487.1H800.4zM749.5 504.9H755.7V511.6H749.5z"/>
<path fill="#ffaa00" d="M760.8 339.7H772.7V346.4H760.8zM772.1 345.8H778.4V352.6H772.1zM749.5 345.8H761.4V352.6H749.5zM777.8 352.0H784.0V364.8H777.8zM743.8 352.0H755.7V364.8H743.8zM772.1 364.2H778.4V370.9H772.1zM749.5 364.2H761.4V370.9H749.5zM760.8 370.3H772.7V377.0H760.8zM851.3 394.8H863.2V401.5H851.3zM840.0 400.9H874.5V407.6H840.0zM840.0 407.0H851.9V413.7H840.0zM868.3 407.0H874.5V413.7H868.3zM834.3 413.1H846.3V419.8H834.3zM834.3 419.2H840.6V432.1H834.3zM873.9 413.1H880.2V438.2H873.9zM828.7 431.5H840.6V438.2H828.7zM823.0 437.6H834.9V444.3H823.0zM868.3 437.6H874.5V450.4H868.3zM811.7 443.7H829.3V450.4H811.7zM806.1 449.8H823.6V456.5H806.1zM862.6 449.8H868.9V462.6H862.6zM806.1 455.9H812.3V462.6H806.1zM857.0 462.0H868.9V468.8H857.0zM800.4 468.2H806.7V474.9H800.4zM851.3 468.2H863.2V474.9H851.3zM806.1 474.3H829.3V481.0H806.1zM834.3 474.3H851.9V481.0H834.3z"/>
<path fill="#ff8200" d="M760.8 345.8H772.7V352.6H760.8zM755.1 352.0H778.4V364.8H755.1zM760.8 364.2H772.7V370.9H760.8zM851.3 407.0H868.9V413.7H851.3zM845.7 413.1H857.6V419.8H845.7zM840.0 419.2H851.9V425.9H840.0zM840.0 425.3H846.3V432.1H840.0zM868.3 413.1H874.5V438.2H868.3zM840.0 431.5H851.9V438.2H840.0zM834.3 437.6H868.9V444.3H834.3zM828.7 443.7H868.9V450.4H828.7zM823.0 449.8H840.6V456.5H823.0zM851.3 449.8H863.2V462.6H851.3zM811.7 455.9H834.9V462.6H811.7zM806.1 462.0H840.6V468.8H806.1zM845.7 462.0H857.6V468.8H845.7zM806.1 468.2H851.9V474.9H806.1z"/>
<path fill="#ff5a00" d="M857.0 413.1H868.9V419.8H857.0zM851.3 419.2H868.9V425.9H851.3zM845.7 425.3H868.9V432.1H845.7zM851.3 431.5H868.9V438.2H851.3zM840.0 449.8H851.9V456.5H840.0zM834.3 455.9H851.9V462.6H834.3zM840.0 462.0H846.3V468.8H840.0z"/></g></g>

<rect x="167.0" y="101.5" width="1131.6" height="611.6" fill="url(#gridpat)" clip-path="url(#cpf)"/>
<use href="#lm" fill="#000"/><use href="#lm" fill="url(#linepat)"/>

<use href="#bc"/>
<text class="cl" transform="translate(254 484) rotate(-52)" text-anchor="middle" dy="7.5">1000</text>
<text class="cl" transform="translate(217 587) rotate(-75)" text-anchor="middle" dy="7.5">1000</text>
<text class="cl" transform="translate(246 579) rotate(-80)" text-anchor="middle" dy="7.5">2000</text>
<text class="cl" transform="translate(564 606) rotate(-33)" text-anchor="middle" dy="7.5">1000</text>
<text class="cl" transform="translate(622 592) rotate(-33)" text-anchor="middle" dy="7.5">200</text>
<text class="cl" transform="translate(970 537) rotate(52)" text-anchor="middle" dy="7.5">2000</text>
<text class="cl" transform="translate(892 640) rotate(-42)" text-anchor="middle" dy="7.5">2000</text>
<text class="cl" transform="translate(1205 597) rotate(35)" text-anchor="middle" dy="7.5">200</text>
<text class="cl" transform="translate(625 334) rotate(-22)" text-anchor="middle" dy="7.5">2000</text>
<text class="cl" transform="translate(838 295) rotate(32)" text-anchor="middle" dy="7.5">2000</text>
<text class="cl" transform="translate(895 350) rotate(62)" text-anchor="middle" dy="7.5">1000</text>
<text class="cl" transform="translate(830 585) rotate(68)" text-anchor="middle" dy="7.5">1000</text>
<text class="cl" transform="translate(800 560) rotate(68)" text-anchor="middle" dy="7.5">1000</text>

</g>
<path d="M143.0 1457.6H1322.6M143.0 2068.3H1299.6M167.0 1457.6V2068.3M1298.6 1457.6V2070.8" stroke="#000" stroke-width="5.0" fill="none"/>
<path d="M167.0 1433.6V1457.6M167.0 2068.3V2092.3M280.2 1433.6V1457.6M280.2 2068.3V2092.3M393.3 1433.6V1457.6M393.3 2068.3V2092.3M506.5 1433.6V1457.6M506.5 2068.3V2092.3M619.6 1433.6V1457.6M619.6 2068.3V2092.3M732.8 1433.6V1457.6M732.8 2068.3V2092.3M846.0 1433.6V1457.6M846.0 2068.3V2092.3M959.1 1433.6V1457.6M959.1 2068.3V2092.3M1072.3 1433.6V1457.6M1072.3 2068.3V2092.3M1185.4 1433.6V1457.6M1185.4 2068.3V2092.3M143.0 1457.6H167.0M1298.6 1457.6H1322.6M143.0 1518.7H167.0M1298.6 1518.7H1322.6M143.0 1579.7H167.0M1298.6 1579.7H1322.6M143.0 1640.8H167.0M1298.6 1640.8H1322.6M143.0 1701.9H167.0M1298.6 1701.9H1322.6M143.0 1763.0H167.0M1298.6 1763.0H1322.6M143.0 1824.0H167.0M1298.6 1824.0H1322.6M143.0 1885.1H167.0M1298.6 1885.1H1322.6M143.0 1946.2H167.0M1298.6 1946.2H1322.6M143.0 2007.2H167.0M1298.6 2007.2H1322.6M143.0 2068.3H167.0M1298.6 2068.3H1322.6" stroke="#000" stroke-width="5.0" fill="none"/>
<text x="12.5" y="1469.7" class="ax" textLength="107.5" lengthAdjust="spacingAndGlyphs">31°N</text>
<text x="12.5" y="1593.5" class="ax" textLength="107.5" lengthAdjust="spacingAndGlyphs">29°N</text>
<text x="12.5" y="1715.9" class="ax" textLength="107.5" lengthAdjust="spacingAndGlyphs">27°N</text>
<text x="12.5" y="1837.7" class="ax" textLength="107.5" lengthAdjust="spacingAndGlyphs">25°N</text>
<text x="12.5" y="1960.1" class="ax" textLength="107.5" lengthAdjust="spacingAndGlyphs">23°N</text>
<text x="12.5" y="2082.2" class="ax" textLength="107.5" lengthAdjust="spacingAndGlyphs">21°N</text>
<rect x="167.0" y="2023.8" width="43.5" height="44.5" fill="#fff" stroke="#000" stroke-width="3"/>
<text x="189.0" y="2066.3" class="pl" text-anchor="middle" font-style="italic">f</text>
<text x="163.0" y="51.5" class="ax" textLength="112.5" lengthAdjust="spacingAndGlyphs">98°W</text>
<text x="389.3" y="51.5" class="ax" textLength="112.5" lengthAdjust="spacingAndGlyphs">94°W</text>
<text x="615.6" y="51.5" class="ax" textLength="112.5" lengthAdjust="spacingAndGlyphs">90°W</text>
<text x="842.0" y="51.5" class="ax" textLength="112.5" lengthAdjust="spacingAndGlyphs">86°W</text>
<text x="1068.3" y="51.5" class="ax" textLength="112.5" lengthAdjust="spacingAndGlyphs">82°W</text>
<text x="163.0" y="2158" class="ax" textLength="112.5" lengthAdjust="spacingAndGlyphs">98°W</text>
<text x="389.3" y="2158" class="ax" textLength="112.5" lengthAdjust="spacingAndGlyphs">94°W</text>
<text x="615.6" y="2158" class="ax" textLength="112.5" lengthAdjust="spacingAndGlyphs">90°W</text>
<text x="842.0" y="2158" class="ax" textLength="112.5" lengthAdjust="spacingAndGlyphs">86°W</text>
<text x="1068.3" y="2158" class="ax" textLength="112.5" lengthAdjust="spacingAndGlyphs">82°W</text>
<rect x="1348.7" y="2007.3" width="55.8" height="70.4" fill="#c800ff" stroke="#111" stroke-width="1.2"/>
<rect x="1348.7" y="1937.0" width="55.8" height="70.4" fill="#9614ff" stroke="#111" stroke-width="1.2"/>
<rect x="1348.7" y="1866.6" width="55.8" height="70.4" fill="#6e28fa" stroke="#111" stroke-width="1.2"/>
<rect x="1348.7" y="1796.2" width="55.8" height="70.4" fill="#463cf0" stroke="#111" stroke-width="1.2"/>
<rect x="1348.7" y="1725.8" width="55.8" height="70.4" fill="#3c4bd2" stroke="#111" stroke-width="1.2"/>
<rect x="1348.7" y="1655.5" width="55.8" height="70.4" fill="#325ab4" stroke="#111" stroke-width="1.2"/>
<rect x="1348.7" y="1585.1" width="55.8" height="70.4" fill="#286e9b" stroke="#111" stroke-width="1.2"/>
<rect x="1348.7" y="1514.7" width="55.8" height="70.4" fill="#1e7d82" stroke="#111" stroke-width="1.2"/>
<rect x="1348.7" y="1444.4" width="55.8" height="70.4" fill="#0f8c64" stroke="#111" stroke-width="1.2"/>
<rect x="1348.7" y="1374.0" width="55.8" height="70.4" fill="#149650" stroke="#111" stroke-width="1.2"/>
<rect x="1348.7" y="1303.6" width="55.8" height="70.4" fill="#28a546" stroke="#111" stroke-width="1.2"/>
<rect x="1348.7" y="1233.2" width="55.8" height="70.4" fill="#46b43c" stroke="#111" stroke-width="1.2"/>
<rect x="1348.7" y="1162.9" width="55.8" height="70.4" fill="#64be32" stroke="#111" stroke-width="1.2"/>
<rect x="1348.7" y="1092.5" width="55.8" height="70.4" fill="#82c828" stroke="#111" stroke-width="1.2"/>
<rect x="1348.7" y="1022.1" width="55.8" height="70.4" fill="#9bd223" stroke="#111" stroke-width="1.2"/>
<rect x="1348.7" y="951.8" width="55.8" height="70.4" fill="#b4dc1e" stroke="#111" stroke-width="1.2"/>
<rect x="1348.7" y="881.4" width="55.8" height="70.4" fill="#cde619" stroke="#111" stroke-width="1.2"/>
<rect x="1348.7" y="811.0" width="55.8" height="70.4" fill="#e6f50f" stroke="#111" stroke-width="1.2"/>
<rect x="1348.7" y="740.6" width="55.8" height="70.4" fill="#ffff00" stroke="#111" stroke-width="1.2"/>
<rect x="1348.7" y="670.3" width="55.8" height="70.4" fill="#ffd200" stroke="#111" stroke-width="1.2"/>
<rect x="1348.7" y="599.9" width="55.8" height="70.4" fill="#ffaa00" stroke="#111" stroke-width="1.2"/>
<rect x="1348.7" y="529.5" width="55.8" height="70.4" fill="#ff8200" stroke="#111" stroke-width="1.2"/>
<rect x="1348.7" y="459.2" width="55.8" height="70.4" fill="#ff5a00" stroke="#111" stroke-width="1.2"/>
<rect x="1348.7" y="388.8" width="55.8" height="70.4" fill="#ff3700" stroke="#111" stroke-width="1.2"/>
<rect x="1348.7" y="318.4" width="55.8" height="70.4" fill="#ff0f00" stroke="#111" stroke-width="1.2"/>
<rect x="1348.7" y="248.0" width="55.8" height="70.4" fill="#e60000" stroke="#111" stroke-width="1.2"/>
<rect x="1348.7" y="177.7" width="55.8" height="70.4" fill="#be0a0a" stroke="#111" stroke-width="1.2"/>
<rect x="1348.7" y="107.3" width="55.8" height="70.4" fill="#9b0000" stroke="#111" stroke-width="1.2"/>
<text x="1415" y="2095.3" class="cb" textLength="165">0.0001</text>
<text x="1415" y="2024.9" class="cb" textLength="165">0.0002</text>
<text x="1415" y="1954.6" class="cb" textLength="165">0.0003</text>
<text x="1415" y="1884.2" class="cb" textLength="165">0.0004</text>
<text x="1415" y="1813.8" class="cb" textLength="165">0.0005</text>
<text x="1415" y="1743.4" class="cb" textLength="165">0.0006</text>
<text x="1415" y="1673.1" class="cb" textLength="165">0.0007</text>
<text x="1415" y="1602.7" class="cb" textLength="165">0.0008</text>
<text x="1415" y="1532.3" class="cb" textLength="165">0.0009</text>
<text x="1415" y="1462.0" class="cb" textLength="133">0.001</text>
<text x="1415" y="1391.6" class="cb" textLength="165">0.0011</text>
<text x="1415" y="1321.2" class="cb" textLength="165">0.0012</text>
<text x="1415" y="1250.8" class="cb" textLength="165">0.0013</text>
<text x="1415" y="1180.5" class="cb" textLength="165">0.0014</text>
<text x="1415" y="1110.1" class="cb" textLength="165">0.0015</text>
<text x="1415" y="1039.7" class="cb" textLength="165">0.0016</text>
<text x="1415" y="969.4" class="cb" textLength="165">0.0017</text>
<text x="1415" y="899.0" class="cb" textLength="165">0.0018</text>
<text x="1415" y="828.6" class="cb" textLength="165">0.0019</text>
<text x="1415" y="758.2" class="cb" textLength="133">0.002</text>
<text x="1415" y="687.9" class="cb" textLength="165">0.0021</text>
<text x="1415" y="617.5" class="cb" textLength="165">0.0022</text>
<text x="1415" y="547.1" class="cb" textLength="165">0.0023</text>
<text x="1415" y="476.8" class="cb" textLength="165">0.0024</text>
<text x="1415" y="406.4" class="cb" textLength="165">0.0025</text>
<text x="1415" y="336.0" class="cb" textLength="165">0.0026</text>
<text x="1415" y="265.6" class="cb" textLength="165">0.0027</text>
<text x="1415" y="195.3" class="cb" textLength="165">0.0028</text>
<text x="1415" y="124.9" class="cb" textLength="165">0.0029</text>
</svg>
</body></html>
